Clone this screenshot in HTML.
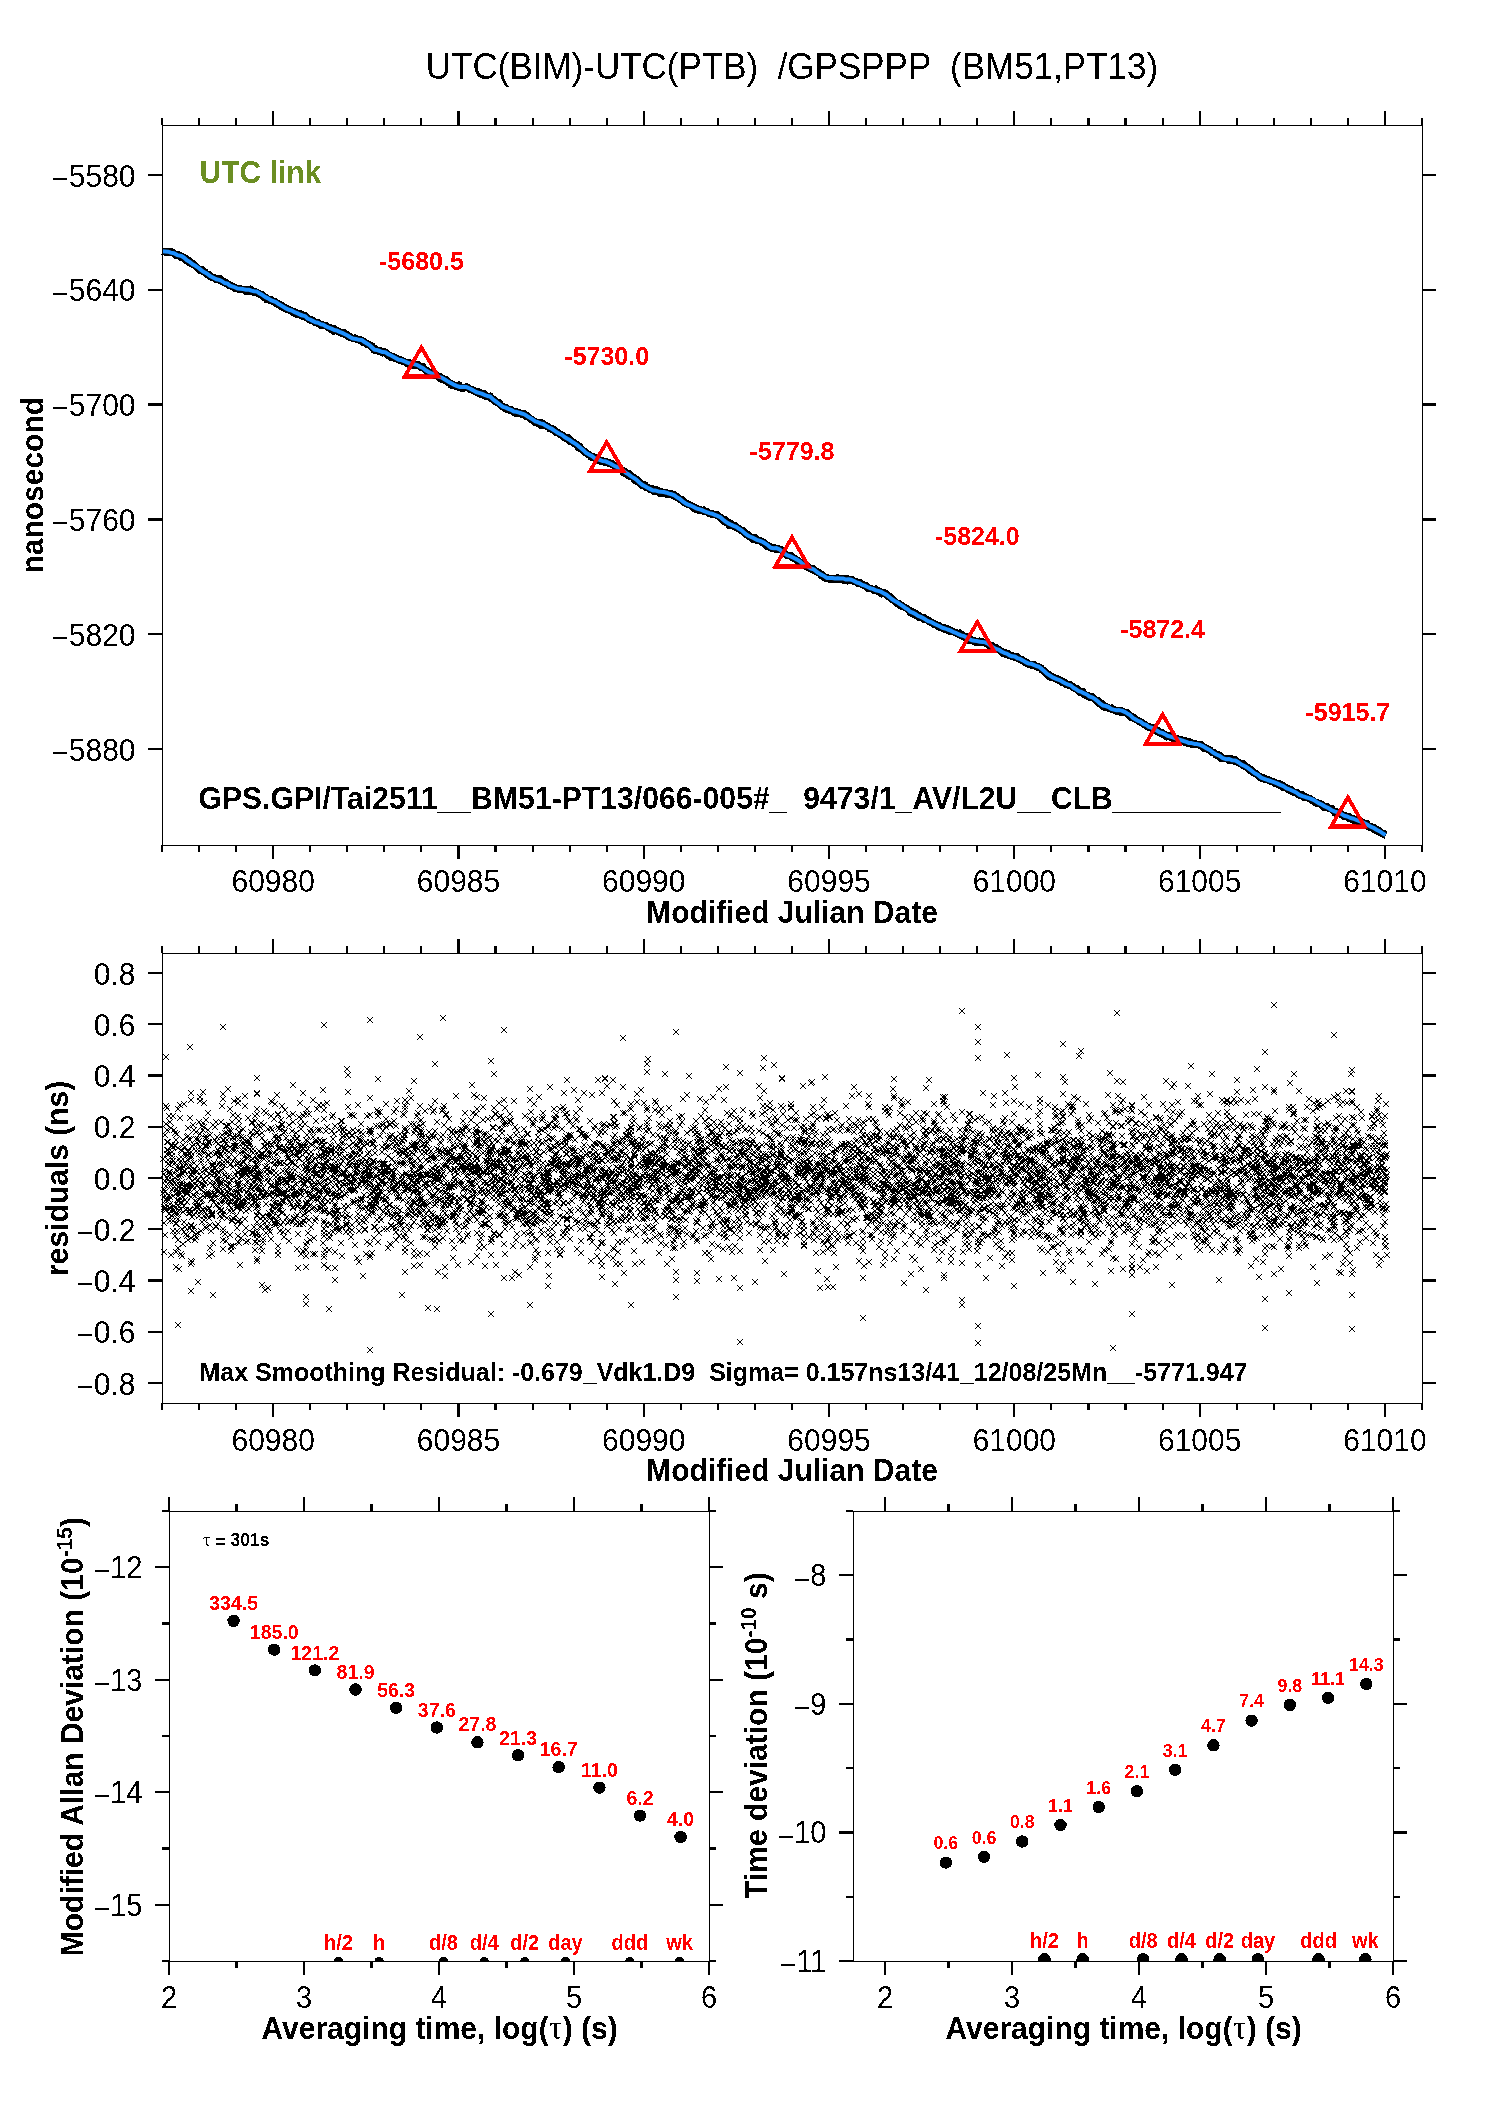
<!DOCTYPE html>
<html><head><meta charset="utf-8"><title>UTC(BIM)-UTC(PTB) GPSPPP</title>
<style>
html,body{margin:0;padding:0;background:#fff;overflow:hidden;}
svg{display:block;font-family:'Liberation Sans', Arial, Helvetica, sans-serif;}
</style></head><body>
<svg width="1488" height="2105" viewBox="0 0 1488 2105">
<defs><filter id="bin" x="0" y="0" width="1488" height="2105" filterUnits="userSpaceOnUse" color-interpolation-filters="sRGB"><feComponentTransfer><feFuncA type="discrete" tableValues="0 1"/></feComponentTransfer></filter></defs>
<rect width="1488" height="2105" fill="#fff"/>
<g filter="url(#bin)">
<text transform="translate(792.00,78.50) scale(1,1.075)" font-size="35" text-anchor="middle" style="white-space:pre">UTC(BIM)-UTC(PTB)  /GPSPPP  (BM51,PT13)</text>
<path d="M162.3 251.3 163.4 251.6 164.4 251.6 165.5 251.6 166.6 252.2 167.6 251.4 168.7 251.8 169.7 252.3 170.8 251.6 171.9 252.6 172.9 252.2 174.0 253.4 175.1 254.5 176.1 255.0 177.2 255.1 178.3 255.2 179.3 254.8 180.4 256.9 181.5 256.4 182.5 257.4 183.5 257.1 184.4 258.2 185.4 258.0 186.4 260.2 187.4 261.0 188.4 260.2 189.4 262.0 190.3 263.1 191.3 262.5 192.3 263.2 193.3 264.3 194.2 265.1 195.2 265.3 196.2 266.8 197.2 267.5 198.1 268.4 199.1 269.0 200.1 270.1 201.1 270.6 202.0 269.8 203.0 270.9 203.9 271.3 204.9 272.0 205.8 273.2 206.8 273.9 207.7 274.8 208.6 274.4 209.6 275.2 210.5 276.6 211.5 276.8 212.4 277.1 213.4 277.6 214.3 277.6 215.3 278.8 216.2 278.9 217.2 279.0 218.1 279.1 219.1 279.7 220.1 278.8 221.1 280.2 222.0 281.3 223.0 280.9 224.0 282.4 225.0 282.8 226.0 282.5 227.0 283.6 227.9 284.0 228.9 285.0 229.9 285.5 230.8 285.6 231.8 285.7 232.7 286.5 233.7 287.0 234.6 287.9 235.5 288.1 236.5 288.0 237.4 288.2 238.4 288.8 239.3 288.6 240.3 288.5 241.2 289.1 242.2 289.0 243.1 289.4 244.1 289.7 245.0 289.2 246.0 290.8 247.0 289.5 248.0 290.5 248.9 290.1 249.9 290.9 250.9 289.1 251.9 290.2 252.9 291.0 253.9 291.4 254.8 292.5 255.8 291.6 256.8 292.3 257.8 292.7 258.7 293.4 259.7 293.8 260.6 294.1 261.6 295.2 262.5 294.9 263.5 296.8 264.4 296.3 265.4 297.6 266.4 299.1 267.3 298.3 268.3 298.8 269.3 299.9 270.3 299.7 271.2 299.7 272.2 300.8 273.2 301.4 274.2 301.9 275.1 301.5 276.1 303.4 277.1 303.9 278.0 303.6 278.9 304.3 279.9 304.6 280.9 306.2 281.8 305.6 282.8 307.0 283.7 306.9 284.7 307.3 285.6 308.5 286.6 309.2 287.6 308.9 288.6 309.0 289.5 310.3 290.5 310.2 291.5 310.9 292.5 312.0 293.4 312.2 294.4 311.7 295.4 313.6 296.4 312.8 297.3 313.6 298.3 313.2 299.3 313.9 300.3 313.4 301.3 315.7 302.3 315.9 303.2 314.8 304.2 315.1 305.2 315.4 306.2 317.7 307.1 317.5 308.1 318.4 309.0 319.0 310.0 319.8 311.0 319.7 312.0 320.7 312.9 320.3 313.9 321.4 314.9 322.0 315.9 322.5 316.9 322.5 317.9 322.5 318.8 323.5 319.8 323.5 320.8 325.1 321.8 325.0 322.7 324.9 323.7 325.1 324.7 325.4 325.7 325.6 326.6 326.4 327.6 327.1 328.6 327.6 329.6 328.0 330.5 329.3 331.5 328.1 332.5 328.9 333.5 330.8 334.4 328.6 335.4 329.8 336.4 330.5 337.4 330.9 338.4 331.5 339.4 331.5 340.3 332.2 341.3 332.4 342.3 333.2 343.3 332.2 344.2 333.3 345.2 334.3 346.2 334.2 347.2 334.7 348.1 336.1 349.1 335.9 350.1 337.1 351.1 337.6 352.0 337.9 353.0 338.5 354.0 338.4 354.9 337.9 355.9 338.9 356.8 339.4 357.8 339.1 358.7 339.5 359.7 340.2 360.6 339.6 361.6 340.7 362.6 341.9 363.5 341.1 364.5 342.0 365.4 342.4 366.4 343.9 367.3 343.7 368.3 344.6 369.2 344.3 370.2 345.2 371.3 346.3 372.4 346.4 373.4 349.2 374.5 350.0 375.5 348.8 376.5 350.5 377.4 350.3 378.4 350.9 379.4 351.2 380.4 350.4 381.4 351.4 382.4 352.6 383.3 351.8 384.3 351.8 385.3 352.0 386.3 352.6 387.2 354.0 388.2 355.2 389.2 355.1 390.2 355.5 391.1 357.1 392.1 356.2 393.1 356.6 394.1 357.8 395.0 358.4 396.0 358.0 397.0 358.3 398.0 359.5 398.9 359.8 399.9 359.3 400.9 360.2 401.9 360.4 402.9 361.3 403.9 361.3 404.8 361.7 405.8 361.9 406.8 363.0 407.8 363.4 408.7 362.7 409.7 363.6 410.7 363.0 411.7 363.7 412.6 364.3 413.6 365.0 414.6 364.2 415.6 364.6 416.5 365.0 417.5 364.3 418.6 365.6 419.7 365.8 420.7 366.9 421.8 366.6 422.9 366.6 424.0 368.6 425.1 369.6 426.1 370.0 427.2 371.6 428.3 371.8 429.3 372.1 430.2 373.0 431.2 372.3 432.2 373.2 433.2 373.9 434.1 374.8 435.1 374.6 436.1 375.3 437.1 375.2 438.0 376.1 439.0 377.2 440.0 376.5 441.0 378.8 441.9 377.7 442.9 378.7 443.9 379.3 444.9 380.4 445.9 379.8 446.9 379.9 447.8 382.0 448.8 382.6 449.8 383.1 450.8 384.7 451.8 383.8 452.9 384.3 453.9 385.1 454.9 385.2 455.9 386.4 456.9 385.2 458.0 386.1 459.0 384.9 460.0 387.6 461.1 387.0 462.2 387.7 463.2 388.4 464.3 387.2 465.4 387.1 466.5 386.9 467.5 387.2 468.4 387.7 469.4 388.8 470.3 388.9 471.3 389.4 472.3 389.7 473.2 390.7 474.2 390.9 475.1 391.0 476.1 391.9 477.1 391.8 478.1 391.6 479.1 393.5 480.1 393.3 481.1 392.9 482.1 394.4 483.1 394.4 484.1 393.7 485.1 395.9 486.1 395.5 487.1 396.2 488.1 396.2 489.1 396.4 490.1 396.0 491.1 398.2 492.1 398.4 493.1 399.0 494.1 400.1 495.1 400.7 496.1 401.7 497.0 401.9 498.0 402.8 499.0 402.4 500.0 404.1 501.0 405.5 502.0 406.6 503.0 406.4 504.0 407.0 505.0 408.3 505.9 407.7 506.9 408.7 507.9 409.7 508.9 409.2 509.9 410.3 510.9 409.7 511.8 410.6 512.8 410.9 513.8 411.5 514.8 412.3 515.7 413.3 516.7 411.9 517.7 412.2 518.7 413.1 519.6 412.6 520.6 413.7 521.6 414.0 522.6 413.9 523.5 414.6 524.5 413.7 525.5 415.7 526.5 415.0 527.4 416.1 528.4 416.8 529.4 417.6 530.4 418.9 531.4 419.1 532.4 419.5 533.3 420.6 534.3 421.8 535.3 421.6 536.3 422.1 537.2 423.0 538.2 422.8 539.2 422.3 540.2 424.7 541.1 424.9 542.1 422.9 543.1 424.3 544.1 424.9 545.0 425.6 546.0 425.8 547.0 425.9 548.0 426.1 548.9 427.4 549.9 428.5 550.9 428.0 551.9 428.7 552.9 429.8 553.9 429.4 554.8 431.0 555.8 431.5 556.8 432.6 557.8 432.6 558.7 433.0 559.7 433.8 560.7 434.5 561.7 434.7 562.6 435.6 563.6 436.6 564.6 437.3 565.6 438.2 566.5 437.3 567.5 438.1 568.5 437.7 569.5 440.8 570.4 440.1 571.4 441.2 572.4 442.2 573.4 441.9 574.4 443.6 575.4 444.1 576.3 443.8 577.3 445.7 578.3 447.0 579.3 446.1 580.2 448.3 581.2 448.8 582.2 449.7 583.2 450.5 584.1 451.7 585.1 451.6 586.1 453.0 587.1 453.1 588.0 454.5 589.0 454.5 590.0 455.3 591.0 456.8 591.9 456.6 592.9 456.8 593.9 456.7 594.9 457.4 595.9 458.4 596.9 459.3 597.8 459.6 598.8 460.1 599.8 460.3 600.8 461.3 601.9 460.6 602.9 460.8 604.0 461.9 605.0 461.7 606.1 461.8 607.1 461.9 608.2 462.3 609.2 463.1 610.3 463.2 611.3 463.0 612.4 464.5 613.4 465.0 614.5 465.0 615.5 466.6 616.6 466.7 617.6 467.3 618.7 468.6 619.8 469.5 620.8 469.0 621.8 470.3 622.7 470.2 623.7 472.6 624.7 471.6 625.7 473.2 626.6 472.8 627.6 474.2 628.6 475.6 629.6 473.6 630.5 475.4 631.5 476.6 632.5 477.0 633.5 477.4 634.4 479.7 635.4 479.3 636.4 479.1 637.4 481.2 638.4 480.5 639.4 482.8 640.3 482.6 641.3 483.7 642.3 485.1 643.3 485.0 644.2 484.7 645.2 485.1 646.2 487.2 647.2 487.5 648.1 487.2 649.1 488.6 650.1 489.0 651.1 489.6 652.0 488.5 653.0 490.1 654.0 491.0 655.0 491.1 655.9 491.4 656.9 489.7 657.9 491.4 658.9 491.8 659.9 493.1 660.9 491.4 661.8 491.9 662.8 492.3 663.8 493.0 664.8 492.5 665.7 493.6 666.7 492.8 667.7 493.6 668.7 493.4 669.6 494.1 670.6 493.8 671.6 493.6 672.6 495.3 673.5 495.1 674.5 494.9 675.5 496.0 676.5 497.1 677.4 496.7 678.4 497.9 679.4 498.9 680.4 499.6 681.4 499.8 682.4 499.5 683.3 502.0 684.3 502.2 685.3 502.7 686.3 503.1 687.2 503.9 688.2 504.1 689.2 504.3 690.2 505.0 691.1 505.6 692.1 506.1 693.1 506.4 694.1 507.9 695.0 507.3 696.0 509.0 697.0 508.3 698.0 509.4 698.9 510.2 699.9 509.9 700.9 509.7 701.9 510.4 702.9 510.7 703.9 510.0 704.8 510.9 705.8 511.6 706.8 511.5 707.8 512.2 708.7 512.9 709.7 513.3 710.7 513.7 711.7 513.9 712.6 513.7 713.6 514.2 714.6 514.4 715.6 514.7 716.5 515.2 717.5 514.7 718.5 516.1 719.5 517.0 720.4 517.1 721.4 518.3 722.4 519.3 723.4 519.6 724.4 521.5 725.4 519.6 726.3 521.6 727.3 521.4 728.3 523.6 729.3 525.1 730.2 522.7 731.2 524.6 732.2 525.3 733.2 525.4 734.1 526.3 735.1 525.3 736.1 527.5 737.1 527.7 738.0 528.0 739.0 528.2 740.0 529.6 741.0 529.7 741.9 530.8 742.9 531.2 743.9 530.9 744.9 532.9 745.9 533.8 746.9 534.8 747.8 534.6 748.8 535.8 749.8 536.9 750.8 537.1 751.9 538.1 752.9 538.9 754.0 537.7 755.0 537.6 756.0 539.5 757.1 540.3 758.1 540.4 759.2 540.7 760.2 540.4 761.2 540.9 762.1 542.4 763.1 542.0 764.1 542.1 765.0 543.2 766.0 545.7 766.9 546.0 767.9 545.2 768.9 545.8 769.8 546.9 770.8 547.0 771.8 548.3 772.7 547.7 773.7 547.3 774.6 548.8 775.6 548.0 776.5 548.6 777.5 548.6 778.4 548.6 779.4 549.2 780.3 549.4 781.3 549.5 782.2 550.0 783.1 551.3 784.1 552.3 785.0 553.4 786.0 554.2 786.9 555.2 787.8 555.4 788.8 555.3 789.7 555.7 790.6 555.4 791.6 556.9 792.5 557.6 793.5 558.1 794.4 558.1 795.4 558.7 796.4 560.0 797.3 560.1 798.3 561.2 799.3 561.7 800.3 562.1 801.3 563.4 802.3 563.0 803.2 563.7 804.2 564.1 805.2 564.8 806.2 566.5 807.1 567.1 808.1 566.6 809.0 567.4 810.0 568.2 810.9 568.5 811.9 569.2 812.8 568.3 813.8 569.1 814.8 570.4 815.8 571.6 816.8 571.5 817.8 571.7 818.8 572.6 819.8 573.1 820.7 573.7 821.7 575.6 822.7 575.1 823.7 576.1 824.7 578.0 825.7 578.1 826.7 578.3 827.7 577.8 828.7 578.4 829.7 579.1 830.7 578.6 831.7 579.0 832.7 578.4 833.7 578.6 834.6 578.3 835.6 578.7 836.6 579.2 837.6 577.7 838.6 578.5 839.6 578.7 840.6 578.3 841.6 578.5 842.6 579.2 843.5 580.0 844.5 579.3 845.5 579.3 846.5 578.3 847.5 580.4 848.5 579.4 849.4 579.5 850.4 579.0 851.4 579.7 852.4 579.5 853.4 580.6 854.3 581.3 855.3 581.5 856.3 582.0 857.3 581.8 858.3 583.5 859.3 582.8 860.2 582.6 861.2 584.0 862.2 584.1 863.2 584.4 864.1 585.2 865.1 586.0 866.1 585.6 867.1 586.7 868.0 588.0 869.0 588.0 870.0 588.0 871.0 588.6 871.9 588.9 872.9 589.4 873.9 590.1 874.9 590.0 875.8 589.1 876.8 590.7 877.8 590.6 878.8 591.8 879.8 591.4 880.8 592.2 881.7 593.6 882.7 592.2 883.7 592.5 884.7 593.0 885.6 593.1 886.6 594.1 887.6 596.0 888.6 596.2 889.5 596.2 890.5 597.1 891.5 598.9 892.5 598.8 893.4 599.7 894.4 600.8 895.4 602.0 896.4 602.9 897.3 603.1 898.3 603.2 899.3 603.9 900.3 605.4 901.3 605.8 902.3 605.5 903.2 606.6 904.2 607.1 905.2 607.6 906.2 608.1 907.1 608.4 908.1 609.6 909.0 609.9 910.0 612.2 911.0 612.3 912.0 611.8 912.9 613.7 913.9 614.0 914.9 612.9 915.9 615.5 916.9 615.4 917.9 616.6 918.8 615.2 919.8 616.7 920.8 617.1 921.8 617.5 922.7 618.0 923.7 619.0 924.7 618.0 925.7 618.7 926.6 619.1 927.6 620.0 928.6 620.5 929.6 621.5 930.5 622.0 931.5 622.3 932.5 622.4 933.5 623.0 934.4 624.3 935.4 624.6 936.4 624.8 937.4 625.0 938.4 626.5 939.4 625.8 940.3 627.0 941.3 627.8 942.3 627.5 943.3 628.4 944.2 627.7 945.2 629.2 946.2 629.1 947.2 628.5 948.1 630.0 949.1 629.5 950.1 631.1 951.1 630.3 952.0 631.0 953.0 631.6 954.0 631.7 955.0 632.4 955.9 632.4 956.9 633.5 957.9 633.6 958.9 634.1 959.9 632.9 960.9 635.5 961.8 635.3 962.8 634.8 963.8 636.3 964.8 636.9 965.7 637.7 966.7 636.9 967.7 638.8 968.7 638.3 969.6 640.2 970.6 639.2 971.6 640.1 972.6 640.0 973.5 640.0 974.5 641.7 975.5 641.7 976.5 642.2 977.4 642.0 978.4 641.4 979.4 640.9 980.4 641.6 981.4 641.7 982.4 641.8 983.3 642.7 984.3 642.7 985.3 642.6 986.3 643.3 987.2 643.7 988.2 644.4 989.2 645.3 990.2 645.9 991.1 645.5 992.1 645.6 993.1 647.8 994.1 647.6 995.0 648.7 996.0 647.7 997.0 648.9 998.0 649.6 998.9 649.3 999.9 650.3 1000.9 651.5 1001.9 652.1 1002.9 652.9 1003.9 652.1 1004.8 652.2 1005.8 653.8 1006.8 654.5 1007.8 654.4 1008.7 654.0 1009.7 655.4 1010.7 655.8 1011.7 656.0 1012.6 655.8 1013.6 656.5 1014.6 657.1 1015.6 656.7 1016.5 656.3 1017.5 657.9 1018.5 658.5 1019.5 658.7 1020.4 659.7 1021.4 659.3 1022.4 660.1 1023.4 660.5 1024.4 661.5 1025.4 662.5 1026.3 662.0 1027.3 663.7 1028.3 663.9 1029.3 663.9 1030.2 664.1 1031.2 665.1 1032.2 664.4 1033.2 664.8 1034.1 664.6 1035.1 665.8 1036.1 666.6 1037.1 666.5 1038.0 666.8 1039.0 666.8 1040.0 667.8 1041.0 667.8 1041.9 670.0 1042.9 670.0 1043.9 670.4 1044.9 671.5 1045.9 672.2 1046.9 674.0 1047.8 674.9 1048.8 674.4 1049.8 676.5 1050.8 677.0 1051.9 676.7 1052.9 676.7 1054.0 677.6 1055.0 678.1 1056.0 679.1 1057.1 679.2 1058.1 678.8 1059.2 680.5 1060.2 680.1 1061.2 681.8 1062.1 681.1 1063.1 681.9 1064.1 682.2 1065.0 682.8 1066.0 684.3 1066.9 684.5 1067.9 684.8 1068.9 685.1 1069.8 684.5 1070.8 685.5 1071.8 686.1 1072.7 686.4 1073.7 687.9 1074.7 687.8 1075.7 688.4 1076.6 688.8 1077.6 688.8 1078.6 690.9 1079.6 691.9 1080.5 691.8 1081.5 691.8 1082.5 691.3 1083.5 693.4 1084.4 694.4 1085.4 694.4 1086.4 695.2 1087.4 696.0 1088.4 696.3 1089.4 695.9 1090.3 697.2 1091.3 697.5 1092.3 696.8 1093.3 698.1 1094.2 698.2 1095.2 699.6 1096.2 700.7 1097.2 700.5 1098.1 700.6 1099.1 703.2 1100.1 703.3 1101.1 704.6 1102.0 703.8 1103.0 705.8 1104.0 706.7 1105.0 707.1 1105.9 706.3 1106.9 706.9 1107.9 707.1 1108.9 708.1 1109.9 708.5 1110.9 708.4 1111.8 708.0 1112.8 709.5 1113.8 709.2 1114.8 710.0 1115.7 710.0 1116.7 711.0 1117.7 710.9 1118.7 710.2 1119.6 710.8 1120.6 711.8 1121.6 710.7 1122.6 711.5 1123.5 712.1 1124.5 712.3 1125.5 712.6 1126.5 712.2 1127.4 713.0 1128.4 714.5 1129.4 715.2 1130.4 717.1 1131.4 715.9 1132.4 717.7 1133.3 718.2 1134.3 717.5 1135.3 718.6 1136.3 719.7 1137.2 719.9 1138.2 720.7 1139.2 721.5 1140.2 721.4 1141.1 722.6 1142.1 722.6 1143.1 723.2 1144.1 724.3 1145.0 724.2 1146.0 725.3 1147.0 726.5 1148.0 726.1 1148.9 726.5 1149.9 727.4 1150.9 727.3 1151.9 728.6 1152.9 727.8 1153.9 729.3 1154.8 729.2 1155.8 729.5 1156.8 731.4 1157.8 730.4 1158.7 732.3 1159.7 732.2 1160.7 733.2 1161.7 732.3 1162.6 734.0 1163.6 734.6 1164.6 734.3 1165.6 734.7 1166.5 736.7 1167.5 735.9 1168.5 735.9 1169.5 736.1 1170.4 737.1 1171.4 737.4 1172.4 737.6 1173.4 738.8 1174.4 738.0 1175.4 738.8 1176.3 739.7 1177.3 738.7 1178.3 740.2 1179.3 740.9 1180.2 739.4 1181.2 739.9 1182.2 740.2 1183.2 740.0 1184.1 741.6 1185.1 740.6 1186.1 742.2 1187.1 743.0 1188.0 741.6 1189.0 742.6 1190.0 741.9 1191.0 743.6 1191.9 743.0 1192.9 743.4 1193.9 743.8 1194.9 744.2 1195.9 743.9 1196.9 744.3 1197.8 744.2 1198.8 744.8 1199.8 744.3 1200.8 745.5 1201.9 745.0 1202.9 746.4 1204.0 748.3 1205.0 747.8 1206.0 747.7 1207.1 749.1 1208.1 749.0 1209.2 749.2 1210.2 750.3 1211.2 751.7 1212.1 752.0 1213.1 752.4 1214.1 752.5 1215.0 753.0 1216.0 754.9 1217.0 754.8 1218.0 754.7 1218.9 754.7 1219.9 755.6 1220.9 758.3 1221.8 756.9 1222.8 758.1 1223.8 758.4 1224.8 758.4 1225.7 758.5 1226.7 758.1 1227.7 758.5 1228.7 760.2 1229.6 759.0 1230.6 760.1 1231.6 758.9 1232.6 759.9 1233.5 760.4 1234.5 761.0 1235.5 760.0 1236.5 761.5 1237.5 762.0 1238.5 762.0 1239.4 763.2 1240.4 763.1 1241.4 763.7 1242.4 764.7 1243.4 763.8 1244.4 765.9 1245.3 766.0 1246.3 766.3 1247.3 767.5 1248.3 768.7 1249.3 768.8 1250.3 770.4 1251.3 769.7 1252.2 770.3 1253.2 772.6 1254.2 772.7 1255.2 773.7 1256.2 773.4 1257.2 775.0 1258.1 775.4 1259.1 776.3 1260.1 776.6 1261.1 778.0 1262.1 777.3 1263.1 777.6 1264.1 777.7 1265.0 779.5 1266.0 778.9 1267.0 779.1 1268.0 779.5 1269.0 780.2 1270.0 780.1 1270.9 781.1 1271.9 781.3 1272.9 781.7 1273.9 781.9 1274.9 782.9 1275.9 783.0 1276.8 783.8 1277.8 784.3 1278.8 784.8 1279.8 783.8 1280.7 785.2 1281.7 785.5 1282.7 786.8 1283.7 785.9 1284.6 786.8 1285.6 787.5 1286.6 787.9 1287.6 789.1 1288.6 788.8 1289.6 790.1 1290.5 789.3 1291.5 789.6 1292.5 791.7 1293.5 791.8 1294.5 792.3 1295.5 792.6 1296.4 793.3 1297.4 792.8 1298.4 794.5 1299.4 794.2 1300.4 795.4 1301.4 795.3 1302.4 794.6 1303.3 795.4 1304.3 797.1 1305.3 796.8 1306.3 797.0 1307.3 797.8 1308.3 797.8 1309.2 798.1 1310.2 798.9 1311.2 799.3 1312.2 800.4 1313.2 800.2 1314.2 801.7 1315.1 802.2 1316.1 802.7 1317.1 802.9 1318.1 802.9 1319.0 803.4 1320.0 803.8 1321.0 804.0 1322.0 804.9 1322.9 805.2 1323.9 807.0 1324.9 806.9 1325.9 806.8 1326.9 806.4 1327.9 807.9 1328.8 808.2 1329.8 808.2 1330.8 808.7 1331.8 808.5 1332.8 810.5 1333.8 810.6 1334.7 812.5 1335.7 811.5 1336.7 811.9 1337.7 813.2 1338.7 812.9 1339.7 813.4 1340.7 813.5 1341.6 813.8 1342.6 815.4 1343.6 815.6 1344.6 816.4 1345.6 815.7 1346.6 816.4 1347.5 816.3 1348.5 817.8 1349.5 816.9 1350.5 818.4 1351.5 819.0 1352.5 819.6 1353.5 818.6 1354.4 820.1 1355.4 819.4 1356.4 819.8 1357.4 819.8 1358.4 821.5 1359.4 822.1 1360.3 821.2 1361.3 821.5 1362.3 822.1 1363.3 824.0 1364.3 823.7 1365.3 823.4 1366.4 823.3 1367.4 824.5 1368.4 826.1 1369.4 827.0 1370.4 826.4 1371.5 826.8 1372.5 827.4 1373.5 827.3 1374.5 829.4 1375.5 828.8 1376.5 830.6 1377.5 829.6 1378.5 830.4 1379.5 831.8 1380.5 831.8 1381.5 833.2 1382.5 833.3 1383.5 833.2 1384.5 834.8 1385.5 835.0" fill="none" stroke="#000" stroke-width="7.4" stroke-linejoin="round" transform="translate(0,0.15)"/>
<path d="M162.3 251.3 165.1 251.5 168.0 251.7 170.8 252.6 174.0 253.3 177.2 255.1 181.5 256.0 184.2 257.7 186.9 260.2 189.6 261.7 192.3 264.1 195.0 265.5 197.7 267.3 200.3 269.4 203.0 271.5 206.8 273.5 210.5 276.3 213.4 277.8 216.2 279.2 219.1 279.9 221.8 281.0 224.5 283.0 227.2 283.4 229.9 285.6 233.7 286.8 237.4 288.5 240.3 288.7 243.1 289.1 246.0 289.8 248.7 289.7 251.4 290.6 254.1 291.2 256.8 291.5 259.7 293.6 262.5 295.1 265.4 297.1 268.1 298.4 270.8 300.1 273.4 301.1 276.1 302.2 278.6 304.1 281.2 305.6 283.7 307.0 286.4 308.7 289.0 309.8 291.7 310.5 294.4 312.1 297.1 313.1 299.8 314.5 302.5 315.5 305.2 316.1 307.6 318.6 310.0 319.5 312.7 320.9 315.4 322.3 318.1 322.8 320.8 324.2 323.5 324.8 326.1 326.5 328.8 327.7 331.5 328.6 334.2 330.0 336.9 330.5 339.6 331.9 342.3 332.9 345.0 334.2 347.6 335.5 350.3 337.2 353.0 338.6 355.9 338.9 358.7 339.8 361.6 339.9 364.5 342.1 367.3 343.7 370.2 345.7 374.5 349.8 377.2 350.1 379.9 351.0 382.6 352.1 385.3 352.2 388.0 354.1 390.6 355.3 393.3 356.7 396.0 358.2 398.7 359.8 401.4 360.1 404.1 361.2 406.8 362.3 409.5 363.4 412.1 363.3 414.8 364.4 417.5 365.1 420.2 366.8 422.9 368.0 425.6 370.2 428.3 371.8 431.0 373.0 433.6 374.0 436.3 375.6 439.0 376.8 441.7 377.6 444.4 379.2 447.1 380.9 449.8 382.5 453.2 384.3 456.6 385.8 460.0 387.0 463.2 386.7 466.5 387.1 469.7 388.5 472.9 390.1 476.1 392.0 478.9 392.8 481.7 393.7 484.5 394.9 487.3 396.0 490.1 396.5 493.3 399.7 496.6 402.0 499.8 404.5 503.0 406.9 505.7 407.7 508.4 408.9 511.1 409.8 513.8 411.5 516.5 411.8 519.1 412.6 521.8 413.5 524.5 414.3 527.2 416.2 529.9 417.7 532.6 419.4 535.3 421.3 538.0 422.2 540.6 423.4 543.3 424.0 546.0 425.8 548.7 427.3 551.4 428.5 554.1 430.4 556.8 432.2 559.5 433.7 562.1 435.0 564.8 437.2 567.5 438.8 570.2 440.3 572.9 442.3 575.6 443.9 578.3 445.9 581.0 448.3 583.6 450.4 586.3 453.1 589.0 454.6 591.7 455.8 594.4 458.1 597.1 459.0 599.8 459.9 602.4 461.0 605.0 461.2 607.7 462.4 610.3 463.5 612.9 465.0 615.5 466.4 618.2 467.6 620.8 469.3 623.5 470.8 626.1 473.1 628.8 474.6 631.5 476.6 634.2 478.2 636.9 480.1 639.6 482.7 642.3 484.9 645.0 486.2 647.6 487.7 650.3 489.1 653.0 490.5 655.7 490.6 658.4 491.4 661.1 491.8 663.8 492.0 666.5 492.7 669.1 493.6 671.8 494.3 674.5 495.4 677.2 497.5 679.9 498.9 682.6 501.3 685.3 503.2 688.0 504.6 690.6 505.5 693.3 506.8 696.0 508.3 698.7 509.1 701.4 509.9 704.1 511.1 706.8 512.2 709.5 513.1 712.1 513.7 714.8 514.8 717.5 515.9 720.2 517.1 722.9 519.5 725.6 521.6 728.3 523.4 731.0 524.7 733.6 525.8 736.3 526.8 739.0 528.8 741.7 530.4 744.4 532.9 747.1 535.0 749.8 536.5 753.3 537.9 756.7 539.8 760.2 540.9 762.9 542.0 765.5 543.7 768.1 545.4 770.8 547.8 773.7 548.2 776.5 548.1 779.4 549.3 783.1 552.4 786.9 555.1 790.6 556.4 794.4 558.2 797.1 559.6 799.8 561.2 802.5 563.9 805.2 565.3 808.1 566.7 810.9 568.5 813.8 569.4 817.0 572.0 820.2 574.1 823.5 575.7 826.7 577.9 829.5 578.0 832.3 578.0 835.0 578.5 837.8 578.3 840.6 578.5 843.3 578.5 846.0 579.6 848.7 579.3 851.4 579.7 854.1 581.0 856.8 582.5 859.5 583.2 862.2 584.9 864.9 585.7 867.5 587.0 870.2 588.2 872.9 588.9 875.6 590.3 878.3 590.9 881.0 591.7 883.7 593.4 886.4 594.6 889.0 596.8 891.7 599.0 894.4 600.7 897.1 602.2 899.8 604.1 902.5 605.9 905.2 607.9 907.6 609.2 910.0 611.6 912.7 612.6 915.4 614.0 918.1 615.8 920.8 616.9 923.5 618.3 926.1 619.9 928.8 621.4 931.5 622.2 934.2 623.7 936.9 625.0 939.6 626.3 942.3 627.8 945.0 628.5 947.6 629.5 950.3 630.4 953.0 631.8 955.7 632.8 958.4 634.2 961.1 635.4 963.8 636.0 966.5 637.5 969.1 639.1 971.8 640.2 974.5 640.7 977.2 641.1 979.9 641.8 982.6 641.9 985.3 642.4 988.0 643.7 990.6 645.8 993.3 647.4 996.0 649.0 998.7 649.6 1001.4 651.5 1004.1 652.8 1006.8 653.6 1009.5 655.3 1012.1 656.3 1014.8 656.5 1017.5 658.2 1020.2 658.9 1022.9 660.4 1025.6 662.2 1028.3 663.4 1031.0 663.7 1033.7 664.9 1036.3 666.0 1039.0 666.7 1041.7 668.9 1044.4 671.3 1047.1 673.9 1049.8 675.5 1053.3 677.7 1056.7 679.2 1060.2 680.4 1062.8 682.0 1065.5 683.5 1068.2 684.6 1070.8 685.4 1073.5 687.9 1076.2 689.3 1078.8 691.1 1081.5 691.9 1084.2 693.4 1086.9 694.5 1089.6 696.6 1092.3 697.4 1095.0 699.1 1097.7 701.3 1100.3 703.7 1103.0 705.5 1105.7 706.0 1108.4 707.0 1111.1 708.8 1113.8 709.6 1116.5 710.2 1119.2 710.1 1121.8 710.6 1124.5 711.8 1127.2 713.4 1129.9 714.9 1132.6 717.7 1135.3 719.2 1138.0 720.9 1140.7 721.7 1143.3 724.0 1146.0 724.7 1148.7 726.8 1151.4 727.7 1154.1 728.9 1156.8 730.5 1159.5 732.2 1162.2 732.9 1164.8 734.1 1167.5 735.8 1170.2 736.5 1172.9 737.3 1175.6 738.3 1178.3 739.2 1181.0 740.1 1183.7 741.0 1186.3 741.8 1189.0 743.1 1191.7 743.1 1194.4 743.9 1197.1 744.1 1199.8 744.7 1203.3 746.4 1206.7 748.5 1210.2 750.2 1213.3 752.8 1216.5 754.5 1219.7 755.9 1222.8 758.1 1226.0 759.2 1229.2 759.0 1232.3 760.3 1235.5 760.5 1238.7 762.5 1241.9 764.8 1245.1 766.3 1248.3 768.3 1251.5 770.7 1254.7 773.3 1257.9 774.9 1261.1 777.6 1264.3 778.8 1267.5 780.0 1270.7 781.0 1273.9 782.2 1277.1 783.4 1280.2 784.9 1283.4 786.2 1286.6 788.3 1289.8 789.5 1293.0 791.0 1296.2 792.5 1299.4 794.8 1302.6 796.1 1305.8 797.2 1309.0 798.1 1312.2 799.3 1315.4 801.1 1318.6 803.1 1321.7 804.5 1324.9 806.5 1328.1 807.8 1331.3 810.0 1334.5 811.4 1337.7 812.4 1340.9 813.6 1344.1 815.7 1347.3 816.5 1350.5 818.0 1353.7 818.7 1356.9 820.2 1360.1 821.4 1363.3 822.6 1366.7 824.2 1370.1 826.4 1373.5 827.8 1376.5 829.7 1379.5 831.2 1382.5 833.2 1385.5 835.0" fill="none" stroke="#1E90FF" stroke-width="4.0" stroke-linejoin="round"/>
<path d="M421.41 347.39L438.21 376.49L404.61 376.49Z" fill="none" stroke="#FF0000" stroke-width="3.8"/>
<text transform="translate(421.41,270.49) scale(1,1.06)" font-size="25" font-weight="bold" text-anchor="middle" fill="#FF0000">-5680.5</text>
<path d="M606.71 442.10L623.51 471.20L589.91 471.20Z" fill="none" stroke="#FF0000" stroke-width="3.8"/>
<text transform="translate(606.71,365.20) scale(1,1.06)" font-size="25" font-weight="bold" text-anchor="middle" fill="#FF0000">-5730.0</text>
<path d="M792.00 537.39L808.80 566.48L775.20 566.48Z" fill="none" stroke="#FF0000" stroke-width="3.8"/>
<text transform="translate(792.00,460.48) scale(1,1.06)" font-size="25" font-weight="bold" text-anchor="middle" fill="#FF0000">-5779.8</text>
<path d="M977.29 621.95L994.09 651.05L960.49 651.05Z" fill="none" stroke="#FF0000" stroke-width="3.8"/>
<text transform="translate(977.29,545.05) scale(1,1.06)" font-size="25" font-weight="bold" text-anchor="middle" fill="#FF0000">-5824.0</text>
<path d="M1162.59 714.56L1179.39 743.66L1145.79 743.66Z" fill="none" stroke="#FF0000" stroke-width="3.8"/>
<text transform="translate(1162.59,637.66) scale(1,1.06)" font-size="25" font-weight="bold" text-anchor="middle" fill="#FF0000">-5872.4</text>
<path d="M1347.88 797.41L1364.68 826.51L1331.08 826.51Z" fill="none" stroke="#FF0000" stroke-width="3.8"/>
<text transform="translate(1347.88,720.51) scale(1,1.06)" font-size="25" font-weight="bold" text-anchor="middle" fill="#FF0000">-5915.7</text>
<text transform="translate(199.50,183.00) scale(1,1.06)" font-size="30" font-weight="bold" text-anchor="start" fill="#6B8E23">UTC link</text>
<text transform="translate(198.50,809.30) scale(1,1.06)" font-size="30" font-weight="bold" text-anchor="start" fill="#000" style="white-space:pre" textLength="1082" lengthAdjust="spacing">GPS.GPI/Tai2511__BM51-PT13/066-005#_  9473/1_AV/L2U__CLB__________</text>
<rect x="162.5" y="125.5" width="1260.0" height="720.0" fill="none" stroke="#000" stroke-width="1"/>
<path d="M162 125L162 118M162 845L162 852M199.1 125L199.1 118M199.1 845L199.1 852M236.1 125L236.1 118M236.1 845L236.1 852M273.2 125L273.2 111M273.2 845L273.2 859M310.2 125L310.2 118M310.2 845L310.2 852M347.3 125L347.3 118M347.3 845L347.3 852M384.4 125L384.4 118M384.4 845L384.4 852M421.4 125L421.4 118M421.4 845L421.4 852M458.5 125L458.5 111M458.5 845L458.5 859M495.5 125L495.5 118M495.5 845L495.5 852M532.6 125L532.6 118M532.6 845L532.6 852M569.6 125L569.6 118M569.6 845L569.6 852M606.7 125L606.7 118M606.7 845L606.7 852M643.8 125L643.8 111M643.8 845L643.8 859M680.8 125L680.8 118M680.8 845L680.8 852M717.9 125L717.9 118M717.9 845L717.9 852M754.9 125L754.9 118M754.9 845L754.9 852M792 125L792 118M792 845L792 852M829.1 125L829.1 111M829.1 845L829.1 859M866.1 125L866.1 118M866.1 845L866.1 852M903.2 125L903.2 118M903.2 845L903.2 852M940.2 125L940.2 118M940.2 845L940.2 852M977.3 125L977.3 118M977.3 845L977.3 852M1014.4 125L1014.4 111M1014.4 845L1014.4 859M1051.4 125L1051.4 118M1051.4 845L1051.4 852M1088.5 125L1088.5 118M1088.5 845L1088.5 852M1125.5 125L1125.5 118M1125.5 845L1125.5 852M1162.6 125L1162.6 118M1162.6 845L1162.6 852M1199.6 125L1199.6 111M1199.6 845L1199.6 859M1236.7 125L1236.7 118M1236.7 845L1236.7 852M1273.8 125L1273.8 118M1273.8 845L1273.8 852M1310.8 125L1310.8 118M1310.8 845L1310.8 852M1347.9 125L1347.9 118M1347.9 845L1347.9 852M1384.9 125L1384.9 111M1384.9 845L1384.9 859M1422 125L1422 118M1422 845L1422 852M148 175L162 175M1422 175L1436 175M148 289.8L162 289.8M1422 289.8L1436 289.8M148 404.6L162 404.6M1422 404.6L1436 404.6M148 519.4L162 519.4M1422 519.4L1436 519.4M148 634.2L162 634.2M1422 634.2L1436 634.2M148 749L162 749M1422 749L1436 749" stroke="#000" stroke-width="2" fill="none"/>
<text transform="translate(273.18,892.30) scale(1,1.075)" font-size="30" text-anchor="middle">60980</text>
<text transform="translate(458.47,892.30) scale(1,1.075)" font-size="30" text-anchor="middle">60985</text>
<text transform="translate(643.76,892.30) scale(1,1.075)" font-size="30" text-anchor="middle">60990</text>
<text transform="translate(829.06,892.30) scale(1,1.075)" font-size="30" text-anchor="middle">60995</text>
<text transform="translate(1014.35,892.30) scale(1,1.075)" font-size="30" text-anchor="middle">61000</text>
<text transform="translate(1199.65,892.30) scale(1,1.075)" font-size="30" text-anchor="middle">61005</text>
<text transform="translate(1384.94,892.30) scale(1,1.075)" font-size="30" text-anchor="middle">61010</text>
<text transform="translate(135.50,186.50) scale(1,1.075)" font-size="30" text-anchor="end"><tspan dy="3">−</tspan><tspan dy="-3">5580</tspan></text>
<text transform="translate(135.50,301.30) scale(1,1.075)" font-size="30" text-anchor="end"><tspan dy="3">−</tspan><tspan dy="-3">5640</tspan></text>
<text transform="translate(135.50,416.10) scale(1,1.075)" font-size="30" text-anchor="end"><tspan dy="3">−</tspan><tspan dy="-3">5700</tspan></text>
<text transform="translate(135.50,530.90) scale(1,1.075)" font-size="30" text-anchor="end"><tspan dy="3">−</tspan><tspan dy="-3">5760</tspan></text>
<text transform="translate(135.50,645.70) scale(1,1.075)" font-size="30" text-anchor="end"><tspan dy="3">−</tspan><tspan dy="-3">5820</tspan></text>
<text transform="translate(135.50,760.50) scale(1,1.075)" font-size="30" text-anchor="end"><tspan dy="3">−</tspan><tspan dy="-3">5880</tspan></text>
<text transform="translate(792.00,923.20) scale(1,1.06)" font-size="30" font-weight="bold" text-anchor="middle" fill="#000">Modified Julian Date</text>
<text transform="translate(43,485.3) rotate(-90) scale(1,1.06)" font-size="30" font-weight="bold" text-anchor="middle">nanosecond</text>
<path d="M161 1249l6 6m0 -6l-6 6M161 1204l6 6m0 -6l-6 6M161 1194l6 6m0 -6l-6 6M161 1187l6 6m0 -6l-6 6M161 1171l6 6m0 -6l-6 6M160 1190l6 6m0 -6l-6 6M160 1156l6 6m0 -6l-6 6M162 1232l6 6m0 -6l-6 6M161 1206l6 6m0 -6l-6 6M161 1220l6 6m0 -6l-6 6M162 1189l6 6m0 -6l-6 6M162 1178l6 6m0 -6l-6 6M162 1132l6 6m0 -6l-6 6M162 1167l6 6m0 -6l-6 6M163 1202l6 6m0 -6l-6 6M163 1207l6 6m0 -6l-6 6M163 1197l6 6m0 -6l-6 6M163 1054l6 6m0 -6l-6 6M163 1183l6 6m0 -6l-6 6M163 1205l6 6m0 -6l-6 6M163 1121l6 6m0 -6l-6 6M164 1147l6 6m0 -6l-6 6M163 1103l6 6m0 -6l-6 6M164 1195l6 6m0 -6l-6 6M164 1139l6 6m0 -6l-6 6M164 1198l6 6m0 -6l-6 6M164 1127l6 6m0 -6l-6 6M164 1151l6 6m0 -6l-6 6M165 1216l6 6m0 -6l-6 6M164 1105l6 6m0 -6l-6 6M164 1175l6 6m0 -6l-6 6M165 1161l6 6m0 -6l-6 6M165 1157l6 6m0 -6l-6 6M165 1139l6 6m0 -6l-6 6M165 1177l6 6m0 -6l-6 6M166 1192l6 6m0 -6l-6 6M166 1169l6 6m0 -6l-6 6M166 1151l6 6m0 -6l-6 6M166 1197l6 6m0 -6l-6 6M166 1113l6 6m0 -6l-6 6M165 1147l6 6m0 -6l-6 6M166 1211l6 6m0 -6l-6 6M167 1178l6 6m0 -6l-6 6M167 1119l6 6m0 -6l-6 6M167 1162l6 6m0 -6l-6 6M167 1169l6 6m0 -6l-6 6M167 1201l6 6m0 -6l-6 6M167 1194l6 6m0 -6l-6 6M167 1218l6 6m0 -6l-6 6M167 1171l6 6m0 -6l-6 6M168 1125l6 6m0 -6l-6 6M168 1208l6 6m0 -6l-6 6M168 1180l6 6m0 -6l-6 6M168 1252l6 6m0 -6l-6 6M168 1143l6 6m0 -6l-6 6M167 1205l6 6m0 -6l-6 6M169 1153l6 6m0 -6l-6 6M169 1181l6 6m0 -6l-6 6M169 1156l6 6m0 -6l-6 6M169 1213l6 6m0 -6l-6 6M169 1177l6 6m0 -6l-6 6M169 1187l6 6m0 -6l-6 6M169 1149l6 6m0 -6l-6 6M170 1218l6 6m0 -6l-6 6M170 1144l6 6m0 -6l-6 6M169 1172l6 6m0 -6l-6 6M170 1158l6 6m0 -6l-6 6M169 1142l6 6m0 -6l-6 6M170 1228l6 6m0 -6l-6 6M170 1113l6 6m0 -6l-6 6M170 1193l6 6m0 -6l-6 6M170 1185l6 6m0 -6l-6 6M171 1127l6 6m0 -6l-6 6M170 1206l6 6m0 -6l-6 6M171 1203l6 6m0 -6l-6 6M171 1207l6 6m0 -6l-6 6M171 1161l6 6m0 -6l-6 6M172 1175l6 6m0 -6l-6 6M172 1180l6 6m0 -6l-6 6M172 1233l6 6m0 -6l-6 6M172 1209l6 6m0 -6l-6 6M172 1130l6 6m0 -6l-6 6M172 1233l6 6m0 -6l-6 6M172 1142l6 6m0 -6l-6 6M173 1211l6 6m0 -6l-6 6M172 1143l6 6m0 -6l-6 6M173 1249l6 6m0 -6l-6 6M173 1264l6 6m0 -6l-6 6M173 1220l6 6m0 -6l-6 6M173 1137l6 6m0 -6l-6 6M173 1167l6 6m0 -6l-6 6M174 1186l6 6m0 -6l-6 6M174 1197l6 6m0 -6l-6 6M174 1173l6 6m0 -6l-6 6M174 1228l6 6m0 -6l-6 6M173 1221l6 6m0 -6l-6 6M174 1190l6 6m0 -6l-6 6M174 1131l6 6m0 -6l-6 6M175 1198l6 6m0 -6l-6 6M175 1211l6 6m0 -6l-6 6M175 1188l6 6m0 -6l-6 6M175 1198l6 6m0 -6l-6 6M175 1106l6 6m0 -6l-6 6M175 1216l6 6m0 -6l-6 6M175 1184l6 6m0 -6l-6 6M176 1156l6 6m0 -6l-6 6M176 1198l6 6m0 -6l-6 6M176 1266l6 6m0 -6l-6 6M176 1204l6 6m0 -6l-6 6M176 1166l6 6m0 -6l-6 6M176 1207l6 6m0 -6l-6 6M176 1207l6 6m0 -6l-6 6M176 1190l6 6m0 -6l-6 6M177 1171l6 6m0 -6l-6 6M177 1115l6 6m0 -6l-6 6M177 1159l6 6m0 -6l-6 6M176 1173l6 6m0 -6l-6 6M177 1183l6 6m0 -6l-6 6M177 1102l6 6m0 -6l-6 6M177 1166l6 6m0 -6l-6 6M178 1199l6 6m0 -6l-6 6M178 1200l6 6m0 -6l-6 6M178 1147l6 6m0 -6l-6 6M178 1251l6 6m0 -6l-6 6M177 1195l6 6m0 -6l-6 6M178 1172l6 6m0 -6l-6 6M179 1162l6 6m0 -6l-6 6M179 1148l6 6m0 -6l-6 6M179 1226l6 6m0 -6l-6 6M179 1182l6 6m0 -6l-6 6M178 1154l6 6m0 -6l-6 6M179 1253l6 6m0 -6l-6 6M179 1179l6 6m0 -6l-6 6M180 1194l6 6m0 -6l-6 6M180 1209l6 6m0 -6l-6 6M180 1142l6 6m0 -6l-6 6M180 1137l6 6m0 -6l-6 6M180 1189l6 6m0 -6l-6 6M180 1187l6 6m0 -6l-6 6M180 1241l6 6m0 -6l-6 6M181 1101l6 6m0 -6l-6 6M181 1229l6 6m0 -6l-6 6M181 1168l6 6m0 -6l-6 6M181 1203l6 6m0 -6l-6 6M181 1183l6 6m0 -6l-6 6M181 1164l6 6m0 -6l-6 6M180 1171l6 6m0 -6l-6 6M181 1219l6 6m0 -6l-6 6M182 1168l6 6m0 -6l-6 6M182 1197l6 6m0 -6l-6 6M182 1162l6 6m0 -6l-6 6M182 1159l6 6m0 -6l-6 6M182 1144l6 6m0 -6l-6 6M182 1224l6 6m0 -6l-6 6M183 1151l6 6m0 -6l-6 6M183 1161l6 6m0 -6l-6 6M183 1183l6 6m0 -6l-6 6M183 1231l6 6m0 -6l-6 6M183 1207l6 6m0 -6l-6 6M183 1188l6 6m0 -6l-6 6M183 1153l6 6m0 -6l-6 6M184 1191l6 6m0 -6l-6 6M184 1199l6 6m0 -6l-6 6M184 1187l6 6m0 -6l-6 6M184 1183l6 6m0 -6l-6 6M184 1181l6 6m0 -6l-6 6M184 1233l6 6m0 -6l-6 6M184 1134l6 6m0 -6l-6 6M185 1133l6 6m0 -6l-6 6M185 1157l6 6m0 -6l-6 6M185 1149l6 6m0 -6l-6 6M184 1189l6 6m0 -6l-6 6M185 1237l6 6m0 -6l-6 6M185 1148l6 6m0 -6l-6 6M185 1185l6 6m0 -6l-6 6M185 1152l6 6m0 -6l-6 6M186 1174l6 6m0 -6l-6 6M186 1183l6 6m0 -6l-6 6M186 1188l6 6m0 -6l-6 6M186 1207l6 6m0 -6l-6 6M185 1125l6 6m0 -6l-6 6M186 1136l6 6m0 -6l-6 6M187 1162l6 6m0 -6l-6 6M187 1137l6 6m0 -6l-6 6M186 1210l6 6m0 -6l-6 6M187 1154l6 6m0 -6l-6 6M187 1207l6 6m0 -6l-6 6M187 1210l6 6m0 -6l-6 6M187 1225l6 6m0 -6l-6 6M188 1223l6 6m0 -6l-6 6M188 1149l6 6m0 -6l-6 6M188 1194l6 6m0 -6l-6 6M188 1149l6 6m0 -6l-6 6M187 1044l6 6m0 -6l-6 6M188 1171l6 6m0 -6l-6 6M187 1115l6 6m0 -6l-6 6M188 1235l6 6m0 -6l-6 6M189 1143l6 6m0 -6l-6 6M189 1178l6 6m0 -6l-6 6M189 1182l6 6m0 -6l-6 6M188 1090l6 6m0 -6l-6 6M189 1228l6 6m0 -6l-6 6M189 1173l6 6m0 -6l-6 6M189 1214l6 6m0 -6l-6 6M190 1168l6 6m0 -6l-6 6M190 1170l6 6m0 -6l-6 6M190 1192l6 6m0 -6l-6 6M190 1183l6 6m0 -6l-6 6M190 1122l6 6m0 -6l-6 6M189 1259l6 6m0 -6l-6 6M191 1142l6 6m0 -6l-6 6M191 1186l6 6m0 -6l-6 6M191 1212l6 6m0 -6l-6 6M191 1167l6 6m0 -6l-6 6M191 1127l6 6m0 -6l-6 6M191 1171l6 6m0 -6l-6 6M191 1224l6 6m0 -6l-6 6M191 1160l6 6m0 -6l-6 6M192 1181l6 6m0 -6l-6 6M192 1176l6 6m0 -6l-6 6M192 1193l6 6m0 -6l-6 6M192 1237l6 6m0 -6l-6 6M192 1206l6 6m0 -6l-6 6M192 1198l6 6m0 -6l-6 6M193 1129l6 6m0 -6l-6 6M193 1204l6 6m0 -6l-6 6M193 1234l6 6m0 -6l-6 6M193 1136l6 6m0 -6l-6 6M193 1169l6 6m0 -6l-6 6M193 1231l6 6m0 -6l-6 6M193 1148l6 6m0 -6l-6 6M194 1163l6 6m0 -6l-6 6M194 1203l6 6m0 -6l-6 6M194 1208l6 6m0 -6l-6 6M194 1189l6 6m0 -6l-6 6M194 1199l6 6m0 -6l-6 6M194 1205l6 6m0 -6l-6 6M194 1182l6 6m0 -6l-6 6M194 1168l6 6m0 -6l-6 6M195 1279l6 6m0 -6l-6 6M195 1177l6 6m0 -6l-6 6M194 1204l6 6m0 -6l-6 6M194 1163l6 6m0 -6l-6 6M195 1141l6 6m0 -6l-6 6M195 1136l6 6m0 -6l-6 6M196 1203l6 6m0 -6l-6 6M196 1119l6 6m0 -6l-6 6M195 1177l6 6m0 -6l-6 6M195 1230l6 6m0 -6l-6 6M196 1213l6 6m0 -6l-6 6M196 1151l6 6m0 -6l-6 6M196 1138l6 6m0 -6l-6 6M197 1094l6 6m0 -6l-6 6M197 1144l6 6m0 -6l-6 6M197 1203l6 6m0 -6l-6 6M197 1195l6 6m0 -6l-6 6M197 1203l6 6m0 -6l-6 6M197 1186l6 6m0 -6l-6 6M196 1148l6 6m0 -6l-6 6M198 1173l6 6m0 -6l-6 6M198 1228l6 6m0 -6l-6 6M197 1131l6 6m0 -6l-6 6M197 1098l6 6m0 -6l-6 6M198 1181l6 6m0 -6l-6 6M198 1208l6 6m0 -6l-6 6M198 1159l6 6m0 -6l-6 6M199 1123l6 6m0 -6l-6 6M199 1197l6 6m0 -6l-6 6M198 1156l6 6m0 -6l-6 6M199 1219l6 6m0 -6l-6 6M198 1198l6 6m0 -6l-6 6M199 1169l6 6m0 -6l-6 6M199 1148l6 6m0 -6l-6 6M200 1149l6 6m0 -6l-6 6M200 1207l6 6m0 -6l-6 6M200 1193l6 6m0 -6l-6 6M200 1089l6 6m0 -6l-6 6M200 1176l6 6m0 -6l-6 6M200 1120l6 6m0 -6l-6 6M200 1127l6 6m0 -6l-6 6M201 1182l6 6m0 -6l-6 6M201 1124l6 6m0 -6l-6 6M201 1213l6 6m0 -6l-6 6M201 1217l6 6m0 -6l-6 6M201 1100l6 6m0 -6l-6 6M200 1185l6 6m0 -6l-6 6M201 1150l6 6m0 -6l-6 6M201 1164l6 6m0 -6l-6 6M201 1189l6 6m0 -6l-6 6M202 1179l6 6m0 -6l-6 6M202 1224l6 6m0 -6l-6 6M202 1191l6 6m0 -6l-6 6M202 1167l6 6m0 -6l-6 6M202 1143l6 6m0 -6l-6 6M203 1133l6 6m0 -6l-6 6M203 1136l6 6m0 -6l-6 6M203 1168l6 6m0 -6l-6 6M203 1143l6 6m0 -6l-6 6M203 1206l6 6m0 -6l-6 6M203 1142l6 6m0 -6l-6 6M203 1225l6 6m0 -6l-6 6M204 1192l6 6m0 -6l-6 6M203 1117l6 6m0 -6l-6 6M203 1135l6 6m0 -6l-6 6M204 1212l6 6m0 -6l-6 6M204 1191l6 6m0 -6l-6 6M204 1173l6 6m0 -6l-6 6M204 1189l6 6m0 -6l-6 6M205 1192l6 6m0 -6l-6 6M205 1127l6 6m0 -6l-6 6M205 1157l6 6m0 -6l-6 6M205 1152l6 6m0 -6l-6 6M205 1139l6 6m0 -6l-6 6M205 1142l6 6m0 -6l-6 6M205 1110l6 6m0 -6l-6 6M206 1206l6 6m0 -6l-6 6M206 1191l6 6m0 -6l-6 6M206 1140l6 6m0 -6l-6 6M206 1175l6 6m0 -6l-6 6M206 1139l6 6m0 -6l-6 6M206 1205l6 6m0 -6l-6 6M206 1152l6 6m0 -6l-6 6M207 1245l6 6m0 -6l-6 6M207 1193l6 6m0 -6l-6 6M207 1171l6 6m0 -6l-6 6M206 1253l6 6m0 -6l-6 6M207 1222l6 6m0 -6l-6 6M207 1180l6 6m0 -6l-6 6M206 1215l6 6m0 -6l-6 6M208 1228l6 6m0 -6l-6 6M208 1162l6 6m0 -6l-6 6M208 1168l6 6m0 -6l-6 6M207 1132l6 6m0 -6l-6 6M208 1150l6 6m0 -6l-6 6M208 1191l6 6m0 -6l-6 6M208 1197l6 6m0 -6l-6 6M209 1172l6 6m0 -6l-6 6M209 1211l6 6m0 -6l-6 6M209 1195l6 6m0 -6l-6 6M209 1212l6 6m0 -6l-6 6M209 1196l6 6m0 -6l-6 6M209 1251l6 6m0 -6l-6 6M209 1210l6 6m0 -6l-6 6M210 1240l6 6m0 -6l-6 6M210 1122l6 6m0 -6l-6 6M210 1190l6 6m0 -6l-6 6M210 1162l6 6m0 -6l-6 6M209 1213l6 6m0 -6l-6 6M210 1182l6 6m0 -6l-6 6M210 1292l6 6m0 -6l-6 6M211 1199l6 6m0 -6l-6 6M210 1163l6 6m0 -6l-6 6M211 1181l6 6m0 -6l-6 6M211 1160l6 6m0 -6l-6 6M211 1170l6 6m0 -6l-6 6M211 1165l6 6m0 -6l-6 6M210 1168l6 6m0 -6l-6 6M212 1180l6 6m0 -6l-6 6M212 1170l6 6m0 -6l-6 6M212 1124l6 6m0 -6l-6 6M212 1165l6 6m0 -6l-6 6M212 1151l6 6m0 -6l-6 6M212 1191l6 6m0 -6l-6 6M212 1137l6 6m0 -6l-6 6M213 1119l6 6m0 -6l-6 6M213 1223l6 6m0 -6l-6 6M213 1139l6 6m0 -6l-6 6M212 1185l6 6m0 -6l-6 6M213 1119l6 6m0 -6l-6 6M213 1194l6 6m0 -6l-6 6M213 1202l6 6m0 -6l-6 6M214 1178l6 6m0 -6l-6 6M214 1134l6 6m0 -6l-6 6M214 1172l6 6m0 -6l-6 6M213 1187l6 6m0 -6l-6 6M213 1224l6 6m0 -6l-6 6M214 1188l6 6m0 -6l-6 6M214 1150l6 6m0 -6l-6 6M215 1147l6 6m0 -6l-6 6M214 1176l6 6m0 -6l-6 6M215 1175l6 6m0 -6l-6 6M215 1177l6 6m0 -6l-6 6M215 1169l6 6m0 -6l-6 6M215 1189l6 6m0 -6l-6 6M215 1141l6 6m0 -6l-6 6M216 1149l6 6m0 -6l-6 6M216 1154l6 6m0 -6l-6 6M216 1201l6 6m0 -6l-6 6M216 1160l6 6m0 -6l-6 6M216 1184l6 6m0 -6l-6 6M215 1221l6 6m0 -6l-6 6M216 1188l6 6m0 -6l-6 6M217 1180l6 6m0 -6l-6 6M217 1163l6 6m0 -6l-6 6M217 1182l6 6m0 -6l-6 6M216 1206l6 6m0 -6l-6 6M217 1205l6 6m0 -6l-6 6M217 1152l6 6m0 -6l-6 6M217 1178l6 6m0 -6l-6 6M218 1180l6 6m0 -6l-6 6M217 1213l6 6m0 -6l-6 6M218 1191l6 6m0 -6l-6 6M218 1167l6 6m0 -6l-6 6M218 1199l6 6m0 -6l-6 6M218 1208l6 6m0 -6l-6 6M218 1143l6 6m0 -6l-6 6M219 1188l6 6m0 -6l-6 6M219 1198l6 6m0 -6l-6 6M219 1215l6 6m0 -6l-6 6M219 1103l6 6m0 -6l-6 6M218 1207l6 6m0 -6l-6 6M218 1119l6 6m0 -6l-6 6M219 1132l6 6m0 -6l-6 6M220 1148l6 6m0 -6l-6 6M219 1153l6 6m0 -6l-6 6M220 1212l6 6m0 -6l-6 6M220 1166l6 6m0 -6l-6 6M219 1161l6 6m0 -6l-6 6M220 1145l6 6m0 -6l-6 6M220 1192l6 6m0 -6l-6 6M221 1159l6 6m0 -6l-6 6M221 1209l6 6m0 -6l-6 6M221 1137l6 6m0 -6l-6 6M221 1172l6 6m0 -6l-6 6M221 1162l6 6m0 -6l-6 6M220 1229l6 6m0 -6l-6 6M221 1192l6 6m0 -6l-6 6M222 1150l6 6m0 -6l-6 6M222 1231l6 6m0 -6l-6 6M222 1178l6 6m0 -6l-6 6M222 1146l6 6m0 -6l-6 6M222 1130l6 6m0 -6l-6 6M221 1198l6 6m0 -6l-6 6M222 1145l6 6m0 -6l-6 6M223 1238l6 6m0 -6l-6 6M223 1182l6 6m0 -6l-6 6M223 1123l6 6m0 -6l-6 6M222 1194l6 6m0 -6l-6 6M223 1173l6 6m0 -6l-6 6M223 1123l6 6m0 -6l-6 6M223 1141l6 6m0 -6l-6 6M224 1188l6 6m0 -6l-6 6M224 1130l6 6m0 -6l-6 6M224 1123l6 6m0 -6l-6 6M224 1198l6 6m0 -6l-6 6M224 1184l6 6m0 -6l-6 6M223 1157l6 6m0 -6l-6 6M224 1215l6 6m0 -6l-6 6M225 1155l6 6m0 -6l-6 6M225 1190l6 6m0 -6l-6 6M224 1159l6 6m0 -6l-6 6M224 1137l6 6m0 -6l-6 6M225 1133l6 6m0 -6l-6 6M225 1086l6 6m0 -6l-6 6M225 1193l6 6m0 -6l-6 6M226 1128l6 6m0 -6l-6 6M226 1173l6 6m0 -6l-6 6M226 1181l6 6m0 -6l-6 6M226 1154l6 6m0 -6l-6 6M226 1149l6 6m0 -6l-6 6M226 1202l6 6m0 -6l-6 6M226 1179l6 6m0 -6l-6 6M226 1122l6 6m0 -6l-6 6M227 1162l6 6m0 -6l-6 6M227 1208l6 6m0 -6l-6 6M227 1199l6 6m0 -6l-6 6M227 1198l6 6m0 -6l-6 6M227 1232l6 6m0 -6l-6 6M227 1106l6 6m0 -6l-6 6M228 1177l6 6m0 -6l-6 6M228 1244l6 6m0 -6l-6 6M228 1205l6 6m0 -6l-6 6M228 1243l6 6m0 -6l-6 6M227 1144l6 6m0 -6l-6 6M228 1186l6 6m0 -6l-6 6M228 1248l6 6m0 -6l-6 6M228 1192l6 6m0 -6l-6 6M228 1128l6 6m0 -6l-6 6M229 1217l6 6m0 -6l-6 6M228 1161l6 6m0 -6l-6 6M229 1191l6 6m0 -6l-6 6M229 1218l6 6m0 -6l-6 6M228 1197l6 6m0 -6l-6 6M230 1158l6 6m0 -6l-6 6M230 1215l6 6m0 -6l-6 6M230 1243l6 6m0 -6l-6 6M230 1164l6 6m0 -6l-6 6M230 1112l6 6m0 -6l-6 6M229 1119l6 6m0 -6l-6 6M230 1135l6 6m0 -6l-6 6M231 1146l6 6m0 -6l-6 6M231 1175l6 6m0 -6l-6 6M231 1098l6 6m0 -6l-6 6M231 1143l6 6m0 -6l-6 6M230 1208l6 6m0 -6l-6 6M230 1134l6 6m0 -6l-6 6M231 1148l6 6m0 -6l-6 6M232 1195l6 6m0 -6l-6 6M232 1201l6 6m0 -6l-6 6M232 1171l6 6m0 -6l-6 6M232 1155l6 6m0 -6l-6 6M232 1191l6 6m0 -6l-6 6M232 1199l6 6m0 -6l-6 6M232 1171l6 6m0 -6l-6 6M233 1189l6 6m0 -6l-6 6M232 1191l6 6m0 -6l-6 6M233 1134l6 6m0 -6l-6 6M233 1143l6 6m0 -6l-6 6M232 1140l6 6m0 -6l-6 6M233 1213l6 6m0 -6l-6 6M232 1143l6 6m0 -6l-6 6M234 1189l6 6m0 -6l-6 6M234 1181l6 6m0 -6l-6 6M234 1196l6 6m0 -6l-6 6M234 1205l6 6m0 -6l-6 6M234 1225l6 6m0 -6l-6 6M234 1142l6 6m0 -6l-6 6M234 1204l6 6m0 -6l-6 6M235 1191l6 6m0 -6l-6 6M234 1202l6 6m0 -6l-6 6M235 1133l6 6m0 -6l-6 6M235 1180l6 6m0 -6l-6 6M235 1124l6 6m0 -6l-6 6M235 1160l6 6m0 -6l-6 6M235 1170l6 6m0 -6l-6 6M236 1190l6 6m0 -6l-6 6M236 1184l6 6m0 -6l-6 6M236 1129l6 6m0 -6l-6 6M236 1165l6 6m0 -6l-6 6M236 1176l6 6m0 -6l-6 6M236 1240l6 6m0 -6l-6 6M236 1118l6 6m0 -6l-6 6M237 1196l6 6m0 -6l-6 6M237 1202l6 6m0 -6l-6 6M237 1217l6 6m0 -6l-6 6M237 1180l6 6m0 -6l-6 6M237 1262l6 6m0 -6l-6 6M237 1187l6 6m0 -6l-6 6M237 1150l6 6m0 -6l-6 6M238 1134l6 6m0 -6l-6 6M238 1161l6 6m0 -6l-6 6M238 1235l6 6m0 -6l-6 6M238 1167l6 6m0 -6l-6 6M237 1130l6 6m0 -6l-6 6M238 1220l6 6m0 -6l-6 6M238 1207l6 6m0 -6l-6 6M239 1172l6 6m0 -6l-6 6M239 1170l6 6m0 -6l-6 6M239 1199l6 6m0 -6l-6 6M238 1166l6 6m0 -6l-6 6M239 1140l6 6m0 -6l-6 6M239 1198l6 6m0 -6l-6 6M239 1174l6 6m0 -6l-6 6M240 1158l6 6m0 -6l-6 6M240 1203l6 6m0 -6l-6 6M240 1201l6 6m0 -6l-6 6M240 1126l6 6m0 -6l-6 6M240 1145l6 6m0 -6l-6 6M240 1150l6 6m0 -6l-6 6M240 1135l6 6m0 -6l-6 6M241 1200l6 6m0 -6l-6 6M241 1159l6 6m0 -6l-6 6M241 1140l6 6m0 -6l-6 6M241 1166l6 6m0 -6l-6 6M241 1154l6 6m0 -6l-6 6M240 1148l6 6m0 -6l-6 6M240 1171l6 6m0 -6l-6 6M242 1103l6 6m0 -6l-6 6M241 1187l6 6m0 -6l-6 6M242 1169l6 6m0 -6l-6 6M242 1171l6 6m0 -6l-6 6M242 1231l6 6m0 -6l-6 6M242 1199l6 6m0 -6l-6 6M242 1183l6 6m0 -6l-6 6M243 1225l6 6m0 -6l-6 6M242 1093l6 6m0 -6l-6 6M242 1216l6 6m0 -6l-6 6M243 1147l6 6m0 -6l-6 6M243 1198l6 6m0 -6l-6 6M243 1239l6 6m0 -6l-6 6M243 1208l6 6m0 -6l-6 6M244 1167l6 6m0 -6l-6 6M244 1168l6 6m0 -6l-6 6M244 1144l6 6m0 -6l-6 6M244 1163l6 6m0 -6l-6 6M244 1155l6 6m0 -6l-6 6M244 1189l6 6m0 -6l-6 6M244 1140l6 6m0 -6l-6 6M244 1165l6 6m0 -6l-6 6M245 1139l6 6m0 -6l-6 6M244 1195l6 6m0 -6l-6 6M245 1152l6 6m0 -6l-6 6M245 1178l6 6m0 -6l-6 6M245 1137l6 6m0 -6l-6 6M244 1179l6 6m0 -6l-6 6M246 1138l6 6m0 -6l-6 6M246 1169l6 6m0 -6l-6 6M245 1238l6 6m0 -6l-6 6M245 1192l6 6m0 -6l-6 6M246 1141l6 6m0 -6l-6 6M246 1206l6 6m0 -6l-6 6M245 1115l6 6m0 -6l-6 6M246 1174l6 6m0 -6l-6 6M247 1165l6 6m0 -6l-6 6M247 1146l6 6m0 -6l-6 6M247 1169l6 6m0 -6l-6 6M247 1140l6 6m0 -6l-6 6M247 1135l6 6m0 -6l-6 6M247 1185l6 6m0 -6l-6 6M248 1191l6 6m0 -6l-6 6M248 1202l6 6m0 -6l-6 6M248 1157l6 6m0 -6l-6 6M248 1183l6 6m0 -6l-6 6M247 1146l6 6m0 -6l-6 6M248 1129l6 6m0 -6l-6 6M248 1168l6 6m0 -6l-6 6M249 1193l6 6m0 -6l-6 6M249 1119l6 6m0 -6l-6 6M249 1197l6 6m0 -6l-6 6M249 1230l6 6m0 -6l-6 6M248 1170l6 6m0 -6l-6 6M249 1120l6 6m0 -6l-6 6M249 1186l6 6m0 -6l-6 6M250 1168l6 6m0 -6l-6 6M250 1179l6 6m0 -6l-6 6M250 1156l6 6m0 -6l-6 6M250 1150l6 6m0 -6l-6 6M249 1132l6 6m0 -6l-6 6M249 1194l6 6m0 -6l-6 6M250 1146l6 6m0 -6l-6 6M250 1230l6 6m0 -6l-6 6M251 1194l6 6m0 -6l-6 6M251 1184l6 6m0 -6l-6 6M250 1165l6 6m0 -6l-6 6M251 1224l6 6m0 -6l-6 6M251 1174l6 6m0 -6l-6 6M251 1175l6 6m0 -6l-6 6M252 1167l6 6m0 -6l-6 6M252 1179l6 6m0 -6l-6 6M252 1118l6 6m0 -6l-6 6M252 1247l6 6m0 -6l-6 6M252 1239l6 6m0 -6l-6 6M252 1113l6 6m0 -6l-6 6M252 1199l6 6m0 -6l-6 6M253 1199l6 6m0 -6l-6 6M253 1161l6 6m0 -6l-6 6M252 1231l6 6m0 -6l-6 6M252 1124l6 6m0 -6l-6 6M253 1205l6 6m0 -6l-6 6M253 1177l6 6m0 -6l-6 6M253 1162l6 6m0 -6l-6 6M254 1156l6 6m0 -6l-6 6M254 1129l6 6m0 -6l-6 6M254 1175l6 6m0 -6l-6 6M254 1229l6 6m0 -6l-6 6M254 1173l6 6m0 -6l-6 6M254 1240l6 6m0 -6l-6 6M254 1201l6 6m0 -6l-6 6M255 1153l6 6m0 -6l-6 6M255 1194l6 6m0 -6l-6 6M255 1209l6 6m0 -6l-6 6M254 1256l6 6m0 -6l-6 6M255 1204l6 6m0 -6l-6 6M255 1202l6 6m0 -6l-6 6M255 1188l6 6m0 -6l-6 6M256 1122l6 6m0 -6l-6 6M256 1185l6 6m0 -6l-6 6M255 1157l6 6m0 -6l-6 6M255 1164l6 6m0 -6l-6 6M256 1170l6 6m0 -6l-6 6M256 1148l6 6m0 -6l-6 6M256 1152l6 6m0 -6l-6 6M256 1132l6 6m0 -6l-6 6M257 1224l6 6m0 -6l-6 6M257 1233l6 6m0 -6l-6 6M257 1178l6 6m0 -6l-6 6M257 1176l6 6m0 -6l-6 6M257 1124l6 6m0 -6l-6 6M257 1172l6 6m0 -6l-6 6M258 1244l6 6m0 -6l-6 6M258 1189l6 6m0 -6l-6 6M258 1223l6 6m0 -6l-6 6M258 1151l6 6m0 -6l-6 6M258 1151l6 6m0 -6l-6 6M258 1173l6 6m0 -6l-6 6M258 1170l6 6m0 -6l-6 6M259 1135l6 6m0 -6l-6 6M259 1130l6 6m0 -6l-6 6M259 1248l6 6m0 -6l-6 6M258 1120l6 6m0 -6l-6 6M258 1180l6 6m0 -6l-6 6M259 1194l6 6m0 -6l-6 6M258 1190l6 6m0 -6l-6 6M259 1282l6 6m0 -6l-6 6M260 1213l6 6m0 -6l-6 6M260 1185l6 6m0 -6l-6 6M260 1155l6 6m0 -6l-6 6M260 1236l6 6m0 -6l-6 6M260 1218l6 6m0 -6l-6 6M260 1214l6 6m0 -6l-6 6M260 1239l6 6m0 -6l-6 6M261 1194l6 6m0 -6l-6 6M261 1108l6 6m0 -6l-6 6M261 1122l6 6m0 -6l-6 6M260 1151l6 6m0 -6l-6 6M261 1153l6 6m0 -6l-6 6M261 1143l6 6m0 -6l-6 6M262 1139l6 6m0 -6l-6 6M261 1192l6 6m0 -6l-6 6M261 1156l6 6m0 -6l-6 6M261 1153l6 6m0 -6l-6 6M262 1193l6 6m0 -6l-6 6M262 1287l6 6m0 -6l-6 6M262 1164l6 6m0 -6l-6 6M263 1230l6 6m0 -6l-6 6M262 1143l6 6m0 -6l-6 6M263 1224l6 6m0 -6l-6 6M263 1191l6 6m0 -6l-6 6M263 1110l6 6m0 -6l-6 6M263 1201l6 6m0 -6l-6 6M263 1147l6 6m0 -6l-6 6M264 1218l6 6m0 -6l-6 6M264 1166l6 6m0 -6l-6 6M264 1167l6 6m0 -6l-6 6M263 1189l6 6m0 -6l-6 6M264 1141l6 6m0 -6l-6 6M264 1171l6 6m0 -6l-6 6M264 1176l6 6m0 -6l-6 6M265 1179l6 6m0 -6l-6 6M265 1213l6 6m0 -6l-6 6M264 1163l6 6m0 -6l-6 6M265 1285l6 6m0 -6l-6 6M265 1224l6 6m0 -6l-6 6M265 1141l6 6m0 -6l-6 6M265 1126l6 6m0 -6l-6 6M266 1169l6 6m0 -6l-6 6M266 1210l6 6m0 -6l-6 6M266 1227l6 6m0 -6l-6 6M266 1192l6 6m0 -6l-6 6M266 1153l6 6m0 -6l-6 6M266 1150l6 6m0 -6l-6 6M266 1158l6 6m0 -6l-6 6M267 1229l6 6m0 -6l-6 6M266 1191l6 6m0 -6l-6 6M267 1154l6 6m0 -6l-6 6M266 1148l6 6m0 -6l-6 6M267 1213l6 6m0 -6l-6 6M267 1176l6 6m0 -6l-6 6M267 1151l6 6m0 -6l-6 6M268 1182l6 6m0 -6l-6 6M268 1098l6 6m0 -6l-6 6M268 1113l6 6m0 -6l-6 6M268 1169l6 6m0 -6l-6 6M268 1141l6 6m0 -6l-6 6M268 1183l6 6m0 -6l-6 6M268 1125l6 6m0 -6l-6 6M268 1236l6 6m0 -6l-6 6M269 1099l6 6m0 -6l-6 6M269 1209l6 6m0 -6l-6 6M269 1143l6 6m0 -6l-6 6M269 1127l6 6m0 -6l-6 6M269 1217l6 6m0 -6l-6 6M269 1190l6 6m0 -6l-6 6M270 1183l6 6m0 -6l-6 6M270 1195l6 6m0 -6l-6 6M270 1208l6 6m0 -6l-6 6M270 1214l6 6m0 -6l-6 6M269 1204l6 6m0 -6l-6 6M270 1203l6 6m0 -6l-6 6M270 1204l6 6m0 -6l-6 6M271 1150l6 6m0 -6l-6 6M271 1139l6 6m0 -6l-6 6M271 1200l6 6m0 -6l-6 6M271 1116l6 6m0 -6l-6 6M271 1162l6 6m0 -6l-6 6M271 1190l6 6m0 -6l-6 6M271 1168l6 6m0 -6l-6 6M272 1101l6 6m0 -6l-6 6M272 1161l6 6m0 -6l-6 6M271 1220l6 6m0 -6l-6 6M272 1133l6 6m0 -6l-6 6M272 1220l6 6m0 -6l-6 6M272 1222l6 6m0 -6l-6 6M272 1161l6 6m0 -6l-6 6M273 1183l6 6m0 -6l-6 6M273 1185l6 6m0 -6l-6 6M273 1200l6 6m0 -6l-6 6M273 1174l6 6m0 -6l-6 6M273 1170l6 6m0 -6l-6 6M273 1217l6 6m0 -6l-6 6M272 1157l6 6m0 -6l-6 6M274 1151l6 6m0 -6l-6 6M273 1136l6 6m0 -6l-6 6M274 1219l6 6m0 -6l-6 6M274 1221l6 6m0 -6l-6 6M274 1136l6 6m0 -6l-6 6M274 1092l6 6m0 -6l-6 6M274 1135l6 6m0 -6l-6 6M275 1179l6 6m0 -6l-6 6M275 1201l6 6m0 -6l-6 6M275 1140l6 6m0 -6l-6 6M275 1172l6 6m0 -6l-6 6M275 1185l6 6m0 -6l-6 6M275 1124l6 6m0 -6l-6 6M275 1134l6 6m0 -6l-6 6M275 1140l6 6m0 -6l-6 6M276 1134l6 6m0 -6l-6 6M276 1191l6 6m0 -6l-6 6M276 1126l6 6m0 -6l-6 6M276 1177l6 6m0 -6l-6 6M275 1187l6 6m0 -6l-6 6M276 1145l6 6m0 -6l-6 6M277 1160l6 6m0 -6l-6 6M277 1207l6 6m0 -6l-6 6M277 1145l6 6m0 -6l-6 6M277 1187l6 6m0 -6l-6 6M277 1200l6 6m0 -6l-6 6M277 1189l6 6m0 -6l-6 6M277 1144l6 6m0 -6l-6 6M278 1222l6 6m0 -6l-6 6M278 1177l6 6m0 -6l-6 6M277 1228l6 6m0 -6l-6 6M278 1203l6 6m0 -6l-6 6M278 1160l6 6m0 -6l-6 6M278 1191l6 6m0 -6l-6 6M278 1117l6 6m0 -6l-6 6M279 1126l6 6m0 -6l-6 6M279 1121l6 6m0 -6l-6 6M279 1210l6 6m0 -6l-6 6M279 1122l6 6m0 -6l-6 6M279 1190l6 6m0 -6l-6 6M278 1180l6 6m0 -6l-6 6M279 1197l6 6m0 -6l-6 6M280 1148l6 6m0 -6l-6 6M279 1103l6 6m0 -6l-6 6M280 1229l6 6m0 -6l-6 6M280 1209l6 6m0 -6l-6 6M280 1168l6 6m0 -6l-6 6M280 1199l6 6m0 -6l-6 6M280 1219l6 6m0 -6l-6 6M281 1234l6 6m0 -6l-6 6M281 1130l6 6m0 -6l-6 6M281 1160l6 6m0 -6l-6 6M281 1175l6 6m0 -6l-6 6M281 1191l6 6m0 -6l-6 6M281 1198l6 6m0 -6l-6 6M281 1190l6 6m0 -6l-6 6M281 1160l6 6m0 -6l-6 6M282 1148l6 6m0 -6l-6 6M282 1128l6 6m0 -6l-6 6M282 1177l6 6m0 -6l-6 6M282 1107l6 6m0 -6l-6 6M281 1144l6 6m0 -6l-6 6M282 1146l6 6m0 -6l-6 6M283 1168l6 6m0 -6l-6 6M283 1180l6 6m0 -6l-6 6M283 1194l6 6m0 -6l-6 6M283 1179l6 6m0 -6l-6 6M283 1195l6 6m0 -6l-6 6M282 1176l6 6m0 -6l-6 6M283 1135l6 6m0 -6l-6 6M284 1151l6 6m0 -6l-6 6M284 1186l6 6m0 -6l-6 6M284 1169l6 6m0 -6l-6 6M284 1214l6 6m0 -6l-6 6M283 1190l6 6m0 -6l-6 6M284 1162l6 6m0 -6l-6 6M284 1193l6 6m0 -6l-6 6M285 1228l6 6m0 -6l-6 6M285 1220l6 6m0 -6l-6 6M285 1155l6 6m0 -6l-6 6M285 1174l6 6m0 -6l-6 6M285 1180l6 6m0 -6l-6 6M284 1195l6 6m0 -6l-6 6M285 1153l6 6m0 -6l-6 6M286 1155l6 6m0 -6l-6 6M285 1139l6 6m0 -6l-6 6M286 1164l6 6m0 -6l-6 6M286 1113l6 6m0 -6l-6 6M286 1122l6 6m0 -6l-6 6M286 1218l6 6m0 -6l-6 6M286 1238l6 6m0 -6l-6 6M287 1146l6 6m0 -6l-6 6M287 1195l6 6m0 -6l-6 6M287 1177l6 6m0 -6l-6 6M287 1141l6 6m0 -6l-6 6M287 1199l6 6m0 -6l-6 6M286 1146l6 6m0 -6l-6 6M287 1169l6 6m0 -6l-6 6M288 1186l6 6m0 -6l-6 6M288 1172l6 6m0 -6l-6 6M288 1159l6 6m0 -6l-6 6M288 1201l6 6m0 -6l-6 6M288 1173l6 6m0 -6l-6 6M288 1139l6 6m0 -6l-6 6M287 1173l6 6m0 -6l-6 6M289 1142l6 6m0 -6l-6 6M289 1184l6 6m0 -6l-6 6M289 1191l6 6m0 -6l-6 6M289 1128l6 6m0 -6l-6 6M289 1219l6 6m0 -6l-6 6M288 1175l6 6m0 -6l-6 6M289 1152l6 6m0 -6l-6 6M290 1159l6 6m0 -6l-6 6M290 1151l6 6m0 -6l-6 6M290 1205l6 6m0 -6l-6 6M290 1082l6 6m0 -6l-6 6M290 1119l6 6m0 -6l-6 6M290 1204l6 6m0 -6l-6 6M290 1111l6 6m0 -6l-6 6M291 1174l6 6m0 -6l-6 6M291 1185l6 6m0 -6l-6 6M290 1135l6 6m0 -6l-6 6M291 1195l6 6m0 -6l-6 6M290 1174l6 6m0 -6l-6 6M291 1216l6 6m0 -6l-6 6M291 1216l6 6m0 -6l-6 6M291 1146l6 6m0 -6l-6 6M292 1167l6 6m0 -6l-6 6M292 1216l6 6m0 -6l-6 6M291 1215l6 6m0 -6l-6 6M292 1162l6 6m0 -6l-6 6M291 1177l6 6m0 -6l-6 6M292 1190l6 6m0 -6l-6 6M292 1192l6 6m0 -6l-6 6M293 1181l6 6m0 -6l-6 6M293 1130l6 6m0 -6l-6 6M293 1189l6 6m0 -6l-6 6M293 1214l6 6m0 -6l-6 6M292 1152l6 6m0 -6l-6 6M292 1146l6 6m0 -6l-6 6M294 1203l6 6m0 -6l-6 6M294 1212l6 6m0 -6l-6 6M294 1246l6 6m0 -6l-6 6M293 1221l6 6m0 -6l-6 6M294 1136l6 6m0 -6l-6 6M294 1152l6 6m0 -6l-6 6M294 1135l6 6m0 -6l-6 6M295 1200l6 6m0 -6l-6 6M295 1140l6 6m0 -6l-6 6M295 1231l6 6m0 -6l-6 6M295 1203l6 6m0 -6l-6 6M295 1265l6 6m0 -6l-6 6M295 1164l6 6m0 -6l-6 6M295 1173l6 6m0 -6l-6 6M296 1147l6 6m0 -6l-6 6M296 1114l6 6m0 -6l-6 6M296 1149l6 6m0 -6l-6 6M296 1221l6 6m0 -6l-6 6M296 1155l6 6m0 -6l-6 6M296 1142l6 6m0 -6l-6 6M296 1197l6 6m0 -6l-6 6M297 1150l6 6m0 -6l-6 6M296 1156l6 6m0 -6l-6 6M297 1191l6 6m0 -6l-6 6M297 1221l6 6m0 -6l-6 6M297 1122l6 6m0 -6l-6 6M297 1100l6 6m0 -6l-6 6M297 1122l6 6m0 -6l-6 6M298 1142l6 6m0 -6l-6 6M298 1188l6 6m0 -6l-6 6M298 1186l6 6m0 -6l-6 6M298 1116l6 6m0 -6l-6 6M298 1219l6 6m0 -6l-6 6M298 1126l6 6m0 -6l-6 6M298 1191l6 6m0 -6l-6 6M298 1178l6 6m0 -6l-6 6M299 1147l6 6m0 -6l-6 6M299 1176l6 6m0 -6l-6 6M298 1144l6 6m0 -6l-6 6M299 1205l6 6m0 -6l-6 6M299 1172l6 6m0 -6l-6 6M298 1251l6 6m0 -6l-6 6M300 1180l6 6m0 -6l-6 6M300 1212l6 6m0 -6l-6 6M300 1206l6 6m0 -6l-6 6M300 1221l6 6m0 -6l-6 6M300 1248l6 6m0 -6l-6 6M300 1090l6 6m0 -6l-6 6M300 1145l6 6m0 -6l-6 6M301 1205l6 6m0 -6l-6 6M301 1166l6 6m0 -6l-6 6M301 1218l6 6m0 -6l-6 6M301 1177l6 6m0 -6l-6 6M301 1160l6 6m0 -6l-6 6M301 1180l6 6m0 -6l-6 6M300 1112l6 6m0 -6l-6 6M301 1142l6 6m0 -6l-6 6M302 1144l6 6m0 -6l-6 6M301 1177l6 6m0 -6l-6 6M301 1182l6 6m0 -6l-6 6M302 1187l6 6m0 -6l-6 6M302 1121l6 6m0 -6l-6 6M302 1181l6 6m0 -6l-6 6M303 1137l6 6m0 -6l-6 6M303 1155l6 6m0 -6l-6 6M303 1201l6 6m0 -6l-6 6M303 1142l6 6m0 -6l-6 6M302 1211l6 6m0 -6l-6 6M303 1155l6 6m0 -6l-6 6M303 1264l6 6m0 -6l-6 6M304 1206l6 6m0 -6l-6 6M304 1201l6 6m0 -6l-6 6M304 1132l6 6m0 -6l-6 6M304 1106l6 6m0 -6l-6 6M304 1198l6 6m0 -6l-6 6M304 1138l6 6m0 -6l-6 6M304 1171l6 6m0 -6l-6 6M304 1239l6 6m0 -6l-6 6M305 1230l6 6m0 -6l-6 6M304 1166l6 6m0 -6l-6 6M305 1178l6 6m0 -6l-6 6M304 1167l6 6m0 -6l-6 6M305 1177l6 6m0 -6l-6 6M305 1192l6 6m0 -6l-6 6M306 1217l6 6m0 -6l-6 6M306 1161l6 6m0 -6l-6 6M306 1175l6 6m0 -6l-6 6M306 1156l6 6m0 -6l-6 6M306 1208l6 6m0 -6l-6 6M306 1111l6 6m0 -6l-6 6M306 1169l6 6m0 -6l-6 6M307 1202l6 6m0 -6l-6 6M307 1129l6 6m0 -6l-6 6M306 1159l6 6m0 -6l-6 6M307 1190l6 6m0 -6l-6 6M307 1237l6 6m0 -6l-6 6M307 1167l6 6m0 -6l-6 6M307 1191l6 6m0 -6l-6 6M308 1196l6 6m0 -6l-6 6M308 1166l6 6m0 -6l-6 6M308 1153l6 6m0 -6l-6 6M308 1182l6 6m0 -6l-6 6M308 1224l6 6m0 -6l-6 6M308 1126l6 6m0 -6l-6 6M308 1149l6 6m0 -6l-6 6M309 1142l6 6m0 -6l-6 6M309 1177l6 6m0 -6l-6 6M308 1141l6 6m0 -6l-6 6M309 1177l6 6m0 -6l-6 6M309 1169l6 6m0 -6l-6 6M309 1206l6 6m0 -6l-6 6M309 1186l6 6m0 -6l-6 6M310 1129l6 6m0 -6l-6 6M310 1134l6 6m0 -6l-6 6M309 1172l6 6m0 -6l-6 6M310 1158l6 6m0 -6l-6 6M310 1185l6 6m0 -6l-6 6M310 1097l6 6m0 -6l-6 6M310 1195l6 6m0 -6l-6 6M311 1192l6 6m0 -6l-6 6M310 1251l6 6m0 -6l-6 6M311 1204l6 6m0 -6l-6 6M311 1235l6 6m0 -6l-6 6M310 1205l6 6m0 -6l-6 6M311 1166l6 6m0 -6l-6 6M311 1164l6 6m0 -6l-6 6M311 1180l6 6m0 -6l-6 6M311 1183l6 6m0 -6l-6 6M312 1155l6 6m0 -6l-6 6M312 1218l6 6m0 -6l-6 6M312 1186l6 6m0 -6l-6 6M312 1162l6 6m0 -6l-6 6M311 1180l6 6m0 -6l-6 6M313 1170l6 6m0 -6l-6 6M312 1251l6 6m0 -6l-6 6M313 1196l6 6m0 -6l-6 6M313 1137l6 6m0 -6l-6 6M313 1139l6 6m0 -6l-6 6M313 1182l6 6m0 -6l-6 6M313 1196l6 6m0 -6l-6 6M313 1170l6 6m0 -6l-6 6M313 1172l6 6m0 -6l-6 6M313 1215l6 6m0 -6l-6 6M314 1145l6 6m0 -6l-6 6M313 1118l6 6m0 -6l-6 6M314 1162l6 6m0 -6l-6 6M314 1106l6 6m0 -6l-6 6M315 1173l6 6m0 -6l-6 6M314 1170l6 6m0 -6l-6 6M315 1178l6 6m0 -6l-6 6M315 1127l6 6m0 -6l-6 6M315 1197l6 6m0 -6l-6 6M315 1197l6 6m0 -6l-6 6M315 1207l6 6m0 -6l-6 6M316 1193l6 6m0 -6l-6 6M316 1153l6 6m0 -6l-6 6M316 1188l6 6m0 -6l-6 6M316 1160l6 6m0 -6l-6 6M316 1189l6 6m0 -6l-6 6M316 1180l6 6m0 -6l-6 6M316 1154l6 6m0 -6l-6 6M317 1127l6 6m0 -6l-6 6M316 1102l6 6m0 -6l-6 6M317 1188l6 6m0 -6l-6 6M317 1206l6 6m0 -6l-6 6M317 1137l6 6m0 -6l-6 6M316 1195l6 6m0 -6l-6 6M317 1204l6 6m0 -6l-6 6M318 1175l6 6m0 -6l-6 6M318 1139l6 6m0 -6l-6 6M318 1152l6 6m0 -6l-6 6M318 1146l6 6m0 -6l-6 6M317 1181l6 6m0 -6l-6 6M318 1167l6 6m0 -6l-6 6M318 1201l6 6m0 -6l-6 6M319 1143l6 6m0 -6l-6 6M319 1198l6 6m0 -6l-6 6M319 1139l6 6m0 -6l-6 6M319 1188l6 6m0 -6l-6 6M319 1154l6 6m0 -6l-6 6M319 1208l6 6m0 -6l-6 6M319 1162l6 6m0 -6l-6 6M320 1102l6 6m0 -6l-6 6M320 1203l6 6m0 -6l-6 6M320 1240l6 6m0 -6l-6 6M320 1167l6 6m0 -6l-6 6M320 1199l6 6m0 -6l-6 6M319 1172l6 6m0 -6l-6 6M320 1087l6 6m0 -6l-6 6M321 1163l6 6m0 -6l-6 6M321 1220l6 6m0 -6l-6 6M321 1183l6 6m0 -6l-6 6M320 1185l6 6m0 -6l-6 6M321 1107l6 6m0 -6l-6 6M321 1183l6 6m0 -6l-6 6M321 1195l6 6m0 -6l-6 6M321 1233l6 6m0 -6l-6 6M322 1177l6 6m0 -6l-6 6M322 1188l6 6m0 -6l-6 6M322 1159l6 6m0 -6l-6 6M322 1247l6 6m0 -6l-6 6M322 1202l6 6m0 -6l-6 6M322 1208l6 6m0 -6l-6 6M323 1146l6 6m0 -6l-6 6M323 1128l6 6m0 -6l-6 6M323 1168l6 6m0 -6l-6 6M323 1222l6 6m0 -6l-6 6M323 1178l6 6m0 -6l-6 6M323 1155l6 6m0 -6l-6 6M323 1149l6 6m0 -6l-6 6M324 1188l6 6m0 -6l-6 6M324 1124l6 6m0 -6l-6 6M324 1191l6 6m0 -6l-6 6M324 1191l6 6m0 -6l-6 6M324 1148l6 6m0 -6l-6 6M324 1100l6 6m0 -6l-6 6M324 1158l6 6m0 -6l-6 6M325 1175l6 6m0 -6l-6 6M325 1150l6 6m0 -6l-6 6M324 1182l6 6m0 -6l-6 6M325 1163l6 6m0 -6l-6 6M325 1265l6 6m0 -6l-6 6M325 1191l6 6m0 -6l-6 6M325 1198l6 6m0 -6l-6 6M325 1159l6 6m0 -6l-6 6M326 1230l6 6m0 -6l-6 6M326 1151l6 6m0 -6l-6 6M326 1234l6 6m0 -6l-6 6M326 1247l6 6m0 -6l-6 6M326 1306l6 6m0 -6l-6 6M326 1210l6 6m0 -6l-6 6M327 1155l6 6m0 -6l-6 6M327 1168l6 6m0 -6l-6 6M327 1187l6 6m0 -6l-6 6M327 1235l6 6m0 -6l-6 6M327 1210l6 6m0 -6l-6 6M327 1222l6 6m0 -6l-6 6M327 1142l6 6m0 -6l-6 6M327 1148l6 6m0 -6l-6 6M328 1148l6 6m0 -6l-6 6M328 1162l6 6m0 -6l-6 6M328 1147l6 6m0 -6l-6 6M328 1146l6 6m0 -6l-6 6M328 1221l6 6m0 -6l-6 6M328 1143l6 6m0 -6l-6 6M328 1179l6 6m0 -6l-6 6M329 1191l6 6m0 -6l-6 6M329 1163l6 6m0 -6l-6 6M329 1174l6 6m0 -6l-6 6M329 1114l6 6m0 -6l-6 6M329 1128l6 6m0 -6l-6 6M329 1198l6 6m0 -6l-6 6M330 1190l6 6m0 -6l-6 6M330 1164l6 6m0 -6l-6 6M330 1112l6 6m0 -6l-6 6M330 1229l6 6m0 -6l-6 6M330 1136l6 6m0 -6l-6 6M330 1184l6 6m0 -6l-6 6M330 1209l6 6m0 -6l-6 6M331 1195l6 6m0 -6l-6 6M331 1131l6 6m0 -6l-6 6M331 1170l6 6m0 -6l-6 6M331 1213l6 6m0 -6l-6 6M331 1208l6 6m0 -6l-6 6M331 1166l6 6m0 -6l-6 6M331 1167l6 6m0 -6l-6 6M332 1212l6 6m0 -6l-6 6M332 1190l6 6m0 -6l-6 6M332 1265l6 6m0 -6l-6 6M332 1225l6 6m0 -6l-6 6M332 1154l6 6m0 -6l-6 6M332 1277l6 6m0 -6l-6 6M332 1201l6 6m0 -6l-6 6M333 1221l6 6m0 -6l-6 6M333 1149l6 6m0 -6l-6 6M333 1170l6 6m0 -6l-6 6M333 1145l6 6m0 -6l-6 6M333 1166l6 6m0 -6l-6 6M333 1181l6 6m0 -6l-6 6M333 1159l6 6m0 -6l-6 6M334 1207l6 6m0 -6l-6 6M334 1176l6 6m0 -6l-6 6M334 1224l6 6m0 -6l-6 6M334 1218l6 6m0 -6l-6 6M333 1193l6 6m0 -6l-6 6M334 1169l6 6m0 -6l-6 6M334 1208l6 6m0 -6l-6 6M335 1212l6 6m0 -6l-6 6M335 1192l6 6m0 -6l-6 6M335 1225l6 6m0 -6l-6 6M335 1225l6 6m0 -6l-6 6M334 1163l6 6m0 -6l-6 6M335 1208l6 6m0 -6l-6 6M335 1215l6 6m0 -6l-6 6M336 1164l6 6m0 -6l-6 6M335 1212l6 6m0 -6l-6 6M336 1127l6 6m0 -6l-6 6M336 1195l6 6m0 -6l-6 6M336 1226l6 6m0 -6l-6 6M336 1180l6 6m0 -6l-6 6M335 1142l6 6m0 -6l-6 6M337 1186l6 6m0 -6l-6 6M337 1191l6 6m0 -6l-6 6M337 1152l6 6m0 -6l-6 6M336 1186l6 6m0 -6l-6 6M337 1123l6 6m0 -6l-6 6M337 1144l6 6m0 -6l-6 6M336 1228l6 6m0 -6l-6 6M338 1171l6 6m0 -6l-6 6M338 1161l6 6m0 -6l-6 6M338 1118l6 6m0 -6l-6 6M338 1156l6 6m0 -6l-6 6M338 1194l6 6m0 -6l-6 6M338 1240l6 6m0 -6l-6 6M338 1150l6 6m0 -6l-6 6M339 1171l6 6m0 -6l-6 6M338 1147l6 6m0 -6l-6 6M339 1140l6 6m0 -6l-6 6M339 1183l6 6m0 -6l-6 6M339 1134l6 6m0 -6l-6 6M339 1253l6 6m0 -6l-6 6M339 1213l6 6m0 -6l-6 6M340 1127l6 6m0 -6l-6 6M340 1170l6 6m0 -6l-6 6M340 1139l6 6m0 -6l-6 6M339 1118l6 6m0 -6l-6 6M340 1158l6 6m0 -6l-6 6M339 1224l6 6m0 -6l-6 6M339 1189l6 6m0 -6l-6 6M341 1129l6 6m0 -6l-6 6M340 1180l6 6m0 -6l-6 6M341 1170l6 6m0 -6l-6 6M341 1171l6 6m0 -6l-6 6M341 1182l6 6m0 -6l-6 6M341 1125l6 6m0 -6l-6 6M341 1203l6 6m0 -6l-6 6M342 1170l6 6m0 -6l-6 6M342 1175l6 6m0 -6l-6 6M341 1147l6 6m0 -6l-6 6M342 1192l6 6m0 -6l-6 6M341 1133l6 6m0 -6l-6 6M342 1154l6 6m0 -6l-6 6M342 1207l6 6m0 -6l-6 6M343 1174l6 6m0 -6l-6 6M343 1229l6 6m0 -6l-6 6M343 1215l6 6m0 -6l-6 6M343 1175l6 6m0 -6l-6 6M343 1222l6 6m0 -6l-6 6M343 1166l6 6m0 -6l-6 6M342 1154l6 6m0 -6l-6 6M343 1190l6 6m0 -6l-6 6M344 1162l6 6m0 -6l-6 6M344 1220l6 6m0 -6l-6 6M344 1132l6 6m0 -6l-6 6M344 1222l6 6m0 -6l-6 6M344 1176l6 6m0 -6l-6 6M344 1212l6 6m0 -6l-6 6M345 1089l6 6m0 -6l-6 6M344 1180l6 6m0 -6l-6 6M345 1173l6 6m0 -6l-6 6M345 1072l6 6m0 -6l-6 6M345 1203l6 6m0 -6l-6 6M345 1104l6 6m0 -6l-6 6M344 1066l6 6m0 -6l-6 6M346 1129l6 6m0 -6l-6 6M346 1185l6 6m0 -6l-6 6M346 1187l6 6m0 -6l-6 6M346 1225l6 6m0 -6l-6 6M346 1154l6 6m0 -6l-6 6M346 1159l6 6m0 -6l-6 6M346 1143l6 6m0 -6l-6 6M347 1214l6 6m0 -6l-6 6M347 1162l6 6m0 -6l-6 6M347 1179l6 6m0 -6l-6 6M347 1180l6 6m0 -6l-6 6M347 1172l6 6m0 -6l-6 6M347 1163l6 6m0 -6l-6 6M346 1135l6 6m0 -6l-6 6M348 1187l6 6m0 -6l-6 6M348 1152l6 6m0 -6l-6 6M347 1229l6 6m0 -6l-6 6M347 1112l6 6m0 -6l-6 6M348 1161l6 6m0 -6l-6 6M348 1154l6 6m0 -6l-6 6M348 1171l6 6m0 -6l-6 6M349 1179l6 6m0 -6l-6 6M349 1112l6 6m0 -6l-6 6M348 1234l6 6m0 -6l-6 6M349 1227l6 6m0 -6l-6 6M349 1222l6 6m0 -6l-6 6M349 1133l6 6m0 -6l-6 6M349 1160l6 6m0 -6l-6 6M350 1140l6 6m0 -6l-6 6M349 1132l6 6m0 -6l-6 6M350 1200l6 6m0 -6l-6 6M350 1173l6 6m0 -6l-6 6M350 1148l6 6m0 -6l-6 6M350 1127l6 6m0 -6l-6 6M350 1181l6 6m0 -6l-6 6M351 1188l6 6m0 -6l-6 6M351 1175l6 6m0 -6l-6 6M350 1187l6 6m0 -6l-6 6M351 1177l6 6m0 -6l-6 6M350 1198l6 6m0 -6l-6 6M351 1151l6 6m0 -6l-6 6M351 1155l6 6m0 -6l-6 6M352 1187l6 6m0 -6l-6 6M352 1199l6 6m0 -6l-6 6M352 1186l6 6m0 -6l-6 6M351 1113l6 6m0 -6l-6 6M352 1142l6 6m0 -6l-6 6M352 1242l6 6m0 -6l-6 6M352 1162l6 6m0 -6l-6 6M353 1177l6 6m0 -6l-6 6M352 1187l6 6m0 -6l-6 6M352 1170l6 6m0 -6l-6 6M353 1166l6 6m0 -6l-6 6M352 1187l6 6m0 -6l-6 6M353 1164l6 6m0 -6l-6 6M352 1242l6 6m0 -6l-6 6M354 1217l6 6m0 -6l-6 6M354 1170l6 6m0 -6l-6 6M354 1161l6 6m0 -6l-6 6M354 1166l6 6m0 -6l-6 6M354 1158l6 6m0 -6l-6 6M354 1151l6 6m0 -6l-6 6M354 1142l6 6m0 -6l-6 6M355 1128l6 6m0 -6l-6 6M355 1163l6 6m0 -6l-6 6M355 1102l6 6m0 -6l-6 6M355 1171l6 6m0 -6l-6 6M354 1255l6 6m0 -6l-6 6M355 1197l6 6m0 -6l-6 6M355 1184l6 6m0 -6l-6 6M355 1211l6 6m0 -6l-6 6M356 1182l6 6m0 -6l-6 6M356 1144l6 6m0 -6l-6 6M356 1203l6 6m0 -6l-6 6M356 1259l6 6m0 -6l-6 6M355 1135l6 6m0 -6l-6 6M356 1228l6 6m0 -6l-6 6M357 1152l6 6m0 -6l-6 6M357 1202l6 6m0 -6l-6 6M357 1136l6 6m0 -6l-6 6M357 1205l6 6m0 -6l-6 6M357 1146l6 6m0 -6l-6 6M356 1221l6 6m0 -6l-6 6M356 1215l6 6m0 -6l-6 6M357 1148l6 6m0 -6l-6 6M358 1196l6 6m0 -6l-6 6M358 1197l6 6m0 -6l-6 6M358 1160l6 6m0 -6l-6 6M358 1137l6 6m0 -6l-6 6M358 1178l6 6m0 -6l-6 6M358 1139l6 6m0 -6l-6 6M359 1160l6 6m0 -6l-6 6M358 1129l6 6m0 -6l-6 6M359 1173l6 6m0 -6l-6 6M359 1175l6 6m0 -6l-6 6M358 1121l6 6m0 -6l-6 6M359 1178l6 6m0 -6l-6 6M359 1170l6 6m0 -6l-6 6M360 1131l6 6m0 -6l-6 6M360 1205l6 6m0 -6l-6 6M360 1159l6 6m0 -6l-6 6M360 1177l6 6m0 -6l-6 6M359 1218l6 6m0 -6l-6 6M360 1155l6 6m0 -6l-6 6M360 1273l6 6m0 -6l-6 6M361 1143l6 6m0 -6l-6 6M361 1168l6 6m0 -6l-6 6M361 1219l6 6m0 -6l-6 6M360 1196l6 6m0 -6l-6 6M361 1168l6 6m0 -6l-6 6M361 1170l6 6m0 -6l-6 6M361 1192l6 6m0 -6l-6 6M361 1214l6 6m0 -6l-6 6M362 1180l6 6m0 -6l-6 6M361 1181l6 6m0 -6l-6 6M362 1169l6 6m0 -6l-6 6M361 1165l6 6m0 -6l-6 6M362 1226l6 6m0 -6l-6 6M361 1214l6 6m0 -6l-6 6M363 1185l6 6m0 -6l-6 6M363 1251l6 6m0 -6l-6 6M363 1139l6 6m0 -6l-6 6M363 1217l6 6m0 -6l-6 6M363 1167l6 6m0 -6l-6 6M362 1227l6 6m0 -6l-6 6M363 1204l6 6m0 -6l-6 6M364 1171l6 6m0 -6l-6 6M364 1158l6 6m0 -6l-6 6M364 1168l6 6m0 -6l-6 6M364 1113l6 6m0 -6l-6 6M364 1179l6 6m0 -6l-6 6M364 1239l6 6m0 -6l-6 6M364 1177l6 6m0 -6l-6 6M365 1207l6 6m0 -6l-6 6M365 1151l6 6m0 -6l-6 6M364 1141l6 6m0 -6l-6 6M365 1165l6 6m0 -6l-6 6M365 1164l6 6m0 -6l-6 6M365 1159l6 6m0 -6l-6 6M365 1172l6 6m0 -6l-6 6M366 1212l6 6m0 -6l-6 6M366 1174l6 6m0 -6l-6 6M366 1170l6 6m0 -6l-6 6M366 1163l6 6m0 -6l-6 6M366 1162l6 6m0 -6l-6 6M366 1128l6 6m0 -6l-6 6M366 1155l6 6m0 -6l-6 6M367 1095l6 6m0 -6l-6 6M366 1149l6 6m0 -6l-6 6M366 1172l6 6m0 -6l-6 6M367 1192l6 6m0 -6l-6 6M367 1252l6 6m0 -6l-6 6M367 1161l6 6m0 -6l-6 6M367 1128l6 6m0 -6l-6 6M368 1162l6 6m0 -6l-6 6M367 1163l6 6m0 -6l-6 6M368 1129l6 6m0 -6l-6 6M368 1131l6 6m0 -6l-6 6M368 1190l6 6m0 -6l-6 6M367 1126l6 6m0 -6l-6 6M368 1209l6 6m0 -6l-6 6M369 1250l6 6m0 -6l-6 6M369 1198l6 6m0 -6l-6 6M369 1202l6 6m0 -6l-6 6M369 1184l6 6m0 -6l-6 6M369 1173l6 6m0 -6l-6 6M369 1204l6 6m0 -6l-6 6M368 1180l6 6m0 -6l-6 6M370 1210l6 6m0 -6l-6 6M370 1158l6 6m0 -6l-6 6M370 1208l6 6m0 -6l-6 6M370 1189l6 6m0 -6l-6 6M370 1161l6 6m0 -6l-6 6M370 1141l6 6m0 -6l-6 6M370 1140l6 6m0 -6l-6 6M371 1235l6 6m0 -6l-6 6M371 1224l6 6m0 -6l-6 6M371 1197l6 6m0 -6l-6 6M371 1204l6 6m0 -6l-6 6M371 1196l6 6m0 -6l-6 6M371 1203l6 6m0 -6l-6 6M371 1158l6 6m0 -6l-6 6M372 1224l6 6m0 -6l-6 6M371 1175l6 6m0 -6l-6 6M372 1145l6 6m0 -6l-6 6M372 1150l6 6m0 -6l-6 6M371 1189l6 6m0 -6l-6 6M372 1145l6 6m0 -6l-6 6M371 1137l6 6m0 -6l-6 6M373 1174l6 6m0 -6l-6 6M373 1199l6 6m0 -6l-6 6M373 1197l6 6m0 -6l-6 6M373 1172l6 6m0 -6l-6 6M372 1185l6 6m0 -6l-6 6M373 1123l6 6m0 -6l-6 6M373 1166l6 6m0 -6l-6 6M373 1202l6 6m0 -6l-6 6M373 1164l6 6m0 -6l-6 6M374 1217l6 6m0 -6l-6 6M373 1198l6 6m0 -6l-6 6M374 1191l6 6m0 -6l-6 6M374 1227l6 6m0 -6l-6 6M374 1107l6 6m0 -6l-6 6M375 1193l6 6m0 -6l-6 6M374 1184l6 6m0 -6l-6 6M374 1192l6 6m0 -6l-6 6M375 1181l6 6m0 -6l-6 6M375 1109l6 6m0 -6l-6 6M375 1076l6 6m0 -6l-6 6M375 1113l6 6m0 -6l-6 6M376 1191l6 6m0 -6l-6 6M376 1185l6 6m0 -6l-6 6M376 1193l6 6m0 -6l-6 6M376 1230l6 6m0 -6l-6 6M376 1181l6 6m0 -6l-6 6M375 1159l6 6m0 -6l-6 6M375 1239l6 6m0 -6l-6 6M377 1133l6 6m0 -6l-6 6M377 1109l6 6m0 -6l-6 6M377 1214l6 6m0 -6l-6 6M377 1167l6 6m0 -6l-6 6M377 1205l6 6m0 -6l-6 6M376 1123l6 6m0 -6l-6 6M377 1188l6 6m0 -6l-6 6M378 1179l6 6m0 -6l-6 6M378 1170l6 6m0 -6l-6 6M378 1217l6 6m0 -6l-6 6M378 1196l6 6m0 -6l-6 6M378 1178l6 6m0 -6l-6 6M377 1182l6 6m0 -6l-6 6M378 1189l6 6m0 -6l-6 6M379 1178l6 6m0 -6l-6 6M379 1177l6 6m0 -6l-6 6M379 1190l6 6m0 -6l-6 6M379 1161l6 6m0 -6l-6 6M379 1149l6 6m0 -6l-6 6M379 1122l6 6m0 -6l-6 6M378 1171l6 6m0 -6l-6 6M380 1159l6 6m0 -6l-6 6M379 1144l6 6m0 -6l-6 6M380 1195l6 6m0 -6l-6 6M380 1173l6 6m0 -6l-6 6M380 1128l6 6m0 -6l-6 6M380 1209l6 6m0 -6l-6 6M380 1161l6 6m0 -6l-6 6M381 1197l6 6m0 -6l-6 6M381 1226l6 6m0 -6l-6 6M381 1169l6 6m0 -6l-6 6M381 1167l6 6m0 -6l-6 6M381 1161l6 6m0 -6l-6 6M381 1172l6 6m0 -6l-6 6M381 1171l6 6m0 -6l-6 6M382 1182l6 6m0 -6l-6 6M382 1146l6 6m0 -6l-6 6M382 1141l6 6m0 -6l-6 6M381 1168l6 6m0 -6l-6 6M382 1161l6 6m0 -6l-6 6M382 1169l6 6m0 -6l-6 6M381 1121l6 6m0 -6l-6 6M383 1197l6 6m0 -6l-6 6M383 1124l6 6m0 -6l-6 6M383 1204l6 6m0 -6l-6 6M383 1166l6 6m0 -6l-6 6M383 1180l6 6m0 -6l-6 6M383 1116l6 6m0 -6l-6 6M383 1101l6 6m0 -6l-6 6M384 1199l6 6m0 -6l-6 6M384 1168l6 6m0 -6l-6 6M384 1194l6 6m0 -6l-6 6M384 1143l6 6m0 -6l-6 6M384 1226l6 6m0 -6l-6 6M383 1144l6 6m0 -6l-6 6M384 1211l6 6m0 -6l-6 6M385 1245l6 6m0 -6l-6 6M385 1136l6 6m0 -6l-6 6M385 1153l6 6m0 -6l-6 6M385 1164l6 6m0 -6l-6 6M384 1174l6 6m0 -6l-6 6M385 1163l6 6m0 -6l-6 6M385 1208l6 6m0 -6l-6 6M385 1185l6 6m0 -6l-6 6M386 1189l6 6m0 -6l-6 6M386 1202l6 6m0 -6l-6 6M386 1177l6 6m0 -6l-6 6M386 1164l6 6m0 -6l-6 6M386 1169l6 6m0 -6l-6 6M385 1170l6 6m0 -6l-6 6M387 1202l6 6m0 -6l-6 6M386 1143l6 6m0 -6l-6 6M387 1121l6 6m0 -6l-6 6M387 1135l6 6m0 -6l-6 6M387 1211l6 6m0 -6l-6 6M387 1122l6 6m0 -6l-6 6M387 1133l6 6m0 -6l-6 6M388 1242l6 6m0 -6l-6 6M388 1223l6 6m0 -6l-6 6M388 1185l6 6m0 -6l-6 6M388 1168l6 6m0 -6l-6 6M388 1185l6 6m0 -6l-6 6M387 1241l6 6m0 -6l-6 6M388 1222l6 6m0 -6l-6 6M389 1156l6 6m0 -6l-6 6M388 1182l6 6m0 -6l-6 6M389 1174l6 6m0 -6l-6 6M389 1215l6 6m0 -6l-6 6M389 1172l6 6m0 -6l-6 6M389 1178l6 6m0 -6l-6 6M389 1132l6 6m0 -6l-6 6M390 1213l6 6m0 -6l-6 6M390 1176l6 6m0 -6l-6 6M390 1186l6 6m0 -6l-6 6M390 1140l6 6m0 -6l-6 6M389 1168l6 6m0 -6l-6 6M389 1120l6 6m0 -6l-6 6M390 1224l6 6m0 -6l-6 6M391 1183l6 6m0 -6l-6 6M391 1189l6 6m0 -6l-6 6M391 1210l6 6m0 -6l-6 6M391 1169l6 6m0 -6l-6 6M391 1109l6 6m0 -6l-6 6M391 1205l6 6m0 -6l-6 6M391 1174l6 6m0 -6l-6 6M392 1135l6 6m0 -6l-6 6M391 1144l6 6m0 -6l-6 6M391 1177l6 6m0 -6l-6 6M392 1160l6 6m0 -6l-6 6M391 1118l6 6m0 -6l-6 6M392 1173l6 6m0 -6l-6 6M392 1148l6 6m0 -6l-6 6M393 1106l6 6m0 -6l-6 6M393 1123l6 6m0 -6l-6 6M393 1229l6 6m0 -6l-6 6M393 1166l6 6m0 -6l-6 6M393 1181l6 6m0 -6l-6 6M393 1135l6 6m0 -6l-6 6M393 1187l6 6m0 -6l-6 6M394 1189l6 6m0 -6l-6 6M394 1098l6 6m0 -6l-6 6M394 1195l6 6m0 -6l-6 6M394 1140l6 6m0 -6l-6 6M393 1225l6 6m0 -6l-6 6M394 1182l6 6m0 -6l-6 6M393 1237l6 6m0 -6l-6 6M395 1180l6 6m0 -6l-6 6M395 1211l6 6m0 -6l-6 6M395 1220l6 6m0 -6l-6 6M395 1160l6 6m0 -6l-6 6M394 1205l6 6m0 -6l-6 6M395 1142l6 6m0 -6l-6 6M395 1185l6 6m0 -6l-6 6M396 1233l6 6m0 -6l-6 6M395 1193l6 6m0 -6l-6 6M395 1212l6 6m0 -6l-6 6M396 1195l6 6m0 -6l-6 6M396 1161l6 6m0 -6l-6 6M396 1219l6 6m0 -6l-6 6M396 1150l6 6m0 -6l-6 6M397 1147l6 6m0 -6l-6 6M397 1207l6 6m0 -6l-6 6M396 1192l6 6m0 -6l-6 6M397 1153l6 6m0 -6l-6 6M397 1131l6 6m0 -6l-6 6M397 1160l6 6m0 -6l-6 6M397 1219l6 6m0 -6l-6 6M398 1218l6 6m0 -6l-6 6M398 1182l6 6m0 -6l-6 6M398 1174l6 6m0 -6l-6 6M398 1141l6 6m0 -6l-6 6M397 1215l6 6m0 -6l-6 6M398 1149l6 6m0 -6l-6 6M398 1222l6 6m0 -6l-6 6M399 1159l6 6m0 -6l-6 6M399 1292l6 6m0 -6l-6 6M399 1180l6 6m0 -6l-6 6M399 1172l6 6m0 -6l-6 6M399 1137l6 6m0 -6l-6 6M399 1177l6 6m0 -6l-6 6M399 1148l6 6m0 -6l-6 6M400 1160l6 6m0 -6l-6 6M400 1226l6 6m0 -6l-6 6M400 1149l6 6m0 -6l-6 6M400 1162l6 6m0 -6l-6 6M399 1138l6 6m0 -6l-6 6M400 1197l6 6m0 -6l-6 6M400 1111l6 6m0 -6l-6 6M400 1180l6 6m0 -6l-6 6M401 1132l6 6m0 -6l-6 6M401 1189l6 6m0 -6l-6 6M401 1112l6 6m0 -6l-6 6M401 1234l6 6m0 -6l-6 6M400 1215l6 6m0 -6l-6 6M401 1135l6 6m0 -6l-6 6M402 1127l6 6m0 -6l-6 6M402 1147l6 6m0 -6l-6 6M402 1132l6 6m0 -6l-6 6M402 1106l6 6m0 -6l-6 6M402 1097l6 6m0 -6l-6 6M401 1136l6 6m0 -6l-6 6M402 1180l6 6m0 -6l-6 6M403 1170l6 6m0 -6l-6 6M403 1148l6 6m0 -6l-6 6M403 1212l6 6m0 -6l-6 6M403 1237l6 6m0 -6l-6 6M403 1153l6 6m0 -6l-6 6M402 1187l6 6m0 -6l-6 6M402 1187l6 6m0 -6l-6 6M403 1183l6 6m0 -6l-6 6M403 1185l6 6m0 -6l-6 6M404 1222l6 6m0 -6l-6 6M404 1099l6 6m0 -6l-6 6M404 1145l6 6m0 -6l-6 6M404 1184l6 6m0 -6l-6 6M403 1172l6 6m0 -6l-6 6M404 1128l6 6m0 -6l-6 6M405 1199l6 6m0 -6l-6 6M405 1185l6 6m0 -6l-6 6M405 1205l6 6m0 -6l-6 6M405 1212l6 6m0 -6l-6 6M405 1153l6 6m0 -6l-6 6M405 1150l6 6m0 -6l-6 6M406 1195l6 6m0 -6l-6 6M406 1088l6 6m0 -6l-6 6M406 1174l6 6m0 -6l-6 6M405 1186l6 6m0 -6l-6 6M405 1182l6 6m0 -6l-6 6M406 1211l6 6m0 -6l-6 6M406 1206l6 6m0 -6l-6 6M406 1172l6 6m0 -6l-6 6M407 1157l6 6m0 -6l-6 6M407 1203l6 6m0 -6l-6 6M407 1160l6 6m0 -6l-6 6M406 1156l6 6m0 -6l-6 6M406 1211l6 6m0 -6l-6 6M406 1227l6 6m0 -6l-6 6M408 1223l6 6m0 -6l-6 6M408 1202l6 6m0 -6l-6 6M408 1240l6 6m0 -6l-6 6M408 1121l6 6m0 -6l-6 6M408 1095l6 6m0 -6l-6 6M408 1187l6 6m0 -6l-6 6M408 1178l6 6m0 -6l-6 6M409 1178l6 6m0 -6l-6 6M409 1166l6 6m0 -6l-6 6M409 1150l6 6m0 -6l-6 6M409 1161l6 6m0 -6l-6 6M408 1209l6 6m0 -6l-6 6M409 1206l6 6m0 -6l-6 6M409 1143l6 6m0 -6l-6 6M410 1163l6 6m0 -6l-6 6M410 1174l6 6m0 -6l-6 6M409 1142l6 6m0 -6l-6 6M410 1214l6 6m0 -6l-6 6M410 1189l6 6m0 -6l-6 6M410 1183l6 6m0 -6l-6 6M410 1197l6 6m0 -6l-6 6M411 1189l6 6m0 -6l-6 6M411 1180l6 6m0 -6l-6 6M411 1159l6 6m0 -6l-6 6M411 1170l6 6m0 -6l-6 6M411 1151l6 6m0 -6l-6 6M411 1198l6 6m0 -6l-6 6M411 1187l6 6m0 -6l-6 6M411 1248l6 6m0 -6l-6 6M412 1127l6 6m0 -6l-6 6M412 1147l6 6m0 -6l-6 6M411 1142l6 6m0 -6l-6 6M411 1146l6 6m0 -6l-6 6M412 1212l6 6m0 -6l-6 6M412 1200l6 6m0 -6l-6 6M413 1181l6 6m0 -6l-6 6M412 1158l6 6m0 -6l-6 6M413 1143l6 6m0 -6l-6 6M413 1211l6 6m0 -6l-6 6M413 1124l6 6m0 -6l-6 6M413 1207l6 6m0 -6l-6 6M412 1169l6 6m0 -6l-6 6M414 1141l6 6m0 -6l-6 6M414 1144l6 6m0 -6l-6 6M414 1178l6 6m0 -6l-6 6M414 1113l6 6m0 -6l-6 6M414 1187l6 6m0 -6l-6 6M413 1182l6 6m0 -6l-6 6M414 1124l6 6m0 -6l-6 6M415 1197l6 6m0 -6l-6 6M414 1176l6 6m0 -6l-6 6M415 1191l6 6m0 -6l-6 6M415 1171l6 6m0 -6l-6 6M415 1180l6 6m0 -6l-6 6M415 1252l6 6m0 -6l-6 6M415 1110l6 6m0 -6l-6 6M415 1155l6 6m0 -6l-6 6M415 1187l6 6m0 -6l-6 6M415 1172l6 6m0 -6l-6 6M416 1192l6 6m0 -6l-6 6M416 1167l6 6m0 -6l-6 6M415 1146l6 6m0 -6l-6 6M416 1208l6 6m0 -6l-6 6M417 1223l6 6m0 -6l-6 6M416 1203l6 6m0 -6l-6 6M417 1163l6 6m0 -6l-6 6M417 1137l6 6m0 -6l-6 6M416 1200l6 6m0 -6l-6 6M417 1191l6 6m0 -6l-6 6M417 1250l6 6m0 -6l-6 6M417 1134l6 6m0 -6l-6 6M418 1117l6 6m0 -6l-6 6M417 1165l6 6m0 -6l-6 6M418 1133l6 6m0 -6l-6 6M418 1171l6 6m0 -6l-6 6M418 1129l6 6m0 -6l-6 6M418 1204l6 6m0 -6l-6 6M419 1174l6 6m0 -6l-6 6M419 1201l6 6m0 -6l-6 6M419 1151l6 6m0 -6l-6 6M419 1195l6 6m0 -6l-6 6M419 1177l6 6m0 -6l-6 6M418 1127l6 6m0 -6l-6 6M419 1131l6 6m0 -6l-6 6M420 1164l6 6m0 -6l-6 6M420 1142l6 6m0 -6l-6 6M420 1134l6 6m0 -6l-6 6M420 1121l6 6m0 -6l-6 6M420 1200l6 6m0 -6l-6 6M420 1234l6 6m0 -6l-6 6M420 1220l6 6m0 -6l-6 6M421 1207l6 6m0 -6l-6 6M421 1145l6 6m0 -6l-6 6M421 1140l6 6m0 -6l-6 6M420 1216l6 6m0 -6l-6 6M421 1199l6 6m0 -6l-6 6M421 1149l6 6m0 -6l-6 6M421 1221l6 6m0 -6l-6 6M422 1181l6 6m0 -6l-6 6M421 1201l6 6m0 -6l-6 6M422 1184l6 6m0 -6l-6 6M422 1108l6 6m0 -6l-6 6M422 1234l6 6m0 -6l-6 6M422 1215l6 6m0 -6l-6 6M422 1180l6 6m0 -6l-6 6M423 1172l6 6m0 -6l-6 6M423 1150l6 6m0 -6l-6 6M423 1142l6 6m0 -6l-6 6M423 1157l6 6m0 -6l-6 6M423 1211l6 6m0 -6l-6 6M423 1201l6 6m0 -6l-6 6M423 1185l6 6m0 -6l-6 6M424 1140l6 6m0 -6l-6 6M424 1251l6 6m0 -6l-6 6M424 1221l6 6m0 -6l-6 6M424 1172l6 6m0 -6l-6 6M424 1202l6 6m0 -6l-6 6M424 1180l6 6m0 -6l-6 6M424 1227l6 6m0 -6l-6 6M425 1305l6 6m0 -6l-6 6M425 1172l6 6m0 -6l-6 6M425 1169l6 6m0 -6l-6 6M425 1171l6 6m0 -6l-6 6M425 1227l6 6m0 -6l-6 6M425 1221l6 6m0 -6l-6 6M425 1220l6 6m0 -6l-6 6M426 1207l6 6m0 -6l-6 6M426 1129l6 6m0 -6l-6 6M426 1146l6 6m0 -6l-6 6M425 1134l6 6m0 -6l-6 6M426 1183l6 6m0 -6l-6 6M426 1189l6 6m0 -6l-6 6M426 1158l6 6m0 -6l-6 6M427 1154l6 6m0 -6l-6 6M426 1136l6 6m0 -6l-6 6M427 1173l6 6m0 -6l-6 6M427 1178l6 6m0 -6l-6 6M427 1225l6 6m0 -6l-6 6M426 1158l6 6m0 -6l-6 6M427 1200l6 6m0 -6l-6 6M428 1148l6 6m0 -6l-6 6M428 1215l6 6m0 -6l-6 6M428 1168l6 6m0 -6l-6 6M428 1210l6 6m0 -6l-6 6M428 1104l6 6m0 -6l-6 6M427 1236l6 6m0 -6l-6 6M428 1194l6 6m0 -6l-6 6M429 1180l6 6m0 -6l-6 6M429 1155l6 6m0 -6l-6 6M429 1217l6 6m0 -6l-6 6M429 1153l6 6m0 -6l-6 6M429 1237l6 6m0 -6l-6 6M429 1165l6 6m0 -6l-6 6M429 1132l6 6m0 -6l-6 6M430 1181l6 6m0 -6l-6 6M430 1221l6 6m0 -6l-6 6M430 1156l6 6m0 -6l-6 6M430 1181l6 6m0 -6l-6 6M430 1109l6 6m0 -6l-6 6M430 1211l6 6m0 -6l-6 6M430 1194l6 6m0 -6l-6 6M431 1176l6 6m0 -6l-6 6M430 1192l6 6m0 -6l-6 6M431 1107l6 6m0 -6l-6 6M430 1152l6 6m0 -6l-6 6M431 1155l6 6m0 -6l-6 6M430 1134l6 6m0 -6l-6 6M430 1172l6 6m0 -6l-6 6M432 1171l6 6m0 -6l-6 6M432 1128l6 6m0 -6l-6 6M432 1185l6 6m0 -6l-6 6M432 1133l6 6m0 -6l-6 6M432 1202l6 6m0 -6l-6 6M432 1191l6 6m0 -6l-6 6M432 1173l6 6m0 -6l-6 6M433 1234l6 6m0 -6l-6 6M433 1172l6 6m0 -6l-6 6M433 1155l6 6m0 -6l-6 6M433 1162l6 6m0 -6l-6 6M433 1184l6 6m0 -6l-6 6M433 1197l6 6m0 -6l-6 6M433 1175l6 6m0 -6l-6 6M434 1306l6 6m0 -6l-6 6M433 1200l6 6m0 -6l-6 6M434 1177l6 6m0 -6l-6 6M433 1167l6 6m0 -6l-6 6M434 1169l6 6m0 -6l-6 6M434 1165l6 6m0 -6l-6 6M434 1146l6 6m0 -6l-6 6M435 1220l6 6m0 -6l-6 6M435 1269l6 6m0 -6l-6 6M435 1224l6 6m0 -6l-6 6M435 1187l6 6m0 -6l-6 6M434 1175l6 6m0 -6l-6 6M434 1119l6 6m0 -6l-6 6M435 1196l6 6m0 -6l-6 6M436 1176l6 6m0 -6l-6 6M436 1231l6 6m0 -6l-6 6M436 1150l6 6m0 -6l-6 6M436 1171l6 6m0 -6l-6 6M435 1214l6 6m0 -6l-6 6M436 1216l6 6m0 -6l-6 6M436 1238l6 6m0 -6l-6 6M437 1197l6 6m0 -6l-6 6M436 1147l6 6m0 -6l-6 6M436 1217l6 6m0 -6l-6 6M437 1170l6 6m0 -6l-6 6M437 1176l6 6m0 -6l-6 6M437 1139l6 6m0 -6l-6 6M437 1224l6 6m0 -6l-6 6M438 1151l6 6m0 -6l-6 6M438 1140l6 6m0 -6l-6 6M438 1148l6 6m0 -6l-6 6M438 1134l6 6m0 -6l-6 6M437 1189l6 6m0 -6l-6 6M438 1188l6 6m0 -6l-6 6M437 1189l6 6m0 -6l-6 6M439 1108l6 6m0 -6l-6 6M438 1219l6 6m0 -6l-6 6M438 1180l6 6m0 -6l-6 6M439 1221l6 6m0 -6l-6 6M439 1155l6 6m0 -6l-6 6M439 1166l6 6m0 -6l-6 6M439 1172l6 6m0 -6l-6 6M440 1132l6 6m0 -6l-6 6M440 1170l6 6m0 -6l-6 6M440 1163l6 6m0 -6l-6 6M440 1208l6 6m0 -6l-6 6M440 1198l6 6m0 -6l-6 6M440 1198l6 6m0 -6l-6 6M440 1205l6 6m0 -6l-6 6M441 1103l6 6m0 -6l-6 6M441 1182l6 6m0 -6l-6 6M440 1203l6 6m0 -6l-6 6M441 1185l6 6m0 -6l-6 6M441 1175l6 6m0 -6l-6 6M441 1122l6 6m0 -6l-6 6M441 1201l6 6m0 -6l-6 6M442 1163l6 6m0 -6l-6 6M442 1189l6 6m0 -6l-6 6M442 1146l6 6m0 -6l-6 6M442 1217l6 6m0 -6l-6 6M442 1221l6 6m0 -6l-6 6M442 1190l6 6m0 -6l-6 6M442 1273l6 6m0 -6l-6 6M443 1202l6 6m0 -6l-6 6M443 1112l6 6m0 -6l-6 6M442 1210l6 6m0 -6l-6 6M443 1180l6 6m0 -6l-6 6M442 1264l6 6m0 -6l-6 6M443 1162l6 6m0 -6l-6 6M443 1111l6 6m0 -6l-6 6M444 1185l6 6m0 -6l-6 6M444 1152l6 6m0 -6l-6 6M444 1164l6 6m0 -6l-6 6M444 1149l6 6m0 -6l-6 6M444 1228l6 6m0 -6l-6 6M444 1150l6 6m0 -6l-6 6M444 1158l6 6m0 -6l-6 6M445 1184l6 6m0 -6l-6 6M444 1191l6 6m0 -6l-6 6M445 1214l6 6m0 -6l-6 6M445 1197l6 6m0 -6l-6 6M445 1126l6 6m0 -6l-6 6M445 1196l6 6m0 -6l-6 6M445 1163l6 6m0 -6l-6 6M446 1148l6 6m0 -6l-6 6M446 1180l6 6m0 -6l-6 6M446 1185l6 6m0 -6l-6 6M446 1158l6 6m0 -6l-6 6M446 1116l6 6m0 -6l-6 6M446 1202l6 6m0 -6l-6 6M446 1184l6 6m0 -6l-6 6M447 1192l6 6m0 -6l-6 6M446 1185l6 6m0 -6l-6 6M447 1134l6 6m0 -6l-6 6M447 1168l6 6m0 -6l-6 6M447 1137l6 6m0 -6l-6 6M447 1202l6 6m0 -6l-6 6M447 1150l6 6m0 -6l-6 6M448 1193l6 6m0 -6l-6 6M448 1184l6 6m0 -6l-6 6M447 1194l6 6m0 -6l-6 6M448 1199l6 6m0 -6l-6 6M448 1154l6 6m0 -6l-6 6M447 1157l6 6m0 -6l-6 6M448 1147l6 6m0 -6l-6 6M449 1184l6 6m0 -6l-6 6M449 1210l6 6m0 -6l-6 6M449 1193l6 6m0 -6l-6 6M449 1238l6 6m0 -6l-6 6M448 1214l6 6m0 -6l-6 6M449 1152l6 6m0 -6l-6 6M448 1197l6 6m0 -6l-6 6M449 1129l6 6m0 -6l-6 6M450 1213l6 6m0 -6l-6 6M450 1155l6 6m0 -6l-6 6M450 1142l6 6m0 -6l-6 6M450 1131l6 6m0 -6l-6 6M450 1255l6 6m0 -6l-6 6M450 1127l6 6m0 -6l-6 6M451 1145l6 6m0 -6l-6 6M451 1183l6 6m0 -6l-6 6M450 1214l6 6m0 -6l-6 6M451 1245l6 6m0 -6l-6 6M451 1182l6 6m0 -6l-6 6M451 1214l6 6m0 -6l-6 6M451 1166l6 6m0 -6l-6 6M452 1169l6 6m0 -6l-6 6M451 1179l6 6m0 -6l-6 6M452 1159l6 6m0 -6l-6 6M451 1174l6 6m0 -6l-6 6M452 1195l6 6m0 -6l-6 6M452 1159l6 6m0 -6l-6 6M452 1166l6 6m0 -6l-6 6M453 1221l6 6m0 -6l-6 6M452 1177l6 6m0 -6l-6 6M453 1159l6 6m0 -6l-6 6M452 1209l6 6m0 -6l-6 6M452 1218l6 6m0 -6l-6 6M452 1156l6 6m0 -6l-6 6M453 1093l6 6m0 -6l-6 6M454 1208l6 6m0 -6l-6 6M454 1208l6 6m0 -6l-6 6M454 1199l6 6m0 -6l-6 6M453 1226l6 6m0 -6l-6 6M454 1156l6 6m0 -6l-6 6M454 1129l6 6m0 -6l-6 6M454 1136l6 6m0 -6l-6 6M455 1206l6 6m0 -6l-6 6M454 1179l6 6m0 -6l-6 6M455 1166l6 6m0 -6l-6 6M455 1171l6 6m0 -6l-6 6M455 1262l6 6m0 -6l-6 6M455 1200l6 6m0 -6l-6 6M455 1143l6 6m0 -6l-6 6M456 1153l6 6m0 -6l-6 6M456 1203l6 6m0 -6l-6 6M456 1133l6 6m0 -6l-6 6M455 1213l6 6m0 -6l-6 6M456 1157l6 6m0 -6l-6 6M456 1180l6 6m0 -6l-6 6M456 1195l6 6m0 -6l-6 6M457 1181l6 6m0 -6l-6 6M457 1237l6 6m0 -6l-6 6M456 1223l6 6m0 -6l-6 6M457 1138l6 6m0 -6l-6 6M457 1181l6 6m0 -6l-6 6M457 1129l6 6m0 -6l-6 6M456 1231l6 6m0 -6l-6 6M458 1178l6 6m0 -6l-6 6M458 1207l6 6m0 -6l-6 6M458 1203l6 6m0 -6l-6 6M458 1165l6 6m0 -6l-6 6M458 1153l6 6m0 -6l-6 6M458 1126l6 6m0 -6l-6 6M458 1163l6 6m0 -6l-6 6M459 1156l6 6m0 -6l-6 6M459 1181l6 6m0 -6l-6 6M459 1162l6 6m0 -6l-6 6M459 1153l6 6m0 -6l-6 6M459 1130l6 6m0 -6l-6 6M459 1163l6 6m0 -6l-6 6M459 1143l6 6m0 -6l-6 6M460 1187l6 6m0 -6l-6 6M460 1238l6 6m0 -6l-6 6M460 1161l6 6m0 -6l-6 6M460 1118l6 6m0 -6l-6 6M460 1148l6 6m0 -6l-6 6M460 1127l6 6m0 -6l-6 6M460 1132l6 6m0 -6l-6 6M461 1185l6 6m0 -6l-6 6M461 1186l6 6m0 -6l-6 6M461 1167l6 6m0 -6l-6 6M461 1169l6 6m0 -6l-6 6M460 1193l6 6m0 -6l-6 6M461 1194l6 6m0 -6l-6 6M461 1144l6 6m0 -6l-6 6M461 1224l6 6m0 -6l-6 6M462 1160l6 6m0 -6l-6 6M461 1146l6 6m0 -6l-6 6M462 1143l6 6m0 -6l-6 6M462 1124l6 6m0 -6l-6 6M462 1110l6 6m0 -6l-6 6M462 1141l6 6m0 -6l-6 6M463 1125l6 6m0 -6l-6 6M463 1145l6 6m0 -6l-6 6M463 1173l6 6m0 -6l-6 6M463 1217l6 6m0 -6l-6 6M463 1223l6 6m0 -6l-6 6M463 1158l6 6m0 -6l-6 6M463 1149l6 6m0 -6l-6 6M464 1186l6 6m0 -6l-6 6M464 1124l6 6m0 -6l-6 6M464 1166l6 6m0 -6l-6 6M464 1233l6 6m0 -6l-6 6M464 1197l6 6m0 -6l-6 6M464 1196l6 6m0 -6l-6 6M464 1211l6 6m0 -6l-6 6M465 1179l6 6m0 -6l-6 6M464 1218l6 6m0 -6l-6 6M465 1162l6 6m0 -6l-6 6M465 1231l6 6m0 -6l-6 6M465 1150l6 6m0 -6l-6 6M465 1165l6 6m0 -6l-6 6M464 1165l6 6m0 -6l-6 6M465 1196l6 6m0 -6l-6 6M466 1128l6 6m0 -6l-6 6M466 1167l6 6m0 -6l-6 6M466 1135l6 6m0 -6l-6 6M466 1156l6 6m0 -6l-6 6M466 1172l6 6m0 -6l-6 6M466 1155l6 6m0 -6l-6 6M467 1188l6 6m0 -6l-6 6M467 1201l6 6m0 -6l-6 6M467 1176l6 6m0 -6l-6 6M467 1200l6 6m0 -6l-6 6M467 1162l6 6m0 -6l-6 6M467 1217l6 6m0 -6l-6 6M467 1166l6 6m0 -6l-6 6M467 1208l6 6m0 -6l-6 6M468 1168l6 6m0 -6l-6 6M468 1161l6 6m0 -6l-6 6M468 1117l6 6m0 -6l-6 6M468 1206l6 6m0 -6l-6 6M467 1180l6 6m0 -6l-6 6M468 1164l6 6m0 -6l-6 6M469 1082l6 6m0 -6l-6 6M469 1170l6 6m0 -6l-6 6M468 1259l6 6m0 -6l-6 6M469 1150l6 6m0 -6l-6 6M469 1180l6 6m0 -6l-6 6M469 1181l6 6m0 -6l-6 6M468 1181l6 6m0 -6l-6 6M470 1187l6 6m0 -6l-6 6M470 1110l6 6m0 -6l-6 6M469 1200l6 6m0 -6l-6 6M470 1169l6 6m0 -6l-6 6M470 1212l6 6m0 -6l-6 6M469 1193l6 6m0 -6l-6 6M469 1183l6 6m0 -6l-6 6M470 1196l6 6m0 -6l-6 6M471 1092l6 6m0 -6l-6 6M471 1163l6 6m0 -6l-6 6M471 1164l6 6m0 -6l-6 6M471 1213l6 6m0 -6l-6 6M471 1201l6 6m0 -6l-6 6M471 1141l6 6m0 -6l-6 6M472 1132l6 6m0 -6l-6 6M472 1142l6 6m0 -6l-6 6M472 1158l6 6m0 -6l-6 6M472 1193l6 6m0 -6l-6 6M471 1192l6 6m0 -6l-6 6M471 1189l6 6m0 -6l-6 6M472 1176l6 6m0 -6l-6 6M473 1164l6 6m0 -6l-6 6M473 1129l6 6m0 -6l-6 6M473 1111l6 6m0 -6l-6 6M473 1153l6 6m0 -6l-6 6M472 1188l6 6m0 -6l-6 6M473 1127l6 6m0 -6l-6 6M472 1169l6 6m0 -6l-6 6M474 1140l6 6m0 -6l-6 6M474 1167l6 6m0 -6l-6 6M474 1155l6 6m0 -6l-6 6M474 1160l6 6m0 -6l-6 6M474 1156l6 6m0 -6l-6 6M474 1122l6 6m0 -6l-6 6M474 1166l6 6m0 -6l-6 6M475 1168l6 6m0 -6l-6 6M475 1143l6 6m0 -6l-6 6M475 1209l6 6m0 -6l-6 6M475 1210l6 6m0 -6l-6 6M475 1164l6 6m0 -6l-6 6M474 1168l6 6m0 -6l-6 6M474 1106l6 6m0 -6l-6 6M476 1245l6 6m0 -6l-6 6M476 1136l6 6m0 -6l-6 6M476 1174l6 6m0 -6l-6 6M475 1148l6 6m0 -6l-6 6M476 1163l6 6m0 -6l-6 6M476 1204l6 6m0 -6l-6 6M476 1172l6 6m0 -6l-6 6M477 1165l6 6m0 -6l-6 6M477 1206l6 6m0 -6l-6 6M477 1210l6 6m0 -6l-6 6M477 1129l6 6m0 -6l-6 6M477 1190l6 6m0 -6l-6 6M477 1167l6 6m0 -6l-6 6M477 1239l6 6m0 -6l-6 6M478 1174l6 6m0 -6l-6 6M478 1198l6 6m0 -6l-6 6M478 1235l6 6m0 -6l-6 6M478 1223l6 6m0 -6l-6 6M478 1207l6 6m0 -6l-6 6M478 1145l6 6m0 -6l-6 6M478 1187l6 6m0 -6l-6 6M478 1186l6 6m0 -6l-6 6M479 1222l6 6m0 -6l-6 6M479 1200l6 6m0 -6l-6 6M479 1198l6 6m0 -6l-6 6M479 1136l6 6m0 -6l-6 6M478 1142l6 6m0 -6l-6 6M479 1210l6 6m0 -6l-6 6M480 1208l6 6m0 -6l-6 6M480 1104l6 6m0 -6l-6 6M480 1180l6 6m0 -6l-6 6M480 1207l6 6m0 -6l-6 6M479 1231l6 6m0 -6l-6 6M480 1169l6 6m0 -6l-6 6M480 1150l6 6m0 -6l-6 6M481 1244l6 6m0 -6l-6 6M481 1169l6 6m0 -6l-6 6M480 1117l6 6m0 -6l-6 6M481 1221l6 6m0 -6l-6 6M481 1187l6 6m0 -6l-6 6M481 1131l6 6m0 -6l-6 6M481 1200l6 6m0 -6l-6 6M481 1095l6 6m0 -6l-6 6M482 1221l6 6m0 -6l-6 6M482 1221l6 6m0 -6l-6 6M482 1179l6 6m0 -6l-6 6M482 1157l6 6m0 -6l-6 6M481 1207l6 6m0 -6l-6 6M481 1190l6 6m0 -6l-6 6M483 1168l6 6m0 -6l-6 6M483 1193l6 6m0 -6l-6 6M483 1204l6 6m0 -6l-6 6M482 1140l6 6m0 -6l-6 6M483 1131l6 6m0 -6l-6 6M483 1221l6 6m0 -6l-6 6M482 1263l6 6m0 -6l-6 6M484 1171l6 6m0 -6l-6 6M484 1158l6 6m0 -6l-6 6M484 1180l6 6m0 -6l-6 6M484 1165l6 6m0 -6l-6 6M483 1215l6 6m0 -6l-6 6M484 1162l6 6m0 -6l-6 6M483 1136l6 6m0 -6l-6 6M485 1188l6 6m0 -6l-6 6M485 1145l6 6m0 -6l-6 6M485 1135l6 6m0 -6l-6 6M485 1155l6 6m0 -6l-6 6M485 1161l6 6m0 -6l-6 6M485 1183l6 6m0 -6l-6 6M485 1151l6 6m0 -6l-6 6M486 1218l6 6m0 -6l-6 6M485 1148l6 6m0 -6l-6 6M486 1143l6 6m0 -6l-6 6M486 1165l6 6m0 -6l-6 6M485 1116l6 6m0 -6l-6 6M486 1160l6 6m0 -6l-6 6M486 1188l6 6m0 -6l-6 6M486 1168l6 6m0 -6l-6 6M487 1224l6 6m0 -6l-6 6M486 1149l6 6m0 -6l-6 6M487 1147l6 6m0 -6l-6 6M487 1213l6 6m0 -6l-6 6M487 1163l6 6m0 -6l-6 6M487 1190l6 6m0 -6l-6 6M488 1145l6 6m0 -6l-6 6M488 1169l6 6m0 -6l-6 6M488 1151l6 6m0 -6l-6 6M488 1239l6 6m0 -6l-6 6M488 1149l6 6m0 -6l-6 6M488 1177l6 6m0 -6l-6 6M487 1137l6 6m0 -6l-6 6M489 1176l6 6m0 -6l-6 6M489 1146l6 6m0 -6l-6 6M489 1184l6 6m0 -6l-6 6M489 1180l6 6m0 -6l-6 6M489 1147l6 6m0 -6l-6 6M489 1115l6 6m0 -6l-6 6M489 1160l6 6m0 -6l-6 6M490 1158l6 6m0 -6l-6 6M489 1140l6 6m0 -6l-6 6M489 1236l6 6m0 -6l-6 6M489 1195l6 6m0 -6l-6 6M490 1143l6 6m0 -6l-6 6M490 1125l6 6m0 -6l-6 6M490 1124l6 6m0 -6l-6 6M491 1166l6 6m0 -6l-6 6M491 1188l6 6m0 -6l-6 6M491 1173l6 6m0 -6l-6 6M491 1071l6 6m0 -6l-6 6M491 1230l6 6m0 -6l-6 6M491 1105l6 6m0 -6l-6 6M491 1174l6 6m0 -6l-6 6M492 1164l6 6m0 -6l-6 6M492 1111l6 6m0 -6l-6 6M492 1176l6 6m0 -6l-6 6M492 1183l6 6m0 -6l-6 6M492 1182l6 6m0 -6l-6 6M492 1159l6 6m0 -6l-6 6M491 1231l6 6m0 -6l-6 6M493 1195l6 6m0 -6l-6 6M493 1111l6 6m0 -6l-6 6M493 1262l6 6m0 -6l-6 6M493 1190l6 6m0 -6l-6 6M493 1161l6 6m0 -6l-6 6M493 1195l6 6m0 -6l-6 6M492 1137l6 6m0 -6l-6 6M494 1164l6 6m0 -6l-6 6M494 1189l6 6m0 -6l-6 6M494 1173l6 6m0 -6l-6 6M494 1180l6 6m0 -6l-6 6M494 1158l6 6m0 -6l-6 6M494 1148l6 6m0 -6l-6 6M494 1148l6 6m0 -6l-6 6M495 1149l6 6m0 -6l-6 6M494 1177l6 6m0 -6l-6 6M495 1138l6 6m0 -6l-6 6M495 1197l6 6m0 -6l-6 6M495 1162l6 6m0 -6l-6 6M495 1187l6 6m0 -6l-6 6M495 1213l6 6m0 -6l-6 6M496 1125l6 6m0 -6l-6 6M496 1201l6 6m0 -6l-6 6M496 1114l6 6m0 -6l-6 6M496 1133l6 6m0 -6l-6 6M496 1156l6 6m0 -6l-6 6M496 1100l6 6m0 -6l-6 6M496 1165l6 6m0 -6l-6 6M496 1232l6 6m0 -6l-6 6M497 1152l6 6m0 -6l-6 6M497 1185l6 6m0 -6l-6 6M497 1211l6 6m0 -6l-6 6M497 1159l6 6m0 -6l-6 6M497 1190l6 6m0 -6l-6 6M497 1232l6 6m0 -6l-6 6M498 1175l6 6m0 -6l-6 6M498 1113l6 6m0 -6l-6 6M497 1185l6 6m0 -6l-6 6M497 1213l6 6m0 -6l-6 6M498 1150l6 6m0 -6l-6 6M497 1195l6 6m0 -6l-6 6M498 1154l6 6m0 -6l-6 6M499 1130l6 6m0 -6l-6 6M498 1191l6 6m0 -6l-6 6M499 1126l6 6m0 -6l-6 6M499 1160l6 6m0 -6l-6 6M499 1210l6 6m0 -6l-6 6M498 1177l6 6m0 -6l-6 6M499 1168l6 6m0 -6l-6 6M500 1116l6 6m0 -6l-6 6M499 1191l6 6m0 -6l-6 6M500 1121l6 6m0 -6l-6 6M500 1182l6 6m0 -6l-6 6M500 1205l6 6m0 -6l-6 6M500 1186l6 6m0 -6l-6 6M500 1186l6 6m0 -6l-6 6M501 1185l6 6m0 -6l-6 6M501 1173l6 6m0 -6l-6 6M501 1179l6 6m0 -6l-6 6M501 1151l6 6m0 -6l-6 6M501 1164l6 6m0 -6l-6 6M501 1167l6 6m0 -6l-6 6M501 1169l6 6m0 -6l-6 6M502 1226l6 6m0 -6l-6 6M502 1251l6 6m0 -6l-6 6M502 1105l6 6m0 -6l-6 6M501 1199l6 6m0 -6l-6 6M502 1201l6 6m0 -6l-6 6M502 1169l6 6m0 -6l-6 6M502 1121l6 6m0 -6l-6 6M502 1149l6 6m0 -6l-6 6M503 1175l6 6m0 -6l-6 6M503 1138l6 6m0 -6l-6 6M503 1198l6 6m0 -6l-6 6M503 1218l6 6m0 -6l-6 6M503 1120l6 6m0 -6l-6 6M502 1221l6 6m0 -6l-6 6M504 1204l6 6m0 -6l-6 6M504 1195l6 6m0 -6l-6 6M504 1156l6 6m0 -6l-6 6M504 1188l6 6m0 -6l-6 6M504 1212l6 6m0 -6l-6 6M504 1180l6 6m0 -6l-6 6M504 1147l6 6m0 -6l-6 6M505 1147l6 6m0 -6l-6 6M505 1150l6 6m0 -6l-6 6M505 1201l6 6m0 -6l-6 6M505 1220l6 6m0 -6l-6 6M504 1137l6 6m0 -6l-6 6M504 1171l6 6m0 -6l-6 6M505 1154l6 6m0 -6l-6 6M505 1154l6 6m0 -6l-6 6M506 1117l6 6m0 -6l-6 6M506 1120l6 6m0 -6l-6 6M506 1161l6 6m0 -6l-6 6M505 1159l6 6m0 -6l-6 6M506 1147l6 6m0 -6l-6 6M506 1137l6 6m0 -6l-6 6M507 1201l6 6m0 -6l-6 6M507 1118l6 6m0 -6l-6 6M507 1111l6 6m0 -6l-6 6M507 1187l6 6m0 -6l-6 6M507 1219l6 6m0 -6l-6 6M507 1152l6 6m0 -6l-6 6M507 1134l6 6m0 -6l-6 6M508 1169l6 6m0 -6l-6 6M508 1118l6 6m0 -6l-6 6M508 1200l6 6m0 -6l-6 6M508 1172l6 6m0 -6l-6 6M508 1178l6 6m0 -6l-6 6M508 1172l6 6m0 -6l-6 6M508 1180l6 6m0 -6l-6 6M509 1207l6 6m0 -6l-6 6M509 1224l6 6m0 -6l-6 6M509 1155l6 6m0 -6l-6 6M509 1158l6 6m0 -6l-6 6M509 1183l6 6m0 -6l-6 6M509 1275l6 6m0 -6l-6 6M509 1179l6 6m0 -6l-6 6M510 1243l6 6m0 -6l-6 6M509 1165l6 6m0 -6l-6 6M510 1194l6 6m0 -6l-6 6M510 1166l6 6m0 -6l-6 6M510 1197l6 6m0 -6l-6 6M510 1164l6 6m0 -6l-6 6M510 1157l6 6m0 -6l-6 6M511 1156l6 6m0 -6l-6 6M511 1187l6 6m0 -6l-6 6M511 1139l6 6m0 -6l-6 6M511 1141l6 6m0 -6l-6 6M511 1206l6 6m0 -6l-6 6M511 1164l6 6m0 -6l-6 6M510 1205l6 6m0 -6l-6 6M511 1098l6 6m0 -6l-6 6M512 1191l6 6m0 -6l-6 6M512 1269l6 6m0 -6l-6 6M512 1187l6 6m0 -6l-6 6M512 1168l6 6m0 -6l-6 6M511 1172l6 6m0 -6l-6 6M512 1185l6 6m0 -6l-6 6M513 1167l6 6m0 -6l-6 6M513 1174l6 6m0 -6l-6 6M513 1132l6 6m0 -6l-6 6M513 1237l6 6m0 -6l-6 6M513 1216l6 6m0 -6l-6 6M512 1124l6 6m0 -6l-6 6M513 1214l6 6m0 -6l-6 6M514 1168l6 6m0 -6l-6 6M514 1211l6 6m0 -6l-6 6M514 1150l6 6m0 -6l-6 6M514 1168l6 6m0 -6l-6 6M514 1157l6 6m0 -6l-6 6M514 1231l6 6m0 -6l-6 6M514 1127l6 6m0 -6l-6 6M515 1176l6 6m0 -6l-6 6M515 1215l6 6m0 -6l-6 6M515 1209l6 6m0 -6l-6 6M515 1214l6 6m0 -6l-6 6M515 1208l6 6m0 -6l-6 6M515 1190l6 6m0 -6l-6 6M515 1166l6 6m0 -6l-6 6M516 1139l6 6m0 -6l-6 6M516 1272l6 6m0 -6l-6 6M516 1144l6 6m0 -6l-6 6M516 1196l6 6m0 -6l-6 6M515 1176l6 6m0 -6l-6 6M516 1210l6 6m0 -6l-6 6M516 1150l6 6m0 -6l-6 6M517 1164l6 6m0 -6l-6 6M517 1156l6 6m0 -6l-6 6M517 1210l6 6m0 -6l-6 6M517 1153l6 6m0 -6l-6 6M517 1185l6 6m0 -6l-6 6M517 1181l6 6m0 -6l-6 6M517 1210l6 6m0 -6l-6 6M518 1197l6 6m0 -6l-6 6M517 1210l6 6m0 -6l-6 6M518 1207l6 6m0 -6l-6 6M518 1163l6 6m0 -6l-6 6M518 1139l6 6m0 -6l-6 6M518 1143l6 6m0 -6l-6 6M517 1213l6 6m0 -6l-6 6M519 1195l6 6m0 -6l-6 6M519 1134l6 6m0 -6l-6 6M519 1140l6 6m0 -6l-6 6M519 1189l6 6m0 -6l-6 6M519 1201l6 6m0 -6l-6 6M519 1184l6 6m0 -6l-6 6M519 1137l6 6m0 -6l-6 6M520 1154l6 6m0 -6l-6 6M520 1210l6 6m0 -6l-6 6M519 1205l6 6m0 -6l-6 6M520 1243l6 6m0 -6l-6 6M520 1150l6 6m0 -6l-6 6M520 1160l6 6m0 -6l-6 6M520 1221l6 6m0 -6l-6 6M521 1163l6 6m0 -6l-6 6M521 1196l6 6m0 -6l-6 6M521 1216l6 6m0 -6l-6 6M521 1126l6 6m0 -6l-6 6M521 1230l6 6m0 -6l-6 6M521 1177l6 6m0 -6l-6 6M521 1213l6 6m0 -6l-6 6M521 1171l6 6m0 -6l-6 6M522 1205l6 6m0 -6l-6 6M522 1177l6 6m0 -6l-6 6M522 1184l6 6m0 -6l-6 6M522 1148l6 6m0 -6l-6 6M522 1141l6 6m0 -6l-6 6M522 1215l6 6m0 -6l-6 6M523 1220l6 6m0 -6l-6 6M523 1153l6 6m0 -6l-6 6M522 1113l6 6m0 -6l-6 6M523 1209l6 6m0 -6l-6 6M523 1172l6 6m0 -6l-6 6M523 1157l6 6m0 -6l-6 6M523 1155l6 6m0 -6l-6 6M524 1131l6 6m0 -6l-6 6M524 1221l6 6m0 -6l-6 6M524 1216l6 6m0 -6l-6 6M524 1156l6 6m0 -6l-6 6M523 1211l6 6m0 -6l-6 6M524 1141l6 6m0 -6l-6 6M524 1156l6 6m0 -6l-6 6M525 1186l6 6m0 -6l-6 6M525 1131l6 6m0 -6l-6 6M525 1158l6 6m0 -6l-6 6M525 1151l6 6m0 -6l-6 6M525 1187l6 6m0 -6l-6 6M525 1158l6 6m0 -6l-6 6M525 1201l6 6m0 -6l-6 6M526 1186l6 6m0 -6l-6 6M526 1139l6 6m0 -6l-6 6M526 1160l6 6m0 -6l-6 6M525 1231l6 6m0 -6l-6 6M526 1153l6 6m0 -6l-6 6M525 1145l6 6m0 -6l-6 6M526 1178l6 6m0 -6l-6 6M527 1208l6 6m0 -6l-6 6M527 1181l6 6m0 -6l-6 6M527 1196l6 6m0 -6l-6 6M527 1171l6 6m0 -6l-6 6M527 1225l6 6m0 -6l-6 6M527 1200l6 6m0 -6l-6 6M527 1159l6 6m0 -6l-6 6M528 1181l6 6m0 -6l-6 6M528 1159l6 6m0 -6l-6 6M528 1109l6 6m0 -6l-6 6M528 1189l6 6m0 -6l-6 6M527 1187l6 6m0 -6l-6 6M528 1229l6 6m0 -6l-6 6M528 1190l6 6m0 -6l-6 6M529 1221l6 6m0 -6l-6 6M529 1163l6 6m0 -6l-6 6M528 1239l6 6m0 -6l-6 6M529 1173l6 6m0 -6l-6 6M529 1195l6 6m0 -6l-6 6M529 1232l6 6m0 -6l-6 6M529 1173l6 6m0 -6l-6 6M529 1212l6 6m0 -6l-6 6M530 1120l6 6m0 -6l-6 6M530 1215l6 6m0 -6l-6 6M530 1174l6 6m0 -6l-6 6M530 1185l6 6m0 -6l-6 6M530 1210l6 6m0 -6l-6 6M530 1176l6 6m0 -6l-6 6M531 1192l6 6m0 -6l-6 6M531 1201l6 6m0 -6l-6 6M531 1193l6 6m0 -6l-6 6M531 1140l6 6m0 -6l-6 6M531 1146l6 6m0 -6l-6 6M531 1178l6 6m0 -6l-6 6M530 1122l6 6m0 -6l-6 6M532 1173l6 6m0 -6l-6 6M532 1257l6 6m0 -6l-6 6M531 1101l6 6m0 -6l-6 6M532 1154l6 6m0 -6l-6 6M532 1159l6 6m0 -6l-6 6M531 1221l6 6m0 -6l-6 6M532 1116l6 6m0 -6l-6 6M533 1237l6 6m0 -6l-6 6M533 1188l6 6m0 -6l-6 6M533 1212l6 6m0 -6l-6 6M533 1216l6 6m0 -6l-6 6M532 1254l6 6m0 -6l-6 6M533 1209l6 6m0 -6l-6 6M533 1185l6 6m0 -6l-6 6M533 1149l6 6m0 -6l-6 6M533 1196l6 6m0 -6l-6 6M533 1247l6 6m0 -6l-6 6M534 1236l6 6m0 -6l-6 6M534 1220l6 6m0 -6l-6 6M534 1215l6 6m0 -6l-6 6M534 1149l6 6m0 -6l-6 6M535 1251l6 6m0 -6l-6 6M535 1159l6 6m0 -6l-6 6M535 1185l6 6m0 -6l-6 6M535 1145l6 6m0 -6l-6 6M535 1134l6 6m0 -6l-6 6M535 1156l6 6m0 -6l-6 6M535 1192l6 6m0 -6l-6 6M536 1094l6 6m0 -6l-6 6M536 1139l6 6m0 -6l-6 6M536 1206l6 6m0 -6l-6 6M536 1129l6 6m0 -6l-6 6M536 1193l6 6m0 -6l-6 6M536 1204l6 6m0 -6l-6 6M536 1167l6 6m0 -6l-6 6M537 1180l6 6m0 -6l-6 6M536 1170l6 6m0 -6l-6 6M537 1152l6 6m0 -6l-6 6M537 1191l6 6m0 -6l-6 6M537 1188l6 6m0 -6l-6 6M537 1126l6 6m0 -6l-6 6M537 1165l6 6m0 -6l-6 6M538 1172l6 6m0 -6l-6 6M538 1197l6 6m0 -6l-6 6M538 1202l6 6m0 -6l-6 6M538 1227l6 6m0 -6l-6 6M538 1188l6 6m0 -6l-6 6M538 1218l6 6m0 -6l-6 6M538 1196l6 6m0 -6l-6 6M539 1140l6 6m0 -6l-6 6M539 1193l6 6m0 -6l-6 6M539 1217l6 6m0 -6l-6 6M539 1198l6 6m0 -6l-6 6M539 1231l6 6m0 -6l-6 6M539 1182l6 6m0 -6l-6 6M539 1114l6 6m0 -6l-6 6M540 1172l6 6m0 -6l-6 6M540 1175l6 6m0 -6l-6 6M540 1193l6 6m0 -6l-6 6M540 1115l6 6m0 -6l-6 6M539 1127l6 6m0 -6l-6 6M540 1160l6 6m0 -6l-6 6M539 1117l6 6m0 -6l-6 6M541 1149l6 6m0 -6l-6 6M540 1110l6 6m0 -6l-6 6M541 1179l6 6m0 -6l-6 6M541 1172l6 6m0 -6l-6 6M541 1176l6 6m0 -6l-6 6M541 1178l6 6m0 -6l-6 6M541 1210l6 6m0 -6l-6 6M542 1219l6 6m0 -6l-6 6M542 1177l6 6m0 -6l-6 6M542 1191l6 6m0 -6l-6 6M542 1191l6 6m0 -6l-6 6M542 1165l6 6m0 -6l-6 6M542 1168l6 6m0 -6l-6 6M542 1205l6 6m0 -6l-6 6M542 1209l6 6m0 -6l-6 6M543 1185l6 6m0 -6l-6 6M542 1199l6 6m0 -6l-6 6M543 1138l6 6m0 -6l-6 6M542 1126l6 6m0 -6l-6 6M543 1181l6 6m0 -6l-6 6M543 1211l6 6m0 -6l-6 6M544 1168l6 6m0 -6l-6 6M544 1217l6 6m0 -6l-6 6M544 1208l6 6m0 -6l-6 6M544 1201l6 6m0 -6l-6 6M544 1184l6 6m0 -6l-6 6M544 1170l6 6m0 -6l-6 6M543 1201l6 6m0 -6l-6 6M545 1174l6 6m0 -6l-6 6M545 1170l6 6m0 -6l-6 6M545 1168l6 6m0 -6l-6 6M544 1181l6 6m0 -6l-6 6M545 1161l6 6m0 -6l-6 6M545 1201l6 6m0 -6l-6 6M544 1179l6 6m0 -6l-6 6M546 1170l6 6m0 -6l-6 6M546 1147l6 6m0 -6l-6 6M546 1176l6 6m0 -6l-6 6M546 1205l6 6m0 -6l-6 6M546 1178l6 6m0 -6l-6 6M546 1176l6 6m0 -6l-6 6M546 1136l6 6m0 -6l-6 6M547 1210l6 6m0 -6l-6 6M547 1183l6 6m0 -6l-6 6M546 1273l6 6m0 -6l-6 6M547 1084l6 6m0 -6l-6 6M547 1186l6 6m0 -6l-6 6M547 1234l6 6m0 -6l-6 6M547 1121l6 6m0 -6l-6 6M548 1161l6 6m0 -6l-6 6M548 1189l6 6m0 -6l-6 6M548 1213l6 6m0 -6l-6 6M548 1145l6 6m0 -6l-6 6M547 1146l6 6m0 -6l-6 6M547 1239l6 6m0 -6l-6 6M548 1160l6 6m0 -6l-6 6M549 1209l6 6m0 -6l-6 6M549 1135l6 6m0 -6l-6 6M549 1155l6 6m0 -6l-6 6M549 1146l6 6m0 -6l-6 6M549 1186l6 6m0 -6l-6 6M549 1226l6 6m0 -6l-6 6M549 1165l6 6m0 -6l-6 6M550 1161l6 6m0 -6l-6 6M550 1232l6 6m0 -6l-6 6M550 1136l6 6m0 -6l-6 6M550 1143l6 6m0 -6l-6 6M550 1161l6 6m0 -6l-6 6M550 1185l6 6m0 -6l-6 6M550 1181l6 6m0 -6l-6 6M551 1167l6 6m0 -6l-6 6M551 1156l6 6m0 -6l-6 6M551 1200l6 6m0 -6l-6 6M551 1158l6 6m0 -6l-6 6M551 1106l6 6m0 -6l-6 6M551 1220l6 6m0 -6l-6 6M551 1116l6 6m0 -6l-6 6M552 1115l6 6m0 -6l-6 6M552 1122l6 6m0 -6l-6 6M552 1163l6 6m0 -6l-6 6M552 1152l6 6m0 -6l-6 6M551 1125l6 6m0 -6l-6 6M552 1182l6 6m0 -6l-6 6M552 1144l6 6m0 -6l-6 6M553 1162l6 6m0 -6l-6 6M553 1152l6 6m0 -6l-6 6M552 1157l6 6m0 -6l-6 6M553 1112l6 6m0 -6l-6 6M553 1152l6 6m0 -6l-6 6M553 1150l6 6m0 -6l-6 6M553 1116l6 6m0 -6l-6 6M554 1199l6 6m0 -6l-6 6M554 1154l6 6m0 -6l-6 6M554 1123l6 6m0 -6l-6 6M554 1239l6 6m0 -6l-6 6M554 1178l6 6m0 -6l-6 6M554 1179l6 6m0 -6l-6 6M554 1246l6 6m0 -6l-6 6M555 1139l6 6m0 -6l-6 6M555 1187l6 6m0 -6l-6 6M555 1220l6 6m0 -6l-6 6M555 1180l6 6m0 -6l-6 6M555 1162l6 6m0 -6l-6 6M555 1193l6 6m0 -6l-6 6M555 1190l6 6m0 -6l-6 6M556 1164l6 6m0 -6l-6 6M556 1190l6 6m0 -6l-6 6M556 1182l6 6m0 -6l-6 6M556 1142l6 6m0 -6l-6 6M556 1155l6 6m0 -6l-6 6M556 1156l6 6m0 -6l-6 6M556 1166l6 6m0 -6l-6 6M557 1205l6 6m0 -6l-6 6M557 1165l6 6m0 -6l-6 6M557 1178l6 6m0 -6l-6 6M557 1251l6 6m0 -6l-6 6M557 1159l6 6m0 -6l-6 6M557 1213l6 6m0 -6l-6 6M557 1184l6 6m0 -6l-6 6M558 1164l6 6m0 -6l-6 6M557 1106l6 6m0 -6l-6 6M558 1158l6 6m0 -6l-6 6M558 1161l6 6m0 -6l-6 6M558 1146l6 6m0 -6l-6 6M558 1194l6 6m0 -6l-6 6M557 1252l6 6m0 -6l-6 6M559 1161l6 6m0 -6l-6 6M559 1167l6 6m0 -6l-6 6M559 1140l6 6m0 -6l-6 6M559 1126l6 6m0 -6l-6 6M559 1171l6 6m0 -6l-6 6M558 1194l6 6m0 -6l-6 6M559 1246l6 6m0 -6l-6 6M560 1168l6 6m0 -6l-6 6M560 1214l6 6m0 -6l-6 6M560 1176l6 6m0 -6l-6 6M560 1104l6 6m0 -6l-6 6M560 1234l6 6m0 -6l-6 6M560 1200l6 6m0 -6l-6 6M560 1230l6 6m0 -6l-6 6M561 1182l6 6m0 -6l-6 6M560 1172l6 6m0 -6l-6 6M561 1187l6 6m0 -6l-6 6M561 1090l6 6m0 -6l-6 6M561 1182l6 6m0 -6l-6 6M561 1107l6 6m0 -6l-6 6M561 1200l6 6m0 -6l-6 6M561 1229l6 6m0 -6l-6 6M561 1173l6 6m0 -6l-6 6M562 1111l6 6m0 -6l-6 6M562 1139l6 6m0 -6l-6 6M562 1143l6 6m0 -6l-6 6M562 1136l6 6m0 -6l-6 6M561 1181l6 6m0 -6l-6 6M562 1139l6 6m0 -6l-6 6M563 1147l6 6m0 -6l-6 6M563 1141l6 6m0 -6l-6 6M563 1133l6 6m0 -6l-6 6M563 1186l6 6m0 -6l-6 6M563 1151l6 6m0 -6l-6 6M563 1162l6 6m0 -6l-6 6M564 1161l6 6m0 -6l-6 6M563 1168l6 6m0 -6l-6 6M564 1162l6 6m0 -6l-6 6M564 1182l6 6m0 -6l-6 6M564 1177l6 6m0 -6l-6 6M563 1163l6 6m0 -6l-6 6M564 1114l6 6m0 -6l-6 6M565 1135l6 6m0 -6l-6 6M564 1077l6 6m0 -6l-6 6M565 1175l6 6m0 -6l-6 6M565 1184l6 6m0 -6l-6 6M564 1180l6 6m0 -6l-6 6M565 1181l6 6m0 -6l-6 6M565 1159l6 6m0 -6l-6 6M565 1200l6 6m0 -6l-6 6M566 1170l6 6m0 -6l-6 6M566 1179l6 6m0 -6l-6 6M565 1164l6 6m0 -6l-6 6M566 1132l6 6m0 -6l-6 6M566 1161l6 6m0 -6l-6 6M566 1119l6 6m0 -6l-6 6M567 1236l6 6m0 -6l-6 6M567 1174l6 6m0 -6l-6 6M567 1145l6 6m0 -6l-6 6M567 1118l6 6m0 -6l-6 6M567 1135l6 6m0 -6l-6 6M566 1178l6 6m0 -6l-6 6M567 1207l6 6m0 -6l-6 6M568 1132l6 6m0 -6l-6 6M568 1214l6 6m0 -6l-6 6M568 1225l6 6m0 -6l-6 6M568 1147l6 6m0 -6l-6 6M568 1209l6 6m0 -6l-6 6M568 1175l6 6m0 -6l-6 6M568 1163l6 6m0 -6l-6 6M569 1157l6 6m0 -6l-6 6M569 1198l6 6m0 -6l-6 6M569 1161l6 6m0 -6l-6 6M569 1151l6 6m0 -6l-6 6M569 1157l6 6m0 -6l-6 6M569 1161l6 6m0 -6l-6 6M569 1151l6 6m0 -6l-6 6M570 1123l6 6m0 -6l-6 6M570 1187l6 6m0 -6l-6 6M570 1187l6 6m0 -6l-6 6M570 1178l6 6m0 -6l-6 6M570 1160l6 6m0 -6l-6 6M570 1180l6 6m0 -6l-6 6M570 1147l6 6m0 -6l-6 6M571 1173l6 6m0 -6l-6 6M571 1087l6 6m0 -6l-6 6M570 1145l6 6m0 -6l-6 6M571 1150l6 6m0 -6l-6 6M571 1172l6 6m0 -6l-6 6M571 1193l6 6m0 -6l-6 6M571 1153l6 6m0 -6l-6 6M571 1179l6 6m0 -6l-6 6M572 1188l6 6m0 -6l-6 6M572 1180l6 6m0 -6l-6 6M572 1137l6 6m0 -6l-6 6M572 1176l6 6m0 -6l-6 6M572 1182l6 6m0 -6l-6 6M572 1155l6 6m0 -6l-6 6M573 1174l6 6m0 -6l-6 6M573 1166l6 6m0 -6l-6 6M573 1184l6 6m0 -6l-6 6M573 1110l6 6m0 -6l-6 6M573 1117l6 6m0 -6l-6 6M572 1148l6 6m0 -6l-6 6M573 1190l6 6m0 -6l-6 6M574 1116l6 6m0 -6l-6 6M574 1170l6 6m0 -6l-6 6M574 1155l6 6m0 -6l-6 6M573 1177l6 6m0 -6l-6 6M574 1181l6 6m0 -6l-6 6M573 1217l6 6m0 -6l-6 6M574 1246l6 6m0 -6l-6 6M575 1097l6 6m0 -6l-6 6M575 1161l6 6m0 -6l-6 6M575 1163l6 6m0 -6l-6 6M574 1220l6 6m0 -6l-6 6M575 1190l6 6m0 -6l-6 6M575 1190l6 6m0 -6l-6 6M575 1207l6 6m0 -6l-6 6M576 1219l6 6m0 -6l-6 6M576 1179l6 6m0 -6l-6 6M575 1171l6 6m0 -6l-6 6M576 1126l6 6m0 -6l-6 6M576 1161l6 6m0 -6l-6 6M575 1173l6 6m0 -6l-6 6M576 1168l6 6m0 -6l-6 6M577 1183l6 6m0 -6l-6 6M577 1106l6 6m0 -6l-6 6M576 1158l6 6m0 -6l-6 6M577 1126l6 6m0 -6l-6 6M577 1205l6 6m0 -6l-6 6M577 1175l6 6m0 -6l-6 6M577 1156l6 6m0 -6l-6 6M577 1226l6 6m0 -6l-6 6M578 1148l6 6m0 -6l-6 6M578 1250l6 6m0 -6l-6 6M577 1172l6 6m0 -6l-6 6M578 1238l6 6m0 -6l-6 6M578 1131l6 6m0 -6l-6 6M578 1157l6 6m0 -6l-6 6M579 1192l6 6m0 -6l-6 6M579 1195l6 6m0 -6l-6 6M579 1155l6 6m0 -6l-6 6M578 1182l6 6m0 -6l-6 6M578 1153l6 6m0 -6l-6 6M579 1131l6 6m0 -6l-6 6M579 1158l6 6m0 -6l-6 6M580 1192l6 6m0 -6l-6 6M580 1210l6 6m0 -6l-6 6M580 1174l6 6m0 -6l-6 6M580 1146l6 6m0 -6l-6 6M580 1193l6 6m0 -6l-6 6M580 1174l6 6m0 -6l-6 6M580 1199l6 6m0 -6l-6 6M581 1222l6 6m0 -6l-6 6M581 1193l6 6m0 -6l-6 6M581 1191l6 6m0 -6l-6 6M581 1161l6 6m0 -6l-6 6M581 1173l6 6m0 -6l-6 6M580 1185l6 6m0 -6l-6 6M581 1132l6 6m0 -6l-6 6M582 1218l6 6m0 -6l-6 6M582 1152l6 6m0 -6l-6 6M581 1090l6 6m0 -6l-6 6M582 1135l6 6m0 -6l-6 6M582 1173l6 6m0 -6l-6 6M581 1142l6 6m0 -6l-6 6M582 1226l6 6m0 -6l-6 6M583 1195l6 6m0 -6l-6 6M583 1171l6 6m0 -6l-6 6M583 1184l6 6m0 -6l-6 6M583 1132l6 6m0 -6l-6 6M583 1165l6 6m0 -6l-6 6M583 1167l6 6m0 -6l-6 6M583 1193l6 6m0 -6l-6 6M584 1170l6 6m0 -6l-6 6M584 1151l6 6m0 -6l-6 6M584 1168l6 6m0 -6l-6 6M584 1187l6 6m0 -6l-6 6M583 1214l6 6m0 -6l-6 6M584 1182l6 6m0 -6l-6 6M584 1151l6 6m0 -6l-6 6M584 1167l6 6m0 -6l-6 6M585 1167l6 6m0 -6l-6 6M585 1134l6 6m0 -6l-6 6M585 1185l6 6m0 -6l-6 6M585 1201l6 6m0 -6l-6 6M585 1174l6 6m0 -6l-6 6M585 1179l6 6m0 -6l-6 6M586 1164l6 6m0 -6l-6 6M586 1181l6 6m0 -6l-6 6M586 1220l6 6m0 -6l-6 6M586 1209l6 6m0 -6l-6 6M585 1177l6 6m0 -6l-6 6M586 1190l6 6m0 -6l-6 6M586 1163l6 6m0 -6l-6 6M587 1118l6 6m0 -6l-6 6M587 1234l6 6m0 -6l-6 6M587 1164l6 6m0 -6l-6 6M586 1191l6 6m0 -6l-6 6M587 1150l6 6m0 -6l-6 6M587 1235l6 6m0 -6l-6 6M587 1144l6 6m0 -6l-6 6M588 1221l6 6m0 -6l-6 6M588 1258l6 6m0 -6l-6 6M588 1161l6 6m0 -6l-6 6M588 1211l6 6m0 -6l-6 6M588 1184l6 6m0 -6l-6 6M588 1202l6 6m0 -6l-6 6M588 1156l6 6m0 -6l-6 6M589 1208l6 6m0 -6l-6 6M588 1206l6 6m0 -6l-6 6M589 1231l6 6m0 -6l-6 6M589 1168l6 6m0 -6l-6 6M589 1162l6 6m0 -6l-6 6M589 1092l6 6m0 -6l-6 6M589 1165l6 6m0 -6l-6 6M590 1195l6 6m0 -6l-6 6M590 1151l6 6m0 -6l-6 6M590 1194l6 6m0 -6l-6 6M590 1168l6 6m0 -6l-6 6M590 1173l6 6m0 -6l-6 6M590 1163l6 6m0 -6l-6 6M589 1239l6 6m0 -6l-6 6M591 1140l6 6m0 -6l-6 6M590 1191l6 6m0 -6l-6 6M591 1126l6 6m0 -6l-6 6M591 1195l6 6m0 -6l-6 6M591 1191l6 6m0 -6l-6 6M591 1156l6 6m0 -6l-6 6M591 1222l6 6m0 -6l-6 6M592 1184l6 6m0 -6l-6 6M592 1187l6 6m0 -6l-6 6M592 1141l6 6m0 -6l-6 6M592 1168l6 6m0 -6l-6 6M592 1123l6 6m0 -6l-6 6M591 1185l6 6m0 -6l-6 6M591 1144l6 6m0 -6l-6 6M593 1175l6 6m0 -6l-6 6M593 1149l6 6m0 -6l-6 6M593 1223l6 6m0 -6l-6 6M593 1196l6 6m0 -6l-6 6M593 1158l6 6m0 -6l-6 6M592 1178l6 6m0 -6l-6 6M592 1155l6 6m0 -6l-6 6M594 1158l6 6m0 -6l-6 6M594 1154l6 6m0 -6l-6 6M594 1227l6 6m0 -6l-6 6M593 1176l6 6m0 -6l-6 6M594 1218l6 6m0 -6l-6 6M594 1165l6 6m0 -6l-6 6M594 1141l6 6m0 -6l-6 6M595 1218l6 6m0 -6l-6 6M595 1199l6 6m0 -6l-6 6M594 1253l6 6m0 -6l-6 6M595 1175l6 6m0 -6l-6 6M595 1245l6 6m0 -6l-6 6M595 1201l6 6m0 -6l-6 6M595 1152l6 6m0 -6l-6 6M596 1172l6 6m0 -6l-6 6M596 1132l6 6m0 -6l-6 6M596 1180l6 6m0 -6l-6 6M596 1177l6 6m0 -6l-6 6M595 1077l6 6m0 -6l-6 6M596 1206l6 6m0 -6l-6 6M596 1159l6 6m0 -6l-6 6M597 1140l6 6m0 -6l-6 6M597 1189l6 6m0 -6l-6 6M597 1201l6 6m0 -6l-6 6M597 1192l6 6m0 -6l-6 6M597 1128l6 6m0 -6l-6 6M596 1200l6 6m0 -6l-6 6M597 1200l6 6m0 -6l-6 6M598 1258l6 6m0 -6l-6 6M598 1129l6 6m0 -6l-6 6M598 1175l6 6m0 -6l-6 6M598 1195l6 6m0 -6l-6 6M598 1209l6 6m0 -6l-6 6M598 1170l6 6m0 -6l-6 6M598 1192l6 6m0 -6l-6 6M598 1240l6 6m0 -6l-6 6M599 1202l6 6m0 -6l-6 6M599 1188l6 6m0 -6l-6 6M599 1240l6 6m0 -6l-6 6M599 1204l6 6m0 -6l-6 6M599 1196l6 6m0 -6l-6 6M599 1205l6 6m0 -6l-6 6M600 1122l6 6m0 -6l-6 6M600 1192l6 6m0 -6l-6 6M600 1239l6 6m0 -6l-6 6M599 1175l6 6m0 -6l-6 6M599 1174l6 6m0 -6l-6 6M600 1189l6 6m0 -6l-6 6M600 1176l6 6m0 -6l-6 6M601 1152l6 6m0 -6l-6 6M601 1199l6 6m0 -6l-6 6M600 1144l6 6m0 -6l-6 6M600 1142l6 6m0 -6l-6 6M601 1189l6 6m0 -6l-6 6M601 1121l6 6m0 -6l-6 6M601 1170l6 6m0 -6l-6 6M602 1075l6 6m0 -6l-6 6M602 1191l6 6m0 -6l-6 6M602 1199l6 6m0 -6l-6 6M602 1076l6 6m0 -6l-6 6M602 1173l6 6m0 -6l-6 6M602 1207l6 6m0 -6l-6 6M602 1170l6 6m0 -6l-6 6M603 1153l6 6m0 -6l-6 6M603 1193l6 6m0 -6l-6 6M603 1146l6 6m0 -6l-6 6M602 1144l6 6m0 -6l-6 6M602 1129l6 6m0 -6l-6 6M603 1189l6 6m0 -6l-6 6M603 1211l6 6m0 -6l-6 6M604 1223l6 6m0 -6l-6 6M604 1148l6 6m0 -6l-6 6M604 1123l6 6m0 -6l-6 6M604 1220l6 6m0 -6l-6 6M604 1252l6 6m0 -6l-6 6M603 1193l6 6m0 -6l-6 6M604 1083l6 6m0 -6l-6 6M605 1150l6 6m0 -6l-6 6M605 1171l6 6m0 -6l-6 6M605 1182l6 6m0 -6l-6 6M604 1169l6 6m0 -6l-6 6M605 1180l6 6m0 -6l-6 6M605 1158l6 6m0 -6l-6 6M605 1185l6 6m0 -6l-6 6M606 1178l6 6m0 -6l-6 6M606 1165l6 6m0 -6l-6 6M605 1149l6 6m0 -6l-6 6M606 1214l6 6m0 -6l-6 6M606 1173l6 6m0 -6l-6 6M605 1183l6 6m0 -6l-6 6M606 1175l6 6m0 -6l-6 6M607 1178l6 6m0 -6l-6 6M607 1122l6 6m0 -6l-6 6M607 1221l6 6m0 -6l-6 6M607 1204l6 6m0 -6l-6 6M606 1190l6 6m0 -6l-6 6M607 1216l6 6m0 -6l-6 6M607 1185l6 6m0 -6l-6 6M608 1177l6 6m0 -6l-6 6M608 1210l6 6m0 -6l-6 6M608 1155l6 6m0 -6l-6 6M608 1170l6 6m0 -6l-6 6M608 1213l6 6m0 -6l-6 6M608 1144l6 6m0 -6l-6 6M608 1199l6 6m0 -6l-6 6M609 1169l6 6m0 -6l-6 6M609 1147l6 6m0 -6l-6 6M609 1150l6 6m0 -6l-6 6M609 1171l6 6m0 -6l-6 6M608 1190l6 6m0 -6l-6 6M609 1202l6 6m0 -6l-6 6M609 1176l6 6m0 -6l-6 6M609 1227l6 6m0 -6l-6 6M610 1155l6 6m0 -6l-6 6M610 1245l6 6m0 -6l-6 6M610 1077l6 6m0 -6l-6 6M610 1185l6 6m0 -6l-6 6M610 1135l6 6m0 -6l-6 6M610 1114l6 6m0 -6l-6 6M611 1142l6 6m0 -6l-6 6M610 1255l6 6m0 -6l-6 6M611 1141l6 6m0 -6l-6 6M611 1114l6 6m0 -6l-6 6M611 1157l6 6m0 -6l-6 6M611 1246l6 6m0 -6l-6 6M611 1218l6 6m0 -6l-6 6M612 1281l6 6m0 -6l-6 6M612 1157l6 6m0 -6l-6 6M612 1132l6 6m0 -6l-6 6M612 1177l6 6m0 -6l-6 6M612 1221l6 6m0 -6l-6 6M612 1180l6 6m0 -6l-6 6M612 1172l6 6m0 -6l-6 6M612 1120l6 6m0 -6l-6 6M613 1185l6 6m0 -6l-6 6M613 1261l6 6m0 -6l-6 6M612 1124l6 6m0 -6l-6 6M613 1164l6 6m0 -6l-6 6M613 1171l6 6m0 -6l-6 6M613 1200l6 6m0 -6l-6 6M614 1195l6 6m0 -6l-6 6M613 1178l6 6m0 -6l-6 6M614 1198l6 6m0 -6l-6 6M614 1102l6 6m0 -6l-6 6M614 1183l6 6m0 -6l-6 6M614 1157l6 6m0 -6l-6 6M614 1174l6 6m0 -6l-6 6M614 1123l6 6m0 -6l-6 6M615 1165l6 6m0 -6l-6 6M615 1138l6 6m0 -6l-6 6M615 1152l6 6m0 -6l-6 6M615 1156l6 6m0 -6l-6 6M615 1239l6 6m0 -6l-6 6M615 1218l6 6m0 -6l-6 6M616 1186l6 6m0 -6l-6 6M616 1171l6 6m0 -6l-6 6M616 1225l6 6m0 -6l-6 6M616 1170l6 6m0 -6l-6 6M616 1191l6 6m0 -6l-6 6M616 1156l6 6m0 -6l-6 6M615 1249l6 6m0 -6l-6 6M617 1141l6 6m0 -6l-6 6M617 1180l6 6m0 -6l-6 6M617 1216l6 6m0 -6l-6 6M617 1139l6 6m0 -6l-6 6M617 1205l6 6m0 -6l-6 6M617 1141l6 6m0 -6l-6 6M617 1261l6 6m0 -6l-6 6M618 1183l6 6m0 -6l-6 6M618 1147l6 6m0 -6l-6 6M617 1152l6 6m0 -6l-6 6M618 1217l6 6m0 -6l-6 6M618 1198l6 6m0 -6l-6 6M618 1189l6 6m0 -6l-6 6M618 1164l6 6m0 -6l-6 6M619 1239l6 6m0 -6l-6 6M619 1192l6 6m0 -6l-6 6M619 1212l6 6m0 -6l-6 6M618 1149l6 6m0 -6l-6 6M619 1162l6 6m0 -6l-6 6M619 1182l6 6m0 -6l-6 6M618 1205l6 6m0 -6l-6 6M620 1110l6 6m0 -6l-6 6M620 1213l6 6m0 -6l-6 6M620 1218l6 6m0 -6l-6 6M619 1136l6 6m0 -6l-6 6M620 1084l6 6m0 -6l-6 6M620 1179l6 6m0 -6l-6 6M620 1169l6 6m0 -6l-6 6M621 1270l6 6m0 -6l-6 6M620 1035l6 6m0 -6l-6 6M621 1197l6 6m0 -6l-6 6M621 1191l6 6m0 -6l-6 6M620 1165l6 6m0 -6l-6 6M621 1140l6 6m0 -6l-6 6M620 1182l6 6m0 -6l-6 6M621 1159l6 6m0 -6l-6 6M622 1151l6 6m0 -6l-6 6M621 1186l6 6m0 -6l-6 6M621 1167l6 6m0 -6l-6 6M622 1196l6 6m0 -6l-6 6M622 1110l6 6m0 -6l-6 6M622 1215l6 6m0 -6l-6 6M623 1132l6 6m0 -6l-6 6M623 1205l6 6m0 -6l-6 6M623 1156l6 6m0 -6l-6 6M623 1145l6 6m0 -6l-6 6M623 1175l6 6m0 -6l-6 6M622 1136l6 6m0 -6l-6 6M623 1133l6 6m0 -6l-6 6M624 1134l6 6m0 -6l-6 6M624 1176l6 6m0 -6l-6 6M624 1152l6 6m0 -6l-6 6M624 1180l6 6m0 -6l-6 6M624 1214l6 6m0 -6l-6 6M624 1127l6 6m0 -6l-6 6M624 1191l6 6m0 -6l-6 6M625 1186l6 6m0 -6l-6 6M625 1218l6 6m0 -6l-6 6M625 1168l6 6m0 -6l-6 6M624 1206l6 6m0 -6l-6 6M624 1237l6 6m0 -6l-6 6M625 1133l6 6m0 -6l-6 6M625 1226l6 6m0 -6l-6 6M626 1189l6 6m0 -6l-6 6M626 1192l6 6m0 -6l-6 6M626 1188l6 6m0 -6l-6 6M626 1131l6 6m0 -6l-6 6M626 1174l6 6m0 -6l-6 6M625 1172l6 6m0 -6l-6 6M626 1227l6 6m0 -6l-6 6M627 1194l6 6m0 -6l-6 6M627 1203l6 6m0 -6l-6 6M627 1105l6 6m0 -6l-6 6M627 1207l6 6m0 -6l-6 6M627 1209l6 6m0 -6l-6 6M626 1182l6 6m0 -6l-6 6M627 1139l6 6m0 -6l-6 6M628 1177l6 6m0 -6l-6 6M628 1185l6 6m0 -6l-6 6M627 1183l6 6m0 -6l-6 6M628 1125l6 6m0 -6l-6 6M628 1226l6 6m0 -6l-6 6M627 1157l6 6m0 -6l-6 6M628 1132l6 6m0 -6l-6 6M628 1165l6 6m0 -6l-6 6M629 1136l6 6m0 -6l-6 6M629 1179l6 6m0 -6l-6 6M629 1188l6 6m0 -6l-6 6M629 1139l6 6m0 -6l-6 6M628 1101l6 6m0 -6l-6 6M629 1120l6 6m0 -6l-6 6M630 1143l6 6m0 -6l-6 6M630 1114l6 6m0 -6l-6 6M629 1140l6 6m0 -6l-6 6M630 1143l6 6m0 -6l-6 6M630 1174l6 6m0 -6l-6 6M629 1189l6 6m0 -6l-6 6M630 1183l6 6m0 -6l-6 6M631 1187l6 6m0 -6l-6 6M631 1248l6 6m0 -6l-6 6M631 1171l6 6m0 -6l-6 6M631 1152l6 6m0 -6l-6 6M631 1151l6 6m0 -6l-6 6M631 1180l6 6m0 -6l-6 6M631 1193l6 6m0 -6l-6 6M632 1154l6 6m0 -6l-6 6M631 1118l6 6m0 -6l-6 6M632 1141l6 6m0 -6l-6 6M631 1174l6 6m0 -6l-6 6M632 1150l6 6m0 -6l-6 6M632 1144l6 6m0 -6l-6 6M632 1184l6 6m0 -6l-6 6M633 1171l6 6m0 -6l-6 6M632 1261l6 6m0 -6l-6 6M633 1164l6 6m0 -6l-6 6M633 1232l6 6m0 -6l-6 6M633 1137l6 6m0 -6l-6 6M633 1145l6 6m0 -6l-6 6M633 1173l6 6m0 -6l-6 6M634 1198l6 6m0 -6l-6 6M634 1099l6 6m0 -6l-6 6M634 1180l6 6m0 -6l-6 6M633 1215l6 6m0 -6l-6 6M634 1181l6 6m0 -6l-6 6M634 1143l6 6m0 -6l-6 6M634 1190l6 6m0 -6l-6 6M634 1091l6 6m0 -6l-6 6M635 1224l6 6m0 -6l-6 6M635 1146l6 6m0 -6l-6 6M634 1184l6 6m0 -6l-6 6M635 1142l6 6m0 -6l-6 6M635 1206l6 6m0 -6l-6 6M635 1141l6 6m0 -6l-6 6M636 1200l6 6m0 -6l-6 6M636 1126l6 6m0 -6l-6 6M635 1185l6 6m0 -6l-6 6M636 1182l6 6m0 -6l-6 6M636 1183l6 6m0 -6l-6 6M636 1194l6 6m0 -6l-6 6M636 1160l6 6m0 -6l-6 6M636 1176l6 6m0 -6l-6 6M637 1124l6 6m0 -6l-6 6M637 1194l6 6m0 -6l-6 6M637 1164l6 6m0 -6l-6 6M637 1176l6 6m0 -6l-6 6M637 1174l6 6m0 -6l-6 6M637 1209l6 6m0 -6l-6 6M637 1174l6 6m0 -6l-6 6M638 1146l6 6m0 -6l-6 6M638 1209l6 6m0 -6l-6 6M638 1184l6 6m0 -6l-6 6M638 1142l6 6m0 -6l-6 6M638 1192l6 6m0 -6l-6 6M638 1087l6 6m0 -6l-6 6M639 1216l6 6m0 -6l-6 6M639 1192l6 6m0 -6l-6 6M639 1176l6 6m0 -6l-6 6M639 1137l6 6m0 -6l-6 6M639 1176l6 6m0 -6l-6 6M639 1142l6 6m0 -6l-6 6M639 1259l6 6m0 -6l-6 6M640 1182l6 6m0 -6l-6 6M639 1211l6 6m0 -6l-6 6M640 1173l6 6m0 -6l-6 6M640 1154l6 6m0 -6l-6 6M640 1206l6 6m0 -6l-6 6M640 1148l6 6m0 -6l-6 6M640 1134l6 6m0 -6l-6 6M641 1200l6 6m0 -6l-6 6M641 1193l6 6m0 -6l-6 6M640 1157l6 6m0 -6l-6 6M641 1230l6 6m0 -6l-6 6M641 1199l6 6m0 -6l-6 6M641 1216l6 6m0 -6l-6 6M640 1163l6 6m0 -6l-6 6M642 1170l6 6m0 -6l-6 6M641 1100l6 6m0 -6l-6 6M642 1157l6 6m0 -6l-6 6M642 1167l6 6m0 -6l-6 6M642 1229l6 6m0 -6l-6 6M642 1238l6 6m0 -6l-6 6M642 1154l6 6m0 -6l-6 6M643 1128l6 6m0 -6l-6 6M643 1157l6 6m0 -6l-6 6M642 1200l6 6m0 -6l-6 6M643 1193l6 6m0 -6l-6 6M643 1157l6 6m0 -6l-6 6M643 1144l6 6m0 -6l-6 6M643 1159l6 6m0 -6l-6 6M644 1120l6 6m0 -6l-6 6M644 1173l6 6m0 -6l-6 6M644 1215l6 6m0 -6l-6 6M644 1162l6 6m0 -6l-6 6M644 1140l6 6m0 -6l-6 6M643 1225l6 6m0 -6l-6 6M644 1208l6 6m0 -6l-6 6M645 1201l6 6m0 -6l-6 6M645 1159l6 6m0 -6l-6 6M645 1156l6 6m0 -6l-6 6M645 1157l6 6m0 -6l-6 6M644 1177l6 6m0 -6l-6 6M645 1223l6 6m0 -6l-6 6M645 1056l6 6m0 -6l-6 6M646 1127l6 6m0 -6l-6 6M646 1179l6 6m0 -6l-6 6M646 1154l6 6m0 -6l-6 6M645 1207l6 6m0 -6l-6 6M646 1186l6 6m0 -6l-6 6M646 1172l6 6m0 -6l-6 6M646 1199l6 6m0 -6l-6 6M646 1115l6 6m0 -6l-6 6M647 1174l6 6m0 -6l-6 6M647 1208l6 6m0 -6l-6 6M646 1176l6 6m0 -6l-6 6M646 1175l6 6m0 -6l-6 6M647 1237l6 6m0 -6l-6 6M646 1164l6 6m0 -6l-6 6M648 1196l6 6m0 -6l-6 6M647 1150l6 6m0 -6l-6 6M647 1177l6 6m0 -6l-6 6M648 1150l6 6m0 -6l-6 6M648 1152l6 6m0 -6l-6 6M648 1159l6 6m0 -6l-6 6M647 1141l6 6m0 -6l-6 6M648 1166l6 6m0 -6l-6 6M649 1151l6 6m0 -6l-6 6M649 1140l6 6m0 -6l-6 6M649 1181l6 6m0 -6l-6 6M649 1159l6 6m0 -6l-6 6M649 1203l6 6m0 -6l-6 6M649 1182l6 6m0 -6l-6 6M650 1132l6 6m0 -6l-6 6M649 1225l6 6m0 -6l-6 6M650 1175l6 6m0 -6l-6 6M650 1188l6 6m0 -6l-6 6M650 1194l6 6m0 -6l-6 6M650 1228l6 6m0 -6l-6 6M650 1199l6 6m0 -6l-6 6M651 1170l6 6m0 -6l-6 6M651 1207l6 6m0 -6l-6 6M651 1215l6 6m0 -6l-6 6M651 1161l6 6m0 -6l-6 6M650 1159l6 6m0 -6l-6 6M651 1155l6 6m0 -6l-6 6M651 1152l6 6m0 -6l-6 6M652 1098l6 6m0 -6l-6 6M652 1178l6 6m0 -6l-6 6M652 1161l6 6m0 -6l-6 6M651 1224l6 6m0 -6l-6 6M652 1107l6 6m0 -6l-6 6M652 1207l6 6m0 -6l-6 6M651 1174l6 6m0 -6l-6 6M653 1175l6 6m0 -6l-6 6M653 1209l6 6m0 -6l-6 6M653 1197l6 6m0 -6l-6 6M652 1150l6 6m0 -6l-6 6M653 1218l6 6m0 -6l-6 6M652 1168l6 6m0 -6l-6 6M653 1100l6 6m0 -6l-6 6M654 1160l6 6m0 -6l-6 6M654 1180l6 6m0 -6l-6 6M654 1152l6 6m0 -6l-6 6M654 1177l6 6m0 -6l-6 6M654 1175l6 6m0 -6l-6 6M654 1169l6 6m0 -6l-6 6M654 1152l6 6m0 -6l-6 6M655 1188l6 6m0 -6l-6 6M655 1147l6 6m0 -6l-6 6M655 1169l6 6m0 -6l-6 6M655 1177l6 6m0 -6l-6 6M655 1198l6 6m0 -6l-6 6M655 1195l6 6m0 -6l-6 6M655 1132l6 6m0 -6l-6 6M656 1109l6 6m0 -6l-6 6M656 1145l6 6m0 -6l-6 6M656 1121l6 6m0 -6l-6 6M656 1158l6 6m0 -6l-6 6M656 1185l6 6m0 -6l-6 6M656 1250l6 6m0 -6l-6 6M656 1187l6 6m0 -6l-6 6M657 1189l6 6m0 -6l-6 6M657 1231l6 6m0 -6l-6 6M657 1164l6 6m0 -6l-6 6M657 1125l6 6m0 -6l-6 6M656 1156l6 6m0 -6l-6 6M657 1135l6 6m0 -6l-6 6M657 1191l6 6m0 -6l-6 6M658 1195l6 6m0 -6l-6 6M658 1160l6 6m0 -6l-6 6M658 1240l6 6m0 -6l-6 6M657 1214l6 6m0 -6l-6 6M657 1185l6 6m0 -6l-6 6M658 1106l6 6m0 -6l-6 6M658 1233l6 6m0 -6l-6 6M659 1164l6 6m0 -6l-6 6M659 1145l6 6m0 -6l-6 6M659 1112l6 6m0 -6l-6 6M659 1170l6 6m0 -6l-6 6M659 1155l6 6m0 -6l-6 6M659 1148l6 6m0 -6l-6 6M659 1155l6 6m0 -6l-6 6M659 1142l6 6m0 -6l-6 6M660 1172l6 6m0 -6l-6 6M660 1160l6 6m0 -6l-6 6M660 1162l6 6m0 -6l-6 6M659 1159l6 6m0 -6l-6 6M660 1178l6 6m0 -6l-6 6M659 1166l6 6m0 -6l-6 6M661 1141l6 6m0 -6l-6 6M661 1135l6 6m0 -6l-6 6M660 1155l6 6m0 -6l-6 6M661 1163l6 6m0 -6l-6 6M661 1124l6 6m0 -6l-6 6M661 1146l6 6m0 -6l-6 6M661 1208l6 6m0 -6l-6 6M662 1158l6 6m0 -6l-6 6M662 1186l6 6m0 -6l-6 6M662 1213l6 6m0 -6l-6 6M662 1180l6 6m0 -6l-6 6M662 1137l6 6m0 -6l-6 6M662 1140l6 6m0 -6l-6 6M662 1164l6 6m0 -6l-6 6M663 1183l6 6m0 -6l-6 6M663 1190l6 6m0 -6l-6 6M662 1071l6 6m0 -6l-6 6M663 1123l6 6m0 -6l-6 6M663 1204l6 6m0 -6l-6 6M663 1242l6 6m0 -6l-6 6M663 1213l6 6m0 -6l-6 6M664 1162l6 6m0 -6l-6 6M664 1151l6 6m0 -6l-6 6M664 1261l6 6m0 -6l-6 6M663 1164l6 6m0 -6l-6 6M664 1136l6 6m0 -6l-6 6M664 1174l6 6m0 -6l-6 6M664 1207l6 6m0 -6l-6 6M665 1130l6 6m0 -6l-6 6M664 1151l6 6m0 -6l-6 6M665 1161l6 6m0 -6l-6 6M665 1194l6 6m0 -6l-6 6M665 1175l6 6m0 -6l-6 6M665 1144l6 6m0 -6l-6 6M665 1206l6 6m0 -6l-6 6M666 1198l6 6m0 -6l-6 6M666 1105l6 6m0 -6l-6 6M666 1164l6 6m0 -6l-6 6M666 1183l6 6m0 -6l-6 6M666 1232l6 6m0 -6l-6 6M666 1167l6 6m0 -6l-6 6M666 1203l6 6m0 -6l-6 6M666 1188l6 6m0 -6l-6 6M667 1188l6 6m0 -6l-6 6M666 1229l6 6m0 -6l-6 6M667 1223l6 6m0 -6l-6 6M667 1122l6 6m0 -6l-6 6M666 1125l6 6m0 -6l-6 6M667 1225l6 6m0 -6l-6 6M668 1166l6 6m0 -6l-6 6M667 1172l6 6m0 -6l-6 6M668 1163l6 6m0 -6l-6 6M668 1130l6 6m0 -6l-6 6M667 1118l6 6m0 -6l-6 6M668 1207l6 6m0 -6l-6 6M668 1216l6 6m0 -6l-6 6M669 1216l6 6m0 -6l-6 6M669 1256l6 6m0 -6l-6 6M669 1199l6 6m0 -6l-6 6M669 1164l6 6m0 -6l-6 6M669 1211l6 6m0 -6l-6 6M669 1166l6 6m0 -6l-6 6M668 1181l6 6m0 -6l-6 6M670 1208l6 6m0 -6l-6 6M670 1240l6 6m0 -6l-6 6M670 1196l6 6m0 -6l-6 6M670 1245l6 6m0 -6l-6 6M670 1225l6 6m0 -6l-6 6M670 1167l6 6m0 -6l-6 6M670 1144l6 6m0 -6l-6 6M671 1169l6 6m0 -6l-6 6M671 1161l6 6m0 -6l-6 6M671 1158l6 6m0 -6l-6 6M671 1226l6 6m0 -6l-6 6M671 1138l6 6m0 -6l-6 6M670 1144l6 6m0 -6l-6 6M671 1171l6 6m0 -6l-6 6M672 1169l6 6m0 -6l-6 6M671 1173l6 6m0 -6l-6 6M672 1172l6 6m0 -6l-6 6M672 1198l6 6m0 -6l-6 6M672 1129l6 6m0 -6l-6 6M671 1237l6 6m0 -6l-6 6M672 1245l6 6m0 -6l-6 6M673 1163l6 6m0 -6l-6 6M672 1226l6 6m0 -6l-6 6M673 1169l6 6m0 -6l-6 6M673 1128l6 6m0 -6l-6 6M673 1205l6 6m0 -6l-6 6M673 1196l6 6m0 -6l-6 6M673 1228l6 6m0 -6l-6 6M674 1168l6 6m0 -6l-6 6M674 1144l6 6m0 -6l-6 6M674 1160l6 6m0 -6l-6 6M674 1193l6 6m0 -6l-6 6M674 1161l6 6m0 -6l-6 6M674 1194l6 6m0 -6l-6 6M674 1217l6 6m0 -6l-6 6M675 1231l6 6m0 -6l-6 6M675 1228l6 6m0 -6l-6 6M675 1172l6 6m0 -6l-6 6M675 1181l6 6m0 -6l-6 6M675 1200l6 6m0 -6l-6 6M675 1228l6 6m0 -6l-6 6M675 1189l6 6m0 -6l-6 6M676 1160l6 6m0 -6l-6 6M676 1233l6 6m0 -6l-6 6M676 1193l6 6m0 -6l-6 6M676 1114l6 6m0 -6l-6 6M676 1193l6 6m0 -6l-6 6M675 1168l6 6m0 -6l-6 6M676 1149l6 6m0 -6l-6 6M677 1177l6 6m0 -6l-6 6M677 1150l6 6m0 -6l-6 6M677 1174l6 6m0 -6l-6 6M677 1204l6 6m0 -6l-6 6M676 1137l6 6m0 -6l-6 6M676 1222l6 6m0 -6l-6 6M677 1122l6 6m0 -6l-6 6M678 1160l6 6m0 -6l-6 6M678 1169l6 6m0 -6l-6 6M678 1183l6 6m0 -6l-6 6M678 1191l6 6m0 -6l-6 6M678 1198l6 6m0 -6l-6 6M678 1217l6 6m0 -6l-6 6M678 1191l6 6m0 -6l-6 6M678 1199l6 6m0 -6l-6 6M679 1214l6 6m0 -6l-6 6M679 1228l6 6m0 -6l-6 6M679 1148l6 6m0 -6l-6 6M679 1155l6 6m0 -6l-6 6M679 1113l6 6m0 -6l-6 6M678 1160l6 6m0 -6l-6 6M680 1142l6 6m0 -6l-6 6M679 1188l6 6m0 -6l-6 6M680 1096l6 6m0 -6l-6 6M679 1119l6 6m0 -6l-6 6M680 1138l6 6m0 -6l-6 6M679 1187l6 6m0 -6l-6 6M680 1147l6 6m0 -6l-6 6M681 1194l6 6m0 -6l-6 6M681 1209l6 6m0 -6l-6 6M681 1178l6 6m0 -6l-6 6M681 1186l6 6m0 -6l-6 6M681 1154l6 6m0 -6l-6 6M680 1243l6 6m0 -6l-6 6M681 1239l6 6m0 -6l-6 6M682 1146l6 6m0 -6l-6 6M682 1163l6 6m0 -6l-6 6M682 1208l6 6m0 -6l-6 6M682 1225l6 6m0 -6l-6 6M682 1149l6 6m0 -6l-6 6M682 1165l6 6m0 -6l-6 6M682 1190l6 6m0 -6l-6 6M683 1175l6 6m0 -6l-6 6M683 1174l6 6m0 -6l-6 6M683 1195l6 6m0 -6l-6 6M683 1162l6 6m0 -6l-6 6M683 1155l6 6m0 -6l-6 6M683 1172l6 6m0 -6l-6 6M682 1181l6 6m0 -6l-6 6M684 1194l6 6m0 -6l-6 6M684 1208l6 6m0 -6l-6 6M683 1217l6 6m0 -6l-6 6M684 1231l6 6m0 -6l-6 6M684 1155l6 6m0 -6l-6 6M684 1092l6 6m0 -6l-6 6M684 1130l6 6m0 -6l-6 6M685 1141l6 6m0 -6l-6 6M685 1187l6 6m0 -6l-6 6M685 1194l6 6m0 -6l-6 6M685 1174l6 6m0 -6l-6 6M685 1161l6 6m0 -6l-6 6M685 1175l6 6m0 -6l-6 6M685 1160l6 6m0 -6l-6 6M685 1205l6 6m0 -6l-6 6M686 1209l6 6m0 -6l-6 6M686 1160l6 6m0 -6l-6 6M686 1073l6 6m0 -6l-6 6M686 1179l6 6m0 -6l-6 6M686 1197l6 6m0 -6l-6 6M686 1191l6 6m0 -6l-6 6M687 1169l6 6m0 -6l-6 6M687 1192l6 6m0 -6l-6 6M687 1172l6 6m0 -6l-6 6M686 1197l6 6m0 -6l-6 6M687 1208l6 6m0 -6l-6 6M687 1159l6 6m0 -6l-6 6M687 1194l6 6m0 -6l-6 6M688 1177l6 6m0 -6l-6 6M687 1140l6 6m0 -6l-6 6M688 1167l6 6m0 -6l-6 6M688 1127l6 6m0 -6l-6 6M688 1194l6 6m0 -6l-6 6M688 1175l6 6m0 -6l-6 6M688 1188l6 6m0 -6l-6 6M688 1204l6 6m0 -6l-6 6M689 1167l6 6m0 -6l-6 6M689 1191l6 6m0 -6l-6 6M689 1169l6 6m0 -6l-6 6M689 1201l6 6m0 -6l-6 6M689 1187l6 6m0 -6l-6 6M689 1146l6 6m0 -6l-6 6M690 1175l6 6m0 -6l-6 6M690 1125l6 6m0 -6l-6 6M690 1234l6 6m0 -6l-6 6M690 1189l6 6m0 -6l-6 6M690 1173l6 6m0 -6l-6 6M690 1158l6 6m0 -6l-6 6M690 1232l6 6m0 -6l-6 6M690 1196l6 6m0 -6l-6 6M691 1200l6 6m0 -6l-6 6M691 1146l6 6m0 -6l-6 6M691 1203l6 6m0 -6l-6 6M691 1176l6 6m0 -6l-6 6M691 1155l6 6m0 -6l-6 6M691 1152l6 6m0 -6l-6 6M692 1154l6 6m0 -6l-6 6M692 1171l6 6m0 -6l-6 6M692 1131l6 6m0 -6l-6 6M692 1185l6 6m0 -6l-6 6M692 1124l6 6m0 -6l-6 6M692 1166l6 6m0 -6l-6 6M692 1127l6 6m0 -6l-6 6M693 1218l6 6m0 -6l-6 6M693 1165l6 6m0 -6l-6 6M692 1148l6 6m0 -6l-6 6M693 1150l6 6m0 -6l-6 6M692 1165l6 6m0 -6l-6 6M693 1228l6 6m0 -6l-6 6M693 1118l6 6m0 -6l-6 6M694 1170l6 6m0 -6l-6 6M694 1158l6 6m0 -6l-6 6M694 1170l6 6m0 -6l-6 6M694 1220l6 6m0 -6l-6 6M694 1236l6 6m0 -6l-6 6M693 1205l6 6m0 -6l-6 6M694 1161l6 6m0 -6l-6 6M695 1172l6 6m0 -6l-6 6M695 1216l6 6m0 -6l-6 6M695 1134l6 6m0 -6l-6 6M695 1137l6 6m0 -6l-6 6M695 1142l6 6m0 -6l-6 6M695 1180l6 6m0 -6l-6 6M695 1180l6 6m0 -6l-6 6M696 1150l6 6m0 -6l-6 6M696 1159l6 6m0 -6l-6 6M696 1203l6 6m0 -6l-6 6M696 1131l6 6m0 -6l-6 6M696 1190l6 6m0 -6l-6 6M696 1167l6 6m0 -6l-6 6M695 1153l6 6m0 -6l-6 6M697 1168l6 6m0 -6l-6 6M697 1185l6 6m0 -6l-6 6M697 1162l6 6m0 -6l-6 6M697 1096l6 6m0 -6l-6 6M696 1147l6 6m0 -6l-6 6M697 1144l6 6m0 -6l-6 6M696 1189l6 6m0 -6l-6 6M698 1148l6 6m0 -6l-6 6M698 1137l6 6m0 -6l-6 6M698 1136l6 6m0 -6l-6 6M698 1113l6 6m0 -6l-6 6M698 1210l6 6m0 -6l-6 6M698 1199l6 6m0 -6l-6 6M698 1202l6 6m0 -6l-6 6M699 1139l6 6m0 -6l-6 6M699 1148l6 6m0 -6l-6 6M698 1177l6 6m0 -6l-6 6M698 1154l6 6m0 -6l-6 6M699 1162l6 6m0 -6l-6 6M699 1202l6 6m0 -6l-6 6M699 1182l6 6m0 -6l-6 6M700 1194l6 6m0 -6l-6 6M700 1203l6 6m0 -6l-6 6M700 1157l6 6m0 -6l-6 6M700 1143l6 6m0 -6l-6 6M700 1194l6 6m0 -6l-6 6M699 1207l6 6m0 -6l-6 6M700 1225l6 6m0 -6l-6 6M701 1201l6 6m0 -6l-6 6M701 1177l6 6m0 -6l-6 6M701 1201l6 6m0 -6l-6 6M701 1154l6 6m0 -6l-6 6M701 1233l6 6m0 -6l-6 6M701 1173l6 6m0 -6l-6 6M701 1158l6 6m0 -6l-6 6M702 1209l6 6m0 -6l-6 6M702 1250l6 6m0 -6l-6 6M702 1200l6 6m0 -6l-6 6M702 1199l6 6m0 -6l-6 6M702 1107l6 6m0 -6l-6 6M701 1148l6 6m0 -6l-6 6M702 1202l6 6m0 -6l-6 6M703 1198l6 6m0 -6l-6 6M703 1099l6 6m0 -6l-6 6M703 1166l6 6m0 -6l-6 6M702 1118l6 6m0 -6l-6 6M702 1148l6 6m0 -6l-6 6M703 1186l6 6m0 -6l-6 6M703 1232l6 6m0 -6l-6 6M704 1144l6 6m0 -6l-6 6M703 1160l6 6m0 -6l-6 6M704 1190l6 6m0 -6l-6 6M704 1139l6 6m0 -6l-6 6M704 1123l6 6m0 -6l-6 6M704 1151l6 6m0 -6l-6 6M704 1161l6 6m0 -6l-6 6M704 1186l6 6m0 -6l-6 6M705 1124l6 6m0 -6l-6 6M705 1179l6 6m0 -6l-6 6M705 1181l6 6m0 -6l-6 6M704 1175l6 6m0 -6l-6 6M705 1164l6 6m0 -6l-6 6M705 1132l6 6m0 -6l-6 6M706 1162l6 6m0 -6l-6 6M706 1214l6 6m0 -6l-6 6M705 1163l6 6m0 -6l-6 6M706 1180l6 6m0 -6l-6 6M706 1133l6 6m0 -6l-6 6M706 1250l6 6m0 -6l-6 6M706 1115l6 6m0 -6l-6 6M707 1170l6 6m0 -6l-6 6M707 1188l6 6m0 -6l-6 6M707 1161l6 6m0 -6l-6 6M707 1184l6 6m0 -6l-6 6M707 1225l6 6m0 -6l-6 6M707 1171l6 6m0 -6l-6 6M707 1175l6 6m0 -6l-6 6M708 1142l6 6m0 -6l-6 6M708 1138l6 6m0 -6l-6 6M708 1229l6 6m0 -6l-6 6M708 1129l6 6m0 -6l-6 6M708 1224l6 6m0 -6l-6 6M708 1256l6 6m0 -6l-6 6M708 1122l6 6m0 -6l-6 6M709 1193l6 6m0 -6l-6 6M709 1241l6 6m0 -6l-6 6M709 1192l6 6m0 -6l-6 6M709 1187l6 6m0 -6l-6 6M709 1129l6 6m0 -6l-6 6M709 1128l6 6m0 -6l-6 6M709 1148l6 6m0 -6l-6 6M710 1094l6 6m0 -6l-6 6M709 1221l6 6m0 -6l-6 6M709 1170l6 6m0 -6l-6 6M710 1205l6 6m0 -6l-6 6M710 1195l6 6m0 -6l-6 6M710 1200l6 6m0 -6l-6 6M710 1219l6 6m0 -6l-6 6M710 1177l6 6m0 -6l-6 6M711 1134l6 6m0 -6l-6 6M711 1199l6 6m0 -6l-6 6M711 1165l6 6m0 -6l-6 6M711 1174l6 6m0 -6l-6 6M711 1171l6 6m0 -6l-6 6M711 1119l6 6m0 -6l-6 6M711 1140l6 6m0 -6l-6 6M712 1184l6 6m0 -6l-6 6M712 1169l6 6m0 -6l-6 6M712 1187l6 6m0 -6l-6 6M711 1224l6 6m0 -6l-6 6M712 1139l6 6m0 -6l-6 6M711 1179l6 6m0 -6l-6 6M713 1157l6 6m0 -6l-6 6M713 1184l6 6m0 -6l-6 6M713 1179l6 6m0 -6l-6 6M713 1209l6 6m0 -6l-6 6M713 1166l6 6m0 -6l-6 6M713 1145l6 6m0 -6l-6 6M713 1182l6 6m0 -6l-6 6M714 1179l6 6m0 -6l-6 6M714 1195l6 6m0 -6l-6 6M714 1193l6 6m0 -6l-6 6M714 1124l6 6m0 -6l-6 6M714 1186l6 6m0 -6l-6 6M714 1134l6 6m0 -6l-6 6M714 1131l6 6m0 -6l-6 6M715 1143l6 6m0 -6l-6 6M714 1212l6 6m0 -6l-6 6M714 1179l6 6m0 -6l-6 6M715 1156l6 6m0 -6l-6 6M714 1135l6 6m0 -6l-6 6M715 1158l6 6m0 -6l-6 6M715 1140l6 6m0 -6l-6 6M716 1276l6 6m0 -6l-6 6M715 1243l6 6m0 -6l-6 6M716 1140l6 6m0 -6l-6 6M715 1174l6 6m0 -6l-6 6M716 1149l6 6m0 -6l-6 6M716 1231l6 6m0 -6l-6 6M716 1086l6 6m0 -6l-6 6M717 1174l6 6m0 -6l-6 6M717 1187l6 6m0 -6l-6 6M716 1177l6 6m0 -6l-6 6M717 1205l6 6m0 -6l-6 6M717 1133l6 6m0 -6l-6 6M716 1133l6 6m0 -6l-6 6M717 1219l6 6m0 -6l-6 6M717 1187l6 6m0 -6l-6 6M718 1119l6 6m0 -6l-6 6M717 1213l6 6m0 -6l-6 6M718 1182l6 6m0 -6l-6 6M718 1151l6 6m0 -6l-6 6M718 1195l6 6m0 -6l-6 6M717 1160l6 6m0 -6l-6 6M719 1174l6 6m0 -6l-6 6M719 1208l6 6m0 -6l-6 6M719 1154l6 6m0 -6l-6 6M719 1123l6 6m0 -6l-6 6M718 1143l6 6m0 -6l-6 6M719 1165l6 6m0 -6l-6 6M719 1130l6 6m0 -6l-6 6M720 1189l6 6m0 -6l-6 6M720 1223l6 6m0 -6l-6 6M720 1188l6 6m0 -6l-6 6M719 1152l6 6m0 -6l-6 6M720 1144l6 6m0 -6l-6 6M720 1246l6 6m0 -6l-6 6M720 1180l6 6m0 -6l-6 6M721 1097l6 6m0 -6l-6 6M721 1183l6 6m0 -6l-6 6M721 1195l6 6m0 -6l-6 6M721 1234l6 6m0 -6l-6 6M720 1218l6 6m0 -6l-6 6M721 1230l6 6m0 -6l-6 6M721 1155l6 6m0 -6l-6 6M722 1192l6 6m0 -6l-6 6M721 1144l6 6m0 -6l-6 6M722 1229l6 6m0 -6l-6 6M722 1199l6 6m0 -6l-6 6M722 1182l6 6m0 -6l-6 6M722 1158l6 6m0 -6l-6 6M722 1186l6 6m0 -6l-6 6M723 1084l6 6m0 -6l-6 6M722 1170l6 6m0 -6l-6 6M722 1125l6 6m0 -6l-6 6M723 1220l6 6m0 -6l-6 6M723 1064l6 6m0 -6l-6 6M723 1217l6 6m0 -6l-6 6M723 1142l6 6m0 -6l-6 6M724 1190l6 6m0 -6l-6 6M724 1235l6 6m0 -6l-6 6M724 1217l6 6m0 -6l-6 6M724 1110l6 6m0 -6l-6 6M724 1218l6 6m0 -6l-6 6M724 1179l6 6m0 -6l-6 6M724 1175l6 6m0 -6l-6 6M724 1223l6 6m0 -6l-6 6M725 1172l6 6m0 -6l-6 6M725 1144l6 6m0 -6l-6 6M725 1189l6 6m0 -6l-6 6M725 1216l6 6m0 -6l-6 6M725 1164l6 6m0 -6l-6 6M724 1190l6 6m0 -6l-6 6M726 1155l6 6m0 -6l-6 6M725 1175l6 6m0 -6l-6 6M726 1209l6 6m0 -6l-6 6M726 1186l6 6m0 -6l-6 6M726 1130l6 6m0 -6l-6 6M726 1204l6 6m0 -6l-6 6M726 1121l6 6m0 -6l-6 6M727 1164l6 6m0 -6l-6 6M727 1181l6 6m0 -6l-6 6M727 1156l6 6m0 -6l-6 6M727 1167l6 6m0 -6l-6 6M727 1137l6 6m0 -6l-6 6M727 1148l6 6m0 -6l-6 6M727 1113l6 6m0 -6l-6 6M728 1203l6 6m0 -6l-6 6M728 1174l6 6m0 -6l-6 6M728 1111l6 6m0 -6l-6 6M728 1173l6 6m0 -6l-6 6M727 1197l6 6m0 -6l-6 6M728 1187l6 6m0 -6l-6 6M727 1188l6 6m0 -6l-6 6M729 1202l6 6m0 -6l-6 6M729 1199l6 6m0 -6l-6 6M728 1226l6 6m0 -6l-6 6M729 1172l6 6m0 -6l-6 6M729 1249l6 6m0 -6l-6 6M728 1159l6 6m0 -6l-6 6M728 1202l6 6m0 -6l-6 6M730 1180l6 6m0 -6l-6 6M730 1198l6 6m0 -6l-6 6M729 1164l6 6m0 -6l-6 6M730 1185l6 6m0 -6l-6 6M730 1139l6 6m0 -6l-6 6M730 1194l6 6m0 -6l-6 6M730 1145l6 6m0 -6l-6 6M731 1275l6 6m0 -6l-6 6M731 1160l6 6m0 -6l-6 6M731 1108l6 6m0 -6l-6 6M730 1142l6 6m0 -6l-6 6M731 1224l6 6m0 -6l-6 6M731 1148l6 6m0 -6l-6 6M731 1130l6 6m0 -6l-6 6M731 1196l6 6m0 -6l-6 6M732 1187l6 6m0 -6l-6 6M732 1200l6 6m0 -6l-6 6M731 1230l6 6m0 -6l-6 6M732 1163l6 6m0 -6l-6 6M731 1219l6 6m0 -6l-6 6M732 1243l6 6m0 -6l-6 6M733 1206l6 6m0 -6l-6 6M732 1202l6 6m0 -6l-6 6M733 1163l6 6m0 -6l-6 6M733 1189l6 6m0 -6l-6 6M733 1115l6 6m0 -6l-6 6M733 1155l6 6m0 -6l-6 6M733 1199l6 6m0 -6l-6 6M734 1193l6 6m0 -6l-6 6M733 1140l6 6m0 -6l-6 6M734 1152l6 6m0 -6l-6 6M734 1185l6 6m0 -6l-6 6M734 1128l6 6m0 -6l-6 6M734 1172l6 6m0 -6l-6 6M734 1188l6 6m0 -6l-6 6M735 1172l6 6m0 -6l-6 6M735 1178l6 6m0 -6l-6 6M735 1125l6 6m0 -6l-6 6M735 1165l6 6m0 -6l-6 6M735 1161l6 6m0 -6l-6 6M735 1215l6 6m0 -6l-6 6M735 1208l6 6m0 -6l-6 6M736 1179l6 6m0 -6l-6 6M736 1192l6 6m0 -6l-6 6M736 1191l6 6m0 -6l-6 6M735 1182l6 6m0 -6l-6 6M736 1217l6 6m0 -6l-6 6M736 1194l6 6m0 -6l-6 6M736 1187l6 6m0 -6l-6 6M737 1182l6 6m0 -6l-6 6M737 1141l6 6m0 -6l-6 6M737 1150l6 6m0 -6l-6 6M736 1156l6 6m0 -6l-6 6M737 1188l6 6m0 -6l-6 6M736 1224l6 6m0 -6l-6 6M737 1186l6 6m0 -6l-6 6M737 1149l6 6m0 -6l-6 6M738 1177l6 6m0 -6l-6 6M738 1184l6 6m0 -6l-6 6M738 1192l6 6m0 -6l-6 6M738 1148l6 6m0 -6l-6 6M738 1140l6 6m0 -6l-6 6M738 1196l6 6m0 -6l-6 6M739 1182l6 6m0 -6l-6 6M739 1174l6 6m0 -6l-6 6M739 1153l6 6m0 -6l-6 6M739 1150l6 6m0 -6l-6 6M739 1145l6 6m0 -6l-6 6M739 1164l6 6m0 -6l-6 6M739 1165l6 6m0 -6l-6 6M740 1184l6 6m0 -6l-6 6M739 1162l6 6m0 -6l-6 6M740 1139l6 6m0 -6l-6 6M740 1195l6 6m0 -6l-6 6M740 1107l6 6m0 -6l-6 6M740 1154l6 6m0 -6l-6 6M740 1123l6 6m0 -6l-6 6M741 1197l6 6m0 -6l-6 6M740 1201l6 6m0 -6l-6 6M741 1149l6 6m0 -6l-6 6M740 1202l6 6m0 -6l-6 6M741 1198l6 6m0 -6l-6 6M740 1177l6 6m0 -6l-6 6M741 1184l6 6m0 -6l-6 6M741 1164l6 6m0 -6l-6 6M742 1207l6 6m0 -6l-6 6M742 1211l6 6m0 -6l-6 6M742 1196l6 6m0 -6l-6 6M742 1199l6 6m0 -6l-6 6M742 1152l6 6m0 -6l-6 6M742 1127l6 6m0 -6l-6 6M743 1212l6 6m0 -6l-6 6M743 1178l6 6m0 -6l-6 6M743 1204l6 6m0 -6l-6 6M743 1126l6 6m0 -6l-6 6M743 1171l6 6m0 -6l-6 6M743 1141l6 6m0 -6l-6 6M743 1213l6 6m0 -6l-6 6M743 1184l6 6m0 -6l-6 6M744 1187l6 6m0 -6l-6 6M744 1219l6 6m0 -6l-6 6M744 1140l6 6m0 -6l-6 6M744 1147l6 6m0 -6l-6 6M744 1198l6 6m0 -6l-6 6M744 1195l6 6m0 -6l-6 6M745 1156l6 6m0 -6l-6 6M745 1153l6 6m0 -6l-6 6M744 1137l6 6m0 -6l-6 6M745 1189l6 6m0 -6l-6 6M745 1163l6 6m0 -6l-6 6M745 1180l6 6m0 -6l-6 6M744 1189l6 6m0 -6l-6 6M746 1193l6 6m0 -6l-6 6M746 1230l6 6m0 -6l-6 6M746 1146l6 6m0 -6l-6 6M746 1169l6 6m0 -6l-6 6M746 1178l6 6m0 -6l-6 6M746 1194l6 6m0 -6l-6 6M746 1159l6 6m0 -6l-6 6M747 1166l6 6m0 -6l-6 6M746 1143l6 6m0 -6l-6 6M747 1159l6 6m0 -6l-6 6M747 1144l6 6m0 -6l-6 6M747 1203l6 6m0 -6l-6 6M747 1193l6 6m0 -6l-6 6M746 1188l6 6m0 -6l-6 6M748 1163l6 6m0 -6l-6 6M748 1125l6 6m0 -6l-6 6M748 1195l6 6m0 -6l-6 6M748 1167l6 6m0 -6l-6 6M747 1139l6 6m0 -6l-6 6M748 1199l6 6m0 -6l-6 6M748 1178l6 6m0 -6l-6 6M748 1221l6 6m0 -6l-6 6M749 1110l6 6m0 -6l-6 6M749 1141l6 6m0 -6l-6 6M749 1130l6 6m0 -6l-6 6M749 1159l6 6m0 -6l-6 6M749 1169l6 6m0 -6l-6 6M749 1140l6 6m0 -6l-6 6M750 1193l6 6m0 -6l-6 6M750 1187l6 6m0 -6l-6 6M750 1137l6 6m0 -6l-6 6M750 1190l6 6m0 -6l-6 6M750 1169l6 6m0 -6l-6 6M750 1196l6 6m0 -6l-6 6M750 1171l6 6m0 -6l-6 6M751 1195l6 6m0 -6l-6 6M750 1152l6 6m0 -6l-6 6M750 1113l6 6m0 -6l-6 6M751 1178l6 6m0 -6l-6 6M751 1176l6 6m0 -6l-6 6M751 1185l6 6m0 -6l-6 6M751 1149l6 6m0 -6l-6 6M752 1163l6 6m0 -6l-6 6M752 1174l6 6m0 -6l-6 6M752 1178l6 6m0 -6l-6 6M752 1169l6 6m0 -6l-6 6M751 1187l6 6m0 -6l-6 6M752 1205l6 6m0 -6l-6 6M752 1199l6 6m0 -6l-6 6M753 1187l6 6m0 -6l-6 6M753 1210l6 6m0 -6l-6 6M753 1180l6 6m0 -6l-6 6M752 1279l6 6m0 -6l-6 6M753 1220l6 6m0 -6l-6 6M753 1190l6 6m0 -6l-6 6M753 1222l6 6m0 -6l-6 6M754 1142l6 6m0 -6l-6 6M754 1173l6 6m0 -6l-6 6M754 1160l6 6m0 -6l-6 6M754 1180l6 6m0 -6l-6 6M754 1210l6 6m0 -6l-6 6M754 1155l6 6m0 -6l-6 6M754 1188l6 6m0 -6l-6 6M755 1164l6 6m0 -6l-6 6M755 1212l6 6m0 -6l-6 6M755 1145l6 6m0 -6l-6 6M755 1167l6 6m0 -6l-6 6M755 1187l6 6m0 -6l-6 6M754 1194l6 6m0 -6l-6 6M755 1181l6 6m0 -6l-6 6M755 1201l6 6m0 -6l-6 6M756 1083l6 6m0 -6l-6 6M756 1128l6 6m0 -6l-6 6M756 1218l6 6m0 -6l-6 6M756 1182l6 6m0 -6l-6 6M756 1151l6 6m0 -6l-6 6M755 1147l6 6m0 -6l-6 6M757 1232l6 6m0 -6l-6 6M757 1247l6 6m0 -6l-6 6M757 1224l6 6m0 -6l-6 6M757 1095l6 6m0 -6l-6 6M757 1160l6 6m0 -6l-6 6M757 1167l6 6m0 -6l-6 6M757 1185l6 6m0 -6l-6 6M757 1193l6 6m0 -6l-6 6M758 1157l6 6m0 -6l-6 6M758 1156l6 6m0 -6l-6 6M758 1154l6 6m0 -6l-6 6M758 1183l6 6m0 -6l-6 6M758 1175l6 6m0 -6l-6 6M758 1172l6 6m0 -6l-6 6M759 1189l6 6m0 -6l-6 6M758 1176l6 6m0 -6l-6 6M759 1111l6 6m0 -6l-6 6M759 1142l6 6m0 -6l-6 6M759 1181l6 6m0 -6l-6 6M759 1225l6 6m0 -6l-6 6M759 1206l6 6m0 -6l-6 6M760 1103l6 6m0 -6l-6 6M760 1175l6 6m0 -6l-6 6M760 1120l6 6m0 -6l-6 6M760 1172l6 6m0 -6l-6 6M759 1159l6 6m0 -6l-6 6M760 1151l6 6m0 -6l-6 6M760 1211l6 6m0 -6l-6 6M760 1168l6 6m0 -6l-6 6M761 1055l6 6m0 -6l-6 6M761 1203l6 6m0 -6l-6 6M761 1088l6 6m0 -6l-6 6M761 1239l6 6m0 -6l-6 6M761 1194l6 6m0 -6l-6 6M761 1182l6 6m0 -6l-6 6M762 1185l6 6m0 -6l-6 6M762 1175l6 6m0 -6l-6 6M762 1168l6 6m0 -6l-6 6M762 1180l6 6m0 -6l-6 6M762 1258l6 6m0 -6l-6 6M762 1109l6 6m0 -6l-6 6M762 1226l6 6m0 -6l-6 6M763 1201l6 6m0 -6l-6 6M763 1169l6 6m0 -6l-6 6M762 1190l6 6m0 -6l-6 6M763 1141l6 6m0 -6l-6 6M763 1157l6 6m0 -6l-6 6M763 1175l6 6m0 -6l-6 6M763 1151l6 6m0 -6l-6 6M764 1172l6 6m0 -6l-6 6M763 1224l6 6m0 -6l-6 6M764 1103l6 6m0 -6l-6 6M763 1165l6 6m0 -6l-6 6M764 1133l6 6m0 -6l-6 6M764 1165l6 6m0 -6l-6 6M764 1180l6 6m0 -6l-6 6M765 1179l6 6m0 -6l-6 6M764 1175l6 6m0 -6l-6 6M764 1189l6 6m0 -6l-6 6M764 1154l6 6m0 -6l-6 6M764 1171l6 6m0 -6l-6 6M765 1165l6 6m0 -6l-6 6M765 1188l6 6m0 -6l-6 6M766 1169l6 6m0 -6l-6 6M766 1116l6 6m0 -6l-6 6M766 1159l6 6m0 -6l-6 6M766 1238l6 6m0 -6l-6 6M766 1180l6 6m0 -6l-6 6M766 1224l6 6m0 -6l-6 6M766 1185l6 6m0 -6l-6 6M767 1144l6 6m0 -6l-6 6M767 1170l6 6m0 -6l-6 6M767 1100l6 6m0 -6l-6 6M767 1105l6 6m0 -6l-6 6M767 1193l6 6m0 -6l-6 6M767 1154l6 6m0 -6l-6 6M767 1231l6 6m0 -6l-6 6M768 1172l6 6m0 -6l-6 6M767 1160l6 6m0 -6l-6 6M768 1184l6 6m0 -6l-6 6M768 1136l6 6m0 -6l-6 6M768 1122l6 6m0 -6l-6 6M768 1182l6 6m0 -6l-6 6M767 1134l6 6m0 -6l-6 6M769 1138l6 6m0 -6l-6 6M769 1213l6 6m0 -6l-6 6M769 1152l6 6m0 -6l-6 6M768 1168l6 6m0 -6l-6 6M769 1121l6 6m0 -6l-6 6M769 1141l6 6m0 -6l-6 6M769 1144l6 6m0 -6l-6 6M770 1107l6 6m0 -6l-6 6M770 1191l6 6m0 -6l-6 6M770 1152l6 6m0 -6l-6 6M770 1168l6 6m0 -6l-6 6M770 1247l6 6m0 -6l-6 6M770 1183l6 6m0 -6l-6 6M770 1186l6 6m0 -6l-6 6M771 1178l6 6m0 -6l-6 6M771 1128l6 6m0 -6l-6 6M771 1219l6 6m0 -6l-6 6M771 1188l6 6m0 -6l-6 6M771 1200l6 6m0 -6l-6 6M770 1146l6 6m0 -6l-6 6M771 1211l6 6m0 -6l-6 6M772 1165l6 6m0 -6l-6 6M772 1183l6 6m0 -6l-6 6M772 1221l6 6m0 -6l-6 6M772 1191l6 6m0 -6l-6 6M771 1151l6 6m0 -6l-6 6M771 1062l6 6m0 -6l-6 6M772 1160l6 6m0 -6l-6 6M773 1144l6 6m0 -6l-6 6M773 1178l6 6m0 -6l-6 6M773 1224l6 6m0 -6l-6 6M772 1226l6 6m0 -6l-6 6M772 1114l6 6m0 -6l-6 6M773 1218l6 6m0 -6l-6 6M773 1119l6 6m0 -6l-6 6M774 1208l6 6m0 -6l-6 6M774 1164l6 6m0 -6l-6 6M774 1238l6 6m0 -6l-6 6M774 1193l6 6m0 -6l-6 6M774 1203l6 6m0 -6l-6 6M774 1117l6 6m0 -6l-6 6M774 1130l6 6m0 -6l-6 6M775 1164l6 6m0 -6l-6 6M775 1233l6 6m0 -6l-6 6M775 1231l6 6m0 -6l-6 6M775 1132l6 6m0 -6l-6 6M775 1172l6 6m0 -6l-6 6M775 1194l6 6m0 -6l-6 6M775 1201l6 6m0 -6l-6 6M776 1228l6 6m0 -6l-6 6M776 1187l6 6m0 -6l-6 6M775 1161l6 6m0 -6l-6 6M775 1181l6 6m0 -6l-6 6M775 1155l6 6m0 -6l-6 6M775 1154l6 6m0 -6l-6 6M776 1159l6 6m0 -6l-6 6M777 1152l6 6m0 -6l-6 6M777 1140l6 6m0 -6l-6 6M777 1170l6 6m0 -6l-6 6M777 1130l6 6m0 -6l-6 6M777 1175l6 6m0 -6l-6 6M777 1161l6 6m0 -6l-6 6M776 1131l6 6m0 -6l-6 6M778 1174l6 6m0 -6l-6 6M778 1166l6 6m0 -6l-6 6M778 1146l6 6m0 -6l-6 6M778 1170l6 6m0 -6l-6 6M778 1206l6 6m0 -6l-6 6M778 1150l6 6m0 -6l-6 6M778 1198l6 6m0 -6l-6 6M779 1122l6 6m0 -6l-6 6M779 1147l6 6m0 -6l-6 6M779 1075l6 6m0 -6l-6 6M779 1076l6 6m0 -6l-6 6M779 1195l6 6m0 -6l-6 6M779 1172l6 6m0 -6l-6 6M779 1205l6 6m0 -6l-6 6M780 1105l6 6m0 -6l-6 6M780 1195l6 6m0 -6l-6 6M780 1209l6 6m0 -6l-6 6M780 1111l6 6m0 -6l-6 6M779 1178l6 6m0 -6l-6 6M780 1195l6 6m0 -6l-6 6M779 1171l6 6m0 -6l-6 6M781 1222l6 6m0 -6l-6 6M781 1162l6 6m0 -6l-6 6M780 1168l6 6m0 -6l-6 6M781 1183l6 6m0 -6l-6 6M781 1271l6 6m0 -6l-6 6M780 1232l6 6m0 -6l-6 6M781 1175l6 6m0 -6l-6 6M782 1157l6 6m0 -6l-6 6M782 1174l6 6m0 -6l-6 6M781 1210l6 6m0 -6l-6 6M782 1164l6 6m0 -6l-6 6M782 1241l6 6m0 -6l-6 6M781 1172l6 6m0 -6l-6 6M782 1176l6 6m0 -6l-6 6M783 1190l6 6m0 -6l-6 6M783 1156l6 6m0 -6l-6 6M783 1212l6 6m0 -6l-6 6M783 1174l6 6m0 -6l-6 6M783 1156l6 6m0 -6l-6 6M783 1234l6 6m0 -6l-6 6M783 1233l6 6m0 -6l-6 6M783 1176l6 6m0 -6l-6 6M784 1171l6 6m0 -6l-6 6M783 1137l6 6m0 -6l-6 6M784 1177l6 6m0 -6l-6 6M784 1171l6 6m0 -6l-6 6M784 1135l6 6m0 -6l-6 6M784 1125l6 6m0 -6l-6 6M785 1194l6 6m0 -6l-6 6M784 1175l6 6m0 -6l-6 6M784 1153l6 6m0 -6l-6 6M785 1194l6 6m0 -6l-6 6M784 1210l6 6m0 -6l-6 6M785 1117l6 6m0 -6l-6 6M785 1183l6 6m0 -6l-6 6M786 1158l6 6m0 -6l-6 6M786 1180l6 6m0 -6l-6 6M785 1178l6 6m0 -6l-6 6M786 1228l6 6m0 -6l-6 6M786 1187l6 6m0 -6l-6 6M786 1176l6 6m0 -6l-6 6M786 1159l6 6m0 -6l-6 6M787 1223l6 6m0 -6l-6 6M786 1188l6 6m0 -6l-6 6M787 1150l6 6m0 -6l-6 6M787 1217l6 6m0 -6l-6 6M787 1190l6 6m0 -6l-6 6M787 1197l6 6m0 -6l-6 6M787 1204l6 6m0 -6l-6 6M788 1105l6 6m0 -6l-6 6M787 1202l6 6m0 -6l-6 6M788 1208l6 6m0 -6l-6 6M788 1145l6 6m0 -6l-6 6M788 1142l6 6m0 -6l-6 6M788 1104l6 6m0 -6l-6 6M788 1209l6 6m0 -6l-6 6M789 1165l6 6m0 -6l-6 6M789 1157l6 6m0 -6l-6 6M789 1196l6 6m0 -6l-6 6M788 1115l6 6m0 -6l-6 6M789 1184l6 6m0 -6l-6 6M789 1205l6 6m0 -6l-6 6M788 1101l6 6m0 -6l-6 6M790 1158l6 6m0 -6l-6 6M790 1134l6 6m0 -6l-6 6M789 1209l6 6m0 -6l-6 6M789 1206l6 6m0 -6l-6 6M790 1143l6 6m0 -6l-6 6M789 1157l6 6m0 -6l-6 6M790 1214l6 6m0 -6l-6 6M790 1137l6 6m0 -6l-6 6M791 1178l6 6m0 -6l-6 6M791 1178l6 6m0 -6l-6 6M791 1186l6 6m0 -6l-6 6M791 1125l6 6m0 -6l-6 6M791 1178l6 6m0 -6l-6 6M790 1202l6 6m0 -6l-6 6M792 1141l6 6m0 -6l-6 6M792 1146l6 6m0 -6l-6 6M792 1117l6 6m0 -6l-6 6M792 1195l6 6m0 -6l-6 6M792 1190l6 6m0 -6l-6 6M791 1195l6 6m0 -6l-6 6M792 1196l6 6m0 -6l-6 6M793 1147l6 6m0 -6l-6 6M793 1179l6 6m0 -6l-6 6M793 1173l6 6m0 -6l-6 6M793 1110l6 6m0 -6l-6 6M793 1213l6 6m0 -6l-6 6M793 1164l6 6m0 -6l-6 6M793 1211l6 6m0 -6l-6 6M794 1138l6 6m0 -6l-6 6M794 1197l6 6m0 -6l-6 6M794 1170l6 6m0 -6l-6 6M794 1232l6 6m0 -6l-6 6M794 1117l6 6m0 -6l-6 6M794 1201l6 6m0 -6l-6 6M793 1215l6 6m0 -6l-6 6M795 1167l6 6m0 -6l-6 6M795 1159l6 6m0 -6l-6 6M795 1164l6 6m0 -6l-6 6M795 1194l6 6m0 -6l-6 6M795 1192l6 6m0 -6l-6 6M795 1170l6 6m0 -6l-6 6M795 1183l6 6m0 -6l-6 6M796 1212l6 6m0 -6l-6 6M796 1183l6 6m0 -6l-6 6M796 1190l6 6m0 -6l-6 6M796 1164l6 6m0 -6l-6 6M796 1152l6 6m0 -6l-6 6M796 1197l6 6m0 -6l-6 6M796 1140l6 6m0 -6l-6 6M797 1230l6 6m0 -6l-6 6M796 1224l6 6m0 -6l-6 6M796 1155l6 6m0 -6l-6 6M797 1191l6 6m0 -6l-6 6M797 1137l6 6m0 -6l-6 6M796 1149l6 6m0 -6l-6 6M797 1193l6 6m0 -6l-6 6M798 1170l6 6m0 -6l-6 6M798 1211l6 6m0 -6l-6 6M798 1189l6 6m0 -6l-6 6M797 1171l6 6m0 -6l-6 6M798 1124l6 6m0 -6l-6 6M798 1137l6 6m0 -6l-6 6M798 1161l6 6m0 -6l-6 6M799 1158l6 6m0 -6l-6 6M799 1139l6 6m0 -6l-6 6M799 1196l6 6m0 -6l-6 6M798 1162l6 6m0 -6l-6 6M798 1134l6 6m0 -6l-6 6M799 1218l6 6m0 -6l-6 6M799 1219l6 6m0 -6l-6 6M800 1174l6 6m0 -6l-6 6M800 1204l6 6m0 -6l-6 6M800 1138l6 6m0 -6l-6 6M800 1171l6 6m0 -6l-6 6M800 1151l6 6m0 -6l-6 6M800 1083l6 6m0 -6l-6 6M800 1190l6 6m0 -6l-6 6M801 1172l6 6m0 -6l-6 6M801 1187l6 6m0 -6l-6 6M801 1166l6 6m0 -6l-6 6M801 1159l6 6m0 -6l-6 6M801 1141l6 6m0 -6l-6 6M801 1164l6 6m0 -6l-6 6M801 1159l6 6m0 -6l-6 6M802 1144l6 6m0 -6l-6 6M801 1123l6 6m0 -6l-6 6M802 1196l6 6m0 -6l-6 6M802 1169l6 6m0 -6l-6 6M802 1158l6 6m0 -6l-6 6M801 1170l6 6m0 -6l-6 6M802 1175l6 6m0 -6l-6 6M803 1116l6 6m0 -6l-6 6M803 1128l6 6m0 -6l-6 6M802 1138l6 6m0 -6l-6 6M803 1164l6 6m0 -6l-6 6M803 1162l6 6m0 -6l-6 6M803 1185l6 6m0 -6l-6 6M803 1204l6 6m0 -6l-6 6M804 1195l6 6m0 -6l-6 6M804 1137l6 6m0 -6l-6 6M803 1151l6 6m0 -6l-6 6M804 1189l6 6m0 -6l-6 6M804 1141l6 6m0 -6l-6 6M804 1189l6 6m0 -6l-6 6M804 1179l6 6m0 -6l-6 6M805 1162l6 6m0 -6l-6 6M805 1164l6 6m0 -6l-6 6M804 1168l6 6m0 -6l-6 6M804 1186l6 6m0 -6l-6 6M804 1197l6 6m0 -6l-6 6M805 1168l6 6m0 -6l-6 6M805 1164l6 6m0 -6l-6 6M806 1234l6 6m0 -6l-6 6M806 1187l6 6m0 -6l-6 6M805 1206l6 6m0 -6l-6 6M805 1168l6 6m0 -6l-6 6M806 1133l6 6m0 -6l-6 6M805 1156l6 6m0 -6l-6 6M806 1206l6 6m0 -6l-6 6M806 1197l6 6m0 -6l-6 6M806 1146l6 6m0 -6l-6 6M807 1159l6 6m0 -6l-6 6M807 1167l6 6m0 -6l-6 6M807 1164l6 6m0 -6l-6 6M807 1160l6 6m0 -6l-6 6M807 1185l6 6m0 -6l-6 6M808 1125l6 6m0 -6l-6 6M808 1191l6 6m0 -6l-6 6M807 1183l6 6m0 -6l-6 6M808 1199l6 6m0 -6l-6 6M808 1112l6 6m0 -6l-6 6M808 1141l6 6m0 -6l-6 6M808 1168l6 6m0 -6l-6 6M808 1080l6 6m0 -6l-6 6M809 1184l6 6m0 -6l-6 6M809 1174l6 6m0 -6l-6 6M809 1128l6 6m0 -6l-6 6M809 1141l6 6m0 -6l-6 6M809 1079l6 6m0 -6l-6 6M809 1153l6 6m0 -6l-6 6M810 1229l6 6m0 -6l-6 6M810 1221l6 6m0 -6l-6 6M810 1104l6 6m0 -6l-6 6M810 1123l6 6m0 -6l-6 6M810 1219l6 6m0 -6l-6 6M809 1139l6 6m0 -6l-6 6M810 1121l6 6m0 -6l-6 6M811 1231l6 6m0 -6l-6 6M811 1110l6 6m0 -6l-6 6M810 1168l6 6m0 -6l-6 6M811 1180l6 6m0 -6l-6 6M811 1237l6 6m0 -6l-6 6M810 1191l6 6m0 -6l-6 6M811 1172l6 6m0 -6l-6 6M812 1175l6 6m0 -6l-6 6M812 1178l6 6m0 -6l-6 6M812 1150l6 6m0 -6l-6 6M812 1165l6 6m0 -6l-6 6M812 1133l6 6m0 -6l-6 6M811 1185l6 6m0 -6l-6 6M812 1170l6 6m0 -6l-6 6M813 1250l6 6m0 -6l-6 6M813 1224l6 6m0 -6l-6 6M813 1250l6 6m0 -6l-6 6M813 1129l6 6m0 -6l-6 6M813 1176l6 6m0 -6l-6 6M813 1206l6 6m0 -6l-6 6M813 1226l6 6m0 -6l-6 6M814 1215l6 6m0 -6l-6 6M814 1160l6 6m0 -6l-6 6M814 1234l6 6m0 -6l-6 6M814 1188l6 6m0 -6l-6 6M814 1140l6 6m0 -6l-6 6M814 1116l6 6m0 -6l-6 6M814 1185l6 6m0 -6l-6 6M814 1162l6 6m0 -6l-6 6M815 1268l6 6m0 -6l-6 6M815 1144l6 6m0 -6l-6 6M814 1189l6 6m0 -6l-6 6M815 1192l6 6m0 -6l-6 6M815 1209l6 6m0 -6l-6 6M815 1170l6 6m0 -6l-6 6M816 1183l6 6m0 -6l-6 6M815 1176l6 6m0 -6l-6 6M815 1164l6 6m0 -6l-6 6M816 1151l6 6m0 -6l-6 6M816 1172l6 6m0 -6l-6 6M816 1143l6 6m0 -6l-6 6M816 1196l6 6m0 -6l-6 6M817 1172l6 6m0 -6l-6 6M817 1138l6 6m0 -6l-6 6M817 1285l6 6m0 -6l-6 6M817 1169l6 6m0 -6l-6 6M817 1188l6 6m0 -6l-6 6M817 1114l6 6m0 -6l-6 6M817 1162l6 6m0 -6l-6 6M818 1181l6 6m0 -6l-6 6M818 1183l6 6m0 -6l-6 6M818 1153l6 6m0 -6l-6 6M818 1200l6 6m0 -6l-6 6M818 1172l6 6m0 -6l-6 6M817 1161l6 6m0 -6l-6 6M818 1170l6 6m0 -6l-6 6M819 1157l6 6m0 -6l-6 6M818 1216l6 6m0 -6l-6 6M819 1151l6 6m0 -6l-6 6M819 1169l6 6m0 -6l-6 6M819 1220l6 6m0 -6l-6 6M819 1104l6 6m0 -6l-6 6M819 1164l6 6m0 -6l-6 6M819 1231l6 6m0 -6l-6 6M820 1249l6 6m0 -6l-6 6M820 1132l6 6m0 -6l-6 6M820 1176l6 6m0 -6l-6 6M820 1181l6 6m0 -6l-6 6M820 1224l6 6m0 -6l-6 6M820 1178l6 6m0 -6l-6 6M821 1213l6 6m0 -6l-6 6M821 1174l6 6m0 -6l-6 6M821 1241l6 6m0 -6l-6 6M820 1238l6 6m0 -6l-6 6M821 1158l6 6m0 -6l-6 6M821 1174l6 6m0 -6l-6 6M821 1097l6 6m0 -6l-6 6M822 1163l6 6m0 -6l-6 6M822 1186l6 6m0 -6l-6 6M822 1139l6 6m0 -6l-6 6M822 1167l6 6m0 -6l-6 6M821 1204l6 6m0 -6l-6 6M821 1141l6 6m0 -6l-6 6M821 1145l6 6m0 -6l-6 6M823 1188l6 6m0 -6l-6 6M823 1158l6 6m0 -6l-6 6M823 1153l6 6m0 -6l-6 6M823 1207l6 6m0 -6l-6 6M822 1164l6 6m0 -6l-6 6M822 1074l6 6m0 -6l-6 6M823 1115l6 6m0 -6l-6 6M824 1112l6 6m0 -6l-6 6M824 1131l6 6m0 -6l-6 6M824 1168l6 6m0 -6l-6 6M824 1153l6 6m0 -6l-6 6M824 1208l6 6m0 -6l-6 6M824 1225l6 6m0 -6l-6 6M823 1116l6 6m0 -6l-6 6M824 1167l6 6m0 -6l-6 6M824 1276l6 6m0 -6l-6 6M824 1165l6 6m0 -6l-6 6M825 1236l6 6m0 -6l-6 6M825 1210l6 6m0 -6l-6 6M825 1199l6 6m0 -6l-6 6M825 1111l6 6m0 -6l-6 6M826 1206l6 6m0 -6l-6 6M826 1194l6 6m0 -6l-6 6M825 1137l6 6m0 -6l-6 6M826 1114l6 6m0 -6l-6 6M826 1211l6 6m0 -6l-6 6M826 1174l6 6m0 -6l-6 6M825 1246l6 6m0 -6l-6 6M827 1189l6 6m0 -6l-6 6M827 1139l6 6m0 -6l-6 6M827 1142l6 6m0 -6l-6 6M827 1185l6 6m0 -6l-6 6M827 1168l6 6m0 -6l-6 6M827 1233l6 6m0 -6l-6 6M826 1234l6 6m0 -6l-6 6M827 1114l6 6m0 -6l-6 6M828 1160l6 6m0 -6l-6 6M828 1172l6 6m0 -6l-6 6M827 1186l6 6m0 -6l-6 6M827 1172l6 6m0 -6l-6 6M828 1195l6 6m0 -6l-6 6M828 1192l6 6m0 -6l-6 6M829 1202l6 6m0 -6l-6 6M829 1169l6 6m0 -6l-6 6M828 1242l6 6m0 -6l-6 6M829 1231l6 6m0 -6l-6 6M828 1194l6 6m0 -6l-6 6M829 1149l6 6m0 -6l-6 6M829 1179l6 6m0 -6l-6 6M830 1284l6 6m0 -6l-6 6M830 1127l6 6m0 -6l-6 6M829 1157l6 6m0 -6l-6 6M830 1211l6 6m0 -6l-6 6M830 1165l6 6m0 -6l-6 6M829 1170l6 6m0 -6l-6 6M830 1243l6 6m0 -6l-6 6M831 1179l6 6m0 -6l-6 6M831 1166l6 6m0 -6l-6 6M831 1126l6 6m0 -6l-6 6M831 1170l6 6m0 -6l-6 6M831 1250l6 6m0 -6l-6 6M831 1170l6 6m0 -6l-6 6M830 1193l6 6m0 -6l-6 6M832 1188l6 6m0 -6l-6 6M832 1110l6 6m0 -6l-6 6M832 1226l6 6m0 -6l-6 6M831 1154l6 6m0 -6l-6 6M832 1150l6 6m0 -6l-6 6M832 1172l6 6m0 -6l-6 6M831 1185l6 6m0 -6l-6 6M833 1187l6 6m0 -6l-6 6M833 1147l6 6m0 -6l-6 6M833 1264l6 6m0 -6l-6 6M832 1158l6 6m0 -6l-6 6M833 1184l6 6m0 -6l-6 6M833 1190l6 6m0 -6l-6 6M833 1170l6 6m0 -6l-6 6M834 1236l6 6m0 -6l-6 6M834 1180l6 6m0 -6l-6 6M834 1162l6 6m0 -6l-6 6M834 1145l6 6m0 -6l-6 6M834 1169l6 6m0 -6l-6 6M834 1117l6 6m0 -6l-6 6M834 1190l6 6m0 -6l-6 6M835 1185l6 6m0 -6l-6 6M835 1205l6 6m0 -6l-6 6M835 1211l6 6m0 -6l-6 6M835 1237l6 6m0 -6l-6 6M835 1209l6 6m0 -6l-6 6M835 1212l6 6m0 -6l-6 6M834 1187l6 6m0 -6l-6 6M836 1177l6 6m0 -6l-6 6M835 1193l6 6m0 -6l-6 6M836 1160l6 6m0 -6l-6 6M835 1231l6 6m0 -6l-6 6M836 1167l6 6m0 -6l-6 6M836 1186l6 6m0 -6l-6 6M836 1165l6 6m0 -6l-6 6M837 1194l6 6m0 -6l-6 6M837 1195l6 6m0 -6l-6 6M836 1165l6 6m0 -6l-6 6M836 1197l6 6m0 -6l-6 6M837 1128l6 6m0 -6l-6 6M837 1167l6 6m0 -6l-6 6M836 1205l6 6m0 -6l-6 6M838 1210l6 6m0 -6l-6 6M838 1124l6 6m0 -6l-6 6M837 1163l6 6m0 -6l-6 6M837 1199l6 6m0 -6l-6 6M838 1220l6 6m0 -6l-6 6M838 1143l6 6m0 -6l-6 6M838 1146l6 6m0 -6l-6 6M839 1171l6 6m0 -6l-6 6M839 1181l6 6m0 -6l-6 6M839 1210l6 6m0 -6l-6 6M839 1180l6 6m0 -6l-6 6M839 1141l6 6m0 -6l-6 6M839 1122l6 6m0 -6l-6 6M838 1168l6 6m0 -6l-6 6M839 1208l6 6m0 -6l-6 6M840 1181l6 6m0 -6l-6 6M840 1177l6 6m0 -6l-6 6M840 1208l6 6m0 -6l-6 6M839 1194l6 6m0 -6l-6 6M840 1177l6 6m0 -6l-6 6M840 1148l6 6m0 -6l-6 6M840 1180l6 6m0 -6l-6 6M841 1166l6 6m0 -6l-6 6M841 1152l6 6m0 -6l-6 6M841 1191l6 6m0 -6l-6 6M841 1234l6 6m0 -6l-6 6M840 1175l6 6m0 -6l-6 6M841 1171l6 6m0 -6l-6 6M842 1145l6 6m0 -6l-6 6M842 1200l6 6m0 -6l-6 6M842 1194l6 6m0 -6l-6 6M842 1187l6 6m0 -6l-6 6M842 1157l6 6m0 -6l-6 6M842 1181l6 6m0 -6l-6 6M842 1159l6 6m0 -6l-6 6M843 1214l6 6m0 -6l-6 6M843 1144l6 6m0 -6l-6 6M843 1174l6 6m0 -6l-6 6M843 1103l6 6m0 -6l-6 6M843 1178l6 6m0 -6l-6 6M843 1182l6 6m0 -6l-6 6M842 1141l6 6m0 -6l-6 6M844 1127l6 6m0 -6l-6 6M844 1189l6 6m0 -6l-6 6M844 1227l6 6m0 -6l-6 6M844 1234l6 6m0 -6l-6 6M844 1221l6 6m0 -6l-6 6M844 1184l6 6m0 -6l-6 6M843 1141l6 6m0 -6l-6 6M844 1184l6 6m0 -6l-6 6M845 1221l6 6m0 -6l-6 6M845 1158l6 6m0 -6l-6 6M845 1208l6 6m0 -6l-6 6M845 1175l6 6m0 -6l-6 6M845 1186l6 6m0 -6l-6 6M845 1240l6 6m0 -6l-6 6M846 1167l6 6m0 -6l-6 6M846 1127l6 6m0 -6l-6 6M846 1116l6 6m0 -6l-6 6M846 1206l6 6m0 -6l-6 6M846 1154l6 6m0 -6l-6 6M846 1233l6 6m0 -6l-6 6M846 1151l6 6m0 -6l-6 6M847 1186l6 6m0 -6l-6 6M847 1176l6 6m0 -6l-6 6M847 1233l6 6m0 -6l-6 6M846 1140l6 6m0 -6l-6 6M847 1172l6 6m0 -6l-6 6M847 1179l6 6m0 -6l-6 6M847 1122l6 6m0 -6l-6 6M848 1156l6 6m0 -6l-6 6M848 1149l6 6m0 -6l-6 6M848 1159l6 6m0 -6l-6 6M848 1184l6 6m0 -6l-6 6M848 1180l6 6m0 -6l-6 6M847 1164l6 6m0 -6l-6 6M848 1188l6 6m0 -6l-6 6M849 1093l6 6m0 -6l-6 6M849 1145l6 6m0 -6l-6 6M849 1216l6 6m0 -6l-6 6M849 1142l6 6m0 -6l-6 6M849 1192l6 6m0 -6l-6 6M849 1167l6 6m0 -6l-6 6M849 1146l6 6m0 -6l-6 6M850 1207l6 6m0 -6l-6 6M850 1193l6 6m0 -6l-6 6M849 1167l6 6m0 -6l-6 6M850 1184l6 6m0 -6l-6 6M850 1151l6 6m0 -6l-6 6M850 1175l6 6m0 -6l-6 6M850 1182l6 6m0 -6l-6 6M851 1140l6 6m0 -6l-6 6M850 1184l6 6m0 -6l-6 6M851 1217l6 6m0 -6l-6 6M851 1187l6 6m0 -6l-6 6M851 1129l6 6m0 -6l-6 6M851 1192l6 6m0 -6l-6 6M851 1230l6 6m0 -6l-6 6M851 1084l6 6m0 -6l-6 6M852 1190l6 6m0 -6l-6 6M851 1121l6 6m0 -6l-6 6M852 1173l6 6m0 -6l-6 6M852 1167l6 6m0 -6l-6 6M852 1173l6 6m0 -6l-6 6M851 1156l6 6m0 -6l-6 6M853 1122l6 6m0 -6l-6 6M853 1240l6 6m0 -6l-6 6M852 1153l6 6m0 -6l-6 6M852 1197l6 6m0 -6l-6 6M853 1138l6 6m0 -6l-6 6M853 1174l6 6m0 -6l-6 6M853 1189l6 6m0 -6l-6 6M854 1166l6 6m0 -6l-6 6M854 1137l6 6m0 -6l-6 6M854 1169l6 6m0 -6l-6 6M854 1215l6 6m0 -6l-6 6M854 1124l6 6m0 -6l-6 6M854 1151l6 6m0 -6l-6 6M854 1163l6 6m0 -6l-6 6M855 1192l6 6m0 -6l-6 6M855 1146l6 6m0 -6l-6 6M855 1145l6 6m0 -6l-6 6M855 1167l6 6m0 -6l-6 6M855 1117l6 6m0 -6l-6 6M855 1174l6 6m0 -6l-6 6M855 1174l6 6m0 -6l-6 6M856 1179l6 6m0 -6l-6 6M856 1175l6 6m0 -6l-6 6M855 1184l6 6m0 -6l-6 6M855 1151l6 6m0 -6l-6 6M855 1171l6 6m0 -6l-6 6M856 1258l6 6m0 -6l-6 6M856 1091l6 6m0 -6l-6 6M857 1192l6 6m0 -6l-6 6M857 1162l6 6m0 -6l-6 6M857 1201l6 6m0 -6l-6 6M856 1199l6 6m0 -6l-6 6M857 1158l6 6m0 -6l-6 6M856 1148l6 6m0 -6l-6 6M857 1196l6 6m0 -6l-6 6M858 1162l6 6m0 -6l-6 6M858 1128l6 6m0 -6l-6 6M858 1155l6 6m0 -6l-6 6M858 1244l6 6m0 -6l-6 6M858 1204l6 6m0 -6l-6 6M858 1176l6 6m0 -6l-6 6M858 1190l6 6m0 -6l-6 6M859 1155l6 6m0 -6l-6 6M859 1229l6 6m0 -6l-6 6M859 1155l6 6m0 -6l-6 6M859 1135l6 6m0 -6l-6 6M859 1149l6 6m0 -6l-6 6M859 1206l6 6m0 -6l-6 6M859 1160l6 6m0 -6l-6 6M859 1180l6 6m0 -6l-6 6M860 1125l6 6m0 -6l-6 6M860 1197l6 6m0 -6l-6 6M860 1178l6 6m0 -6l-6 6M860 1179l6 6m0 -6l-6 6M860 1228l6 6m0 -6l-6 6M860 1173l6 6m0 -6l-6 6M861 1168l6 6m0 -6l-6 6M861 1263l6 6m0 -6l-6 6M861 1184l6 6m0 -6l-6 6M861 1192l6 6m0 -6l-6 6M860 1141l6 6m0 -6l-6 6M861 1168l6 6m0 -6l-6 6M860 1166l6 6m0 -6l-6 6M862 1151l6 6m0 -6l-6 6M862 1168l6 6m0 -6l-6 6M861 1120l6 6m0 -6l-6 6M862 1177l6 6m0 -6l-6 6M862 1152l6 6m0 -6l-6 6M862 1202l6 6m0 -6l-6 6M862 1139l6 6m0 -6l-6 6M863 1215l6 6m0 -6l-6 6M863 1175l6 6m0 -6l-6 6M863 1196l6 6m0 -6l-6 6M863 1156l6 6m0 -6l-6 6M862 1203l6 6m0 -6l-6 6M862 1165l6 6m0 -6l-6 6M863 1174l6 6m0 -6l-6 6M864 1132l6 6m0 -6l-6 6M864 1143l6 6m0 -6l-6 6M864 1178l6 6m0 -6l-6 6M864 1173l6 6m0 -6l-6 6M864 1157l6 6m0 -6l-6 6M864 1212l6 6m0 -6l-6 6M863 1141l6 6m0 -6l-6 6M864 1215l6 6m0 -6l-6 6M865 1222l6 6m0 -6l-6 6M865 1214l6 6m0 -6l-6 6M865 1101l6 6m0 -6l-6 6M865 1163l6 6m0 -6l-6 6M865 1215l6 6m0 -6l-6 6M865 1177l6 6m0 -6l-6 6M866 1157l6 6m0 -6l-6 6M866 1116l6 6m0 -6l-6 6M866 1104l6 6m0 -6l-6 6M865 1158l6 6m0 -6l-6 6M866 1093l6 6m0 -6l-6 6M866 1259l6 6m0 -6l-6 6M866 1135l6 6m0 -6l-6 6M867 1179l6 6m0 -6l-6 6M867 1182l6 6m0 -6l-6 6M867 1212l6 6m0 -6l-6 6M867 1167l6 6m0 -6l-6 6M867 1156l6 6m0 -6l-6 6M867 1232l6 6m0 -6l-6 6M867 1156l6 6m0 -6l-6 6M868 1184l6 6m0 -6l-6 6M868 1175l6 6m0 -6l-6 6M868 1156l6 6m0 -6l-6 6M867 1138l6 6m0 -6l-6 6M868 1151l6 6m0 -6l-6 6M868 1159l6 6m0 -6l-6 6M868 1196l6 6m0 -6l-6 6M869 1232l6 6m0 -6l-6 6M869 1232l6 6m0 -6l-6 6M868 1218l6 6m0 -6l-6 6M868 1211l6 6m0 -6l-6 6M869 1141l6 6m0 -6l-6 6M869 1134l6 6m0 -6l-6 6M869 1236l6 6m0 -6l-6 6M870 1154l6 6m0 -6l-6 6M870 1173l6 6m0 -6l-6 6M870 1186l6 6m0 -6l-6 6M870 1212l6 6m0 -6l-6 6M870 1199l6 6m0 -6l-6 6M870 1116l6 6m0 -6l-6 6M870 1131l6 6m0 -6l-6 6M871 1199l6 6m0 -6l-6 6M871 1149l6 6m0 -6l-6 6M871 1181l6 6m0 -6l-6 6M871 1203l6 6m0 -6l-6 6M871 1159l6 6m0 -6l-6 6M871 1218l6 6m0 -6l-6 6M871 1145l6 6m0 -6l-6 6M872 1171l6 6m0 -6l-6 6M871 1214l6 6m0 -6l-6 6M872 1119l6 6m0 -6l-6 6M872 1202l6 6m0 -6l-6 6M872 1186l6 6m0 -6l-6 6M872 1208l6 6m0 -6l-6 6M872 1134l6 6m0 -6l-6 6M873 1138l6 6m0 -6l-6 6M873 1146l6 6m0 -6l-6 6M873 1167l6 6m0 -6l-6 6M873 1120l6 6m0 -6l-6 6M873 1125l6 6m0 -6l-6 6M873 1224l6 6m0 -6l-6 6M873 1158l6 6m0 -6l-6 6M874 1206l6 6m0 -6l-6 6M874 1132l6 6m0 -6l-6 6M874 1124l6 6m0 -6l-6 6M873 1217l6 6m0 -6l-6 6M874 1225l6 6m0 -6l-6 6M874 1182l6 6m0 -6l-6 6M873 1202l6 6m0 -6l-6 6M875 1149l6 6m0 -6l-6 6M874 1133l6 6m0 -6l-6 6M875 1147l6 6m0 -6l-6 6M875 1201l6 6m0 -6l-6 6M875 1177l6 6m0 -6l-6 6M875 1205l6 6m0 -6l-6 6M875 1152l6 6m0 -6l-6 6M876 1188l6 6m0 -6l-6 6M875 1147l6 6m0 -6l-6 6M876 1214l6 6m0 -6l-6 6M876 1137l6 6m0 -6l-6 6M875 1214l6 6m0 -6l-6 6M876 1244l6 6m0 -6l-6 6M875 1226l6 6m0 -6l-6 6M877 1128l6 6m0 -6l-6 6M877 1220l6 6m0 -6l-6 6M877 1212l6 6m0 -6l-6 6M877 1197l6 6m0 -6l-6 6M877 1163l6 6m0 -6l-6 6M877 1188l6 6m0 -6l-6 6M877 1161l6 6m0 -6l-6 6M878 1238l6 6m0 -6l-6 6M877 1134l6 6m0 -6l-6 6M878 1171l6 6m0 -6l-6 6M878 1207l6 6m0 -6l-6 6M878 1229l6 6m0 -6l-6 6M878 1146l6 6m0 -6l-6 6M878 1209l6 6m0 -6l-6 6M879 1151l6 6m0 -6l-6 6M879 1202l6 6m0 -6l-6 6M879 1143l6 6m0 -6l-6 6M879 1185l6 6m0 -6l-6 6M879 1186l6 6m0 -6l-6 6M879 1164l6 6m0 -6l-6 6M879 1168l6 6m0 -6l-6 6M880 1169l6 6m0 -6l-6 6M880 1220l6 6m0 -6l-6 6M879 1203l6 6m0 -6l-6 6M880 1180l6 6m0 -6l-6 6M879 1148l6 6m0 -6l-6 6M880 1150l6 6m0 -6l-6 6M879 1193l6 6m0 -6l-6 6M880 1181l6 6m0 -6l-6 6M881 1183l6 6m0 -6l-6 6M881 1175l6 6m0 -6l-6 6M880 1195l6 6m0 -6l-6 6M880 1262l6 6m0 -6l-6 6M881 1193l6 6m0 -6l-6 6M880 1189l6 6m0 -6l-6 6M882 1169l6 6m0 -6l-6 6M882 1199l6 6m0 -6l-6 6M882 1190l6 6m0 -6l-6 6M882 1181l6 6m0 -6l-6 6M882 1255l6 6m0 -6l-6 6M882 1104l6 6m0 -6l-6 6M882 1108l6 6m0 -6l-6 6M883 1230l6 6m0 -6l-6 6M882 1249l6 6m0 -6l-6 6M883 1181l6 6m0 -6l-6 6M883 1172l6 6m0 -6l-6 6M883 1144l6 6m0 -6l-6 6M883 1148l6 6m0 -6l-6 6M883 1185l6 6m0 -6l-6 6M884 1177l6 6m0 -6l-6 6M884 1150l6 6m0 -6l-6 6M884 1198l6 6m0 -6l-6 6M884 1130l6 6m0 -6l-6 6M884 1177l6 6m0 -6l-6 6M884 1140l6 6m0 -6l-6 6M883 1212l6 6m0 -6l-6 6M885 1226l6 6m0 -6l-6 6M885 1184l6 6m0 -6l-6 6M885 1179l6 6m0 -6l-6 6M885 1109l6 6m0 -6l-6 6M885 1223l6 6m0 -6l-6 6M884 1148l6 6m0 -6l-6 6M885 1182l6 6m0 -6l-6 6M886 1140l6 6m0 -6l-6 6M886 1169l6 6m0 -6l-6 6M886 1173l6 6m0 -6l-6 6M886 1156l6 6m0 -6l-6 6M886 1162l6 6m0 -6l-6 6M886 1112l6 6m0 -6l-6 6M886 1133l6 6m0 -6l-6 6M887 1150l6 6m0 -6l-6 6M887 1219l6 6m0 -6l-6 6M886 1148l6 6m0 -6l-6 6M887 1105l6 6m0 -6l-6 6M887 1240l6 6m0 -6l-6 6M887 1153l6 6m0 -6l-6 6M887 1185l6 6m0 -6l-6 6M888 1203l6 6m0 -6l-6 6M888 1188l6 6m0 -6l-6 6M888 1199l6 6m0 -6l-6 6M888 1159l6 6m0 -6l-6 6M888 1197l6 6m0 -6l-6 6M888 1210l6 6m0 -6l-6 6M888 1199l6 6m0 -6l-6 6M889 1145l6 6m0 -6l-6 6M889 1182l6 6m0 -6l-6 6M889 1196l6 6m0 -6l-6 6M889 1227l6 6m0 -6l-6 6M888 1134l6 6m0 -6l-6 6M888 1232l6 6m0 -6l-6 6M889 1145l6 6m0 -6l-6 6M890 1086l6 6m0 -6l-6 6M889 1169l6 6m0 -6l-6 6M890 1143l6 6m0 -6l-6 6M890 1194l6 6m0 -6l-6 6M890 1196l6 6m0 -6l-6 6M890 1128l6 6m0 -6l-6 6M889 1204l6 6m0 -6l-6 6M891 1135l6 6m0 -6l-6 6M890 1234l6 6m0 -6l-6 6M891 1152l6 6m0 -6l-6 6M891 1095l6 6m0 -6l-6 6M891 1189l6 6m0 -6l-6 6M891 1199l6 6m0 -6l-6 6M891 1256l6 6m0 -6l-6 6M892 1194l6 6m0 -6l-6 6M892 1199l6 6m0 -6l-6 6M892 1148l6 6m0 -6l-6 6M892 1172l6 6m0 -6l-6 6M892 1222l6 6m0 -6l-6 6M892 1174l6 6m0 -6l-6 6M891 1093l6 6m0 -6l-6 6M892 1163l6 6m0 -6l-6 6M893 1187l6 6m0 -6l-6 6M892 1196l6 6m0 -6l-6 6M893 1223l6 6m0 -6l-6 6M893 1148l6 6m0 -6l-6 6M893 1188l6 6m0 -6l-6 6M893 1192l6 6m0 -6l-6 6M894 1145l6 6m0 -6l-6 6M894 1170l6 6m0 -6l-6 6M894 1180l6 6m0 -6l-6 6M894 1172l6 6m0 -6l-6 6M894 1218l6 6m0 -6l-6 6M894 1126l6 6m0 -6l-6 6M893 1131l6 6m0 -6l-6 6M895 1163l6 6m0 -6l-6 6M894 1164l6 6m0 -6l-6 6M895 1183l6 6m0 -6l-6 6M895 1142l6 6m0 -6l-6 6M894 1248l6 6m0 -6l-6 6M895 1186l6 6m0 -6l-6 6M894 1150l6 6m0 -6l-6 6M896 1179l6 6m0 -6l-6 6M896 1198l6 6m0 -6l-6 6M896 1178l6 6m0 -6l-6 6M896 1190l6 6m0 -6l-6 6M896 1189l6 6m0 -6l-6 6M895 1153l6 6m0 -6l-6 6M896 1197l6 6m0 -6l-6 6M897 1167l6 6m0 -6l-6 6M897 1122l6 6m0 -6l-6 6M897 1136l6 6m0 -6l-6 6M897 1204l6 6m0 -6l-6 6M897 1110l6 6m0 -6l-6 6M897 1163l6 6m0 -6l-6 6M897 1205l6 6m0 -6l-6 6M898 1097l6 6m0 -6l-6 6M898 1183l6 6m0 -6l-6 6M898 1195l6 6m0 -6l-6 6M898 1134l6 6m0 -6l-6 6M898 1134l6 6m0 -6l-6 6M898 1171l6 6m0 -6l-6 6M898 1168l6 6m0 -6l-6 6M899 1217l6 6m0 -6l-6 6M899 1133l6 6m0 -6l-6 6M899 1181l6 6m0 -6l-6 6M899 1154l6 6m0 -6l-6 6M899 1168l6 6m0 -6l-6 6M899 1103l6 6m0 -6l-6 6M899 1182l6 6m0 -6l-6 6M899 1185l6 6m0 -6l-6 6M900 1228l6 6m0 -6l-6 6M899 1138l6 6m0 -6l-6 6M900 1223l6 6m0 -6l-6 6M900 1173l6 6m0 -6l-6 6M899 1101l6 6m0 -6l-6 6M900 1183l6 6m0 -6l-6 6M901 1171l6 6m0 -6l-6 6M901 1177l6 6m0 -6l-6 6M901 1159l6 6m0 -6l-6 6M901 1186l6 6m0 -6l-6 6M901 1280l6 6m0 -6l-6 6M901 1157l6 6m0 -6l-6 6M900 1138l6 6m0 -6l-6 6M902 1223l6 6m0 -6l-6 6M902 1124l6 6m0 -6l-6 6M902 1241l6 6m0 -6l-6 6M902 1138l6 6m0 -6l-6 6M902 1114l6 6m0 -6l-6 6M901 1141l6 6m0 -6l-6 6M902 1189l6 6m0 -6l-6 6M903 1211l6 6m0 -6l-6 6M903 1126l6 6m0 -6l-6 6M903 1180l6 6m0 -6l-6 6M902 1197l6 6m0 -6l-6 6M903 1153l6 6m0 -6l-6 6M903 1155l6 6m0 -6l-6 6M903 1185l6 6m0 -6l-6 6M904 1193l6 6m0 -6l-6 6M904 1189l6 6m0 -6l-6 6M903 1146l6 6m0 -6l-6 6M904 1142l6 6m0 -6l-6 6M904 1176l6 6m0 -6l-6 6M904 1189l6 6m0 -6l-6 6M904 1164l6 6m0 -6l-6 6M904 1201l6 6m0 -6l-6 6M904 1143l6 6m0 -6l-6 6M905 1099l6 6m0 -6l-6 6M905 1203l6 6m0 -6l-6 6M905 1180l6 6m0 -6l-6 6M905 1163l6 6m0 -6l-6 6M905 1151l6 6m0 -6l-6 6M906 1183l6 6m0 -6l-6 6M906 1206l6 6m0 -6l-6 6M906 1158l6 6m0 -6l-6 6M906 1119l6 6m0 -6l-6 6M906 1152l6 6m0 -6l-6 6M906 1178l6 6m0 -6l-6 6M906 1197l6 6m0 -6l-6 6M907 1165l6 6m0 -6l-6 6M907 1124l6 6m0 -6l-6 6M907 1133l6 6m0 -6l-6 6M907 1207l6 6m0 -6l-6 6M907 1188l6 6m0 -6l-6 6M907 1194l6 6m0 -6l-6 6M907 1161l6 6m0 -6l-6 6M908 1203l6 6m0 -6l-6 6M908 1152l6 6m0 -6l-6 6M908 1189l6 6m0 -6l-6 6M908 1139l6 6m0 -6l-6 6M908 1233l6 6m0 -6l-6 6M908 1271l6 6m0 -6l-6 6M908 1158l6 6m0 -6l-6 6M909 1166l6 6m0 -6l-6 6M909 1154l6 6m0 -6l-6 6M909 1190l6 6m0 -6l-6 6M909 1114l6 6m0 -6l-6 6M909 1254l6 6m0 -6l-6 6M908 1156l6 6m0 -6l-6 6M908 1167l6 6m0 -6l-6 6M910 1217l6 6m0 -6l-6 6M910 1194l6 6m0 -6l-6 6M909 1168l6 6m0 -6l-6 6M909 1155l6 6m0 -6l-6 6M910 1159l6 6m0 -6l-6 6M910 1156l6 6m0 -6l-6 6M910 1229l6 6m0 -6l-6 6M911 1200l6 6m0 -6l-6 6M911 1130l6 6m0 -6l-6 6M911 1194l6 6m0 -6l-6 6M911 1211l6 6m0 -6l-6 6M911 1135l6 6m0 -6l-6 6M911 1182l6 6m0 -6l-6 6M911 1180l6 6m0 -6l-6 6M912 1157l6 6m0 -6l-6 6M912 1144l6 6m0 -6l-6 6M912 1194l6 6m0 -6l-6 6M912 1189l6 6m0 -6l-6 6M912 1185l6 6m0 -6l-6 6M911 1192l6 6m0 -6l-6 6M912 1257l6 6m0 -6l-6 6M913 1146l6 6m0 -6l-6 6M913 1143l6 6m0 -6l-6 6M913 1155l6 6m0 -6l-6 6M913 1119l6 6m0 -6l-6 6M913 1145l6 6m0 -6l-6 6M913 1183l6 6m0 -6l-6 6M913 1166l6 6m0 -6l-6 6M913 1110l6 6m0 -6l-6 6M914 1174l6 6m0 -6l-6 6M914 1217l6 6m0 -6l-6 6M914 1185l6 6m0 -6l-6 6M914 1240l6 6m0 -6l-6 6M914 1184l6 6m0 -6l-6 6M914 1204l6 6m0 -6l-6 6M914 1167l6 6m0 -6l-6 6M915 1198l6 6m0 -6l-6 6M915 1177l6 6m0 -6l-6 6M915 1160l6 6m0 -6l-6 6M915 1209l6 6m0 -6l-6 6M915 1151l6 6m0 -6l-6 6M915 1191l6 6m0 -6l-6 6M915 1146l6 6m0 -6l-6 6M916 1178l6 6m0 -6l-6 6M916 1192l6 6m0 -6l-6 6M916 1201l6 6m0 -6l-6 6M916 1148l6 6m0 -6l-6 6M916 1205l6 6m0 -6l-6 6M916 1180l6 6m0 -6l-6 6M917 1168l6 6m0 -6l-6 6M917 1235l6 6m0 -6l-6 6M917 1172l6 6m0 -6l-6 6M917 1207l6 6m0 -6l-6 6M917 1186l6 6m0 -6l-6 6M917 1169l6 6m0 -6l-6 6M917 1137l6 6m0 -6l-6 6M918 1211l6 6m0 -6l-6 6M918 1165l6 6m0 -6l-6 6M918 1242l6 6m0 -6l-6 6M918 1213l6 6m0 -6l-6 6M918 1206l6 6m0 -6l-6 6M918 1209l6 6m0 -6l-6 6M918 1266l6 6m0 -6l-6 6M919 1190l6 6m0 -6l-6 6M919 1176l6 6m0 -6l-6 6M918 1213l6 6m0 -6l-6 6M919 1219l6 6m0 -6l-6 6M919 1116l6 6m0 -6l-6 6M919 1223l6 6m0 -6l-6 6M918 1176l6 6m0 -6l-6 6M920 1190l6 6m0 -6l-6 6M920 1125l6 6m0 -6l-6 6M920 1196l6 6m0 -6l-6 6M919 1142l6 6m0 -6l-6 6M920 1187l6 6m0 -6l-6 6M920 1115l6 6m0 -6l-6 6M920 1167l6 6m0 -6l-6 6M921 1146l6 6m0 -6l-6 6M920 1146l6 6m0 -6l-6 6M921 1153l6 6m0 -6l-6 6M921 1212l6 6m0 -6l-6 6M921 1131l6 6m0 -6l-6 6M921 1110l6 6m0 -6l-6 6M920 1118l6 6m0 -6l-6 6M922 1133l6 6m0 -6l-6 6M921 1186l6 6m0 -6l-6 6M922 1190l6 6m0 -6l-6 6M922 1141l6 6m0 -6l-6 6M922 1200l6 6m0 -6l-6 6M922 1198l6 6m0 -6l-6 6M922 1212l6 6m0 -6l-6 6M923 1179l6 6m0 -6l-6 6M923 1208l6 6m0 -6l-6 6M923 1227l6 6m0 -6l-6 6M923 1162l6 6m0 -6l-6 6M923 1287l6 6m0 -6l-6 6M923 1171l6 6m0 -6l-6 6M922 1159l6 6m0 -6l-6 6M924 1236l6 6m0 -6l-6 6M924 1111l6 6m0 -6l-6 6M924 1166l6 6m0 -6l-6 6M924 1133l6 6m0 -6l-6 6M924 1187l6 6m0 -6l-6 6M924 1182l6 6m0 -6l-6 6M924 1200l6 6m0 -6l-6 6M925 1182l6 6m0 -6l-6 6M925 1214l6 6m0 -6l-6 6M924 1184l6 6m0 -6l-6 6M924 1170l6 6m0 -6l-6 6M924 1228l6 6m0 -6l-6 6M925 1212l6 6m0 -6l-6 6M925 1191l6 6m0 -6l-6 6M926 1184l6 6m0 -6l-6 6M926 1077l6 6m0 -6l-6 6M926 1209l6 6m0 -6l-6 6M925 1185l6 6m0 -6l-6 6M925 1191l6 6m0 -6l-6 6M926 1221l6 6m0 -6l-6 6M926 1218l6 6m0 -6l-6 6M927 1149l6 6m0 -6l-6 6M926 1169l6 6m0 -6l-6 6M927 1150l6 6m0 -6l-6 6M926 1157l6 6m0 -6l-6 6M926 1205l6 6m0 -6l-6 6M926 1170l6 6m0 -6l-6 6M927 1191l6 6m0 -6l-6 6M928 1206l6 6m0 -6l-6 6M928 1187l6 6m0 -6l-6 6M928 1147l6 6m0 -6l-6 6M928 1195l6 6m0 -6l-6 6M928 1172l6 6m0 -6l-6 6M928 1129l6 6m0 -6l-6 6M927 1213l6 6m0 -6l-6 6M929 1176l6 6m0 -6l-6 6M929 1127l6 6m0 -6l-6 6M929 1142l6 6m0 -6l-6 6M929 1167l6 6m0 -6l-6 6M928 1176l6 6m0 -6l-6 6M929 1197l6 6m0 -6l-6 6M928 1213l6 6m0 -6l-6 6M930 1147l6 6m0 -6l-6 6M930 1180l6 6m0 -6l-6 6M930 1190l6 6m0 -6l-6 6M930 1162l6 6m0 -6l-6 6M930 1140l6 6m0 -6l-6 6M930 1162l6 6m0 -6l-6 6M930 1175l6 6m0 -6l-6 6M931 1101l6 6m0 -6l-6 6M930 1218l6 6m0 -6l-6 6M931 1219l6 6m0 -6l-6 6M931 1118l6 6m0 -6l-6 6M931 1120l6 6m0 -6l-6 6M931 1231l6 6m0 -6l-6 6M931 1163l6 6m0 -6l-6 6M932 1171l6 6m0 -6l-6 6M932 1179l6 6m0 -6l-6 6M932 1221l6 6m0 -6l-6 6M931 1247l6 6m0 -6l-6 6M932 1123l6 6m0 -6l-6 6M932 1242l6 6m0 -6l-6 6M932 1156l6 6m0 -6l-6 6M933 1183l6 6m0 -6l-6 6M932 1150l6 6m0 -6l-6 6M933 1171l6 6m0 -6l-6 6M933 1185l6 6m0 -6l-6 6M933 1122l6 6m0 -6l-6 6M933 1188l6 6m0 -6l-6 6M933 1130l6 6m0 -6l-6 6M934 1138l6 6m0 -6l-6 6M933 1189l6 6m0 -6l-6 6M934 1164l6 6m0 -6l-6 6M934 1160l6 6m0 -6l-6 6M934 1188l6 6m0 -6l-6 6M934 1175l6 6m0 -6l-6 6M934 1200l6 6m0 -6l-6 6M935 1137l6 6m0 -6l-6 6M935 1112l6 6m0 -6l-6 6M934 1207l6 6m0 -6l-6 6M935 1200l6 6m0 -6l-6 6M935 1126l6 6m0 -6l-6 6M934 1146l6 6m0 -6l-6 6M935 1240l6 6m0 -6l-6 6M935 1128l6 6m0 -6l-6 6M936 1257l6 6m0 -6l-6 6M936 1229l6 6m0 -6l-6 6M936 1195l6 6m0 -6l-6 6M936 1111l6 6m0 -6l-6 6M936 1188l6 6m0 -6l-6 6M936 1220l6 6m0 -6l-6 6M937 1210l6 6m0 -6l-6 6M937 1146l6 6m0 -6l-6 6M937 1165l6 6m0 -6l-6 6M937 1174l6 6m0 -6l-6 6M936 1160l6 6m0 -6l-6 6M936 1135l6 6m0 -6l-6 6M937 1201l6 6m0 -6l-6 6M938 1166l6 6m0 -6l-6 6M938 1193l6 6m0 -6l-6 6M938 1128l6 6m0 -6l-6 6M937 1148l6 6m0 -6l-6 6M938 1152l6 6m0 -6l-6 6M937 1182l6 6m0 -6l-6 6M938 1183l6 6m0 -6l-6 6M939 1169l6 6m0 -6l-6 6M938 1176l6 6m0 -6l-6 6M938 1176l6 6m0 -6l-6 6M939 1198l6 6m0 -6l-6 6M939 1174l6 6m0 -6l-6 6M939 1212l6 6m0 -6l-6 6M939 1189l6 6m0 -6l-6 6M939 1249l6 6m0 -6l-6 6M940 1094l6 6m0 -6l-6 6M940 1236l6 6m0 -6l-6 6M940 1163l6 6m0 -6l-6 6M940 1098l6 6m0 -6l-6 6M940 1152l6 6m0 -6l-6 6M939 1180l6 6m0 -6l-6 6M940 1136l6 6m0 -6l-6 6M941 1161l6 6m0 -6l-6 6M941 1171l6 6m0 -6l-6 6M940 1156l6 6m0 -6l-6 6M941 1187l6 6m0 -6l-6 6M940 1199l6 6m0 -6l-6 6M941 1152l6 6m0 -6l-6 6M941 1142l6 6m0 -6l-6 6M942 1237l6 6m0 -6l-6 6M942 1187l6 6m0 -6l-6 6M942 1164l6 6m0 -6l-6 6M941 1179l6 6m0 -6l-6 6M942 1094l6 6m0 -6l-6 6M942 1213l6 6m0 -6l-6 6M943 1215l6 6m0 -6l-6 6M943 1176l6 6m0 -6l-6 6M943 1167l6 6m0 -6l-6 6M943 1195l6 6m0 -6l-6 6M943 1207l6 6m0 -6l-6 6M943 1160l6 6m0 -6l-6 6M943 1131l6 6m0 -6l-6 6M944 1190l6 6m0 -6l-6 6M944 1153l6 6m0 -6l-6 6M944 1195l6 6m0 -6l-6 6M944 1201l6 6m0 -6l-6 6M944 1197l6 6m0 -6l-6 6M944 1235l6 6m0 -6l-6 6M944 1183l6 6m0 -6l-6 6M945 1165l6 6m0 -6l-6 6M944 1223l6 6m0 -6l-6 6M945 1147l6 6m0 -6l-6 6M945 1197l6 6m0 -6l-6 6M944 1104l6 6m0 -6l-6 6M945 1185l6 6m0 -6l-6 6M945 1150l6 6m0 -6l-6 6M946 1151l6 6m0 -6l-6 6M946 1176l6 6m0 -6l-6 6M946 1154l6 6m0 -6l-6 6M946 1137l6 6m0 -6l-6 6M946 1171l6 6m0 -6l-6 6M946 1201l6 6m0 -6l-6 6M945 1200l6 6m0 -6l-6 6M947 1163l6 6m0 -6l-6 6M947 1153l6 6m0 -6l-6 6M947 1219l6 6m0 -6l-6 6M947 1169l6 6m0 -6l-6 6M947 1148l6 6m0 -6l-6 6M947 1127l6 6m0 -6l-6 6M947 1179l6 6m0 -6l-6 6M948 1192l6 6m0 -6l-6 6M948 1190l6 6m0 -6l-6 6M947 1208l6 6m0 -6l-6 6M948 1210l6 6m0 -6l-6 6M948 1195l6 6m0 -6l-6 6M948 1171l6 6m0 -6l-6 6M947 1134l6 6m0 -6l-6 6M949 1181l6 6m0 -6l-6 6M949 1139l6 6m0 -6l-6 6M949 1158l6 6m0 -6l-6 6M949 1200l6 6m0 -6l-6 6M949 1170l6 6m0 -6l-6 6M949 1193l6 6m0 -6l-6 6M948 1147l6 6m0 -6l-6 6M950 1221l6 6m0 -6l-6 6M950 1178l6 6m0 -6l-6 6M950 1246l6 6m0 -6l-6 6M950 1225l6 6m0 -6l-6 6M950 1197l6 6m0 -6l-6 6M950 1187l6 6m0 -6l-6 6M950 1112l6 6m0 -6l-6 6M950 1161l6 6m0 -6l-6 6M951 1204l6 6m0 -6l-6 6M951 1200l6 6m0 -6l-6 6M950 1225l6 6m0 -6l-6 6M951 1145l6 6m0 -6l-6 6M951 1150l6 6m0 -6l-6 6M951 1196l6 6m0 -6l-6 6M951 1186l6 6m0 -6l-6 6M952 1117l6 6m0 -6l-6 6M952 1162l6 6m0 -6l-6 6M951 1181l6 6m0 -6l-6 6M952 1156l6 6m0 -6l-6 6M952 1142l6 6m0 -6l-6 6M951 1186l6 6m0 -6l-6 6M953 1207l6 6m0 -6l-6 6M953 1167l6 6m0 -6l-6 6M953 1169l6 6m0 -6l-6 6M953 1153l6 6m0 -6l-6 6M953 1188l6 6m0 -6l-6 6M953 1162l6 6m0 -6l-6 6M952 1193l6 6m0 -6l-6 6M953 1148l6 6m0 -6l-6 6M954 1163l6 6m0 -6l-6 6M954 1227l6 6m0 -6l-6 6M954 1187l6 6m0 -6l-6 6M954 1136l6 6m0 -6l-6 6M954 1220l6 6m0 -6l-6 6M954 1161l6 6m0 -6l-6 6M955 1179l6 6m0 -6l-6 6M955 1190l6 6m0 -6l-6 6M955 1200l6 6m0 -6l-6 6M954 1143l6 6m0 -6l-6 6M955 1201l6 6m0 -6l-6 6M955 1198l6 6m0 -6l-6 6M955 1158l6 6m0 -6l-6 6M956 1193l6 6m0 -6l-6 6M955 1172l6 6m0 -6l-6 6M956 1151l6 6m0 -6l-6 6M956 1181l6 6m0 -6l-6 6M956 1200l6 6m0 -6l-6 6M956 1220l6 6m0 -6l-6 6M955 1195l6 6m0 -6l-6 6M957 1183l6 6m0 -6l-6 6M957 1169l6 6m0 -6l-6 6M956 1208l6 6m0 -6l-6 6M957 1127l6 6m0 -6l-6 6M957 1180l6 6m0 -6l-6 6M956 1181l6 6m0 -6l-6 6M957 1145l6 6m0 -6l-6 6M957 1208l6 6m0 -6l-6 6M958 1170l6 6m0 -6l-6 6M958 1179l6 6m0 -6l-6 6M958 1215l6 6m0 -6l-6 6M958 1176l6 6m0 -6l-6 6M957 1204l6 6m0 -6l-6 6M958 1146l6 6m0 -6l-6 6M958 1147l6 6m0 -6l-6 6M959 1163l6 6m0 -6l-6 6M959 1137l6 6m0 -6l-6 6M958 1142l6 6m0 -6l-6 6M959 1150l6 6m0 -6l-6 6M958 1174l6 6m0 -6l-6 6M959 1199l6 6m0 -6l-6 6M960 1147l6 6m0 -6l-6 6M959 1260l6 6m0 -6l-6 6M960 1249l6 6m0 -6l-6 6M960 1173l6 6m0 -6l-6 6M960 1182l6 6m0 -6l-6 6M959 1148l6 6m0 -6l-6 6M960 1185l6 6m0 -6l-6 6M960 1200l6 6m0 -6l-6 6M961 1189l6 6m0 -6l-6 6M960 1161l6 6m0 -6l-6 6M961 1188l6 6m0 -6l-6 6M961 1168l6 6m0 -6l-6 6M961 1137l6 6m0 -6l-6 6M961 1188l6 6m0 -6l-6 6M962 1202l6 6m0 -6l-6 6M962 1210l6 6m0 -6l-6 6M962 1188l6 6m0 -6l-6 6M962 1241l6 6m0 -6l-6 6M962 1231l6 6m0 -6l-6 6M962 1127l6 6m0 -6l-6 6M962 1233l6 6m0 -6l-6 6M963 1133l6 6m0 -6l-6 6M963 1193l6 6m0 -6l-6 6M963 1143l6 6m0 -6l-6 6M963 1202l6 6m0 -6l-6 6M963 1226l6 6m0 -6l-6 6M963 1206l6 6m0 -6l-6 6M963 1221l6 6m0 -6l-6 6M963 1190l6 6m0 -6l-6 6M964 1215l6 6m0 -6l-6 6M964 1135l6 6m0 -6l-6 6M964 1181l6 6m0 -6l-6 6M963 1148l6 6m0 -6l-6 6M964 1127l6 6m0 -6l-6 6M964 1212l6 6m0 -6l-6 6M964 1235l6 6m0 -6l-6 6M965 1207l6 6m0 -6l-6 6M965 1121l6 6m0 -6l-6 6M965 1161l6 6m0 -6l-6 6M965 1173l6 6m0 -6l-6 6M965 1122l6 6m0 -6l-6 6M965 1174l6 6m0 -6l-6 6M966 1246l6 6m0 -6l-6 6M966 1211l6 6m0 -6l-6 6M966 1168l6 6m0 -6l-6 6M966 1117l6 6m0 -6l-6 6M966 1111l6 6m0 -6l-6 6M966 1241l6 6m0 -6l-6 6M966 1208l6 6m0 -6l-6 6M967 1127l6 6m0 -6l-6 6M967 1111l6 6m0 -6l-6 6M967 1177l6 6m0 -6l-6 6M967 1190l6 6m0 -6l-6 6M966 1189l6 6m0 -6l-6 6M967 1147l6 6m0 -6l-6 6M967 1118l6 6m0 -6l-6 6M968 1208l6 6m0 -6l-6 6M968 1155l6 6m0 -6l-6 6M968 1142l6 6m0 -6l-6 6M968 1163l6 6m0 -6l-6 6M968 1151l6 6m0 -6l-6 6M967 1172l6 6m0 -6l-6 6M968 1148l6 6m0 -6l-6 6M968 1153l6 6m0 -6l-6 6M968 1232l6 6m0 -6l-6 6M969 1188l6 6m0 -6l-6 6M969 1227l6 6m0 -6l-6 6M969 1222l6 6m0 -6l-6 6M968 1152l6 6m0 -6l-6 6M969 1209l6 6m0 -6l-6 6M970 1206l6 6m0 -6l-6 6M970 1137l6 6m0 -6l-6 6M970 1129l6 6m0 -6l-6 6M970 1129l6 6m0 -6l-6 6M970 1228l6 6m0 -6l-6 6M970 1195l6 6m0 -6l-6 6M970 1146l6 6m0 -6l-6 6M971 1140l6 6m0 -6l-6 6M971 1150l6 6m0 -6l-6 6M971 1193l6 6m0 -6l-6 6M971 1148l6 6m0 -6l-6 6M970 1159l6 6m0 -6l-6 6M970 1171l6 6m0 -6l-6 6M971 1200l6 6m0 -6l-6 6M972 1197l6 6m0 -6l-6 6M972 1140l6 6m0 -6l-6 6M972 1189l6 6m0 -6l-6 6M972 1117l6 6m0 -6l-6 6M972 1192l6 6m0 -6l-6 6M972 1146l6 6m0 -6l-6 6M972 1180l6 6m0 -6l-6 6M973 1149l6 6m0 -6l-6 6M973 1162l6 6m0 -6l-6 6M973 1190l6 6m0 -6l-6 6M973 1181l6 6m0 -6l-6 6M973 1135l6 6m0 -6l-6 6M973 1155l6 6m0 -6l-6 6M973 1178l6 6m0 -6l-6 6M974 1180l6 6m0 -6l-6 6M974 1248l6 6m0 -6l-6 6M974 1188l6 6m0 -6l-6 6M974 1195l6 6m0 -6l-6 6M973 1177l6 6m0 -6l-6 6M974 1140l6 6m0 -6l-6 6M974 1159l6 6m0 -6l-6 6M974 1169l6 6m0 -6l-6 6M975 1156l6 6m0 -6l-6 6M975 1192l6 6m0 -6l-6 6M975 1115l6 6m0 -6l-6 6M975 1178l6 6m0 -6l-6 6M975 1131l6 6m0 -6l-6 6M975 1181l6 6m0 -6l-6 6M976 1224l6 6m0 -6l-6 6M976 1169l6 6m0 -6l-6 6M976 1175l6 6m0 -6l-6 6M976 1170l6 6m0 -6l-6 6M976 1223l6 6m0 -6l-6 6M976 1138l6 6m0 -6l-6 6M975 1170l6 6m0 -6l-6 6M976 1183l6 6m0 -6l-6 6M977 1130l6 6m0 -6l-6 6M976 1209l6 6m0 -6l-6 6M976 1195l6 6m0 -6l-6 6M977 1201l6 6m0 -6l-6 6M977 1151l6 6m0 -6l-6 6M977 1206l6 6m0 -6l-6 6M977 1168l6 6m0 -6l-6 6M978 1173l6 6m0 -6l-6 6M978 1172l6 6m0 -6l-6 6M978 1190l6 6m0 -6l-6 6M978 1134l6 6m0 -6l-6 6M977 1240l6 6m0 -6l-6 6M978 1214l6 6m0 -6l-6 6M979 1231l6 6m0 -6l-6 6M979 1195l6 6m0 -6l-6 6M979 1237l6 6m0 -6l-6 6M979 1132l6 6m0 -6l-6 6M979 1162l6 6m0 -6l-6 6M979 1158l6 6m0 -6l-6 6M979 1183l6 6m0 -6l-6 6M980 1219l6 6m0 -6l-6 6M980 1215l6 6m0 -6l-6 6M979 1114l6 6m0 -6l-6 6M980 1090l6 6m0 -6l-6 6M979 1203l6 6m0 -6l-6 6M980 1195l6 6m0 -6l-6 6M980 1160l6 6m0 -6l-6 6M981 1206l6 6m0 -6l-6 6M981 1188l6 6m0 -6l-6 6M981 1182l6 6m0 -6l-6 6M981 1139l6 6m0 -6l-6 6M981 1142l6 6m0 -6l-6 6M981 1175l6 6m0 -6l-6 6M981 1166l6 6m0 -6l-6 6M981 1231l6 6m0 -6l-6 6M982 1195l6 6m0 -6l-6 6M982 1162l6 6m0 -6l-6 6M982 1120l6 6m0 -6l-6 6M981 1205l6 6m0 -6l-6 6M982 1180l6 6m0 -6l-6 6M982 1206l6 6m0 -6l-6 6M982 1188l6 6m0 -6l-6 6M983 1171l6 6m0 -6l-6 6M983 1175l6 6m0 -6l-6 6M983 1174l6 6m0 -6l-6 6M983 1216l6 6m0 -6l-6 6M983 1275l6 6m0 -6l-6 6M983 1191l6 6m0 -6l-6 6M983 1152l6 6m0 -6l-6 6M984 1188l6 6m0 -6l-6 6M983 1149l6 6m0 -6l-6 6M983 1162l6 6m0 -6l-6 6M984 1193l6 6m0 -6l-6 6M984 1178l6 6m0 -6l-6 6M984 1153l6 6m0 -6l-6 6M985 1166l6 6m0 -6l-6 6M985 1233l6 6m0 -6l-6 6M985 1203l6 6m0 -6l-6 6M985 1152l6 6m0 -6l-6 6M985 1191l6 6m0 -6l-6 6M985 1175l6 6m0 -6l-6 6M984 1144l6 6m0 -6l-6 6M986 1178l6 6m0 -6l-6 6M986 1136l6 6m0 -6l-6 6M986 1208l6 6m0 -6l-6 6M986 1185l6 6m0 -6l-6 6M986 1119l6 6m0 -6l-6 6M986 1157l6 6m0 -6l-6 6M985 1232l6 6m0 -6l-6 6M987 1195l6 6m0 -6l-6 6M986 1154l6 6m0 -6l-6 6M987 1208l6 6m0 -6l-6 6M987 1190l6 6m0 -6l-6 6M987 1145l6 6m0 -6l-6 6M987 1187l6 6m0 -6l-6 6M987 1183l6 6m0 -6l-6 6M988 1153l6 6m0 -6l-6 6M987 1176l6 6m0 -6l-6 6M988 1201l6 6m0 -6l-6 6M987 1136l6 6m0 -6l-6 6M987 1145l6 6m0 -6l-6 6M988 1185l6 6m0 -6l-6 6M987 1255l6 6m0 -6l-6 6M989 1193l6 6m0 -6l-6 6M989 1127l6 6m0 -6l-6 6M989 1186l6 6m0 -6l-6 6M989 1180l6 6m0 -6l-6 6M989 1172l6 6m0 -6l-6 6M989 1187l6 6m0 -6l-6 6M988 1162l6 6m0 -6l-6 6M989 1187l6 6m0 -6l-6 6M990 1129l6 6m0 -6l-6 6M990 1125l6 6m0 -6l-6 6M990 1148l6 6m0 -6l-6 6M990 1229l6 6m0 -6l-6 6M990 1166l6 6m0 -6l-6 6M990 1102l6 6m0 -6l-6 6M991 1135l6 6m0 -6l-6 6M991 1190l6 6m0 -6l-6 6M991 1230l6 6m0 -6l-6 6M990 1210l6 6m0 -6l-6 6M991 1093l6 6m0 -6l-6 6M990 1172l6 6m0 -6l-6 6M990 1162l6 6m0 -6l-6 6M992 1227l6 6m0 -6l-6 6M992 1212l6 6m0 -6l-6 6M992 1234l6 6m0 -6l-6 6M992 1186l6 6m0 -6l-6 6M992 1225l6 6m0 -6l-6 6M992 1208l6 6m0 -6l-6 6M991 1141l6 6m0 -6l-6 6M992 1148l6 6m0 -6l-6 6M993 1178l6 6m0 -6l-6 6M992 1166l6 6m0 -6l-6 6M993 1241l6 6m0 -6l-6 6M993 1188l6 6m0 -6l-6 6M993 1202l6 6m0 -6l-6 6M993 1151l6 6m0 -6l-6 6M994 1176l6 6m0 -6l-6 6M994 1173l6 6m0 -6l-6 6M993 1159l6 6m0 -6l-6 6M994 1221l6 6m0 -6l-6 6M994 1213l6 6m0 -6l-6 6M994 1140l6 6m0 -6l-6 6M994 1163l6 6m0 -6l-6 6M995 1183l6 6m0 -6l-6 6M995 1126l6 6m0 -6l-6 6M994 1144l6 6m0 -6l-6 6M995 1183l6 6m0 -6l-6 6M995 1192l6 6m0 -6l-6 6M995 1218l6 6m0 -6l-6 6M995 1135l6 6m0 -6l-6 6M995 1203l6 6m0 -6l-6 6M996 1131l6 6m0 -6l-6 6M996 1167l6 6m0 -6l-6 6M996 1244l6 6m0 -6l-6 6M996 1229l6 6m0 -6l-6 6M995 1194l6 6m0 -6l-6 6M996 1191l6 6m0 -6l-6 6M997 1205l6 6m0 -6l-6 6M997 1166l6 6m0 -6l-6 6M997 1132l6 6m0 -6l-6 6M996 1191l6 6m0 -6l-6 6M997 1178l6 6m0 -6l-6 6M997 1162l6 6m0 -6l-6 6M997 1139l6 6m0 -6l-6 6M998 1188l6 6m0 -6l-6 6M998 1170l6 6m0 -6l-6 6M997 1219l6 6m0 -6l-6 6M998 1238l6 6m0 -6l-6 6M998 1151l6 6m0 -6l-6 6M998 1167l6 6m0 -6l-6 6M998 1169l6 6m0 -6l-6 6M999 1206l6 6m0 -6l-6 6M999 1127l6 6m0 -6l-6 6M999 1246l6 6m0 -6l-6 6M999 1223l6 6m0 -6l-6 6M999 1263l6 6m0 -6l-6 6M999 1203l6 6m0 -6l-6 6M998 1144l6 6m0 -6l-6 6M1000 1156l6 6m0 -6l-6 6M999 1175l6 6m0 -6l-6 6M1000 1189l6 6m0 -6l-6 6M1000 1204l6 6m0 -6l-6 6M1000 1170l6 6m0 -6l-6 6M1000 1174l6 6m0 -6l-6 6M1000 1118l6 6m0 -6l-6 6M1000 1201l6 6m0 -6l-6 6M1001 1149l6 6m0 -6l-6 6M1001 1132l6 6m0 -6l-6 6M1001 1152l6 6m0 -6l-6 6M1000 1161l6 6m0 -6l-6 6M1001 1121l6 6m0 -6l-6 6M1001 1172l6 6m0 -6l-6 6M1002 1254l6 6m0 -6l-6 6M1002 1158l6 6m0 -6l-6 6M1001 1152l6 6m0 -6l-6 6M1002 1153l6 6m0 -6l-6 6M1002 1090l6 6m0 -6l-6 6M1002 1115l6 6m0 -6l-6 6M1002 1219l6 6m0 -6l-6 6M1003 1137l6 6m0 -6l-6 6M1003 1100l6 6m0 -6l-6 6M1002 1148l6 6m0 -6l-6 6M1003 1182l6 6m0 -6l-6 6M1002 1210l6 6m0 -6l-6 6M1003 1180l6 6m0 -6l-6 6M1003 1134l6 6m0 -6l-6 6M1004 1175l6 6m0 -6l-6 6M1004 1148l6 6m0 -6l-6 6M1004 1143l6 6m0 -6l-6 6M1004 1052l6 6m0 -6l-6 6M1004 1154l6 6m0 -6l-6 6M1003 1176l6 6m0 -6l-6 6M1004 1136l6 6m0 -6l-6 6M1005 1221l6 6m0 -6l-6 6M1005 1158l6 6m0 -6l-6 6M1005 1154l6 6m0 -6l-6 6M1005 1250l6 6m0 -6l-6 6M1005 1195l6 6m0 -6l-6 6M1005 1174l6 6m0 -6l-6 6M1005 1129l6 6m0 -6l-6 6M1006 1154l6 6m0 -6l-6 6M1006 1215l6 6m0 -6l-6 6M1005 1143l6 6m0 -6l-6 6M1006 1219l6 6m0 -6l-6 6M1006 1159l6 6m0 -6l-6 6M1006 1178l6 6m0 -6l-6 6M1006 1150l6 6m0 -6l-6 6M1007 1133l6 6m0 -6l-6 6M1007 1175l6 6m0 -6l-6 6M1006 1201l6 6m0 -6l-6 6M1007 1180l6 6m0 -6l-6 6M1007 1173l6 6m0 -6l-6 6M1007 1143l6 6m0 -6l-6 6M1007 1159l6 6m0 -6l-6 6M1008 1224l6 6m0 -6l-6 6M1008 1189l6 6m0 -6l-6 6M1008 1227l6 6m0 -6l-6 6M1008 1130l6 6m0 -6l-6 6M1008 1213l6 6m0 -6l-6 6M1008 1167l6 6m0 -6l-6 6M1008 1166l6 6m0 -6l-6 6M1009 1154l6 6m0 -6l-6 6M1009 1178l6 6m0 -6l-6 6M1009 1257l6 6m0 -6l-6 6M1009 1119l6 6m0 -6l-6 6M1009 1166l6 6m0 -6l-6 6M1009 1250l6 6m0 -6l-6 6M1009 1181l6 6m0 -6l-6 6M1009 1237l6 6m0 -6l-6 6M1010 1170l6 6m0 -6l-6 6M1010 1176l6 6m0 -6l-6 6M1009 1166l6 6m0 -6l-6 6M1010 1150l6 6m0 -6l-6 6M1010 1164l6 6m0 -6l-6 6M1009 1195l6 6m0 -6l-6 6M1011 1172l6 6m0 -6l-6 6M1010 1205l6 6m0 -6l-6 6M1010 1180l6 6m0 -6l-6 6M1011 1183l6 6m0 -6l-6 6M1011 1139l6 6m0 -6l-6 6M1011 1217l6 6m0 -6l-6 6M1011 1163l6 6m0 -6l-6 6M1012 1136l6 6m0 -6l-6 6M1011 1235l6 6m0 -6l-6 6M1012 1148l6 6m0 -6l-6 6M1012 1084l6 6m0 -6l-6 6M1012 1205l6 6m0 -6l-6 6M1012 1217l6 6m0 -6l-6 6M1012 1163l6 6m0 -6l-6 6M1013 1153l6 6m0 -6l-6 6M1012 1138l6 6m0 -6l-6 6M1012 1171l6 6m0 -6l-6 6M1013 1130l6 6m0 -6l-6 6M1013 1203l6 6m0 -6l-6 6M1012 1171l6 6m0 -6l-6 6M1012 1178l6 6m0 -6l-6 6M1014 1207l6 6m0 -6l-6 6M1014 1124l6 6m0 -6l-6 6M1014 1164l6 6m0 -6l-6 6M1014 1159l6 6m0 -6l-6 6M1013 1225l6 6m0 -6l-6 6M1014 1138l6 6m0 -6l-6 6M1014 1200l6 6m0 -6l-6 6M1015 1172l6 6m0 -6l-6 6M1015 1163l6 6m0 -6l-6 6M1015 1152l6 6m0 -6l-6 6M1015 1141l6 6m0 -6l-6 6M1014 1164l6 6m0 -6l-6 6M1014 1201l6 6m0 -6l-6 6M1015 1153l6 6m0 -6l-6 6M1016 1169l6 6m0 -6l-6 6M1016 1142l6 6m0 -6l-6 6M1016 1206l6 6m0 -6l-6 6M1016 1132l6 6m0 -6l-6 6M1016 1217l6 6m0 -6l-6 6M1016 1127l6 6m0 -6l-6 6M1016 1144l6 6m0 -6l-6 6M1017 1200l6 6m0 -6l-6 6M1017 1156l6 6m0 -6l-6 6M1017 1201l6 6m0 -6l-6 6M1016 1155l6 6m0 -6l-6 6M1017 1189l6 6m0 -6l-6 6M1017 1129l6 6m0 -6l-6 6M1017 1194l6 6m0 -6l-6 6M1018 1232l6 6m0 -6l-6 6M1018 1165l6 6m0 -6l-6 6M1018 1124l6 6m0 -6l-6 6M1018 1166l6 6m0 -6l-6 6M1018 1101l6 6m0 -6l-6 6M1018 1127l6 6m0 -6l-6 6M1018 1176l6 6m0 -6l-6 6M1019 1166l6 6m0 -6l-6 6M1019 1209l6 6m0 -6l-6 6M1019 1195l6 6m0 -6l-6 6M1019 1198l6 6m0 -6l-6 6M1018 1159l6 6m0 -6l-6 6M1019 1192l6 6m0 -6l-6 6M1019 1160l6 6m0 -6l-6 6M1020 1139l6 6m0 -6l-6 6M1020 1194l6 6m0 -6l-6 6M1020 1211l6 6m0 -6l-6 6M1020 1187l6 6m0 -6l-6 6M1020 1198l6 6m0 -6l-6 6M1020 1179l6 6m0 -6l-6 6M1020 1228l6 6m0 -6l-6 6M1021 1204l6 6m0 -6l-6 6M1021 1156l6 6m0 -6l-6 6M1021 1158l6 6m0 -6l-6 6M1021 1182l6 6m0 -6l-6 6M1021 1166l6 6m0 -6l-6 6M1021 1150l6 6m0 -6l-6 6M1020 1159l6 6m0 -6l-6 6M1022 1176l6 6m0 -6l-6 6M1022 1152l6 6m0 -6l-6 6M1022 1167l6 6m0 -6l-6 6M1021 1190l6 6m0 -6l-6 6M1022 1152l6 6m0 -6l-6 6M1022 1202l6 6m0 -6l-6 6M1022 1181l6 6m0 -6l-6 6M1023 1229l6 6m0 -6l-6 6M1022 1127l6 6m0 -6l-6 6M1023 1130l6 6m0 -6l-6 6M1023 1192l6 6m0 -6l-6 6M1023 1211l6 6m0 -6l-6 6M1022 1181l6 6m0 -6l-6 6M1023 1211l6 6m0 -6l-6 6M1024 1135l6 6m0 -6l-6 6M1024 1219l6 6m0 -6l-6 6M1023 1169l6 6m0 -6l-6 6M1023 1157l6 6m0 -6l-6 6M1024 1147l6 6m0 -6l-6 6M1024 1201l6 6m0 -6l-6 6M1024 1207l6 6m0 -6l-6 6M1025 1178l6 6m0 -6l-6 6M1025 1171l6 6m0 -6l-6 6M1025 1185l6 6m0 -6l-6 6M1025 1177l6 6m0 -6l-6 6M1024 1163l6 6m0 -6l-6 6M1025 1171l6 6m0 -6l-6 6M1025 1146l6 6m0 -6l-6 6M1026 1135l6 6m0 -6l-6 6M1026 1147l6 6m0 -6l-6 6M1026 1189l6 6m0 -6l-6 6M1025 1209l6 6m0 -6l-6 6M1026 1104l6 6m0 -6l-6 6M1025 1118l6 6m0 -6l-6 6M1025 1154l6 6m0 -6l-6 6M1027 1158l6 6m0 -6l-6 6M1027 1207l6 6m0 -6l-6 6M1027 1171l6 6m0 -6l-6 6M1027 1201l6 6m0 -6l-6 6M1027 1190l6 6m0 -6l-6 6M1027 1157l6 6m0 -6l-6 6M1027 1159l6 6m0 -6l-6 6M1027 1156l6 6m0 -6l-6 6M1028 1175l6 6m0 -6l-6 6M1028 1159l6 6m0 -6l-6 6M1028 1129l6 6m0 -6l-6 6M1028 1165l6 6m0 -6l-6 6M1028 1168l6 6m0 -6l-6 6M1028 1173l6 6m0 -6l-6 6M1029 1149l6 6m0 -6l-6 6M1028 1177l6 6m0 -6l-6 6M1029 1180l6 6m0 -6l-6 6M1028 1234l6 6m0 -6l-6 6M1029 1157l6 6m0 -6l-6 6M1029 1229l6 6m0 -6l-6 6M1029 1174l6 6m0 -6l-6 6M1030 1162l6 6m0 -6l-6 6M1030 1162l6 6m0 -6l-6 6M1030 1205l6 6m0 -6l-6 6M1030 1192l6 6m0 -6l-6 6M1029 1188l6 6m0 -6l-6 6M1029 1133l6 6m0 -6l-6 6M1030 1147l6 6m0 -6l-6 6M1031 1187l6 6m0 -6l-6 6M1031 1187l6 6m0 -6l-6 6M1031 1183l6 6m0 -6l-6 6M1031 1215l6 6m0 -6l-6 6M1030 1224l6 6m0 -6l-6 6M1031 1162l6 6m0 -6l-6 6M1031 1159l6 6m0 -6l-6 6M1032 1148l6 6m0 -6l-6 6M1032 1171l6 6m0 -6l-6 6M1032 1186l6 6m0 -6l-6 6M1032 1179l6 6m0 -6l-6 6M1032 1200l6 6m0 -6l-6 6M1031 1144l6 6m0 -6l-6 6M1032 1217l6 6m0 -6l-6 6M1033 1160l6 6m0 -6l-6 6M1033 1228l6 6m0 -6l-6 6M1033 1153l6 6m0 -6l-6 6M1033 1194l6 6m0 -6l-6 6M1033 1165l6 6m0 -6l-6 6M1033 1173l6 6m0 -6l-6 6M1033 1218l6 6m0 -6l-6 6M1034 1186l6 6m0 -6l-6 6M1034 1167l6 6m0 -6l-6 6M1033 1197l6 6m0 -6l-6 6M1034 1197l6 6m0 -6l-6 6M1034 1179l6 6m0 -6l-6 6M1034 1159l6 6m0 -6l-6 6M1034 1198l6 6m0 -6l-6 6M1035 1170l6 6m0 -6l-6 6M1034 1145l6 6m0 -6l-6 6M1035 1113l6 6m0 -6l-6 6M1035 1148l6 6m0 -6l-6 6M1035 1072l6 6m0 -6l-6 6M1035 1192l6 6m0 -6l-6 6M1035 1180l6 6m0 -6l-6 6M1036 1147l6 6m0 -6l-6 6M1036 1233l6 6m0 -6l-6 6M1036 1202l6 6m0 -6l-6 6M1036 1205l6 6m0 -6l-6 6M1036 1197l6 6m0 -6l-6 6M1035 1230l6 6m0 -6l-6 6M1036 1213l6 6m0 -6l-6 6M1037 1167l6 6m0 -6l-6 6M1037 1183l6 6m0 -6l-6 6M1037 1192l6 6m0 -6l-6 6M1037 1170l6 6m0 -6l-6 6M1036 1192l6 6m0 -6l-6 6M1037 1189l6 6m0 -6l-6 6M1037 1141l6 6m0 -6l-6 6M1038 1199l6 6m0 -6l-6 6M1037 1126l6 6m0 -6l-6 6M1038 1222l6 6m0 -6l-6 6M1038 1197l6 6m0 -6l-6 6M1038 1192l6 6m0 -6l-6 6M1038 1223l6 6m0 -6l-6 6M1038 1175l6 6m0 -6l-6 6M1038 1201l6 6m0 -6l-6 6M1038 1173l6 6m0 -6l-6 6M1039 1131l6 6m0 -6l-6 6M1039 1190l6 6m0 -6l-6 6M1039 1247l6 6m0 -6l-6 6M1039 1204l6 6m0 -6l-6 6M1039 1174l6 6m0 -6l-6 6M1040 1151l6 6m0 -6l-6 6M1040 1147l6 6m0 -6l-6 6M1039 1165l6 6m0 -6l-6 6M1040 1270l6 6m0 -6l-6 6M1039 1219l6 6m0 -6l-6 6M1040 1204l6 6m0 -6l-6 6M1040 1185l6 6m0 -6l-6 6M1040 1149l6 6m0 -6l-6 6M1041 1175l6 6m0 -6l-6 6M1041 1148l6 6m0 -6l-6 6M1041 1194l6 6m0 -6l-6 6M1040 1170l6 6m0 -6l-6 6M1041 1143l6 6m0 -6l-6 6M1041 1167l6 6m0 -6l-6 6M1042 1171l6 6m0 -6l-6 6M1042 1183l6 6m0 -6l-6 6M1042 1211l6 6m0 -6l-6 6M1042 1174l6 6m0 -6l-6 6M1042 1152l6 6m0 -6l-6 6M1042 1181l6 6m0 -6l-6 6M1042 1155l6 6m0 -6l-6 6M1043 1193l6 6m0 -6l-6 6M1042 1164l6 6m0 -6l-6 6M1043 1147l6 6m0 -6l-6 6M1043 1146l6 6m0 -6l-6 6M1042 1196l6 6m0 -6l-6 6M1043 1233l6 6m0 -6l-6 6M1043 1206l6 6m0 -6l-6 6M1044 1138l6 6m0 -6l-6 6M1044 1141l6 6m0 -6l-6 6M1044 1140l6 6m0 -6l-6 6M1044 1236l6 6m0 -6l-6 6M1044 1182l6 6m0 -6l-6 6M1044 1232l6 6m0 -6l-6 6M1044 1191l6 6m0 -6l-6 6M1044 1142l6 6m0 -6l-6 6M1045 1102l6 6m0 -6l-6 6M1044 1167l6 6m0 -6l-6 6M1045 1139l6 6m0 -6l-6 6M1045 1249l6 6m0 -6l-6 6M1045 1158l6 6m0 -6l-6 6M1044 1194l6 6m0 -6l-6 6M1045 1155l6 6m0 -6l-6 6M1046 1233l6 6m0 -6l-6 6M1046 1175l6 6m0 -6l-6 6M1046 1193l6 6m0 -6l-6 6M1046 1192l6 6m0 -6l-6 6M1046 1185l6 6m0 -6l-6 6M1046 1187l6 6m0 -6l-6 6M1046 1219l6 6m0 -6l-6 6M1047 1191l6 6m0 -6l-6 6M1047 1177l6 6m0 -6l-6 6M1047 1199l6 6m0 -6l-6 6M1047 1153l6 6m0 -6l-6 6M1046 1179l6 6m0 -6l-6 6M1047 1192l6 6m0 -6l-6 6M1048 1202l6 6m0 -6l-6 6M1048 1215l6 6m0 -6l-6 6M1048 1127l6 6m0 -6l-6 6M1048 1215l6 6m0 -6l-6 6M1048 1157l6 6m0 -6l-6 6M1048 1236l6 6m0 -6l-6 6M1048 1137l6 6m0 -6l-6 6M1048 1155l6 6m0 -6l-6 6M1049 1208l6 6m0 -6l-6 6M1048 1193l6 6m0 -6l-6 6M1049 1127l6 6m0 -6l-6 6M1049 1162l6 6m0 -6l-6 6M1048 1169l6 6m0 -6l-6 6M1049 1142l6 6m0 -6l-6 6M1050 1171l6 6m0 -6l-6 6M1050 1128l6 6m0 -6l-6 6M1049 1244l6 6m0 -6l-6 6M1050 1162l6 6m0 -6l-6 6M1050 1141l6 6m0 -6l-6 6M1050 1201l6 6m0 -6l-6 6M1050 1199l6 6m0 -6l-6 6M1051 1193l6 6m0 -6l-6 6M1051 1193l6 6m0 -6l-6 6M1051 1183l6 6m0 -6l-6 6M1050 1210l6 6m0 -6l-6 6M1051 1207l6 6m0 -6l-6 6M1051 1176l6 6m0 -6l-6 6M1051 1124l6 6m0 -6l-6 6M1052 1104l6 6m0 -6l-6 6M1052 1201l6 6m0 -6l-6 6M1052 1159l6 6m0 -6l-6 6M1051 1244l6 6m0 -6l-6 6M1052 1108l6 6m0 -6l-6 6M1052 1113l6 6m0 -6l-6 6M1052 1163l6 6m0 -6l-6 6M1053 1139l6 6m0 -6l-6 6M1052 1127l6 6m0 -6l-6 6M1053 1136l6 6m0 -6l-6 6M1053 1114l6 6m0 -6l-6 6M1053 1164l6 6m0 -6l-6 6M1053 1259l6 6m0 -6l-6 6M1053 1211l6 6m0 -6l-6 6M1054 1185l6 6m0 -6l-6 6M1054 1135l6 6m0 -6l-6 6M1053 1234l6 6m0 -6l-6 6M1054 1188l6 6m0 -6l-6 6M1053 1146l6 6m0 -6l-6 6M1054 1183l6 6m0 -6l-6 6M1054 1113l6 6m0 -6l-6 6M1054 1196l6 6m0 -6l-6 6M1055 1148l6 6m0 -6l-6 6M1054 1178l6 6m0 -6l-6 6M1055 1241l6 6m0 -6l-6 6M1055 1121l6 6m0 -6l-6 6M1055 1130l6 6m0 -6l-6 6M1055 1251l6 6m0 -6l-6 6M1056 1159l6 6m0 -6l-6 6M1056 1267l6 6m0 -6l-6 6M1056 1150l6 6m0 -6l-6 6M1055 1161l6 6m0 -6l-6 6M1056 1169l6 6m0 -6l-6 6M1055 1139l6 6m0 -6l-6 6M1056 1160l6 6m0 -6l-6 6M1057 1182l6 6m0 -6l-6 6M1056 1128l6 6m0 -6l-6 6M1057 1227l6 6m0 -6l-6 6M1057 1225l6 6m0 -6l-6 6M1057 1138l6 6m0 -6l-6 6M1057 1182l6 6m0 -6l-6 6M1057 1209l6 6m0 -6l-6 6M1058 1200l6 6m0 -6l-6 6M1058 1204l6 6m0 -6l-6 6M1058 1169l6 6m0 -6l-6 6M1058 1120l6 6m0 -6l-6 6M1058 1161l6 6m0 -6l-6 6M1058 1212l6 6m0 -6l-6 6M1058 1174l6 6m0 -6l-6 6M1059 1171l6 6m0 -6l-6 6M1059 1147l6 6m0 -6l-6 6M1058 1144l6 6m0 -6l-6 6M1058 1109l6 6m0 -6l-6 6M1059 1201l6 6m0 -6l-6 6M1059 1168l6 6m0 -6l-6 6M1059 1157l6 6m0 -6l-6 6M1060 1154l6 6m0 -6l-6 6M1060 1157l6 6m0 -6l-6 6M1060 1231l6 6m0 -6l-6 6M1060 1113l6 6m0 -6l-6 6M1060 1229l6 6m0 -6l-6 6M1060 1156l6 6m0 -6l-6 6M1060 1144l6 6m0 -6l-6 6M1061 1180l6 6m0 -6l-6 6M1060 1148l6 6m0 -6l-6 6M1061 1154l6 6m0 -6l-6 6M1061 1224l6 6m0 -6l-6 6M1061 1160l6 6m0 -6l-6 6M1061 1130l6 6m0 -6l-6 6M1061 1169l6 6m0 -6l-6 6M1062 1158l6 6m0 -6l-6 6M1061 1149l6 6m0 -6l-6 6M1062 1079l6 6m0 -6l-6 6M1062 1139l6 6m0 -6l-6 6M1061 1179l6 6m0 -6l-6 6M1062 1194l6 6m0 -6l-6 6M1062 1184l6 6m0 -6l-6 6M1063 1183l6 6m0 -6l-6 6M1063 1176l6 6m0 -6l-6 6M1063 1195l6 6m0 -6l-6 6M1063 1178l6 6m0 -6l-6 6M1062 1212l6 6m0 -6l-6 6M1062 1218l6 6m0 -6l-6 6M1063 1190l6 6m0 -6l-6 6M1064 1198l6 6m0 -6l-6 6M1064 1142l6 6m0 -6l-6 6M1064 1133l6 6m0 -6l-6 6M1063 1172l6 6m0 -6l-6 6M1064 1163l6 6m0 -6l-6 6M1064 1147l6 6m0 -6l-6 6M1063 1141l6 6m0 -6l-6 6M1065 1101l6 6m0 -6l-6 6M1065 1146l6 6m0 -6l-6 6M1064 1183l6 6m0 -6l-6 6M1065 1139l6 6m0 -6l-6 6M1065 1176l6 6m0 -6l-6 6M1065 1192l6 6m0 -6l-6 6M1065 1205l6 6m0 -6l-6 6M1066 1187l6 6m0 -6l-6 6M1066 1102l6 6m0 -6l-6 6M1066 1247l6 6m0 -6l-6 6M1066 1195l6 6m0 -6l-6 6M1066 1250l6 6m0 -6l-6 6M1066 1224l6 6m0 -6l-6 6M1066 1161l6 6m0 -6l-6 6M1067 1158l6 6m0 -6l-6 6M1067 1208l6 6m0 -6l-6 6M1067 1159l6 6m0 -6l-6 6M1067 1213l6 6m0 -6l-6 6M1066 1129l6 6m0 -6l-6 6M1067 1151l6 6m0 -6l-6 6M1067 1170l6 6m0 -6l-6 6M1068 1165l6 6m0 -6l-6 6M1068 1208l6 6m0 -6l-6 6M1068 1170l6 6m0 -6l-6 6M1068 1174l6 6m0 -6l-6 6M1068 1111l6 6m0 -6l-6 6M1068 1232l6 6m0 -6l-6 6M1068 1104l6 6m0 -6l-6 6M1069 1102l6 6m0 -6l-6 6M1069 1171l6 6m0 -6l-6 6M1069 1180l6 6m0 -6l-6 6M1069 1212l6 6m0 -6l-6 6M1069 1165l6 6m0 -6l-6 6M1068 1258l6 6m0 -6l-6 6M1069 1155l6 6m0 -6l-6 6M1070 1279l6 6m0 -6l-6 6M1070 1104l6 6m0 -6l-6 6M1070 1144l6 6m0 -6l-6 6M1070 1165l6 6m0 -6l-6 6M1070 1137l6 6m0 -6l-6 6M1070 1224l6 6m0 -6l-6 6M1070 1108l6 6m0 -6l-6 6M1071 1220l6 6m0 -6l-6 6M1071 1094l6 6m0 -6l-6 6M1071 1164l6 6m0 -6l-6 6M1071 1143l6 6m0 -6l-6 6M1071 1211l6 6m0 -6l-6 6M1071 1137l6 6m0 -6l-6 6M1071 1187l6 6m0 -6l-6 6M1072 1163l6 6m0 -6l-6 6M1072 1158l6 6m0 -6l-6 6M1072 1213l6 6m0 -6l-6 6M1071 1144l6 6m0 -6l-6 6M1072 1159l6 6m0 -6l-6 6M1072 1156l6 6m0 -6l-6 6M1072 1165l6 6m0 -6l-6 6M1073 1149l6 6m0 -6l-6 6M1073 1197l6 6m0 -6l-6 6M1073 1166l6 6m0 -6l-6 6M1072 1189l6 6m0 -6l-6 6M1073 1181l6 6m0 -6l-6 6M1073 1153l6 6m0 -6l-6 6M1073 1230l6 6m0 -6l-6 6M1074 1174l6 6m0 -6l-6 6M1074 1193l6 6m0 -6l-6 6M1074 1210l6 6m0 -6l-6 6M1074 1182l6 6m0 -6l-6 6M1073 1189l6 6m0 -6l-6 6M1074 1143l6 6m0 -6l-6 6M1074 1159l6 6m0 -6l-6 6M1075 1096l6 6m0 -6l-6 6M1075 1141l6 6m0 -6l-6 6M1075 1216l6 6m0 -6l-6 6M1075 1157l6 6m0 -6l-6 6M1075 1137l6 6m0 -6l-6 6M1075 1117l6 6m0 -6l-6 6M1075 1122l6 6m0 -6l-6 6M1075 1186l6 6m0 -6l-6 6M1076 1053l6 6m0 -6l-6 6M1075 1120l6 6m0 -6l-6 6M1076 1124l6 6m0 -6l-6 6M1076 1153l6 6m0 -6l-6 6M1076 1247l6 6m0 -6l-6 6M1076 1155l6 6m0 -6l-6 6M1077 1143l6 6m0 -6l-6 6M1077 1180l6 6m0 -6l-6 6M1076 1168l6 6m0 -6l-6 6M1077 1218l6 6m0 -6l-6 6M1077 1180l6 6m0 -6l-6 6M1076 1205l6 6m0 -6l-6 6M1077 1160l6 6m0 -6l-6 6M1078 1196l6 6m0 -6l-6 6M1078 1128l6 6m0 -6l-6 6M1078 1229l6 6m0 -6l-6 6M1078 1187l6 6m0 -6l-6 6M1078 1173l6 6m0 -6l-6 6M1078 1202l6 6m0 -6l-6 6M1078 1215l6 6m0 -6l-6 6M1079 1122l6 6m0 -6l-6 6M1079 1167l6 6m0 -6l-6 6M1079 1207l6 6m0 -6l-6 6M1079 1156l6 6m0 -6l-6 6M1079 1135l6 6m0 -6l-6 6M1079 1165l6 6m0 -6l-6 6M1079 1145l6 6m0 -6l-6 6M1080 1209l6 6m0 -6l-6 6M1080 1211l6 6m0 -6l-6 6M1079 1151l6 6m0 -6l-6 6M1080 1147l6 6m0 -6l-6 6M1079 1174l6 6m0 -6l-6 6M1080 1139l6 6m0 -6l-6 6M1080 1205l6 6m0 -6l-6 6M1081 1211l6 6m0 -6l-6 6M1081 1224l6 6m0 -6l-6 6M1080 1249l6 6m0 -6l-6 6M1080 1219l6 6m0 -6l-6 6M1081 1185l6 6m0 -6l-6 6M1081 1150l6 6m0 -6l-6 6M1081 1165l6 6m0 -6l-6 6M1082 1184l6 6m0 -6l-6 6M1081 1147l6 6m0 -6l-6 6M1081 1147l6 6m0 -6l-6 6M1082 1181l6 6m0 -6l-6 6M1082 1155l6 6m0 -6l-6 6M1082 1211l6 6m0 -6l-6 6M1082 1214l6 6m0 -6l-6 6M1083 1177l6 6m0 -6l-6 6M1083 1210l6 6m0 -6l-6 6M1083 1203l6 6m0 -6l-6 6M1083 1181l6 6m0 -6l-6 6M1083 1180l6 6m0 -6l-6 6M1083 1187l6 6m0 -6l-6 6M1083 1164l6 6m0 -6l-6 6M1084 1145l6 6m0 -6l-6 6M1084 1189l6 6m0 -6l-6 6M1084 1194l6 6m0 -6l-6 6M1084 1177l6 6m0 -6l-6 6M1083 1101l6 6m0 -6l-6 6M1084 1222l6 6m0 -6l-6 6M1083 1174l6 6m0 -6l-6 6M1085 1186l6 6m0 -6l-6 6M1085 1195l6 6m0 -6l-6 6M1085 1161l6 6m0 -6l-6 6M1085 1177l6 6m0 -6l-6 6M1085 1221l6 6m0 -6l-6 6M1085 1218l6 6m0 -6l-6 6M1085 1192l6 6m0 -6l-6 6M1086 1239l6 6m0 -6l-6 6M1085 1192l6 6m0 -6l-6 6M1086 1197l6 6m0 -6l-6 6M1086 1118l6 6m0 -6l-6 6M1086 1182l6 6m0 -6l-6 6M1086 1130l6 6m0 -6l-6 6M1086 1189l6 6m0 -6l-6 6M1087 1135l6 6m0 -6l-6 6M1087 1226l6 6m0 -6l-6 6M1087 1144l6 6m0 -6l-6 6M1087 1261l6 6m0 -6l-6 6M1087 1166l6 6m0 -6l-6 6M1086 1112l6 6m0 -6l-6 6M1086 1160l6 6m0 -6l-6 6M1088 1186l6 6m0 -6l-6 6M1088 1151l6 6m0 -6l-6 6M1088 1194l6 6m0 -6l-6 6M1088 1156l6 6m0 -6l-6 6M1088 1168l6 6m0 -6l-6 6M1088 1228l6 6m0 -6l-6 6M1088 1115l6 6m0 -6l-6 6M1088 1172l6 6m0 -6l-6 6M1088 1210l6 6m0 -6l-6 6M1088 1170l6 6m0 -6l-6 6M1089 1139l6 6m0 -6l-6 6M1089 1166l6 6m0 -6l-6 6M1089 1231l6 6m0 -6l-6 6M1089 1190l6 6m0 -6l-6 6M1090 1191l6 6m0 -6l-6 6M1089 1189l6 6m0 -6l-6 6M1090 1178l6 6m0 -6l-6 6M1090 1145l6 6m0 -6l-6 6M1090 1192l6 6m0 -6l-6 6M1090 1180l6 6m0 -6l-6 6M1090 1133l6 6m0 -6l-6 6M1091 1176l6 6m0 -6l-6 6M1091 1156l6 6m0 -6l-6 6M1091 1180l6 6m0 -6l-6 6M1091 1200l6 6m0 -6l-6 6M1091 1198l6 6m0 -6l-6 6M1090 1223l6 6m0 -6l-6 6M1091 1173l6 6m0 -6l-6 6M1092 1174l6 6m0 -6l-6 6M1092 1166l6 6m0 -6l-6 6M1092 1192l6 6m0 -6l-6 6M1092 1207l6 6m0 -6l-6 6M1092 1211l6 6m0 -6l-6 6M1092 1281l6 6m0 -6l-6 6M1092 1204l6 6m0 -6l-6 6M1093 1174l6 6m0 -6l-6 6M1093 1162l6 6m0 -6l-6 6M1093 1234l6 6m0 -6l-6 6M1093 1223l6 6m0 -6l-6 6M1093 1206l6 6m0 -6l-6 6M1093 1212l6 6m0 -6l-6 6M1093 1163l6 6m0 -6l-6 6M1094 1157l6 6m0 -6l-6 6M1094 1196l6 6m0 -6l-6 6M1094 1188l6 6m0 -6l-6 6M1094 1159l6 6m0 -6l-6 6M1094 1172l6 6m0 -6l-6 6M1094 1171l6 6m0 -6l-6 6M1094 1193l6 6m0 -6l-6 6M1095 1183l6 6m0 -6l-6 6M1095 1231l6 6m0 -6l-6 6M1095 1161l6 6m0 -6l-6 6M1095 1133l6 6m0 -6l-6 6M1095 1136l6 6m0 -6l-6 6M1094 1227l6 6m0 -6l-6 6M1095 1120l6 6m0 -6l-6 6M1096 1174l6 6m0 -6l-6 6M1096 1138l6 6m0 -6l-6 6M1096 1203l6 6m0 -6l-6 6M1096 1210l6 6m0 -6l-6 6M1096 1216l6 6m0 -6l-6 6M1096 1212l6 6m0 -6l-6 6M1096 1138l6 6m0 -6l-6 6M1096 1200l6 6m0 -6l-6 6M1097 1142l6 6m0 -6l-6 6M1097 1155l6 6m0 -6l-6 6M1096 1197l6 6m0 -6l-6 6M1096 1194l6 6m0 -6l-6 6M1097 1178l6 6m0 -6l-6 6M1097 1218l6 6m0 -6l-6 6M1098 1170l6 6m0 -6l-6 6M1098 1165l6 6m0 -6l-6 6M1098 1189l6 6m0 -6l-6 6M1098 1145l6 6m0 -6l-6 6M1098 1202l6 6m0 -6l-6 6M1098 1179l6 6m0 -6l-6 6M1098 1198l6 6m0 -6l-6 6M1099 1139l6 6m0 -6l-6 6M1099 1177l6 6m0 -6l-6 6M1099 1200l6 6m0 -6l-6 6M1099 1161l6 6m0 -6l-6 6M1098 1183l6 6m0 -6l-6 6M1099 1128l6 6m0 -6l-6 6M1099 1149l6 6m0 -6l-6 6M1099 1165l6 6m0 -6l-6 6M1099 1251l6 6m0 -6l-6 6M1100 1230l6 6m0 -6l-6 6M1100 1166l6 6m0 -6l-6 6M1100 1135l6 6m0 -6l-6 6M1099 1152l6 6m0 -6l-6 6M1100 1148l6 6m0 -6l-6 6M1101 1204l6 6m0 -6l-6 6M1101 1208l6 6m0 -6l-6 6M1101 1159l6 6m0 -6l-6 6M1101 1247l6 6m0 -6l-6 6M1101 1206l6 6m0 -6l-6 6M1101 1150l6 6m0 -6l-6 6M1100 1137l6 6m0 -6l-6 6M1102 1192l6 6m0 -6l-6 6M1102 1110l6 6m0 -6l-6 6M1102 1189l6 6m0 -6l-6 6M1102 1149l6 6m0 -6l-6 6M1102 1142l6 6m0 -6l-6 6M1102 1248l6 6m0 -6l-6 6M1101 1111l6 6m0 -6l-6 6M1103 1199l6 6m0 -6l-6 6M1103 1215l6 6m0 -6l-6 6M1103 1169l6 6m0 -6l-6 6M1103 1177l6 6m0 -6l-6 6M1102 1208l6 6m0 -6l-6 6M1103 1131l6 6m0 -6l-6 6M1103 1163l6 6m0 -6l-6 6M1104 1154l6 6m0 -6l-6 6M1104 1115l6 6m0 -6l-6 6M1103 1184l6 6m0 -6l-6 6M1104 1190l6 6m0 -6l-6 6M1104 1137l6 6m0 -6l-6 6M1104 1134l6 6m0 -6l-6 6M1104 1152l6 6m0 -6l-6 6M1105 1153l6 6m0 -6l-6 6M1105 1162l6 6m0 -6l-6 6M1105 1092l6 6m0 -6l-6 6M1104 1202l6 6m0 -6l-6 6M1105 1148l6 6m0 -6l-6 6M1104 1193l6 6m0 -6l-6 6M1105 1220l6 6m0 -6l-6 6M1106 1133l6 6m0 -6l-6 6M1106 1184l6 6m0 -6l-6 6M1106 1120l6 6m0 -6l-6 6M1105 1164l6 6m0 -6l-6 6M1106 1156l6 6m0 -6l-6 6M1106 1131l6 6m0 -6l-6 6M1106 1195l6 6m0 -6l-6 6M1106 1246l6 6m0 -6l-6 6M1107 1139l6 6m0 -6l-6 6M1106 1222l6 6m0 -6l-6 6M1106 1132l6 6m0 -6l-6 6M1107 1179l6 6m0 -6l-6 6M1107 1187l6 6m0 -6l-6 6M1107 1157l6 6m0 -6l-6 6M1108 1238l6 6m0 -6l-6 6M1107 1167l6 6m0 -6l-6 6M1108 1240l6 6m0 -6l-6 6M1108 1268l6 6m0 -6l-6 6M1108 1194l6 6m0 -6l-6 6M1107 1070l6 6m0 -6l-6 6M1108 1198l6 6m0 -6l-6 6M1109 1214l6 6m0 -6l-6 6M1109 1181l6 6m0 -6l-6 6M1108 1175l6 6m0 -6l-6 6M1109 1169l6 6m0 -6l-6 6M1108 1146l6 6m0 -6l-6 6M1109 1143l6 6m0 -6l-6 6M1109 1182l6 6m0 -6l-6 6M1110 1155l6 6m0 -6l-6 6M1110 1195l6 6m0 -6l-6 6M1110 1151l6 6m0 -6l-6 6M1110 1162l6 6m0 -6l-6 6M1110 1142l6 6m0 -6l-6 6M1110 1229l6 6m0 -6l-6 6M1110 1132l6 6m0 -6l-6 6M1111 1146l6 6m0 -6l-6 6M1111 1141l6 6m0 -6l-6 6M1111 1179l6 6m0 -6l-6 6M1111 1204l6 6m0 -6l-6 6M1111 1166l6 6m0 -6l-6 6M1111 1182l6 6m0 -6l-6 6M1110 1141l6 6m0 -6l-6 6M1112 1231l6 6m0 -6l-6 6M1112 1109l6 6m0 -6l-6 6M1111 1232l6 6m0 -6l-6 6M1112 1107l6 6m0 -6l-6 6M1112 1140l6 6m0 -6l-6 6M1112 1157l6 6m0 -6l-6 6M1112 1156l6 6m0 -6l-6 6M1113 1179l6 6m0 -6l-6 6M1113 1198l6 6m0 -6l-6 6M1113 1220l6 6m0 -6l-6 6M1113 1161l6 6m0 -6l-6 6M1113 1215l6 6m0 -6l-6 6M1113 1172l6 6m0 -6l-6 6M1113 1120l6 6m0 -6l-6 6M1114 1151l6 6m0 -6l-6 6M1114 1108l6 6m0 -6l-6 6M1114 1078l6 6m0 -6l-6 6M1114 1010l6 6m0 -6l-6 6M1114 1175l6 6m0 -6l-6 6M1113 1256l6 6m0 -6l-6 6M1113 1183l6 6m0 -6l-6 6M1115 1175l6 6m0 -6l-6 6M1115 1196l6 6m0 -6l-6 6M1115 1178l6 6m0 -6l-6 6M1115 1093l6 6m0 -6l-6 6M1115 1194l6 6m0 -6l-6 6M1115 1204l6 6m0 -6l-6 6M1115 1194l6 6m0 -6l-6 6M1116 1172l6 6m0 -6l-6 6M1116 1176l6 6m0 -6l-6 6M1116 1161l6 6m0 -6l-6 6M1116 1193l6 6m0 -6l-6 6M1116 1224l6 6m0 -6l-6 6M1116 1209l6 6m0 -6l-6 6M1115 1187l6 6m0 -6l-6 6M1117 1180l6 6m0 -6l-6 6M1117 1184l6 6m0 -6l-6 6M1117 1196l6 6m0 -6l-6 6M1116 1164l6 6m0 -6l-6 6M1117 1153l6 6m0 -6l-6 6M1117 1140l6 6m0 -6l-6 6M1116 1192l6 6m0 -6l-6 6M1118 1163l6 6m0 -6l-6 6M1118 1156l6 6m0 -6l-6 6M1118 1123l6 6m0 -6l-6 6M1117 1110l6 6m0 -6l-6 6M1118 1100l6 6m0 -6l-6 6M1118 1185l6 6m0 -6l-6 6M1118 1212l6 6m0 -6l-6 6M1119 1154l6 6m0 -6l-6 6M1119 1123l6 6m0 -6l-6 6M1119 1154l6 6m0 -6l-6 6M1119 1205l6 6m0 -6l-6 6M1119 1210l6 6m0 -6l-6 6M1119 1182l6 6m0 -6l-6 6M1118 1107l6 6m0 -6l-6 6M1120 1097l6 6m0 -6l-6 6M1120 1222l6 6m0 -6l-6 6M1120 1266l6 6m0 -6l-6 6M1120 1212l6 6m0 -6l-6 6M1119 1133l6 6m0 -6l-6 6M1120 1185l6 6m0 -6l-6 6M1120 1142l6 6m0 -6l-6 6M1121 1229l6 6m0 -6l-6 6M1121 1170l6 6m0 -6l-6 6M1121 1141l6 6m0 -6l-6 6M1121 1159l6 6m0 -6l-6 6M1121 1142l6 6m0 -6l-6 6M1121 1142l6 6m0 -6l-6 6M1120 1079l6 6m0 -6l-6 6M1122 1203l6 6m0 -6l-6 6M1122 1142l6 6m0 -6l-6 6M1122 1165l6 6m0 -6l-6 6M1122 1106l6 6m0 -6l-6 6M1122 1201l6 6m0 -6l-6 6M1121 1220l6 6m0 -6l-6 6M1121 1169l6 6m0 -6l-6 6M1123 1196l6 6m0 -6l-6 6M1123 1159l6 6m0 -6l-6 6M1123 1175l6 6m0 -6l-6 6M1123 1159l6 6m0 -6l-6 6M1123 1166l6 6m0 -6l-6 6M1123 1200l6 6m0 -6l-6 6M1123 1152l6 6m0 -6l-6 6M1124 1163l6 6m0 -6l-6 6M1123 1205l6 6m0 -6l-6 6M1124 1157l6 6m0 -6l-6 6M1124 1165l6 6m0 -6l-6 6M1124 1182l6 6m0 -6l-6 6M1123 1199l6 6m0 -6l-6 6M1124 1149l6 6m0 -6l-6 6M1124 1188l6 6m0 -6l-6 6M1125 1207l6 6m0 -6l-6 6M1125 1224l6 6m0 -6l-6 6M1125 1174l6 6m0 -6l-6 6M1125 1120l6 6m0 -6l-6 6M1125 1199l6 6m0 -6l-6 6M1125 1190l6 6m0 -6l-6 6M1126 1159l6 6m0 -6l-6 6M1126 1154l6 6m0 -6l-6 6M1125 1214l6 6m0 -6l-6 6M1125 1116l6 6m0 -6l-6 6M1126 1201l6 6m0 -6l-6 6M1125 1221l6 6m0 -6l-6 6M1125 1227l6 6m0 -6l-6 6M1127 1204l6 6m0 -6l-6 6M1127 1194l6 6m0 -6l-6 6M1127 1197l6 6m0 -6l-6 6M1127 1153l6 6m0 -6l-6 6M1126 1172l6 6m0 -6l-6 6M1127 1187l6 6m0 -6l-6 6M1127 1194l6 6m0 -6l-6 6M1128 1165l6 6m0 -6l-6 6M1127 1186l6 6m0 -6l-6 6M1128 1174l6 6m0 -6l-6 6M1128 1129l6 6m0 -6l-6 6M1128 1197l6 6m0 -6l-6 6M1128 1183l6 6m0 -6l-6 6M1128 1180l6 6m0 -6l-6 6M1129 1226l6 6m0 -6l-6 6M1129 1265l6 6m0 -6l-6 6M1128 1148l6 6m0 -6l-6 6M1128 1116l6 6m0 -6l-6 6M1129 1254l6 6m0 -6l-6 6M1129 1185l6 6m0 -6l-6 6M1128 1106l6 6m0 -6l-6 6M1130 1213l6 6m0 -6l-6 6M1130 1207l6 6m0 -6l-6 6M1130 1192l6 6m0 -6l-6 6M1130 1134l6 6m0 -6l-6 6M1129 1172l6 6m0 -6l-6 6M1130 1133l6 6m0 -6l-6 6M1130 1143l6 6m0 -6l-6 6M1131 1169l6 6m0 -6l-6 6M1131 1197l6 6m0 -6l-6 6M1131 1184l6 6m0 -6l-6 6M1131 1196l6 6m0 -6l-6 6M1131 1171l6 6m0 -6l-6 6M1130 1194l6 6m0 -6l-6 6M1131 1196l6 6m0 -6l-6 6M1131 1232l6 6m0 -6l-6 6M1132 1158l6 6m0 -6l-6 6M1132 1212l6 6m0 -6l-6 6M1132 1194l6 6m0 -6l-6 6M1132 1138l6 6m0 -6l-6 6M1131 1127l6 6m0 -6l-6 6M1132 1158l6 6m0 -6l-6 6M1133 1162l6 6m0 -6l-6 6M1133 1185l6 6m0 -6l-6 6M1132 1236l6 6m0 -6l-6 6M1133 1152l6 6m0 -6l-6 6M1133 1121l6 6m0 -6l-6 6M1132 1155l6 6m0 -6l-6 6M1133 1120l6 6m0 -6l-6 6M1134 1169l6 6m0 -6l-6 6M1134 1135l6 6m0 -6l-6 6M1134 1155l6 6m0 -6l-6 6M1134 1179l6 6m0 -6l-6 6M1134 1159l6 6m0 -6l-6 6M1134 1216l6 6m0 -6l-6 6M1134 1162l6 6m0 -6l-6 6M1135 1164l6 6m0 -6l-6 6M1135 1187l6 6m0 -6l-6 6M1135 1185l6 6m0 -6l-6 6M1135 1229l6 6m0 -6l-6 6M1135 1128l6 6m0 -6l-6 6M1135 1199l6 6m0 -6l-6 6M1134 1163l6 6m0 -6l-6 6M1135 1187l6 6m0 -6l-6 6M1136 1138l6 6m0 -6l-6 6M1135 1161l6 6m0 -6l-6 6M1136 1161l6 6m0 -6l-6 6M1136 1155l6 6m0 -6l-6 6M1136 1190l6 6m0 -6l-6 6M1136 1244l6 6m0 -6l-6 6M1137 1224l6 6m0 -6l-6 6M1137 1216l6 6m0 -6l-6 6M1136 1219l6 6m0 -6l-6 6M1136 1219l6 6m0 -6l-6 6M1137 1264l6 6m0 -6l-6 6M1137 1152l6 6m0 -6l-6 6M1137 1167l6 6m0 -6l-6 6M1138 1132l6 6m0 -6l-6 6M1138 1215l6 6m0 -6l-6 6M1138 1109l6 6m0 -6l-6 6M1138 1166l6 6m0 -6l-6 6M1138 1187l6 6m0 -6l-6 6M1138 1153l6 6m0 -6l-6 6M1138 1160l6 6m0 -6l-6 6M1139 1174l6 6m0 -6l-6 6M1139 1205l6 6m0 -6l-6 6M1139 1164l6 6m0 -6l-6 6M1139 1150l6 6m0 -6l-6 6M1139 1197l6 6m0 -6l-6 6M1139 1121l6 6m0 -6l-6 6M1139 1161l6 6m0 -6l-6 6M1140 1173l6 6m0 -6l-6 6M1140 1257l6 6m0 -6l-6 6M1140 1166l6 6m0 -6l-6 6M1140 1134l6 6m0 -6l-6 6M1139 1209l6 6m0 -6l-6 6M1140 1175l6 6m0 -6l-6 6M1140 1174l6 6m0 -6l-6 6M1141 1135l6 6m0 -6l-6 6M1141 1183l6 6m0 -6l-6 6M1141 1166l6 6m0 -6l-6 6M1141 1132l6 6m0 -6l-6 6M1141 1218l6 6m0 -6l-6 6M1141 1094l6 6m0 -6l-6 6M1141 1204l6 6m0 -6l-6 6M1142 1165l6 6m0 -6l-6 6M1141 1156l6 6m0 -6l-6 6M1142 1175l6 6m0 -6l-6 6M1141 1177l6 6m0 -6l-6 6M1142 1143l6 6m0 -6l-6 6M1142 1112l6 6m0 -6l-6 6M1142 1202l6 6m0 -6l-6 6M1143 1182l6 6m0 -6l-6 6M1143 1155l6 6m0 -6l-6 6M1143 1209l6 6m0 -6l-6 6M1143 1188l6 6m0 -6l-6 6M1143 1145l6 6m0 -6l-6 6M1143 1179l6 6m0 -6l-6 6M1143 1124l6 6m0 -6l-6 6M1144 1172l6 6m0 -6l-6 6M1144 1268l6 6m0 -6l-6 6M1143 1146l6 6m0 -6l-6 6M1144 1194l6 6m0 -6l-6 6M1144 1132l6 6m0 -6l-6 6M1143 1216l6 6m0 -6l-6 6M1144 1163l6 6m0 -6l-6 6M1145 1252l6 6m0 -6l-6 6M1144 1172l6 6m0 -6l-6 6M1145 1139l6 6m0 -6l-6 6M1145 1180l6 6m0 -6l-6 6M1145 1159l6 6m0 -6l-6 6M1144 1203l6 6m0 -6l-6 6M1144 1158l6 6m0 -6l-6 6M1146 1222l6 6m0 -6l-6 6M1146 1174l6 6m0 -6l-6 6M1146 1102l6 6m0 -6l-6 6M1146 1182l6 6m0 -6l-6 6M1146 1216l6 6m0 -6l-6 6M1146 1205l6 6m0 -6l-6 6M1146 1249l6 6m0 -6l-6 6M1146 1119l6 6m0 -6l-6 6M1147 1144l6 6m0 -6l-6 6M1147 1145l6 6m0 -6l-6 6M1147 1149l6 6m0 -6l-6 6M1147 1158l6 6m0 -6l-6 6M1147 1209l6 6m0 -6l-6 6M1147 1146l6 6m0 -6l-6 6M1147 1141l6 6m0 -6l-6 6M1148 1208l6 6m0 -6l-6 6M1147 1136l6 6m0 -6l-6 6M1148 1189l6 6m0 -6l-6 6M1148 1203l6 6m0 -6l-6 6M1147 1168l6 6m0 -6l-6 6M1148 1166l6 6m0 -6l-6 6M1149 1197l6 6m0 -6l-6 6M1149 1211l6 6m0 -6l-6 6M1149 1161l6 6m0 -6l-6 6M1149 1184l6 6m0 -6l-6 6M1149 1126l6 6m0 -6l-6 6M1149 1239l6 6m0 -6l-6 6M1149 1222l6 6m0 -6l-6 6M1150 1202l6 6m0 -6l-6 6M1150 1130l6 6m0 -6l-6 6M1149 1197l6 6m0 -6l-6 6M1149 1179l6 6m0 -6l-6 6M1150 1180l6 6m0 -6l-6 6M1150 1131l6 6m0 -6l-6 6M1150 1234l6 6m0 -6l-6 6M1151 1189l6 6m0 -6l-6 6M1151 1159l6 6m0 -6l-6 6M1151 1239l6 6m0 -6l-6 6M1151 1145l6 6m0 -6l-6 6M1151 1155l6 6m0 -6l-6 6M1151 1214l6 6m0 -6l-6 6M1151 1183l6 6m0 -6l-6 6M1152 1160l6 6m0 -6l-6 6M1151 1160l6 6m0 -6l-6 6M1152 1221l6 6m0 -6l-6 6M1152 1175l6 6m0 -6l-6 6M1152 1156l6 6m0 -6l-6 6M1152 1237l6 6m0 -6l-6 6M1152 1250l6 6m0 -6l-6 6M1153 1189l6 6m0 -6l-6 6M1153 1136l6 6m0 -6l-6 6M1153 1114l6 6m0 -6l-6 6M1153 1173l6 6m0 -6l-6 6M1153 1115l6 6m0 -6l-6 6M1153 1206l6 6m0 -6l-6 6M1153 1177l6 6m0 -6l-6 6M1153 1133l6 6m0 -6l-6 6M1153 1193l6 6m0 -6l-6 6M1153 1264l6 6m0 -6l-6 6M1154 1202l6 6m0 -6l-6 6M1154 1175l6 6m0 -6l-6 6M1153 1155l6 6m0 -6l-6 6M1154 1191l6 6m0 -6l-6 6M1155 1216l6 6m0 -6l-6 6M1155 1224l6 6m0 -6l-6 6M1154 1220l6 6m0 -6l-6 6M1155 1151l6 6m0 -6l-6 6M1154 1178l6 6m0 -6l-6 6M1155 1230l6 6m0 -6l-6 6M1155 1230l6 6m0 -6l-6 6M1156 1192l6 6m0 -6l-6 6M1156 1144l6 6m0 -6l-6 6M1156 1183l6 6m0 -6l-6 6M1156 1159l6 6m0 -6l-6 6M1156 1181l6 6m0 -6l-6 6M1156 1170l6 6m0 -6l-6 6M1156 1195l6 6m0 -6l-6 6M1157 1189l6 6m0 -6l-6 6M1157 1115l6 6m0 -6l-6 6M1157 1207l6 6m0 -6l-6 6M1157 1169l6 6m0 -6l-6 6M1157 1157l6 6m0 -6l-6 6M1157 1175l6 6m0 -6l-6 6M1157 1157l6 6m0 -6l-6 6M1158 1127l6 6m0 -6l-6 6M1157 1203l6 6m0 -6l-6 6M1158 1125l6 6m0 -6l-6 6M1158 1175l6 6m0 -6l-6 6M1158 1117l6 6m0 -6l-6 6M1158 1169l6 6m0 -6l-6 6M1158 1189l6 6m0 -6l-6 6M1159 1172l6 6m0 -6l-6 6M1159 1197l6 6m0 -6l-6 6M1158 1140l6 6m0 -6l-6 6M1158 1178l6 6m0 -6l-6 6M1159 1184l6 6m0 -6l-6 6M1158 1151l6 6m0 -6l-6 6M1159 1174l6 6m0 -6l-6 6M1160 1219l6 6m0 -6l-6 6M1160 1191l6 6m0 -6l-6 6M1160 1101l6 6m0 -6l-6 6M1159 1164l6 6m0 -6l-6 6M1160 1142l6 6m0 -6l-6 6M1160 1182l6 6m0 -6l-6 6M1159 1209l6 6m0 -6l-6 6M1161 1177l6 6m0 -6l-6 6M1161 1190l6 6m0 -6l-6 6M1161 1122l6 6m0 -6l-6 6M1161 1220l6 6m0 -6l-6 6M1161 1134l6 6m0 -6l-6 6M1161 1157l6 6m0 -6l-6 6M1160 1212l6 6m0 -6l-6 6M1162 1168l6 6m0 -6l-6 6M1161 1228l6 6m0 -6l-6 6M1162 1150l6 6m0 -6l-6 6M1162 1177l6 6m0 -6l-6 6M1162 1205l6 6m0 -6l-6 6M1162 1246l6 6m0 -6l-6 6M1162 1173l6 6m0 -6l-6 6M1163 1132l6 6m0 -6l-6 6M1163 1127l6 6m0 -6l-6 6M1162 1165l6 6m0 -6l-6 6M1163 1078l6 6m0 -6l-6 6M1163 1131l6 6m0 -6l-6 6M1163 1175l6 6m0 -6l-6 6M1163 1212l6 6m0 -6l-6 6M1164 1162l6 6m0 -6l-6 6M1164 1136l6 6m0 -6l-6 6M1164 1155l6 6m0 -6l-6 6M1163 1152l6 6m0 -6l-6 6M1164 1237l6 6m0 -6l-6 6M1164 1178l6 6m0 -6l-6 6M1164 1191l6 6m0 -6l-6 6M1165 1179l6 6m0 -6l-6 6M1164 1107l6 6m0 -6l-6 6M1165 1191l6 6m0 -6l-6 6M1164 1178l6 6m0 -6l-6 6M1165 1181l6 6m0 -6l-6 6M1165 1152l6 6m0 -6l-6 6M1164 1193l6 6m0 -6l-6 6M1166 1183l6 6m0 -6l-6 6M1166 1212l6 6m0 -6l-6 6M1166 1192l6 6m0 -6l-6 6M1166 1149l6 6m0 -6l-6 6M1166 1184l6 6m0 -6l-6 6M1166 1170l6 6m0 -6l-6 6M1165 1162l6 6m0 -6l-6 6M1167 1122l6 6m0 -6l-6 6M1167 1202l6 6m0 -6l-6 6M1167 1209l6 6m0 -6l-6 6M1167 1223l6 6m0 -6l-6 6M1167 1159l6 6m0 -6l-6 6M1166 1164l6 6m0 -6l-6 6M1167 1170l6 6m0 -6l-6 6M1168 1121l6 6m0 -6l-6 6M1168 1140l6 6m0 -6l-6 6M1168 1174l6 6m0 -6l-6 6M1167 1135l6 6m0 -6l-6 6M1167 1164l6 6m0 -6l-6 6M1167 1115l6 6m0 -6l-6 6M1168 1205l6 6m0 -6l-6 6M1169 1132l6 6m0 -6l-6 6M1168 1175l6 6m0 -6l-6 6M1169 1202l6 6m0 -6l-6 6M1169 1164l6 6m0 -6l-6 6M1169 1102l6 6m0 -6l-6 6M1169 1137l6 6m0 -6l-6 6M1169 1183l6 6m0 -6l-6 6M1170 1162l6 6m0 -6l-6 6M1170 1196l6 6m0 -6l-6 6M1169 1141l6 6m0 -6l-6 6M1170 1220l6 6m0 -6l-6 6M1170 1109l6 6m0 -6l-6 6M1170 1150l6 6m0 -6l-6 6M1170 1149l6 6m0 -6l-6 6M1171 1193l6 6m0 -6l-6 6M1171 1161l6 6m0 -6l-6 6M1171 1137l6 6m0 -6l-6 6M1170 1144l6 6m0 -6l-6 6M1170 1148l6 6m0 -6l-6 6M1171 1143l6 6m0 -6l-6 6M1171 1081l6 6m0 -6l-6 6M1172 1151l6 6m0 -6l-6 6M1172 1184l6 6m0 -6l-6 6M1172 1191l6 6m0 -6l-6 6M1172 1186l6 6m0 -6l-6 6M1172 1118l6 6m0 -6l-6 6M1172 1197l6 6m0 -6l-6 6M1172 1181l6 6m0 -6l-6 6M1173 1172l6 6m0 -6l-6 6M1173 1146l6 6m0 -6l-6 6M1172 1168l6 6m0 -6l-6 6M1173 1152l6 6m0 -6l-6 6M1173 1234l6 6m0 -6l-6 6M1173 1204l6 6m0 -6l-6 6M1172 1191l6 6m0 -6l-6 6M1174 1164l6 6m0 -6l-6 6M1173 1202l6 6m0 -6l-6 6M1174 1188l6 6m0 -6l-6 6M1174 1138l6 6m0 -6l-6 6M1174 1143l6 6m0 -6l-6 6M1174 1212l6 6m0 -6l-6 6M1174 1163l6 6m0 -6l-6 6M1175 1189l6 6m0 -6l-6 6M1175 1202l6 6m0 -6l-6 6M1175 1232l6 6m0 -6l-6 6M1175 1099l6 6m0 -6l-6 6M1175 1183l6 6m0 -6l-6 6M1175 1192l6 6m0 -6l-6 6M1175 1192l6 6m0 -6l-6 6M1175 1206l6 6m0 -6l-6 6M1175 1218l6 6m0 -6l-6 6M1176 1113l6 6m0 -6l-6 6M1176 1188l6 6m0 -6l-6 6M1176 1169l6 6m0 -6l-6 6M1176 1254l6 6m0 -6l-6 6M1176 1202l6 6m0 -6l-6 6M1177 1179l6 6m0 -6l-6 6M1177 1178l6 6m0 -6l-6 6M1177 1178l6 6m0 -6l-6 6M1177 1168l6 6m0 -6l-6 6M1177 1111l6 6m0 -6l-6 6M1177 1204l6 6m0 -6l-6 6M1176 1178l6 6m0 -6l-6 6M1178 1208l6 6m0 -6l-6 6M1178 1138l6 6m0 -6l-6 6M1178 1178l6 6m0 -6l-6 6M1178 1148l6 6m0 -6l-6 6M1178 1146l6 6m0 -6l-6 6M1178 1168l6 6m0 -6l-6 6M1178 1196l6 6m0 -6l-6 6M1179 1157l6 6m0 -6l-6 6M1179 1109l6 6m0 -6l-6 6M1179 1146l6 6m0 -6l-6 6M1179 1134l6 6m0 -6l-6 6M1179 1212l6 6m0 -6l-6 6M1178 1143l6 6m0 -6l-6 6M1178 1188l6 6m0 -6l-6 6M1180 1189l6 6m0 -6l-6 6M1180 1187l6 6m0 -6l-6 6M1180 1156l6 6m0 -6l-6 6M1180 1152l6 6m0 -6l-6 6M1179 1179l6 6m0 -6l-6 6M1180 1130l6 6m0 -6l-6 6M1180 1197l6 6m0 -6l-6 6M1180 1152l6 6m0 -6l-6 6M1181 1172l6 6m0 -6l-6 6M1180 1163l6 6m0 -6l-6 6M1181 1233l6 6m0 -6l-6 6M1181 1190l6 6m0 -6l-6 6M1181 1218l6 6m0 -6l-6 6M1181 1137l6 6m0 -6l-6 6M1182 1191l6 6m0 -6l-6 6M1182 1189l6 6m0 -6l-6 6M1181 1163l6 6m0 -6l-6 6M1182 1165l6 6m0 -6l-6 6M1181 1189l6 6m0 -6l-6 6M1182 1148l6 6m0 -6l-6 6M1181 1191l6 6m0 -6l-6 6M1183 1155l6 6m0 -6l-6 6M1183 1152l6 6m0 -6l-6 6M1182 1137l6 6m0 -6l-6 6M1183 1152l6 6m0 -6l-6 6M1183 1161l6 6m0 -6l-6 6M1183 1185l6 6m0 -6l-6 6M1183 1184l6 6m0 -6l-6 6M1184 1135l6 6m0 -6l-6 6M1184 1145l6 6m0 -6l-6 6M1183 1136l6 6m0 -6l-6 6M1184 1173l6 6m0 -6l-6 6M1184 1222l6 6m0 -6l-6 6M1184 1206l6 6m0 -6l-6 6M1184 1192l6 6m0 -6l-6 6M1184 1125l6 6m0 -6l-6 6M1185 1171l6 6m0 -6l-6 6M1185 1203l6 6m0 -6l-6 6M1185 1083l6 6m0 -6l-6 6M1185 1208l6 6m0 -6l-6 6M1185 1153l6 6m0 -6l-6 6M1185 1180l6 6m0 -6l-6 6M1186 1158l6 6m0 -6l-6 6M1185 1135l6 6m0 -6l-6 6M1186 1177l6 6m0 -6l-6 6M1186 1180l6 6m0 -6l-6 6M1186 1215l6 6m0 -6l-6 6M1185 1211l6 6m0 -6l-6 6M1186 1217l6 6m0 -6l-6 6M1187 1133l6 6m0 -6l-6 6M1187 1173l6 6m0 -6l-6 6M1187 1147l6 6m0 -6l-6 6M1186 1187l6 6m0 -6l-6 6M1186 1168l6 6m0 -6l-6 6M1187 1145l6 6m0 -6l-6 6M1187 1136l6 6m0 -6l-6 6M1188 1163l6 6m0 -6l-6 6M1188 1063l6 6m0 -6l-6 6M1188 1183l6 6m0 -6l-6 6M1188 1205l6 6m0 -6l-6 6M1188 1163l6 6m0 -6l-6 6M1188 1196l6 6m0 -6l-6 6M1188 1212l6 6m0 -6l-6 6M1189 1217l6 6m0 -6l-6 6M1189 1172l6 6m0 -6l-6 6M1189 1130l6 6m0 -6l-6 6M1188 1210l6 6m0 -6l-6 6M1189 1151l6 6m0 -6l-6 6M1188 1122l6 6m0 -6l-6 6M1189 1176l6 6m0 -6l-6 6M1190 1163l6 6m0 -6l-6 6M1190 1224l6 6m0 -6l-6 6M1189 1164l6 6m0 -6l-6 6M1190 1118l6 6m0 -6l-6 6M1190 1230l6 6m0 -6l-6 6M1190 1176l6 6m0 -6l-6 6M1190 1186l6 6m0 -6l-6 6M1191 1234l6 6m0 -6l-6 6M1191 1199l6 6m0 -6l-6 6M1190 1155l6 6m0 -6l-6 6M1191 1121l6 6m0 -6l-6 6M1191 1154l6 6m0 -6l-6 6M1191 1188l6 6m0 -6l-6 6M1191 1167l6 6m0 -6l-6 6M1192 1173l6 6m0 -6l-6 6M1192 1192l6 6m0 -6l-6 6M1192 1172l6 6m0 -6l-6 6M1192 1163l6 6m0 -6l-6 6M1192 1192l6 6m0 -6l-6 6M1192 1168l6 6m0 -6l-6 6M1192 1196l6 6m0 -6l-6 6M1193 1167l6 6m0 -6l-6 6M1193 1163l6 6m0 -6l-6 6M1192 1212l6 6m0 -6l-6 6M1193 1161l6 6m0 -6l-6 6M1193 1197l6 6m0 -6l-6 6M1193 1200l6 6m0 -6l-6 6M1192 1162l6 6m0 -6l-6 6M1193 1161l6 6m0 -6l-6 6M1194 1126l6 6m0 -6l-6 6M1193 1137l6 6m0 -6l-6 6M1194 1238l6 6m0 -6l-6 6M1194 1098l6 6m0 -6l-6 6M1194 1219l6 6m0 -6l-6 6M1194 1244l6 6m0 -6l-6 6M1195 1233l6 6m0 -6l-6 6M1195 1093l6 6m0 -6l-6 6M1195 1199l6 6m0 -6l-6 6M1194 1194l6 6m0 -6l-6 6M1195 1163l6 6m0 -6l-6 6M1195 1194l6 6m0 -6l-6 6M1195 1189l6 6m0 -6l-6 6M1196 1218l6 6m0 -6l-6 6M1195 1221l6 6m0 -6l-6 6M1196 1161l6 6m0 -6l-6 6M1196 1102l6 6m0 -6l-6 6M1196 1199l6 6m0 -6l-6 6M1196 1149l6 6m0 -6l-6 6M1195 1232l6 6m0 -6l-6 6M1197 1212l6 6m0 -6l-6 6M1197 1165l6 6m0 -6l-6 6M1197 1247l6 6m0 -6l-6 6M1197 1140l6 6m0 -6l-6 6M1197 1171l6 6m0 -6l-6 6M1197 1137l6 6m0 -6l-6 6M1197 1201l6 6m0 -6l-6 6M1197 1168l6 6m0 -6l-6 6M1198 1168l6 6m0 -6l-6 6M1198 1145l6 6m0 -6l-6 6M1198 1172l6 6m0 -6l-6 6M1198 1226l6 6m0 -6l-6 6M1198 1166l6 6m0 -6l-6 6M1198 1181l6 6m0 -6l-6 6M1198 1102l6 6m0 -6l-6 6M1199 1225l6 6m0 -6l-6 6M1198 1138l6 6m0 -6l-6 6M1198 1172l6 6m0 -6l-6 6M1198 1186l6 6m0 -6l-6 6M1199 1186l6 6m0 -6l-6 6M1198 1223l6 6m0 -6l-6 6M1200 1148l6 6m0 -6l-6 6M1200 1148l6 6m0 -6l-6 6M1200 1212l6 6m0 -6l-6 6M1200 1163l6 6m0 -6l-6 6M1200 1215l6 6m0 -6l-6 6M1199 1154l6 6m0 -6l-6 6M1199 1239l6 6m0 -6l-6 6M1200 1201l6 6m0 -6l-6 6M1201 1121l6 6m0 -6l-6 6M1201 1165l6 6m0 -6l-6 6M1200 1206l6 6m0 -6l-6 6M1201 1148l6 6m0 -6l-6 6M1200 1238l6 6m0 -6l-6 6M1201 1174l6 6m0 -6l-6 6M1202 1229l6 6m0 -6l-6 6M1202 1140l6 6m0 -6l-6 6M1202 1167l6 6m0 -6l-6 6M1202 1190l6 6m0 -6l-6 6M1202 1153l6 6m0 -6l-6 6M1202 1239l6 6m0 -6l-6 6M1201 1220l6 6m0 -6l-6 6M1203 1195l6 6m0 -6l-6 6M1203 1235l6 6m0 -6l-6 6M1202 1156l6 6m0 -6l-6 6M1203 1193l6 6m0 -6l-6 6M1203 1237l6 6m0 -6l-6 6M1203 1175l6 6m0 -6l-6 6M1203 1188l6 6m0 -6l-6 6M1203 1152l6 6m0 -6l-6 6M1203 1217l6 6m0 -6l-6 6M1204 1225l6 6m0 -6l-6 6M1204 1169l6 6m0 -6l-6 6M1203 1191l6 6m0 -6l-6 6M1204 1176l6 6m0 -6l-6 6M1203 1204l6 6m0 -6l-6 6M1204 1138l6 6m0 -6l-6 6M1205 1209l6 6m0 -6l-6 6M1205 1190l6 6m0 -6l-6 6M1205 1151l6 6m0 -6l-6 6M1205 1242l6 6m0 -6l-6 6M1205 1176l6 6m0 -6l-6 6M1205 1167l6 6m0 -6l-6 6M1206 1202l6 6m0 -6l-6 6M1205 1126l6 6m0 -6l-6 6M1206 1199l6 6m0 -6l-6 6M1206 1112l6 6m0 -6l-6 6M1206 1167l6 6m0 -6l-6 6M1206 1211l6 6m0 -6l-6 6M1206 1158l6 6m0 -6l-6 6M1207 1119l6 6m0 -6l-6 6M1207 1174l6 6m0 -6l-6 6M1207 1191l6 6m0 -6l-6 6M1207 1171l6 6m0 -6l-6 6M1207 1214l6 6m0 -6l-6 6M1207 1203l6 6m0 -6l-6 6M1207 1130l6 6m0 -6l-6 6M1208 1213l6 6m0 -6l-6 6M1207 1192l6 6m0 -6l-6 6M1207 1233l6 6m0 -6l-6 6M1208 1187l6 6m0 -6l-6 6M1208 1188l6 6m0 -6l-6 6M1207 1091l6 6m0 -6l-6 6M1208 1133l6 6m0 -6l-6 6M1208 1179l6 6m0 -6l-6 6M1209 1190l6 6m0 -6l-6 6M1209 1247l6 6m0 -6l-6 6M1208 1217l6 6m0 -6l-6 6M1208 1140l6 6m0 -6l-6 6M1209 1144l6 6m0 -6l-6 6M1209 1187l6 6m0 -6l-6 6M1210 1155l6 6m0 -6l-6 6M1210 1188l6 6m0 -6l-6 6M1209 1071l6 6m0 -6l-6 6M1210 1208l6 6m0 -6l-6 6M1210 1221l6 6m0 -6l-6 6M1210 1143l6 6m0 -6l-6 6M1210 1116l6 6m0 -6l-6 6M1211 1169l6 6m0 -6l-6 6M1211 1131l6 6m0 -6l-6 6M1211 1228l6 6m0 -6l-6 6M1211 1182l6 6m0 -6l-6 6M1211 1200l6 6m0 -6l-6 6M1210 1133l6 6m0 -6l-6 6M1211 1148l6 6m0 -6l-6 6M1212 1153l6 6m0 -6l-6 6M1211 1125l6 6m0 -6l-6 6M1212 1131l6 6m0 -6l-6 6M1211 1171l6 6m0 -6l-6 6M1211 1204l6 6m0 -6l-6 6M1212 1154l6 6m0 -6l-6 6M1212 1198l6 6m0 -6l-6 6M1213 1187l6 6m0 -6l-6 6M1213 1152l6 6m0 -6l-6 6M1212 1143l6 6m0 -6l-6 6M1213 1122l6 6m0 -6l-6 6M1213 1187l6 6m0 -6l-6 6M1213 1154l6 6m0 -6l-6 6M1213 1156l6 6m0 -6l-6 6M1213 1181l6 6m0 -6l-6 6M1213 1218l6 6m0 -6l-6 6M1214 1226l6 6m0 -6l-6 6M1213 1152l6 6m0 -6l-6 6M1214 1193l6 6m0 -6l-6 6M1214 1230l6 6m0 -6l-6 6M1213 1191l6 6m0 -6l-6 6M1215 1209l6 6m0 -6l-6 6M1214 1202l6 6m0 -6l-6 6M1215 1191l6 6m0 -6l-6 6M1215 1165l6 6m0 -6l-6 6M1215 1183l6 6m0 -6l-6 6M1215 1120l6 6m0 -6l-6 6M1215 1212l6 6m0 -6l-6 6M1216 1132l6 6m0 -6l-6 6M1216 1277l6 6m0 -6l-6 6M1215 1110l6 6m0 -6l-6 6M1216 1187l6 6m0 -6l-6 6M1216 1186l6 6m0 -6l-6 6M1216 1198l6 6m0 -6l-6 6M1215 1176l6 6m0 -6l-6 6M1217 1158l6 6m0 -6l-6 6M1217 1124l6 6m0 -6l-6 6M1217 1204l6 6m0 -6l-6 6M1216 1186l6 6m0 -6l-6 6M1217 1185l6 6m0 -6l-6 6M1217 1179l6 6m0 -6l-6 6M1217 1249l6 6m0 -6l-6 6M1218 1185l6 6m0 -6l-6 6M1218 1217l6 6m0 -6l-6 6M1218 1170l6 6m0 -6l-6 6M1218 1201l6 6m0 -6l-6 6M1218 1178l6 6m0 -6l-6 6M1218 1208l6 6m0 -6l-6 6M1218 1169l6 6m0 -6l-6 6M1219 1128l6 6m0 -6l-6 6M1219 1144l6 6m0 -6l-6 6M1219 1233l6 6m0 -6l-6 6M1219 1097l6 6m0 -6l-6 6M1219 1157l6 6m0 -6l-6 6M1219 1162l6 6m0 -6l-6 6M1219 1170l6 6m0 -6l-6 6M1220 1153l6 6m0 -6l-6 6M1220 1216l6 6m0 -6l-6 6M1220 1152l6 6m0 -6l-6 6M1220 1180l6 6m0 -6l-6 6M1220 1158l6 6m0 -6l-6 6M1220 1185l6 6m0 -6l-6 6M1220 1195l6 6m0 -6l-6 6M1221 1219l6 6m0 -6l-6 6M1221 1099l6 6m0 -6l-6 6M1220 1246l6 6m0 -6l-6 6M1221 1190l6 6m0 -6l-6 6M1221 1197l6 6m0 -6l-6 6M1221 1162l6 6m0 -6l-6 6M1221 1138l6 6m0 -6l-6 6M1222 1244l6 6m0 -6l-6 6M1222 1169l6 6m0 -6l-6 6M1222 1121l6 6m0 -6l-6 6M1222 1158l6 6m0 -6l-6 6M1222 1168l6 6m0 -6l-6 6M1221 1242l6 6m0 -6l-6 6M1222 1147l6 6m0 -6l-6 6M1223 1205l6 6m0 -6l-6 6M1223 1157l6 6m0 -6l-6 6M1223 1163l6 6m0 -6l-6 6M1223 1213l6 6m0 -6l-6 6M1222 1159l6 6m0 -6l-6 6M1223 1193l6 6m0 -6l-6 6M1223 1133l6 6m0 -6l-6 6M1224 1157l6 6m0 -6l-6 6M1223 1191l6 6m0 -6l-6 6M1224 1175l6 6m0 -6l-6 6M1224 1143l6 6m0 -6l-6 6M1224 1181l6 6m0 -6l-6 6M1224 1185l6 6m0 -6l-6 6M1224 1135l6 6m0 -6l-6 6M1225 1159l6 6m0 -6l-6 6M1224 1184l6 6m0 -6l-6 6M1225 1220l6 6m0 -6l-6 6M1225 1124l6 6m0 -6l-6 6M1225 1183l6 6m0 -6l-6 6M1225 1237l6 6m0 -6l-6 6M1225 1178l6 6m0 -6l-6 6M1226 1203l6 6m0 -6l-6 6M1226 1217l6 6m0 -6l-6 6M1226 1190l6 6m0 -6l-6 6M1226 1186l6 6m0 -6l-6 6M1226 1224l6 6m0 -6l-6 6M1226 1195l6 6m0 -6l-6 6M1226 1193l6 6m0 -6l-6 6M1227 1193l6 6m0 -6l-6 6M1227 1146l6 6m0 -6l-6 6M1226 1224l6 6m0 -6l-6 6M1227 1221l6 6m0 -6l-6 6M1227 1117l6 6m0 -6l-6 6M1227 1148l6 6m0 -6l-6 6M1227 1189l6 6m0 -6l-6 6M1228 1208l6 6m0 -6l-6 6M1228 1167l6 6m0 -6l-6 6M1228 1199l6 6m0 -6l-6 6M1227 1190l6 6m0 -6l-6 6M1228 1172l6 6m0 -6l-6 6M1228 1156l6 6m0 -6l-6 6M1227 1205l6 6m0 -6l-6 6M1228 1100l6 6m0 -6l-6 6M1229 1188l6 6m0 -6l-6 6M1229 1207l6 6m0 -6l-6 6M1229 1202l6 6m0 -6l-6 6M1229 1168l6 6m0 -6l-6 6M1228 1216l6 6m0 -6l-6 6M1229 1223l6 6m0 -6l-6 6M1230 1213l6 6m0 -6l-6 6M1230 1121l6 6m0 -6l-6 6M1230 1150l6 6m0 -6l-6 6M1230 1204l6 6m0 -6l-6 6M1230 1115l6 6m0 -6l-6 6M1230 1197l6 6m0 -6l-6 6M1230 1160l6 6m0 -6l-6 6M1231 1154l6 6m0 -6l-6 6M1231 1096l6 6m0 -6l-6 6M1231 1192l6 6m0 -6l-6 6M1231 1157l6 6m0 -6l-6 6M1231 1127l6 6m0 -6l-6 6M1231 1191l6 6m0 -6l-6 6M1231 1170l6 6m0 -6l-6 6M1232 1215l6 6m0 -6l-6 6M1232 1222l6 6m0 -6l-6 6M1232 1147l6 6m0 -6l-6 6M1232 1139l6 6m0 -6l-6 6M1232 1194l6 6m0 -6l-6 6M1231 1221l6 6m0 -6l-6 6M1232 1139l6 6m0 -6l-6 6M1233 1235l6 6m0 -6l-6 6M1233 1100l6 6m0 -6l-6 6M1233 1171l6 6m0 -6l-6 6M1233 1145l6 6m0 -6l-6 6M1233 1247l6 6m0 -6l-6 6M1233 1237l6 6m0 -6l-6 6M1233 1184l6 6m0 -6l-6 6M1233 1196l6 6m0 -6l-6 6M1233 1190l6 6m0 -6l-6 6M1234 1188l6 6m0 -6l-6 6M1234 1221l6 6m0 -6l-6 6M1234 1136l6 6m0 -6l-6 6M1234 1089l6 6m0 -6l-6 6M1233 1213l6 6m0 -6l-6 6M1235 1240l6 6m0 -6l-6 6M1235 1250l6 6m0 -6l-6 6M1235 1167l6 6m0 -6l-6 6M1235 1124l6 6m0 -6l-6 6M1234 1171l6 6m0 -6l-6 6M1235 1191l6 6m0 -6l-6 6M1234 1077l6 6m0 -6l-6 6M1236 1141l6 6m0 -6l-6 6M1236 1246l6 6m0 -6l-6 6M1235 1136l6 6m0 -6l-6 6M1236 1133l6 6m0 -6l-6 6M1236 1211l6 6m0 -6l-6 6M1236 1156l6 6m0 -6l-6 6M1236 1168l6 6m0 -6l-6 6M1237 1132l6 6m0 -6l-6 6M1237 1228l6 6m0 -6l-6 6M1237 1121l6 6m0 -6l-6 6M1237 1159l6 6m0 -6l-6 6M1237 1247l6 6m0 -6l-6 6M1236 1143l6 6m0 -6l-6 6M1237 1215l6 6m0 -6l-6 6M1238 1097l6 6m0 -6l-6 6M1238 1176l6 6m0 -6l-6 6M1238 1154l6 6m0 -6l-6 6M1238 1155l6 6m0 -6l-6 6M1237 1219l6 6m0 -6l-6 6M1238 1153l6 6m0 -6l-6 6M1237 1158l6 6m0 -6l-6 6M1239 1199l6 6m0 -6l-6 6M1239 1169l6 6m0 -6l-6 6M1239 1178l6 6m0 -6l-6 6M1238 1168l6 6m0 -6l-6 6M1239 1190l6 6m0 -6l-6 6M1238 1180l6 6m0 -6l-6 6M1239 1165l6 6m0 -6l-6 6M1240 1225l6 6m0 -6l-6 6M1240 1192l6 6m0 -6l-6 6M1240 1191l6 6m0 -6l-6 6M1240 1156l6 6m0 -6l-6 6M1240 1125l6 6m0 -6l-6 6M1240 1151l6 6m0 -6l-6 6M1240 1146l6 6m0 -6l-6 6M1241 1171l6 6m0 -6l-6 6M1241 1164l6 6m0 -6l-6 6M1241 1211l6 6m0 -6l-6 6M1241 1123l6 6m0 -6l-6 6M1240 1184l6 6m0 -6l-6 6M1241 1127l6 6m0 -6l-6 6M1240 1125l6 6m0 -6l-6 6M1242 1212l6 6m0 -6l-6 6M1242 1147l6 6m0 -6l-6 6M1242 1143l6 6m0 -6l-6 6M1242 1212l6 6m0 -6l-6 6M1241 1148l6 6m0 -6l-6 6M1242 1167l6 6m0 -6l-6 6M1242 1150l6 6m0 -6l-6 6M1243 1195l6 6m0 -6l-6 6M1243 1208l6 6m0 -6l-6 6M1243 1217l6 6m0 -6l-6 6M1243 1222l6 6m0 -6l-6 6M1243 1171l6 6m0 -6l-6 6M1243 1112l6 6m0 -6l-6 6M1243 1147l6 6m0 -6l-6 6M1244 1147l6 6m0 -6l-6 6M1244 1170l6 6m0 -6l-6 6M1244 1152l6 6m0 -6l-6 6M1244 1197l6 6m0 -6l-6 6M1244 1199l6 6m0 -6l-6 6M1244 1148l6 6m0 -6l-6 6M1244 1215l6 6m0 -6l-6 6M1245 1153l6 6m0 -6l-6 6M1245 1161l6 6m0 -6l-6 6M1245 1174l6 6m0 -6l-6 6M1245 1201l6 6m0 -6l-6 6M1245 1177l6 6m0 -6l-6 6M1245 1153l6 6m0 -6l-6 6M1245 1212l6 6m0 -6l-6 6M1246 1163l6 6m0 -6l-6 6M1246 1229l6 6m0 -6l-6 6M1246 1192l6 6m0 -6l-6 6M1246 1169l6 6m0 -6l-6 6M1245 1099l6 6m0 -6l-6 6M1246 1153l6 6m0 -6l-6 6M1246 1139l6 6m0 -6l-6 6M1247 1232l6 6m0 -6l-6 6M1247 1207l6 6m0 -6l-6 6M1246 1211l6 6m0 -6l-6 6M1247 1206l6 6m0 -6l-6 6M1246 1150l6 6m0 -6l-6 6M1247 1233l6 6m0 -6l-6 6M1247 1122l6 6m0 -6l-6 6M1248 1174l6 6m0 -6l-6 6M1248 1202l6 6m0 -6l-6 6M1248 1124l6 6m0 -6l-6 6M1248 1222l6 6m0 -6l-6 6M1247 1147l6 6m0 -6l-6 6M1248 1263l6 6m0 -6l-6 6M1247 1176l6 6m0 -6l-6 6M1249 1163l6 6m0 -6l-6 6M1249 1166l6 6m0 -6l-6 6M1249 1238l6 6m0 -6l-6 6M1249 1207l6 6m0 -6l-6 6M1248 1160l6 6m0 -6l-6 6M1249 1136l6 6m0 -6l-6 6M1249 1165l6 6m0 -6l-6 6M1249 1132l6 6m0 -6l-6 6M1250 1125l6 6m0 -6l-6 6M1250 1233l6 6m0 -6l-6 6M1250 1228l6 6m0 -6l-6 6M1250 1186l6 6m0 -6l-6 6M1250 1087l6 6m0 -6l-6 6M1250 1150l6 6m0 -6l-6 6M1251 1140l6 6m0 -6l-6 6M1251 1194l6 6m0 -6l-6 6M1251 1236l6 6m0 -6l-6 6M1250 1230l6 6m0 -6l-6 6M1251 1223l6 6m0 -6l-6 6M1251 1111l6 6m0 -6l-6 6M1250 1158l6 6m0 -6l-6 6M1252 1096l6 6m0 -6l-6 6M1251 1206l6 6m0 -6l-6 6M1252 1166l6 6m0 -6l-6 6M1252 1179l6 6m0 -6l-6 6M1252 1143l6 6m0 -6l-6 6M1252 1134l6 6m0 -6l-6 6M1252 1166l6 6m0 -6l-6 6M1253 1168l6 6m0 -6l-6 6M1253 1256l6 6m0 -6l-6 6M1253 1192l6 6m0 -6l-6 6M1252 1191l6 6m0 -6l-6 6M1253 1156l6 6m0 -6l-6 6M1253 1185l6 6m0 -6l-6 6M1253 1187l6 6m0 -6l-6 6M1254 1197l6 6m0 -6l-6 6M1254 1165l6 6m0 -6l-6 6M1254 1195l6 6m0 -6l-6 6M1254 1177l6 6m0 -6l-6 6M1254 1159l6 6m0 -6l-6 6M1254 1170l6 6m0 -6l-6 6M1254 1214l6 6m0 -6l-6 6M1255 1151l6 6m0 -6l-6 6M1255 1152l6 6m0 -6l-6 6M1255 1134l6 6m0 -6l-6 6M1255 1220l6 6m0 -6l-6 6M1255 1194l6 6m0 -6l-6 6M1254 1191l6 6m0 -6l-6 6M1255 1162l6 6m0 -6l-6 6M1256 1209l6 6m0 -6l-6 6M1256 1202l6 6m0 -6l-6 6M1256 1170l6 6m0 -6l-6 6M1256 1180l6 6m0 -6l-6 6M1256 1274l6 6m0 -6l-6 6M1256 1164l6 6m0 -6l-6 6M1256 1111l6 6m0 -6l-6 6M1257 1195l6 6m0 -6l-6 6M1257 1137l6 6m0 -6l-6 6M1257 1171l6 6m0 -6l-6 6M1257 1172l6 6m0 -6l-6 6M1257 1224l6 6m0 -6l-6 6M1257 1182l6 6m0 -6l-6 6M1257 1177l6 6m0 -6l-6 6M1258 1128l6 6m0 -6l-6 6M1258 1196l6 6m0 -6l-6 6M1258 1148l6 6m0 -6l-6 6M1258 1216l6 6m0 -6l-6 6M1258 1177l6 6m0 -6l-6 6M1258 1154l6 6m0 -6l-6 6M1258 1141l6 6m0 -6l-6 6M1259 1205l6 6m0 -6l-6 6M1258 1201l6 6m0 -6l-6 6M1258 1184l6 6m0 -6l-6 6M1259 1181l6 6m0 -6l-6 6M1259 1174l6 6m0 -6l-6 6M1259 1193l6 6m0 -6l-6 6M1259 1181l6 6m0 -6l-6 6M1260 1165l6 6m0 -6l-6 6M1260 1126l6 6m0 -6l-6 6M1260 1141l6 6m0 -6l-6 6M1260 1259l6 6m0 -6l-6 6M1260 1188l6 6m0 -6l-6 6M1260 1189l6 6m0 -6l-6 6M1260 1232l6 6m0 -6l-6 6M1261 1200l6 6m0 -6l-6 6M1261 1154l6 6m0 -6l-6 6M1261 1154l6 6m0 -6l-6 6M1260 1157l6 6m0 -6l-6 6M1260 1132l6 6m0 -6l-6 6M1261 1146l6 6m0 -6l-6 6M1261 1171l6 6m0 -6l-6 6M1262 1181l6 6m0 -6l-6 6M1262 1160l6 6m0 -6l-6 6M1262 1215l6 6m0 -6l-6 6M1262 1167l6 6m0 -6l-6 6M1261 1156l6 6m0 -6l-6 6M1261 1207l6 6m0 -6l-6 6M1262 1212l6 6m0 -6l-6 6M1262 1128l6 6m0 -6l-6 6M1263 1185l6 6m0 -6l-6 6M1263 1195l6 6m0 -6l-6 6M1263 1127l6 6m0 -6l-6 6M1263 1206l6 6m0 -6l-6 6M1262 1212l6 6m0 -6l-6 6M1262 1167l6 6m0 -6l-6 6M1263 1123l6 6m0 -6l-6 6M1264 1114l6 6m0 -6l-6 6M1264 1225l6 6m0 -6l-6 6M1264 1118l6 6m0 -6l-6 6M1264 1243l6 6m0 -6l-6 6M1264 1161l6 6m0 -6l-6 6M1263 1174l6 6m0 -6l-6 6M1265 1186l6 6m0 -6l-6 6M1265 1203l6 6m0 -6l-6 6M1265 1161l6 6m0 -6l-6 6M1265 1152l6 6m0 -6l-6 6M1264 1190l6 6m0 -6l-6 6M1265 1123l6 6m0 -6l-6 6M1265 1178l6 6m0 -6l-6 6M1265 1116l6 6m0 -6l-6 6M1266 1191l6 6m0 -6l-6 6M1265 1185l6 6m0 -6l-6 6M1266 1204l6 6m0 -6l-6 6M1265 1126l6 6m0 -6l-6 6M1266 1218l6 6m0 -6l-6 6M1266 1215l6 6m0 -6l-6 6M1267 1219l6 6m0 -6l-6 6M1267 1169l6 6m0 -6l-6 6M1267 1157l6 6m0 -6l-6 6M1267 1202l6 6m0 -6l-6 6M1266 1160l6 6m0 -6l-6 6M1267 1198l6 6m0 -6l-6 6M1267 1180l6 6m0 -6l-6 6M1268 1203l6 6m0 -6l-6 6M1268 1203l6 6m0 -6l-6 6M1268 1116l6 6m0 -6l-6 6M1268 1166l6 6m0 -6l-6 6M1268 1161l6 6m0 -6l-6 6M1268 1155l6 6m0 -6l-6 6M1268 1225l6 6m0 -6l-6 6M1269 1170l6 6m0 -6l-6 6M1269 1243l6 6m0 -6l-6 6M1269 1192l6 6m0 -6l-6 6M1269 1182l6 6m0 -6l-6 6M1269 1180l6 6m0 -6l-6 6M1269 1190l6 6m0 -6l-6 6M1269 1231l6 6m0 -6l-6 6M1270 1186l6 6m0 -6l-6 6M1270 1160l6 6m0 -6l-6 6M1270 1120l6 6m0 -6l-6 6M1270 1175l6 6m0 -6l-6 6M1269 1141l6 6m0 -6l-6 6M1269 1222l6 6m0 -6l-6 6M1270 1211l6 6m0 -6l-6 6M1271 1173l6 6m0 -6l-6 6M1271 1169l6 6m0 -6l-6 6M1271 1201l6 6m0 -6l-6 6M1271 1162l6 6m0 -6l-6 6M1271 1187l6 6m0 -6l-6 6M1271 1244l6 6m0 -6l-6 6M1271 1185l6 6m0 -6l-6 6M1272 1197l6 6m0 -6l-6 6M1272 1175l6 6m0 -6l-6 6M1272 1151l6 6m0 -6l-6 6M1272 1138l6 6m0 -6l-6 6M1271 1153l6 6m0 -6l-6 6M1272 1108l6 6m0 -6l-6 6M1271 1219l6 6m0 -6l-6 6M1272 1191l6 6m0 -6l-6 6M1273 1175l6 6m0 -6l-6 6M1273 1218l6 6m0 -6l-6 6M1273 1180l6 6m0 -6l-6 6M1273 1162l6 6m0 -6l-6 6M1273 1135l6 6m0 -6l-6 6M1273 1203l6 6m0 -6l-6 6M1274 1140l6 6m0 -6l-6 6M1274 1181l6 6m0 -6l-6 6M1274 1192l6 6m0 -6l-6 6M1274 1214l6 6m0 -6l-6 6M1274 1193l6 6m0 -6l-6 6M1274 1136l6 6m0 -6l-6 6M1274 1167l6 6m0 -6l-6 6M1275 1175l6 6m0 -6l-6 6M1275 1202l6 6m0 -6l-6 6M1275 1154l6 6m0 -6l-6 6M1275 1185l6 6m0 -6l-6 6M1275 1164l6 6m0 -6l-6 6M1274 1223l6 6m0 -6l-6 6M1275 1151l6 6m0 -6l-6 6M1276 1182l6 6m0 -6l-6 6M1275 1138l6 6m0 -6l-6 6M1276 1221l6 6m0 -6l-6 6M1276 1186l6 6m0 -6l-6 6M1276 1201l6 6m0 -6l-6 6M1276 1164l6 6m0 -6l-6 6M1276 1190l6 6m0 -6l-6 6M1277 1195l6 6m0 -6l-6 6M1277 1222l6 6m0 -6l-6 6M1277 1165l6 6m0 -6l-6 6M1277 1206l6 6m0 -6l-6 6M1277 1203l6 6m0 -6l-6 6M1277 1236l6 6m0 -6l-6 6M1277 1208l6 6m0 -6l-6 6M1278 1175l6 6m0 -6l-6 6M1278 1176l6 6m0 -6l-6 6M1277 1196l6 6m0 -6l-6 6M1277 1133l6 6m0 -6l-6 6M1277 1143l6 6m0 -6l-6 6M1278 1266l6 6m0 -6l-6 6M1278 1212l6 6m0 -6l-6 6M1278 1174l6 6m0 -6l-6 6M1278 1174l6 6m0 -6l-6 6M1279 1123l6 6m0 -6l-6 6M1278 1125l6 6m0 -6l-6 6M1279 1139l6 6m0 -6l-6 6M1279 1173l6 6m0 -6l-6 6M1279 1180l6 6m0 -6l-6 6M1279 1201l6 6m0 -6l-6 6M1280 1135l6 6m0 -6l-6 6M1280 1178l6 6m0 -6l-6 6M1279 1159l6 6m0 -6l-6 6M1280 1186l6 6m0 -6l-6 6M1280 1162l6 6m0 -6l-6 6M1280 1179l6 6m0 -6l-6 6M1281 1156l6 6m0 -6l-6 6M1280 1217l6 6m0 -6l-6 6M1281 1166l6 6m0 -6l-6 6M1280 1221l6 6m0 -6l-6 6M1281 1191l6 6m0 -6l-6 6M1280 1170l6 6m0 -6l-6 6M1281 1121l6 6m0 -6l-6 6M1281 1158l6 6m0 -6l-6 6M1282 1190l6 6m0 -6l-6 6M1282 1122l6 6m0 -6l-6 6M1282 1152l6 6m0 -6l-6 6M1282 1188l6 6m0 -6l-6 6M1282 1170l6 6m0 -6l-6 6M1282 1158l6 6m0 -6l-6 6M1283 1162l6 6m0 -6l-6 6M1283 1214l6 6m0 -6l-6 6M1283 1172l6 6m0 -6l-6 6M1283 1159l6 6m0 -6l-6 6M1283 1125l6 6m0 -6l-6 6M1283 1198l6 6m0 -6l-6 6M1283 1134l6 6m0 -6l-6 6M1284 1133l6 6m0 -6l-6 6M1284 1175l6 6m0 -6l-6 6M1283 1175l6 6m0 -6l-6 6M1284 1212l6 6m0 -6l-6 6M1284 1187l6 6m0 -6l-6 6M1283 1152l6 6m0 -6l-6 6M1284 1243l6 6m0 -6l-6 6M1285 1155l6 6m0 -6l-6 6M1285 1141l6 6m0 -6l-6 6M1285 1246l6 6m0 -6l-6 6M1285 1174l6 6m0 -6l-6 6M1284 1150l6 6m0 -6l-6 6M1284 1166l6 6m0 -6l-6 6M1285 1159l6 6m0 -6l-6 6M1286 1237l6 6m0 -6l-6 6M1286 1107l6 6m0 -6l-6 6M1286 1168l6 6m0 -6l-6 6M1286 1178l6 6m0 -6l-6 6M1286 1165l6 6m0 -6l-6 6M1286 1221l6 6m0 -6l-6 6M1286 1221l6 6m0 -6l-6 6M1287 1204l6 6m0 -6l-6 6M1287 1179l6 6m0 -6l-6 6M1287 1234l6 6m0 -6l-6 6M1287 1173l6 6m0 -6l-6 6M1287 1186l6 6m0 -6l-6 6M1287 1080l6 6m0 -6l-6 6M1287 1170l6 6m0 -6l-6 6M1288 1193l6 6m0 -6l-6 6M1288 1205l6 6m0 -6l-6 6M1288 1164l6 6m0 -6l-6 6M1288 1159l6 6m0 -6l-6 6M1288 1225l6 6m0 -6l-6 6M1288 1151l6 6m0 -6l-6 6M1288 1139l6 6m0 -6l-6 6M1289 1186l6 6m0 -6l-6 6M1288 1138l6 6m0 -6l-6 6M1288 1224l6 6m0 -6l-6 6M1289 1173l6 6m0 -6l-6 6M1288 1207l6 6m0 -6l-6 6M1289 1125l6 6m0 -6l-6 6M1289 1154l6 6m0 -6l-6 6M1290 1208l6 6m0 -6l-6 6M1290 1188l6 6m0 -6l-6 6M1290 1111l6 6m0 -6l-6 6M1290 1165l6 6m0 -6l-6 6M1289 1223l6 6m0 -6l-6 6M1289 1193l6 6m0 -6l-6 6M1290 1227l6 6m0 -6l-6 6M1291 1111l6 6m0 -6l-6 6M1290 1174l6 6m0 -6l-6 6M1291 1071l6 6m0 -6l-6 6M1291 1109l6 6m0 -6l-6 6M1290 1104l6 6m0 -6l-6 6M1291 1202l6 6m0 -6l-6 6M1291 1123l6 6m0 -6l-6 6M1291 1206l6 6m0 -6l-6 6M1292 1176l6 6m0 -6l-6 6M1292 1181l6 6m0 -6l-6 6M1292 1219l6 6m0 -6l-6 6M1292 1192l6 6m0 -6l-6 6M1292 1129l6 6m0 -6l-6 6M1292 1205l6 6m0 -6l-6 6M1292 1174l6 6m0 -6l-6 6M1293 1185l6 6m0 -6l-6 6M1293 1155l6 6m0 -6l-6 6M1293 1162l6 6m0 -6l-6 6M1293 1212l6 6m0 -6l-6 6M1293 1154l6 6m0 -6l-6 6M1293 1181l6 6m0 -6l-6 6M1293 1183l6 6m0 -6l-6 6M1294 1195l6 6m0 -6l-6 6M1294 1157l6 6m0 -6l-6 6M1294 1167l6 6m0 -6l-6 6M1294 1118l6 6m0 -6l-6 6M1294 1167l6 6m0 -6l-6 6M1294 1155l6 6m0 -6l-6 6M1295 1223l6 6m0 -6l-6 6M1295 1211l6 6m0 -6l-6 6M1294 1155l6 6m0 -6l-6 6M1295 1183l6 6m0 -6l-6 6M1295 1162l6 6m0 -6l-6 6M1295 1226l6 6m0 -6l-6 6M1295 1230l6 6m0 -6l-6 6M1296 1145l6 6m0 -6l-6 6M1296 1245l6 6m0 -6l-6 6M1296 1088l6 6m0 -6l-6 6M1296 1242l6 6m0 -6l-6 6M1295 1159l6 6m0 -6l-6 6M1296 1190l6 6m0 -6l-6 6M1296 1165l6 6m0 -6l-6 6M1297 1219l6 6m0 -6l-6 6M1297 1155l6 6m0 -6l-6 6M1297 1175l6 6m0 -6l-6 6M1297 1190l6 6m0 -6l-6 6M1297 1134l6 6m0 -6l-6 6M1297 1188l6 6m0 -6l-6 6M1297 1168l6 6m0 -6l-6 6M1298 1143l6 6m0 -6l-6 6M1298 1209l6 6m0 -6l-6 6M1298 1179l6 6m0 -6l-6 6M1298 1224l6 6m0 -6l-6 6M1298 1187l6 6m0 -6l-6 6M1298 1205l6 6m0 -6l-6 6M1298 1158l6 6m0 -6l-6 6M1299 1232l6 6m0 -6l-6 6M1299 1210l6 6m0 -6l-6 6M1299 1177l6 6m0 -6l-6 6M1299 1198l6 6m0 -6l-6 6M1299 1216l6 6m0 -6l-6 6M1299 1210l6 6m0 -6l-6 6M1299 1208l6 6m0 -6l-6 6M1299 1175l6 6m0 -6l-6 6M1300 1160l6 6m0 -6l-6 6M1300 1222l6 6m0 -6l-6 6M1300 1125l6 6m0 -6l-6 6M1300 1200l6 6m0 -6l-6 6M1300 1166l6 6m0 -6l-6 6M1300 1154l6 6m0 -6l-6 6M1301 1220l6 6m0 -6l-6 6M1301 1181l6 6m0 -6l-6 6M1301 1236l6 6m0 -6l-6 6M1301 1160l6 6m0 -6l-6 6M1301 1230l6 6m0 -6l-6 6M1301 1117l6 6m0 -6l-6 6M1300 1218l6 6m0 -6l-6 6M1302 1210l6 6m0 -6l-6 6M1302 1174l6 6m0 -6l-6 6M1301 1194l6 6m0 -6l-6 6M1302 1144l6 6m0 -6l-6 6M1302 1126l6 6m0 -6l-6 6M1302 1160l6 6m0 -6l-6 6M1302 1240l6 6m0 -6l-6 6M1303 1136l6 6m0 -6l-6 6M1303 1174l6 6m0 -6l-6 6M1303 1194l6 6m0 -6l-6 6M1303 1243l6 6m0 -6l-6 6M1303 1117l6 6m0 -6l-6 6M1303 1214l6 6m0 -6l-6 6M1303 1164l6 6m0 -6l-6 6M1304 1221l6 6m0 -6l-6 6M1304 1104l6 6m0 -6l-6 6M1304 1197l6 6m0 -6l-6 6M1304 1159l6 6m0 -6l-6 6M1304 1203l6 6m0 -6l-6 6M1304 1216l6 6m0 -6l-6 6M1304 1149l6 6m0 -6l-6 6M1305 1208l6 6m0 -6l-6 6M1305 1168l6 6m0 -6l-6 6M1305 1232l6 6m0 -6l-6 6M1305 1155l6 6m0 -6l-6 6M1305 1183l6 6m0 -6l-6 6M1305 1207l6 6m0 -6l-6 6M1305 1168l6 6m0 -6l-6 6M1306 1143l6 6m0 -6l-6 6M1306 1096l6 6m0 -6l-6 6M1306 1172l6 6m0 -6l-6 6M1306 1167l6 6m0 -6l-6 6M1306 1170l6 6m0 -6l-6 6M1305 1160l6 6m0 -6l-6 6M1305 1170l6 6m0 -6l-6 6M1307 1184l6 6m0 -6l-6 6M1307 1185l6 6m0 -6l-6 6M1307 1159l6 6m0 -6l-6 6M1307 1183l6 6m0 -6l-6 6M1307 1206l6 6m0 -6l-6 6M1306 1196l6 6m0 -6l-6 6M1307 1182l6 6m0 -6l-6 6M1308 1198l6 6m0 -6l-6 6M1308 1198l6 6m0 -6l-6 6M1308 1189l6 6m0 -6l-6 6M1308 1171l6 6m0 -6l-6 6M1307 1186l6 6m0 -6l-6 6M1308 1174l6 6m0 -6l-6 6M1308 1232l6 6m0 -6l-6 6M1309 1231l6 6m0 -6l-6 6M1309 1195l6 6m0 -6l-6 6M1309 1190l6 6m0 -6l-6 6M1309 1170l6 6m0 -6l-6 6M1309 1179l6 6m0 -6l-6 6M1309 1165l6 6m0 -6l-6 6M1309 1159l6 6m0 -6l-6 6M1310 1108l6 6m0 -6l-6 6M1310 1182l6 6m0 -6l-6 6M1310 1190l6 6m0 -6l-6 6M1309 1139l6 6m0 -6l-6 6M1309 1216l6 6m0 -6l-6 6M1309 1158l6 6m0 -6l-6 6M1310 1264l6 6m0 -6l-6 6M1311 1204l6 6m0 -6l-6 6M1311 1137l6 6m0 -6l-6 6M1311 1173l6 6m0 -6l-6 6M1311 1181l6 6m0 -6l-6 6M1310 1181l6 6m0 -6l-6 6M1311 1224l6 6m0 -6l-6 6M1311 1157l6 6m0 -6l-6 6M1312 1133l6 6m0 -6l-6 6M1312 1156l6 6m0 -6l-6 6M1311 1100l6 6m0 -6l-6 6M1312 1181l6 6m0 -6l-6 6M1312 1169l6 6m0 -6l-6 6M1312 1210l6 6m0 -6l-6 6M1312 1167l6 6m0 -6l-6 6M1313 1146l6 6m0 -6l-6 6M1313 1234l6 6m0 -6l-6 6M1313 1166l6 6m0 -6l-6 6M1313 1191l6 6m0 -6l-6 6M1313 1221l6 6m0 -6l-6 6M1313 1139l6 6m0 -6l-6 6M1312 1161l6 6m0 -6l-6 6M1314 1185l6 6m0 -6l-6 6M1313 1126l6 6m0 -6l-6 6M1314 1214l6 6m0 -6l-6 6M1314 1105l6 6m0 -6l-6 6M1314 1123l6 6m0 -6l-6 6M1314 1187l6 6m0 -6l-6 6M1314 1175l6 6m0 -6l-6 6M1315 1187l6 6m0 -6l-6 6M1315 1130l6 6m0 -6l-6 6M1314 1188l6 6m0 -6l-6 6M1315 1098l6 6m0 -6l-6 6M1315 1176l6 6m0 -6l-6 6M1315 1157l6 6m0 -6l-6 6M1315 1123l6 6m0 -6l-6 6M1316 1154l6 6m0 -6l-6 6M1315 1160l6 6m0 -6l-6 6M1316 1101l6 6m0 -6l-6 6M1316 1166l6 6m0 -6l-6 6M1316 1192l6 6m0 -6l-6 6M1316 1202l6 6m0 -6l-6 6M1316 1135l6 6m0 -6l-6 6M1316 1188l6 6m0 -6l-6 6M1317 1104l6 6m0 -6l-6 6M1317 1202l6 6m0 -6l-6 6M1317 1161l6 6m0 -6l-6 6M1317 1178l6 6m0 -6l-6 6M1317 1171l6 6m0 -6l-6 6M1317 1148l6 6m0 -6l-6 6M1318 1220l6 6m0 -6l-6 6M1318 1225l6 6m0 -6l-6 6M1318 1128l6 6m0 -6l-6 6M1317 1188l6 6m0 -6l-6 6M1318 1149l6 6m0 -6l-6 6M1318 1212l6 6m0 -6l-6 6M1318 1141l6 6m0 -6l-6 6M1319 1141l6 6m0 -6l-6 6M1319 1204l6 6m0 -6l-6 6M1319 1235l6 6m0 -6l-6 6M1319 1139l6 6m0 -6l-6 6M1319 1190l6 6m0 -6l-6 6M1319 1174l6 6m0 -6l-6 6M1319 1148l6 6m0 -6l-6 6M1320 1237l6 6m0 -6l-6 6M1320 1176l6 6m0 -6l-6 6M1320 1188l6 6m0 -6l-6 6M1320 1203l6 6m0 -6l-6 6M1320 1102l6 6m0 -6l-6 6M1320 1209l6 6m0 -6l-6 6M1320 1136l6 6m0 -6l-6 6M1321 1202l6 6m0 -6l-6 6M1321 1122l6 6m0 -6l-6 6M1321 1180l6 6m0 -6l-6 6M1321 1146l6 6m0 -6l-6 6M1321 1141l6 6m0 -6l-6 6M1321 1146l6 6m0 -6l-6 6M1320 1170l6 6m0 -6l-6 6M1322 1154l6 6m0 -6l-6 6M1322 1155l6 6m0 -6l-6 6M1322 1177l6 6m0 -6l-6 6M1322 1128l6 6m0 -6l-6 6M1322 1254l6 6m0 -6l-6 6M1322 1145l6 6m0 -6l-6 6M1322 1177l6 6m0 -6l-6 6M1323 1203l6 6m0 -6l-6 6M1323 1150l6 6m0 -6l-6 6M1323 1191l6 6m0 -6l-6 6M1322 1170l6 6m0 -6l-6 6M1322 1204l6 6m0 -6l-6 6M1323 1143l6 6m0 -6l-6 6M1323 1155l6 6m0 -6l-6 6M1323 1182l6 6m0 -6l-6 6M1323 1177l6 6m0 -6l-6 6M1324 1171l6 6m0 -6l-6 6M1324 1212l6 6m0 -6l-6 6M1324 1146l6 6m0 -6l-6 6M1323 1206l6 6m0 -6l-6 6M1324 1171l6 6m0 -6l-6 6M1325 1098l6 6m0 -6l-6 6M1325 1227l6 6m0 -6l-6 6M1324 1169l6 6m0 -6l-6 6M1325 1178l6 6m0 -6l-6 6M1325 1200l6 6m0 -6l-6 6M1325 1120l6 6m0 -6l-6 6M1325 1157l6 6m0 -6l-6 6M1326 1201l6 6m0 -6l-6 6M1326 1192l6 6m0 -6l-6 6M1326 1183l6 6m0 -6l-6 6M1326 1195l6 6m0 -6l-6 6M1325 1196l6 6m0 -6l-6 6M1326 1123l6 6m0 -6l-6 6M1325 1157l6 6m0 -6l-6 6M1327 1163l6 6m0 -6l-6 6M1327 1227l6 6m0 -6l-6 6M1327 1192l6 6m0 -6l-6 6M1327 1158l6 6m0 -6l-6 6M1327 1170l6 6m0 -6l-6 6M1327 1141l6 6m0 -6l-6 6M1327 1218l6 6m0 -6l-6 6M1327 1252l6 6m0 -6l-6 6M1328 1234l6 6m0 -6l-6 6M1328 1217l6 6m0 -6l-6 6M1328 1155l6 6m0 -6l-6 6M1328 1170l6 6m0 -6l-6 6M1328 1188l6 6m0 -6l-6 6M1328 1198l6 6m0 -6l-6 6M1329 1189l6 6m0 -6l-6 6M1328 1213l6 6m0 -6l-6 6M1328 1175l6 6m0 -6l-6 6M1328 1175l6 6m0 -6l-6 6M1329 1136l6 6m0 -6l-6 6M1328 1193l6 6m0 -6l-6 6M1329 1153l6 6m0 -6l-6 6M1330 1153l6 6m0 -6l-6 6M1330 1171l6 6m0 -6l-6 6M1329 1175l6 6m0 -6l-6 6M1330 1200l6 6m0 -6l-6 6M1330 1219l6 6m0 -6l-6 6M1330 1184l6 6m0 -6l-6 6M1329 1178l6 6m0 -6l-6 6M1330 1224l6 6m0 -6l-6 6M1330 1210l6 6m0 -6l-6 6M1331 1130l6 6m0 -6l-6 6M1331 1158l6 6m0 -6l-6 6M1330 1214l6 6m0 -6l-6 6M1331 1182l6 6m0 -6l-6 6M1331 1219l6 6m0 -6l-6 6M1332 1214l6 6m0 -6l-6 6M1332 1230l6 6m0 -6l-6 6M1331 1203l6 6m0 -6l-6 6M1332 1140l6 6m0 -6l-6 6M1332 1164l6 6m0 -6l-6 6M1331 1136l6 6m0 -6l-6 6M1332 1125l6 6m0 -6l-6 6M1333 1191l6 6m0 -6l-6 6M1333 1160l6 6m0 -6l-6 6M1333 1115l6 6m0 -6l-6 6M1333 1148l6 6m0 -6l-6 6M1332 1224l6 6m0 -6l-6 6M1333 1153l6 6m0 -6l-6 6M1333 1169l6 6m0 -6l-6 6M1334 1169l6 6m0 -6l-6 6M1333 1128l6 6m0 -6l-6 6M1334 1169l6 6m0 -6l-6 6M1334 1125l6 6m0 -6l-6 6M1334 1209l6 6m0 -6l-6 6M1334 1176l6 6m0 -6l-6 6M1334 1177l6 6m0 -6l-6 6M1335 1092l6 6m0 -6l-6 6M1335 1154l6 6m0 -6l-6 6M1335 1157l6 6m0 -6l-6 6M1335 1147l6 6m0 -6l-6 6M1335 1191l6 6m0 -6l-6 6M1335 1159l6 6m0 -6l-6 6M1335 1097l6 6m0 -6l-6 6M1336 1142l6 6m0 -6l-6 6M1336 1182l6 6m0 -6l-6 6M1336 1195l6 6m0 -6l-6 6M1336 1164l6 6m0 -6l-6 6M1335 1150l6 6m0 -6l-6 6M1336 1136l6 6m0 -6l-6 6M1336 1269l6 6m0 -6l-6 6M1337 1210l6 6m0 -6l-6 6M1337 1188l6 6m0 -6l-6 6M1337 1190l6 6m0 -6l-6 6M1337 1102l6 6m0 -6l-6 6M1337 1186l6 6m0 -6l-6 6M1336 1113l6 6m0 -6l-6 6M1337 1234l6 6m0 -6l-6 6M1338 1161l6 6m0 -6l-6 6M1338 1183l6 6m0 -6l-6 6M1338 1181l6 6m0 -6l-6 6M1338 1121l6 6m0 -6l-6 6M1337 1181l6 6m0 -6l-6 6M1338 1236l6 6m0 -6l-6 6M1338 1165l6 6m0 -6l-6 6M1339 1209l6 6m0 -6l-6 6M1339 1186l6 6m0 -6l-6 6M1339 1193l6 6m0 -6l-6 6M1338 1270l6 6m0 -6l-6 6M1339 1138l6 6m0 -6l-6 6M1339 1168l6 6m0 -6l-6 6M1339 1187l6 6m0 -6l-6 6M1340 1261l6 6m0 -6l-6 6M1340 1142l6 6m0 -6l-6 6M1340 1163l6 6m0 -6l-6 6M1340 1143l6 6m0 -6l-6 6M1340 1168l6 6m0 -6l-6 6M1340 1211l6 6m0 -6l-6 6M1340 1181l6 6m0 -6l-6 6M1341 1137l6 6m0 -6l-6 6M1341 1160l6 6m0 -6l-6 6M1341 1132l6 6m0 -6l-6 6M1341 1211l6 6m0 -6l-6 6M1341 1210l6 6m0 -6l-6 6M1341 1219l6 6m0 -6l-6 6M1340 1099l6 6m0 -6l-6 6M1341 1150l6 6m0 -6l-6 6M1342 1198l6 6m0 -6l-6 6M1341 1169l6 6m0 -6l-6 6M1342 1135l6 6m0 -6l-6 6M1342 1255l6 6m0 -6l-6 6M1342 1154l6 6m0 -6l-6 6M1342 1116l6 6m0 -6l-6 6M1343 1153l6 6m0 -6l-6 6M1343 1190l6 6m0 -6l-6 6M1343 1229l6 6m0 -6l-6 6M1343 1228l6 6m0 -6l-6 6M1343 1157l6 6m0 -6l-6 6M1343 1147l6 6m0 -6l-6 6M1343 1130l6 6m0 -6l-6 6M1344 1173l6 6m0 -6l-6 6M1344 1233l6 6m0 -6l-6 6M1343 1155l6 6m0 -6l-6 6M1344 1100l6 6m0 -6l-6 6M1343 1217l6 6m0 -6l-6 6M1343 1175l6 6m0 -6l-6 6M1344 1246l6 6m0 -6l-6 6M1345 1194l6 6m0 -6l-6 6M1345 1159l6 6m0 -6l-6 6M1345 1127l6 6m0 -6l-6 6M1344 1191l6 6m0 -6l-6 6M1345 1156l6 6m0 -6l-6 6M1345 1166l6 6m0 -6l-6 6M1345 1183l6 6m0 -6l-6 6M1346 1160l6 6m0 -6l-6 6M1346 1216l6 6m0 -6l-6 6M1346 1166l6 6m0 -6l-6 6M1346 1189l6 6m0 -6l-6 6M1346 1193l6 6m0 -6l-6 6M1346 1134l6 6m0 -6l-6 6M1346 1212l6 6m0 -6l-6 6M1347 1227l6 6m0 -6l-6 6M1346 1210l6 6m0 -6l-6 6M1346 1145l6 6m0 -6l-6 6M1347 1198l6 6m0 -6l-6 6M1347 1212l6 6m0 -6l-6 6M1347 1250l6 6m0 -6l-6 6M1347 1193l6 6m0 -6l-6 6M1348 1222l6 6m0 -6l-6 6M1348 1158l6 6m0 -6l-6 6M1347 1178l6 6m0 -6l-6 6M1348 1071l6 6m0 -6l-6 6M1348 1202l6 6m0 -6l-6 6M1348 1175l6 6m0 -6l-6 6M1347 1260l6 6m0 -6l-6 6M1349 1211l6 6m0 -6l-6 6M1349 1178l6 6m0 -6l-6 6M1349 1214l6 6m0 -6l-6 6M1349 1157l6 6m0 -6l-6 6M1349 1178l6 6m0 -6l-6 6M1349 1142l6 6m0 -6l-6 6M1349 1151l6 6m0 -6l-6 6M1350 1136l6 6m0 -6l-6 6M1350 1188l6 6m0 -6l-6 6M1350 1143l6 6m0 -6l-6 6M1350 1267l6 6m0 -6l-6 6M1350 1167l6 6m0 -6l-6 6M1350 1172l6 6m0 -6l-6 6M1349 1214l6 6m0 -6l-6 6M1350 1144l6 6m0 -6l-6 6M1350 1142l6 6m0 -6l-6 6M1351 1122l6 6m0 -6l-6 6M1351 1145l6 6m0 -6l-6 6M1351 1198l6 6m0 -6l-6 6M1351 1189l6 6m0 -6l-6 6M1350 1180l6 6m0 -6l-6 6M1352 1143l6 6m0 -6l-6 6M1352 1184l6 6m0 -6l-6 6M1352 1147l6 6m0 -6l-6 6M1351 1115l6 6m0 -6l-6 6M1351 1177l6 6m0 -6l-6 6M1351 1205l6 6m0 -6l-6 6M1352 1175l6 6m0 -6l-6 6M1353 1205l6 6m0 -6l-6 6M1353 1207l6 6m0 -6l-6 6M1352 1180l6 6m0 -6l-6 6M1352 1190l6 6m0 -6l-6 6M1353 1159l6 6m0 -6l-6 6M1353 1173l6 6m0 -6l-6 6M1353 1208l6 6m0 -6l-6 6M1354 1127l6 6m0 -6l-6 6M1354 1143l6 6m0 -6l-6 6M1354 1202l6 6m0 -6l-6 6M1354 1245l6 6m0 -6l-6 6M1354 1143l6 6m0 -6l-6 6M1354 1104l6 6m0 -6l-6 6M1354 1156l6 6m0 -6l-6 6M1355 1209l6 6m0 -6l-6 6M1355 1175l6 6m0 -6l-6 6M1355 1194l6 6m0 -6l-6 6M1355 1229l6 6m0 -6l-6 6M1354 1162l6 6m0 -6l-6 6M1355 1142l6 6m0 -6l-6 6M1355 1130l6 6m0 -6l-6 6M1356 1173l6 6m0 -6l-6 6M1356 1137l6 6m0 -6l-6 6M1356 1140l6 6m0 -6l-6 6M1356 1142l6 6m0 -6l-6 6M1356 1195l6 6m0 -6l-6 6M1356 1216l6 6m0 -6l-6 6M1355 1158l6 6m0 -6l-6 6M1357 1195l6 6m0 -6l-6 6M1357 1185l6 6m0 -6l-6 6M1357 1239l6 6m0 -6l-6 6M1357 1154l6 6m0 -6l-6 6M1357 1153l6 6m0 -6l-6 6M1357 1178l6 6m0 -6l-6 6M1357 1228l6 6m0 -6l-6 6M1357 1171l6 6m0 -6l-6 6M1358 1143l6 6m0 -6l-6 6M1358 1137l6 6m0 -6l-6 6M1358 1213l6 6m0 -6l-6 6M1358 1109l6 6m0 -6l-6 6M1358 1167l6 6m0 -6l-6 6M1358 1190l6 6m0 -6l-6 6M1358 1185l6 6m0 -6l-6 6M1359 1182l6 6m0 -6l-6 6M1359 1115l6 6m0 -6l-6 6M1359 1166l6 6m0 -6l-6 6M1358 1156l6 6m0 -6l-6 6M1359 1193l6 6m0 -6l-6 6M1359 1153l6 6m0 -6l-6 6M1360 1161l6 6m0 -6l-6 6M1360 1227l6 6m0 -6l-6 6M1359 1171l6 6m0 -6l-6 6M1360 1173l6 6m0 -6l-6 6M1360 1194l6 6m0 -6l-6 6M1360 1177l6 6m0 -6l-6 6M1359 1152l6 6m0 -6l-6 6M1361 1168l6 6m0 -6l-6 6M1361 1162l6 6m0 -6l-6 6M1361 1150l6 6m0 -6l-6 6M1361 1139l6 6m0 -6l-6 6M1361 1161l6 6m0 -6l-6 6M1361 1155l6 6m0 -6l-6 6M1361 1212l6 6m0 -6l-6 6M1362 1197l6 6m0 -6l-6 6M1362 1161l6 6m0 -6l-6 6M1362 1203l6 6m0 -6l-6 6M1362 1192l6 6m0 -6l-6 6M1362 1183l6 6m0 -6l-6 6M1362 1203l6 6m0 -6l-6 6M1362 1179l6 6m0 -6l-6 6M1363 1169l6 6m0 -6l-6 6M1363 1158l6 6m0 -6l-6 6M1363 1195l6 6m0 -6l-6 6M1363 1191l6 6m0 -6l-6 6M1363 1235l6 6m0 -6l-6 6M1363 1145l6 6m0 -6l-6 6M1363 1205l6 6m0 -6l-6 6M1364 1166l6 6m0 -6l-6 6M1364 1152l6 6m0 -6l-6 6M1364 1173l6 6m0 -6l-6 6M1363 1178l6 6m0 -6l-6 6M1363 1220l6 6m0 -6l-6 6M1364 1147l6 6m0 -6l-6 6M1364 1170l6 6m0 -6l-6 6M1365 1197l6 6m0 -6l-6 6M1365 1171l6 6m0 -6l-6 6M1364 1197l6 6m0 -6l-6 6M1365 1133l6 6m0 -6l-6 6M1364 1158l6 6m0 -6l-6 6M1365 1170l6 6m0 -6l-6 6M1365 1204l6 6m0 -6l-6 6M1366 1197l6 6m0 -6l-6 6M1366 1155l6 6m0 -6l-6 6M1365 1196l6 6m0 -6l-6 6M1366 1159l6 6m0 -6l-6 6M1366 1168l6 6m0 -6l-6 6M1366 1154l6 6m0 -6l-6 6M1366 1207l6 6m0 -6l-6 6M1367 1200l6 6m0 -6l-6 6M1367 1164l6 6m0 -6l-6 6M1367 1125l6 6m0 -6l-6 6M1367 1224l6 6m0 -6l-6 6M1367 1155l6 6m0 -6l-6 6M1367 1166l6 6m0 -6l-6 6M1367 1194l6 6m0 -6l-6 6M1368 1134l6 6m0 -6l-6 6M1368 1202l6 6m0 -6l-6 6M1368 1181l6 6m0 -6l-6 6M1367 1201l6 6m0 -6l-6 6M1368 1143l6 6m0 -6l-6 6M1368 1194l6 6m0 -6l-6 6M1367 1182l6 6m0 -6l-6 6M1369 1113l6 6m0 -6l-6 6M1369 1176l6 6m0 -6l-6 6M1368 1168l6 6m0 -6l-6 6M1368 1181l6 6m0 -6l-6 6M1368 1169l6 6m0 -6l-6 6M1369 1181l6 6m0 -6l-6 6M1369 1176l6 6m0 -6l-6 6M1370 1240l6 6m0 -6l-6 6M1369 1200l6 6m0 -6l-6 6M1369 1114l6 6m0 -6l-6 6M1370 1148l6 6m0 -6l-6 6M1370 1125l6 6m0 -6l-6 6M1369 1175l6 6m0 -6l-6 6M1370 1135l6 6m0 -6l-6 6M1371 1143l6 6m0 -6l-6 6M1370 1186l6 6m0 -6l-6 6M1371 1203l6 6m0 -6l-6 6M1370 1148l6 6m0 -6l-6 6M1371 1111l6 6m0 -6l-6 6M1371 1180l6 6m0 -6l-6 6M1371 1228l6 6m0 -6l-6 6M1372 1209l6 6m0 -6l-6 6M1372 1181l6 6m0 -6l-6 6M1371 1120l6 6m0 -6l-6 6M1372 1164l6 6m0 -6l-6 6M1372 1185l6 6m0 -6l-6 6M1371 1121l6 6m0 -6l-6 6M1372 1177l6 6m0 -6l-6 6M1373 1182l6 6m0 -6l-6 6M1373 1252l6 6m0 -6l-6 6M1373 1168l6 6m0 -6l-6 6M1373 1168l6 6m0 -6l-6 6M1372 1138l6 6m0 -6l-6 6M1373 1230l6 6m0 -6l-6 6M1373 1154l6 6m0 -6l-6 6M1374 1169l6 6m0 -6l-6 6M1374 1188l6 6m0 -6l-6 6M1374 1149l6 6m0 -6l-6 6M1374 1108l6 6m0 -6l-6 6M1373 1177l6 6m0 -6l-6 6M1374 1143l6 6m0 -6l-6 6M1374 1233l6 6m0 -6l-6 6M1374 1106l6 6m0 -6l-6 6M1375 1168l6 6m0 -6l-6 6M1375 1167l6 6m0 -6l-6 6M1375 1117l6 6m0 -6l-6 6M1375 1173l6 6m0 -6l-6 6M1375 1156l6 6m0 -6l-6 6M1375 1098l6 6m0 -6l-6 6M1376 1164l6 6m0 -6l-6 6M1376 1136l6 6m0 -6l-6 6M1376 1112l6 6m0 -6l-6 6M1375 1162l6 6m0 -6l-6 6M1376 1141l6 6m0 -6l-6 6M1376 1093l6 6m0 -6l-6 6M1376 1262l6 6m0 -6l-6 6M1377 1189l6 6m0 -6l-6 6M1377 1160l6 6m0 -6l-6 6M1377 1198l6 6m0 -6l-6 6M1377 1184l6 6m0 -6l-6 6M1377 1185l6 6m0 -6l-6 6M1377 1148l6 6m0 -6l-6 6M1377 1164l6 6m0 -6l-6 6M1378 1187l6 6m0 -6l-6 6M1378 1256l6 6m0 -6l-6 6M1378 1174l6 6m0 -6l-6 6M1378 1152l6 6m0 -6l-6 6M1378 1203l6 6m0 -6l-6 6M1378 1192l6 6m0 -6l-6 6M1378 1178l6 6m0 -6l-6 6M1379 1163l6 6m0 -6l-6 6M1379 1142l6 6m0 -6l-6 6M1379 1206l6 6m0 -6l-6 6M1379 1158l6 6m0 -6l-6 6M1379 1157l6 6m0 -6l-6 6M1379 1162l6 6m0 -6l-6 6M1379 1118l6 6m0 -6l-6 6M1380 1122l6 6m0 -6l-6 6M1380 1204l6 6m0 -6l-6 6M1380 1135l6 6m0 -6l-6 6M1380 1155l6 6m0 -6l-6 6M1380 1204l6 6m0 -6l-6 6M1380 1185l6 6m0 -6l-6 6M1380 1223l6 6m0 -6l-6 6M1381 1189l6 6m0 -6l-6 6M1381 1166l6 6m0 -6l-6 6M1381 1130l6 6m0 -6l-6 6M1381 1205l6 6m0 -6l-6 6M1380 1169l6 6m0 -6l-6 6M1380 1212l6 6m0 -6l-6 6M1381 1184l6 6m0 -6l-6 6M1382 1207l6 6m0 -6l-6 6M1382 1219l6 6m0 -6l-6 6M1382 1244l6 6m0 -6l-6 6M1382 1113l6 6m0 -6l-6 6M1382 1188l6 6m0 -6l-6 6M1382 1142l6 6m0 -6l-6 6M1382 1181l6 6m0 -6l-6 6M1383 1174l6 6m0 -6l-6 6M1383 1174l6 6m0 -6l-6 6M1383 1153l6 6m0 -6l-6 6M1383 1101l6 6m0 -6l-6 6M1382 1154l6 6m0 -6l-6 6M1383 1173l6 6m0 -6l-6 6M1383 1243l6 6m0 -6l-6 6M1384 1206l6 6m0 -6l-6 6M1384 1172l6 6m0 -6l-6 6M1384 1167l6 6m0 -6l-6 6M1383 1201l6 6m0 -6l-6 6M1384 1151l6 6m0 -6l-6 6M1384 1252l6 6m0 -6l-6 6M1383 1152l6 6m0 -6l-6 6M175 1237l6 6m0 -6l-6 6M175 1145l6 6m0 -6l-6 6M175 1193l6 6m0 -6l-6 6M175 1202l6 6m0 -6l-6 6M175 1180l6 6m0 -6l-6 6M175 1177l6 6m0 -6l-6 6M175 1322l6 6m0 -6l-6 6M175 1163l6 6m0 -6l-6 6M175 1172l6 6m0 -6l-6 6M175 1245l6 6m0 -6l-6 6M188 1261l6 6m0 -6l-6 6M188 1163l6 6m0 -6l-6 6M188 1222l6 6m0 -6l-6 6M188 1097l6 6m0 -6l-6 6M188 1167l6 6m0 -6l-6 6M188 1153l6 6m0 -6l-6 6M188 1155l6 6m0 -6l-6 6M188 1288l6 6m0 -6l-6 6M188 1258l6 6m0 -6l-6 6M188 1183l6 6m0 -6l-6 6M188 1235l6 6m0 -6l-6 6M220 1137l6 6m0 -6l-6 6M220 1237l6 6m0 -6l-6 6M220 1096l6 6m0 -6l-6 6M220 1091l6 6m0 -6l-6 6M220 1226l6 6m0 -6l-6 6M220 1024l6 6m0 -6l-6 6M220 1246l6 6m0 -6l-6 6M235 1183l6 6m0 -6l-6 6M235 1113l6 6m0 -6l-6 6M235 1160l6 6m0 -6l-6 6M235 1096l6 6m0 -6l-6 6M235 1195l6 6m0 -6l-6 6M235 1239l6 6m0 -6l-6 6M235 1169l6 6m0 -6l-6 6M235 1202l6 6m0 -6l-6 6M235 1161l6 6m0 -6l-6 6M235 1219l6 6m0 -6l-6 6M235 1100l6 6m0 -6l-6 6M235 1197l6 6m0 -6l-6 6M235 1233l6 6m0 -6l-6 6M235 1218l6 6m0 -6l-6 6M235 1161l6 6m0 -6l-6 6M235 1181l6 6m0 -6l-6 6M254 1165l6 6m0 -6l-6 6M254 1185l6 6m0 -6l-6 6M254 1075l6 6m0 -6l-6 6M254 1106l6 6m0 -6l-6 6M254 1213l6 6m0 -6l-6 6M254 1170l6 6m0 -6l-6 6M254 1219l6 6m0 -6l-6 6M254 1258l6 6m0 -6l-6 6M254 1212l6 6m0 -6l-6 6M254 1091l6 6m0 -6l-6 6M254 1163l6 6m0 -6l-6 6M254 1232l6 6m0 -6l-6 6M254 1194l6 6m0 -6l-6 6M254 1075l6 6m0 -6l-6 6M254 1236l6 6m0 -6l-6 6M254 1111l6 6m0 -6l-6 6M254 1130l6 6m0 -6l-6 6M254 1090l6 6m0 -6l-6 6M275 1137l6 6m0 -6l-6 6M275 1213l6 6m0 -6l-6 6M275 1180l6 6m0 -6l-6 6M275 1160l6 6m0 -6l-6 6M275 1112l6 6m0 -6l-6 6M275 1203l6 6m0 -6l-6 6M275 1187l6 6m0 -6l-6 6M275 1176l6 6m0 -6l-6 6M275 1243l6 6m0 -6l-6 6M275 1252l6 6m0 -6l-6 6M275 1189l6 6m0 -6l-6 6M275 1145l6 6m0 -6l-6 6M275 1111l6 6m0 -6l-6 6M275 1157l6 6m0 -6l-6 6M275 1182l6 6m0 -6l-6 6M275 1207l6 6m0 -6l-6 6M275 1193l6 6m0 -6l-6 6M275 1248l6 6m0 -6l-6 6M303 1189l6 6m0 -6l-6 6M303 1165l6 6m0 -6l-6 6M303 1301l6 6m0 -6l-6 6M303 1215l6 6m0 -6l-6 6M303 1253l6 6m0 -6l-6 6M303 1149l6 6m0 -6l-6 6M303 1200l6 6m0 -6l-6 6M303 1242l6 6m0 -6l-6 6M303 1247l6 6m0 -6l-6 6M303 1148l6 6m0 -6l-6 6M303 1294l6 6m0 -6l-6 6M303 1164l6 6m0 -6l-6 6M303 1111l6 6m0 -6l-6 6M321 1162l6 6m0 -6l-6 6M321 1153l6 6m0 -6l-6 6M321 1218l6 6m0 -6l-6 6M321 1022l6 6m0 -6l-6 6M321 1165l6 6m0 -6l-6 6M321 1208l6 6m0 -6l-6 6M321 1262l6 6m0 -6l-6 6M321 1226l6 6m0 -6l-6 6M321 1116l6 6m0 -6l-6 6M321 1251l6 6m0 -6l-6 6M321 1183l6 6m0 -6l-6 6M321 1142l6 6m0 -6l-6 6M321 1150l6 6m0 -6l-6 6M321 1171l6 6m0 -6l-6 6M321 1230l6 6m0 -6l-6 6M321 1138l6 6m0 -6l-6 6M321 1254l6 6m0 -6l-6 6M321 1148l6 6m0 -6l-6 6M332 1249l6 6m0 -6l-6 6M332 1203l6 6m0 -6l-6 6M332 1193l6 6m0 -6l-6 6M332 1175l6 6m0 -6l-6 6M332 1123l6 6m0 -6l-6 6M332 1216l6 6m0 -6l-6 6M332 1164l6 6m0 -6l-6 6M367 1179l6 6m0 -6l-6 6M367 1172l6 6m0 -6l-6 6M367 1017l6 6m0 -6l-6 6M367 1168l6 6m0 -6l-6 6M367 1201l6 6m0 -6l-6 6M367 1112l6 6m0 -6l-6 6M367 1347l6 6m0 -6l-6 6M367 1241l6 6m0 -6l-6 6M367 1183l6 6m0 -6l-6 6M367 1196l6 6m0 -6l-6 6M367 1139l6 6m0 -6l-6 6M367 1179l6 6m0 -6l-6 6M367 1254l6 6m0 -6l-6 6M367 1202l6 6m0 -6l-6 6M402 1245l6 6m0 -6l-6 6M402 1148l6 6m0 -6l-6 6M402 1269l6 6m0 -6l-6 6M402 1160l6 6m0 -6l-6 6M402 1103l6 6m0 -6l-6 6M402 1231l6 6m0 -6l-6 6M402 1125l6 6m0 -6l-6 6M402 1249l6 6m0 -6l-6 6M411 1130l6 6m0 -6l-6 6M411 1263l6 6m0 -6l-6 6M411 1171l6 6m0 -6l-6 6M411 1078l6 6m0 -6l-6 6M411 1121l6 6m0 -6l-6 6M411 1253l6 6m0 -6l-6 6M411 1200l6 6m0 -6l-6 6M411 1140l6 6m0 -6l-6 6M411 1162l6 6m0 -6l-6 6M411 1219l6 6m0 -6l-6 6M411 1198l6 6m0 -6l-6 6M417 1123l6 6m0 -6l-6 6M417 1174l6 6m0 -6l-6 6M417 1034l6 6m0 -6l-6 6M417 1123l6 6m0 -6l-6 6M417 1131l6 6m0 -6l-6 6M417 1262l6 6m0 -6l-6 6M417 1185l6 6m0 -6l-6 6M417 1194l6 6m0 -6l-6 6M417 1118l6 6m0 -6l-6 6M417 1103l6 6m0 -6l-6 6M417 1211l6 6m0 -6l-6 6M417 1196l6 6m0 -6l-6 6M417 1209l6 6m0 -6l-6 6M417 1158l6 6m0 -6l-6 6M432 1176l6 6m0 -6l-6 6M432 1098l6 6m0 -6l-6 6M432 1244l6 6m0 -6l-6 6M432 1238l6 6m0 -6l-6 6M432 1215l6 6m0 -6l-6 6M432 1061l6 6m0 -6l-6 6M432 1227l6 6m0 -6l-6 6M432 1180l6 6m0 -6l-6 6M440 1218l6 6m0 -6l-6 6M440 1106l6 6m0 -6l-6 6M440 1235l6 6m0 -6l-6 6M440 1149l6 6m0 -6l-6 6M440 1015l6 6m0 -6l-6 6M440 1195l6 6m0 -6l-6 6M440 1215l6 6m0 -6l-6 6M474 1230l6 6m0 -6l-6 6M474 1144l6 6m0 -6l-6 6M474 1181l6 6m0 -6l-6 6M474 1094l6 6m0 -6l-6 6M474 1137l6 6m0 -6l-6 6M474 1130l6 6m0 -6l-6 6M474 1253l6 6m0 -6l-6 6M474 1165l6 6m0 -6l-6 6M474 1136l6 6m0 -6l-6 6M474 1217l6 6m0 -6l-6 6M474 1139l6 6m0 -6l-6 6M474 1131l6 6m0 -6l-6 6M474 1160l6 6m0 -6l-6 6M474 1144l6 6m0 -6l-6 6M488 1236l6 6m0 -6l-6 6M488 1161l6 6m0 -6l-6 6M488 1133l6 6m0 -6l-6 6M488 1058l6 6m0 -6l-6 6M488 1170l6 6m0 -6l-6 6M488 1311l6 6m0 -6l-6 6M488 1155l6 6m0 -6l-6 6M488 1151l6 6m0 -6l-6 6M488 1205l6 6m0 -6l-6 6M488 1252l6 6m0 -6l-6 6M501 1097l6 6m0 -6l-6 6M501 1190l6 6m0 -6l-6 6M501 1241l6 6m0 -6l-6 6M501 1217l6 6m0 -6l-6 6M501 1149l6 6m0 -6l-6 6M501 1027l6 6m0 -6l-6 6M501 1179l6 6m0 -6l-6 6M501 1275l6 6m0 -6l-6 6M501 1146l6 6m0 -6l-6 6M501 1144l6 6m0 -6l-6 6M501 1163l6 6m0 -6l-6 6M501 1147l6 6m0 -6l-6 6M501 1213l6 6m0 -6l-6 6M527 1180l6 6m0 -6l-6 6M527 1220l6 6m0 -6l-6 6M527 1163l6 6m0 -6l-6 6M527 1116l6 6m0 -6l-6 6M527 1240l6 6m0 -6l-6 6M527 1302l6 6m0 -6l-6 6M527 1086l6 6m0 -6l-6 6M527 1097l6 6m0 -6l-6 6M527 1199l6 6m0 -6l-6 6M527 1217l6 6m0 -6l-6 6M527 1169l6 6m0 -6l-6 6M527 1185l6 6m0 -6l-6 6M527 1264l6 6m0 -6l-6 6M545 1188l6 6m0 -6l-6 6M545 1283l6 6m0 -6l-6 6M545 1132l6 6m0 -6l-6 6M545 1250l6 6m0 -6l-6 6M545 1187l6 6m0 -6l-6 6M545 1124l6 6m0 -6l-6 6M545 1173l6 6m0 -6l-6 6M545 1122l6 6m0 -6l-6 6M545 1179l6 6m0 -6l-6 6M545 1143l6 6m0 -6l-6 6M545 1262l6 6m0 -6l-6 6M545 1200l6 6m0 -6l-6 6M545 1187l6 6m0 -6l-6 6M545 1227l6 6m0 -6l-6 6M545 1189l6 6m0 -6l-6 6M545 1198l6 6m0 -6l-6 6M545 1232l6 6m0 -6l-6 6M564 1224l6 6m0 -6l-6 6M564 1217l6 6m0 -6l-6 6M564 1151l6 6m0 -6l-6 6M564 1217l6 6m0 -6l-6 6M564 1210l6 6m0 -6l-6 6M564 1151l6 6m0 -6l-6 6M564 1225l6 6m0 -6l-6 6M564 1216l6 6m0 -6l-6 6M564 1229l6 6m0 -6l-6 6M564 1215l6 6m0 -6l-6 6M564 1110l6 6m0 -6l-6 6M599 1213l6 6m0 -6l-6 6M599 1158l6 6m0 -6l-6 6M599 1157l6 6m0 -6l-6 6M599 1167l6 6m0 -6l-6 6M599 1231l6 6m0 -6l-6 6M599 1090l6 6m0 -6l-6 6M599 1157l6 6m0 -6l-6 6M599 1211l6 6m0 -6l-6 6M599 1165l6 6m0 -6l-6 6M599 1123l6 6m0 -6l-6 6M599 1185l6 6m0 -6l-6 6M599 1274l6 6m0 -6l-6 6M599 1263l6 6m0 -6l-6 6M611 1147l6 6m0 -6l-6 6M611 1139l6 6m0 -6l-6 6M611 1189l6 6m0 -6l-6 6M611 1120l6 6m0 -6l-6 6M611 1218l6 6m0 -6l-6 6M611 1098l6 6m0 -6l-6 6M611 1203l6 6m0 -6l-6 6M611 1230l6 6m0 -6l-6 6M628 1156l6 6m0 -6l-6 6M628 1169l6 6m0 -6l-6 6M628 1165l6 6m0 -6l-6 6M628 1198l6 6m0 -6l-6 6M628 1190l6 6m0 -6l-6 6M628 1214l6 6m0 -6l-6 6M628 1163l6 6m0 -6l-6 6M628 1128l6 6m0 -6l-6 6M628 1194l6 6m0 -6l-6 6M628 1302l6 6m0 -6l-6 6M628 1124l6 6m0 -6l-6 6M628 1157l6 6m0 -6l-6 6M628 1106l6 6m0 -6l-6 6M628 1128l6 6m0 -6l-6 6M628 1161l6 6m0 -6l-6 6M628 1128l6 6m0 -6l-6 6M628 1208l6 6m0 -6l-6 6M644 1140l6 6m0 -6l-6 6M644 1069l6 6m0 -6l-6 6M644 1204l6 6m0 -6l-6 6M644 1123l6 6m0 -6l-6 6M644 1161l6 6m0 -6l-6 6M644 1164l6 6m0 -6l-6 6M644 1061l6 6m0 -6l-6 6M644 1107l6 6m0 -6l-6 6M644 1105l6 6m0 -6l-6 6M644 1213l6 6m0 -6l-6 6M652 1151l6 6m0 -6l-6 6M652 1210l6 6m0 -6l-6 6M652 1161l6 6m0 -6l-6 6M652 1179l6 6m0 -6l-6 6M652 1197l6 6m0 -6l-6 6M652 1234l6 6m0 -6l-6 6M673 1132l6 6m0 -6l-6 6M673 1198l6 6m0 -6l-6 6M673 1214l6 6m0 -6l-6 6M673 1029l6 6m0 -6l-6 6M673 1277l6 6m0 -6l-6 6M673 1137l6 6m0 -6l-6 6M673 1269l6 6m0 -6l-6 6M673 1178l6 6m0 -6l-6 6M673 1233l6 6m0 -6l-6 6M673 1294l6 6m0 -6l-6 6M694 1139l6 6m0 -6l-6 6M694 1270l6 6m0 -6l-6 6M694 1219l6 6m0 -6l-6 6M694 1130l6 6m0 -6l-6 6M694 1238l6 6m0 -6l-6 6M694 1278l6 6m0 -6l-6 6M726 1133l6 6m0 -6l-6 6M726 1148l6 6m0 -6l-6 6M726 1202l6 6m0 -6l-6 6M726 1226l6 6m0 -6l-6 6M726 1182l6 6m0 -6l-6 6M726 1226l6 6m0 -6l-6 6M726 1129l6 6m0 -6l-6 6M726 1244l6 6m0 -6l-6 6M737 1248l6 6m0 -6l-6 6M737 1175l6 6m0 -6l-6 6M737 1138l6 6m0 -6l-6 6M737 1235l6 6m0 -6l-6 6M737 1285l6 6m0 -6l-6 6M737 1120l6 6m0 -6l-6 6M737 1206l6 6m0 -6l-6 6M737 1228l6 6m0 -6l-6 6M737 1116l6 6m0 -6l-6 6M737 1070l6 6m0 -6l-6 6M737 1222l6 6m0 -6l-6 6M737 1339l6 6m0 -6l-6 6M760 1130l6 6m0 -6l-6 6M760 1186l6 6m0 -6l-6 6M760 1155l6 6m0 -6l-6 6M760 1065l6 6m0 -6l-6 6M760 1188l6 6m0 -6l-6 6M760 1193l6 6m0 -6l-6 6M778 1103l6 6m0 -6l-6 6M778 1143l6 6m0 -6l-6 6M778 1191l6 6m0 -6l-6 6M778 1230l6 6m0 -6l-6 6M778 1152l6 6m0 -6l-6 6M778 1154l6 6m0 -6l-6 6M778 1187l6 6m0 -6l-6 6M801 1129l6 6m0 -6l-6 6M801 1243l6 6m0 -6l-6 6M801 1242l6 6m0 -6l-6 6M801 1239l6 6m0 -6l-6 6M801 1233l6 6m0 -6l-6 6M801 1202l6 6m0 -6l-6 6M801 1127l6 6m0 -6l-6 6M801 1166l6 6m0 -6l-6 6M801 1227l6 6m0 -6l-6 6M801 1223l6 6m0 -6l-6 6M801 1242l6 6m0 -6l-6 6M801 1148l6 6m0 -6l-6 6M825 1186l6 6m0 -6l-6 6M825 1189l6 6m0 -6l-6 6M825 1284l6 6m0 -6l-6 6M825 1226l6 6m0 -6l-6 6M825 1206l6 6m0 -6l-6 6M825 1238l6 6m0 -6l-6 6M825 1221l6 6m0 -6l-6 6M825 1126l6 6m0 -6l-6 6M825 1207l6 6m0 -6l-6 6M860 1242l6 6m0 -6l-6 6M860 1200l6 6m0 -6l-6 6M860 1150l6 6m0 -6l-6 6M860 1172l6 6m0 -6l-6 6M860 1248l6 6m0 -6l-6 6M860 1119l6 6m0 -6l-6 6M860 1205l6 6m0 -6l-6 6M860 1236l6 6m0 -6l-6 6M860 1275l6 6m0 -6l-6 6M860 1132l6 6m0 -6l-6 6M860 1176l6 6m0 -6l-6 6M860 1315l6 6m0 -6l-6 6M891 1165l6 6m0 -6l-6 6M891 1224l6 6m0 -6l-6 6M891 1076l6 6m0 -6l-6 6M891 1187l6 6m0 -6l-6 6M891 1197l6 6m0 -6l-6 6M891 1157l6 6m0 -6l-6 6M891 1211l6 6m0 -6l-6 6M891 1160l6 6m0 -6l-6 6M891 1201l6 6m0 -6l-6 6M891 1232l6 6m0 -6l-6 6M891 1134l6 6m0 -6l-6 6M923 1180l6 6m0 -6l-6 6M923 1085l6 6m0 -6l-6 6M923 1139l6 6m0 -6l-6 6M923 1128l6 6m0 -6l-6 6M923 1182l6 6m0 -6l-6 6M923 1232l6 6m0 -6l-6 6M923 1127l6 6m0 -6l-6 6M941 1179l6 6m0 -6l-6 6M941 1220l6 6m0 -6l-6 6M941 1158l6 6m0 -6l-6 6M941 1240l6 6m0 -6l-6 6M941 1101l6 6m0 -6l-6 6M941 1169l6 6m0 -6l-6 6M941 1098l6 6m0 -6l-6 6M941 1217l6 6m0 -6l-6 6M941 1148l6 6m0 -6l-6 6M941 1146l6 6m0 -6l-6 6M941 1118l6 6m0 -6l-6 6M941 1272l6 6m0 -6l-6 6M941 1101l6 6m0 -6l-6 6M941 1136l6 6m0 -6l-6 6M941 1168l6 6m0 -6l-6 6M941 1275l6 6m0 -6l-6 6M948 1200l6 6m0 -6l-6 6M948 1196l6 6m0 -6l-6 6M948 1232l6 6m0 -6l-6 6M948 1164l6 6m0 -6l-6 6M948 1141l6 6m0 -6l-6 6M948 1157l6 6m0 -6l-6 6M948 1253l6 6m0 -6l-6 6M948 1259l6 6m0 -6l-6 6M948 1169l6 6m0 -6l-6 6M948 1186l6 6m0 -6l-6 6M959 1008l6 6m0 -6l-6 6M959 1142l6 6m0 -6l-6 6M959 1133l6 6m0 -6l-6 6M959 1183l6 6m0 -6l-6 6M959 1302l6 6m0 -6l-6 6M959 1165l6 6m0 -6l-6 6M959 1207l6 6m0 -6l-6 6M959 1181l6 6m0 -6l-6 6M959 1184l6 6m0 -6l-6 6M959 1297l6 6m0 -6l-6 6M959 1160l6 6m0 -6l-6 6M959 1109l6 6m0 -6l-6 6M975 1239l6 6m0 -6l-6 6M975 1340l6 6m0 -6l-6 6M975 1140l6 6m0 -6l-6 6M975 1236l6 6m0 -6l-6 6M975 1039l6 6m0 -6l-6 6M975 1175l6 6m0 -6l-6 6M975 1211l6 6m0 -6l-6 6M975 1024l6 6m0 -6l-6 6M975 1055l6 6m0 -6l-6 6M975 1262l6 6m0 -6l-6 6M975 1188l6 6m0 -6l-6 6M975 1243l6 6m0 -6l-6 6M975 1323l6 6m0 -6l-6 6M975 1179l6 6m0 -6l-6 6M1011 1192l6 6m0 -6l-6 6M1011 1146l6 6m0 -6l-6 6M1011 1222l6 6m0 -6l-6 6M1011 1172l6 6m0 -6l-6 6M1011 1190l6 6m0 -6l-6 6M1011 1190l6 6m0 -6l-6 6M1011 1283l6 6m0 -6l-6 6M1011 1231l6 6m0 -6l-6 6M1011 1183l6 6m0 -6l-6 6M1011 1190l6 6m0 -6l-6 6M1011 1098l6 6m0 -6l-6 6M1011 1151l6 6m0 -6l-6 6M1011 1179l6 6m0 -6l-6 6M1011 1229l6 6m0 -6l-6 6M1011 1137l6 6m0 -6l-6 6M1011 1111l6 6m0 -6l-6 6M1011 1134l6 6m0 -6l-6 6M1011 1075l6 6m0 -6l-6 6M1037 1232l6 6m0 -6l-6 6M1037 1189l6 6m0 -6l-6 6M1037 1149l6 6m0 -6l-6 6M1037 1121l6 6m0 -6l-6 6M1037 1245l6 6m0 -6l-6 6M1037 1175l6 6m0 -6l-6 6M1037 1100l6 6m0 -6l-6 6M1037 1145l6 6m0 -6l-6 6M1037 1178l6 6m0 -6l-6 6M1037 1184l6 6m0 -6l-6 6M1037 1108l6 6m0 -6l-6 6M1037 1229l6 6m0 -6l-6 6M1037 1162l6 6m0 -6l-6 6M1037 1218l6 6m0 -6l-6 6M1037 1130l6 6m0 -6l-6 6M1037 1096l6 6m0 -6l-6 6M1060 1268l6 6m0 -6l-6 6M1060 1136l6 6m0 -6l-6 6M1060 1114l6 6m0 -6l-6 6M1060 1216l6 6m0 -6l-6 6M1060 1074l6 6m0 -6l-6 6M1060 1240l6 6m0 -6l-6 6M1060 1205l6 6m0 -6l-6 6M1060 1091l6 6m0 -6l-6 6M1060 1041l6 6m0 -6l-6 6M1060 1119l6 6m0 -6l-6 6M1060 1108l6 6m0 -6l-6 6M1060 1192l6 6m0 -6l-6 6M1060 1147l6 6m0 -6l-6 6M1060 1261l6 6m0 -6l-6 6M1060 1215l6 6m0 -6l-6 6M1078 1205l6 6m0 -6l-6 6M1078 1143l6 6m0 -6l-6 6M1078 1048l6 6m0 -6l-6 6M1078 1141l6 6m0 -6l-6 6M1078 1183l6 6m0 -6l-6 6M1078 1233l6 6m0 -6l-6 6M1078 1228l6 6m0 -6l-6 6M1078 1227l6 6m0 -6l-6 6M1110 1187l6 6m0 -6l-6 6M1110 1124l6 6m0 -6l-6 6M1110 1255l6 6m0 -6l-6 6M1110 1179l6 6m0 -6l-6 6M1110 1164l6 6m0 -6l-6 6M1110 1124l6 6m0 -6l-6 6M1110 1153l6 6m0 -6l-6 6M1110 1102l6 6m0 -6l-6 6M1110 1205l6 6m0 -6l-6 6M1110 1124l6 6m0 -6l-6 6M1110 1123l6 6m0 -6l-6 6M1110 1166l6 6m0 -6l-6 6M1110 1223l6 6m0 -6l-6 6M1110 1345l6 6m0 -6l-6 6M1110 1146l6 6m0 -6l-6 6M1110 1154l6 6m0 -6l-6 6M1129 1108l6 6m0 -6l-6 6M1129 1241l6 6m0 -6l-6 6M1129 1141l6 6m0 -6l-6 6M1129 1158l6 6m0 -6l-6 6M1129 1272l6 6m0 -6l-6 6M1129 1261l6 6m0 -6l-6 6M1129 1103l6 6m0 -6l-6 6M1129 1160l6 6m0 -6l-6 6M1129 1254l6 6m0 -6l-6 6M1129 1117l6 6m0 -6l-6 6M1129 1179l6 6m0 -6l-6 6M1129 1102l6 6m0 -6l-6 6M1129 1128l6 6m0 -6l-6 6M1129 1266l6 6m0 -6l-6 6M1129 1311l6 6m0 -6l-6 6M1156 1150l6 6m0 -6l-6 6M1156 1200l6 6m0 -6l-6 6M1156 1200l6 6m0 -6l-6 6M1156 1165l6 6m0 -6l-6 6M1156 1252l6 6m0 -6l-6 6M1156 1175l6 6m0 -6l-6 6M1156 1227l6 6m0 -6l-6 6M1156 1194l6 6m0 -6l-6 6M1156 1240l6 6m0 -6l-6 6M1156 1177l6 6m0 -6l-6 6M1156 1129l6 6m0 -6l-6 6M1156 1124l6 6m0 -6l-6 6M1156 1186l6 6m0 -6l-6 6M1156 1175l6 6m0 -6l-6 6M1156 1163l6 6m0 -6l-6 6M1169 1169l6 6m0 -6l-6 6M1169 1148l6 6m0 -6l-6 6M1169 1212l6 6m0 -6l-6 6M1169 1205l6 6m0 -6l-6 6M1169 1213l6 6m0 -6l-6 6M1169 1282l6 6m0 -6l-6 6M1169 1134l6 6m0 -6l-6 6M1169 1241l6 6m0 -6l-6 6M1169 1084l6 6m0 -6l-6 6M1169 1163l6 6m0 -6l-6 6M1169 1140l6 6m0 -6l-6 6M1169 1140l6 6m0 -6l-6 6M1169 1153l6 6m0 -6l-6 6M1191 1186l6 6m0 -6l-6 6M1191 1148l6 6m0 -6l-6 6M1191 1200l6 6m0 -6l-6 6M1191 1098l6 6m0 -6l-6 6M1191 1169l6 6m0 -6l-6 6M1191 1156l6 6m0 -6l-6 6M1224 1109l6 6m0 -6l-6 6M1224 1153l6 6m0 -6l-6 6M1224 1097l6 6m0 -6l-6 6M1224 1199l6 6m0 -6l-6 6M1224 1204l6 6m0 -6l-6 6M1224 1175l6 6m0 -6l-6 6M1224 1125l6 6m0 -6l-6 6M1224 1101l6 6m0 -6l-6 6M1224 1194l6 6m0 -6l-6 6M1224 1098l6 6m0 -6l-6 6M1224 1113l6 6m0 -6l-6 6M1254 1066l6 6m0 -6l-6 6M1254 1235l6 6m0 -6l-6 6M1254 1162l6 6m0 -6l-6 6M1254 1146l6 6m0 -6l-6 6M1254 1145l6 6m0 -6l-6 6M1254 1196l6 6m0 -6l-6 6M1254 1178l6 6m0 -6l-6 6M1254 1169l6 6m0 -6l-6 6M1262 1208l6 6m0 -6l-6 6M1262 1223l6 6m0 -6l-6 6M1262 1296l6 6m0 -6l-6 6M1262 1151l6 6m0 -6l-6 6M1262 1150l6 6m0 -6l-6 6M1262 1049l6 6m0 -6l-6 6M1262 1201l6 6m0 -6l-6 6M1262 1135l6 6m0 -6l-6 6M1262 1084l6 6m0 -6l-6 6M1262 1245l6 6m0 -6l-6 6M1262 1251l6 6m0 -6l-6 6M1262 1118l6 6m0 -6l-6 6M1262 1179l6 6m0 -6l-6 6M1262 1325l6 6m0 -6l-6 6M1271 1157l6 6m0 -6l-6 6M1271 1089l6 6m0 -6l-6 6M1271 1229l6 6m0 -6l-6 6M1271 1145l6 6m0 -6l-6 6M1271 1166l6 6m0 -6l-6 6M1271 1002l6 6m0 -6l-6 6M1271 1122l6 6m0 -6l-6 6M1271 1271l6 6m0 -6l-6 6M1271 1216l6 6m0 -6l-6 6M1271 1168l6 6m0 -6l-6 6M1271 1206l6 6m0 -6l-6 6M1271 1168l6 6m0 -6l-6 6M1271 1087l6 6m0 -6l-6 6M1271 1178l6 6m0 -6l-6 6M1271 1218l6 6m0 -6l-6 6M1286 1140l6 6m0 -6l-6 6M1286 1221l6 6m0 -6l-6 6M1286 1253l6 6m0 -6l-6 6M1286 1243l6 6m0 -6l-6 6M1286 1192l6 6m0 -6l-6 6M1286 1178l6 6m0 -6l-6 6M1286 1188l6 6m0 -6l-6 6M1286 1104l6 6m0 -6l-6 6M1286 1172l6 6m0 -6l-6 6M1286 1213l6 6m0 -6l-6 6M1286 1157l6 6m0 -6l-6 6M1286 1290l6 6m0 -6l-6 6M1286 1229l6 6m0 -6l-6 6M1314 1210l6 6m0 -6l-6 6M1314 1164l6 6m0 -6l-6 6M1314 1153l6 6m0 -6l-6 6M1314 1142l6 6m0 -6l-6 6M1314 1234l6 6m0 -6l-6 6M1314 1222l6 6m0 -6l-6 6M1314 1151l6 6m0 -6l-6 6M1314 1105l6 6m0 -6l-6 6M1314 1135l6 6m0 -6l-6 6M1314 1280l6 6m0 -6l-6 6M1314 1116l6 6m0 -6l-6 6M1314 1134l6 6m0 -6l-6 6M1331 1204l6 6m0 -6l-6 6M1331 1146l6 6m0 -6l-6 6M1331 1094l6 6m0 -6l-6 6M1331 1032l6 6m0 -6l-6 6M1331 1141l6 6m0 -6l-6 6M1331 1237l6 6m0 -6l-6 6M1331 1222l6 6m0 -6l-6 6M1331 1168l6 6m0 -6l-6 6M1343 1088l6 6m0 -6l-6 6M1343 1241l6 6m0 -6l-6 6M1343 1177l6 6m0 -6l-6 6M1343 1218l6 6m0 -6l-6 6M1343 1189l6 6m0 -6l-6 6M1343 1157l6 6m0 -6l-6 6M1343 1221l6 6m0 -6l-6 6M1343 1144l6 6m0 -6l-6 6M1343 1157l6 6m0 -6l-6 6M1343 1175l6 6m0 -6l-6 6M1349 1100l6 6m0 -6l-6 6M1349 1098l6 6m0 -6l-6 6M1349 1191l6 6m0 -6l-6 6M1349 1326l6 6m0 -6l-6 6M1349 1223l6 6m0 -6l-6 6M1349 1152l6 6m0 -6l-6 6M1349 1170l6 6m0 -6l-6 6M1349 1201l6 6m0 -6l-6 6M1349 1149l6 6m0 -6l-6 6M1349 1271l6 6m0 -6l-6 6M1349 1088l6 6m0 -6l-6 6M1349 1146l6 6m0 -6l-6 6M1349 1196l6 6m0 -6l-6 6M1349 1067l6 6m0 -6l-6 6M1349 1292l6 6m0 -6l-6 6M1349 1114l6 6m0 -6l-6 6M1349 1122l6 6m0 -6l-6 6M1349 1089l6 6m0 -6l-6 6M1382 1179l6 6m0 -6l-6 6M1382 1238l6 6m0 -6l-6 6M1382 1234l6 6m0 -6l-6 6M1382 1140l6 6m0 -6l-6 6M1382 1175l6 6m0 -6l-6 6M1382 1179l6 6m0 -6l-6 6M1382 1155l6 6m0 -6l-6 6M1382 1189l6 6m0 -6l-6 6M1382 1178l6 6m0 -6l-6 6M1382 1143l6 6m0 -6l-6 6" fill="none" stroke="#000" stroke-width="1" shape-rendering="crispEdges"/>
<rect x="162.5" y="953.5" width="1260.0" height="450.0" fill="none" stroke="#000" stroke-width="1"/>
<path d="M162 953L162 946M162 1403L162 1410M199.1 953L199.1 946M199.1 1403L199.1 1410M236.1 953L236.1 946M236.1 1403L236.1 1410M273.2 953L273.2 939M273.2 1403L273.2 1417M310.2 953L310.2 946M310.2 1403L310.2 1410M347.3 953L347.3 946M347.3 1403L347.3 1410M384.4 953L384.4 946M384.4 1403L384.4 1410M421.4 953L421.4 946M421.4 1403L421.4 1410M458.5 953L458.5 939M458.5 1403L458.5 1417M495.5 953L495.5 946M495.5 1403L495.5 1410M532.6 953L532.6 946M532.6 1403L532.6 1410M569.6 953L569.6 946M569.6 1403L569.6 1410M606.7 953L606.7 946M606.7 1403L606.7 1410M643.8 953L643.8 939M643.8 1403L643.8 1417M680.8 953L680.8 946M680.8 1403L680.8 1410M717.9 953L717.9 946M717.9 1403L717.9 1410M754.9 953L754.9 946M754.9 1403L754.9 1410M792 953L792 946M792 1403L792 1410M829.1 953L829.1 939M829.1 1403L829.1 1417M866.1 953L866.1 946M866.1 1403L866.1 1410M903.2 953L903.2 946M903.2 1403L903.2 1410M940.2 953L940.2 946M940.2 1403L940.2 1410M977.3 953L977.3 946M977.3 1403L977.3 1410M1014.4 953L1014.4 939M1014.4 1403L1014.4 1417M1051.4 953L1051.4 946M1051.4 1403L1051.4 1410M1088.5 953L1088.5 946M1088.5 1403L1088.5 1410M1125.5 953L1125.5 946M1125.5 1403L1125.5 1410M1162.6 953L1162.6 946M1162.6 1403L1162.6 1410M1199.6 953L1199.6 939M1199.6 1403L1199.6 1417M1236.7 953L1236.7 946M1236.7 1403L1236.7 1410M1273.8 953L1273.8 946M1273.8 1403L1273.8 1410M1310.8 953L1310.8 946M1310.8 1403L1310.8 1410M1347.9 953L1347.9 946M1347.9 1403L1347.9 1410M1384.9 953L1384.9 939M1384.9 1403L1384.9 1417M1422 953L1422 946M1422 1403L1422 1410M148 1383L162 1383M1422 1383L1436 1383M148 1331.8L162 1331.8M1422 1331.8L1436 1331.8M148 1280.5L162 1280.5M1422 1280.5L1436 1280.5M148 1229.2L162 1229.2M1422 1229.2L1436 1229.2M148 1178L162 1178M1422 1178L1436 1178M148 1126.8L162 1126.8M1422 1126.8L1436 1126.8M148 1075.5L162 1075.5M1422 1075.5L1436 1075.5M148 1024.2L162 1024.2M1422 1024.2L1436 1024.2M148 973L162 973M1422 973L1436 973" stroke="#000" stroke-width="2" fill="none"/>
<text transform="translate(273.18,1450.80) scale(1,1.075)" font-size="30" text-anchor="middle">60980</text>
<text transform="translate(458.47,1450.80) scale(1,1.075)" font-size="30" text-anchor="middle">60985</text>
<text transform="translate(643.76,1450.80) scale(1,1.075)" font-size="30" text-anchor="middle">60990</text>
<text transform="translate(829.06,1450.80) scale(1,1.075)" font-size="30" text-anchor="middle">60995</text>
<text transform="translate(1014.35,1450.80) scale(1,1.075)" font-size="30" text-anchor="middle">61000</text>
<text transform="translate(1199.65,1450.80) scale(1,1.075)" font-size="30" text-anchor="middle">61005</text>
<text transform="translate(1384.94,1450.80) scale(1,1.075)" font-size="30" text-anchor="middle">61010</text>
<text transform="translate(135.50,1394.50) scale(1,1.075)" font-size="30" text-anchor="end"><tspan dy="3">−</tspan><tspan dy="-3">0.8</tspan></text>
<text transform="translate(135.50,1343.25) scale(1,1.075)" font-size="30" text-anchor="end"><tspan dy="3">−</tspan><tspan dy="-3">0.6</tspan></text>
<text transform="translate(135.50,1292.00) scale(1,1.075)" font-size="30" text-anchor="end"><tspan dy="3">−</tspan><tspan dy="-3">0.4</tspan></text>
<text transform="translate(135.50,1240.75) scale(1,1.075)" font-size="30" text-anchor="end"><tspan dy="3">−</tspan><tspan dy="-3">0.2</tspan></text>
<text transform="translate(135.50,1189.50) scale(1,1.075)" font-size="30" text-anchor="end">0.0</text>
<text transform="translate(135.50,1138.25) scale(1,1.075)" font-size="30" text-anchor="end">0.2</text>
<text transform="translate(135.50,1087.00) scale(1,1.075)" font-size="30" text-anchor="end">0.4</text>
<text transform="translate(135.50,1035.75) scale(1,1.075)" font-size="30" text-anchor="end">0.6</text>
<text transform="translate(135.50,984.50) scale(1,1.075)" font-size="30" text-anchor="end">0.8</text>
<text transform="translate(792.00,1480.60) scale(1,1.06)" font-size="30" font-weight="bold" text-anchor="middle" fill="#000">Modified Julian Date</text>
<text transform="translate(199.50,1381.00) scale(1,1.06)" font-size="25" font-weight="bold" text-anchor="start" fill="#000" style="white-space:pre">Max Smoothing Residual: -0.679_Vdk1.D9  Sigma= 0.157ns13/41_12/08/25Mn__-5771.947</text>
<text transform="translate(68.4,1178.3) rotate(-90) scale(1,1.06)" font-size="30" font-weight="bold" text-anchor="middle">residuals (ns)</text>
<clipPath id="c169"><rect x="169" y="1511" width="540" height="450"/></clipPath>
<g clip-path="url(#c169)"><circle cx="338.5" cy="1961.5" r="4.6"/><circle cx="379.1" cy="1961.5" r="4.6"/><circle cx="443.5" cy="1961.5" r="4.6"/><circle cx="484.2" cy="1961.5" r="4.6"/><circle cx="524.8" cy="1961.5" r="4.6"/><circle cx="565.4" cy="1961.5" r="4.6"/><circle cx="629.8" cy="1961.5" r="4.6"/><circle cx="679.5" cy="1961.5" r="4.6"/></g>
<text transform="translate(338.46,1950.00) scale(1,1.06)" font-size="20" font-weight="bold" text-anchor="middle" fill="#FF0000">h/2</text>
<text transform="translate(379.10,1950.00) scale(1,1.06)" font-size="20" font-weight="bold" text-anchor="middle" fill="#FF0000">h</text>
<text transform="translate(443.51,1950.00) scale(1,1.06)" font-size="20" font-weight="bold" text-anchor="middle" fill="#FF0000">d/8</text>
<text transform="translate(484.15,1950.00) scale(1,1.06)" font-size="20" font-weight="bold" text-anchor="middle" fill="#FF0000">d/4</text>
<text transform="translate(524.79,1950.00) scale(1,1.06)" font-size="20" font-weight="bold" text-anchor="middle" fill="#FF0000">d/2</text>
<text transform="translate(565.43,1950.00) scale(1,1.06)" font-size="20" font-weight="bold" text-anchor="middle" fill="#FF0000">day</text>
<text transform="translate(629.84,1950.00) scale(1,1.06)" font-size="20" font-weight="bold" text-anchor="middle" fill="#FF0000">ddd</text>
<text transform="translate(679.52,1950.00) scale(1,1.06)" font-size="20" font-weight="bold" text-anchor="middle" fill="#FF0000">wk</text>
<circle cx="233.6" cy="1620.8" r="6.2"/>
<text transform="translate(233.61,1609.96) scale(1,1.06)" font-size="19.5" font-weight="bold" text-anchor="middle" fill="#FF0000">334.5</text>
<circle cx="274.2" cy="1649.7" r="6.2"/>
<text transform="translate(274.25,1638.89) scale(1,1.06)" font-size="19.5" font-weight="bold" text-anchor="middle" fill="#FF0000">185.0</text>
<circle cx="314.9" cy="1670.4" r="6.2"/>
<text transform="translate(314.88,1659.56) scale(1,1.06)" font-size="19.5" font-weight="bold" text-anchor="middle" fill="#FF0000">121.2</text>
<circle cx="355.5" cy="1689.5" r="6.2"/>
<text transform="translate(355.52,1678.71) scale(1,1.06)" font-size="19.5" font-weight="bold" text-anchor="middle" fill="#FF0000">81.9</text>
<circle cx="396.2" cy="1707.8" r="6.2"/>
<text transform="translate(396.16,1697.02) scale(1,1.06)" font-size="19.5" font-weight="bold" text-anchor="middle" fill="#FF0000">56.3</text>
<circle cx="436.8" cy="1727.5" r="6.2"/>
<text transform="translate(436.80,1716.74) scale(1,1.06)" font-size="19.5" font-weight="bold" text-anchor="middle" fill="#FF0000">37.6</text>
<circle cx="477.4" cy="1742.3" r="6.2"/>
<text transform="translate(477.44,1731.49) scale(1,1.06)" font-size="19.5" font-weight="bold" text-anchor="middle" fill="#FF0000">27.8</text>
<circle cx="518.1" cy="1755.3" r="6.2"/>
<text transform="translate(518.08,1744.51) scale(1,1.06)" font-size="19.5" font-weight="bold" text-anchor="middle" fill="#FF0000">21.3</text>
<circle cx="558.7" cy="1767.2" r="6.2"/>
<text transform="translate(558.72,1756.39) scale(1,1.06)" font-size="19.5" font-weight="bold" text-anchor="middle" fill="#FF0000">16.7</text>
<circle cx="599.4" cy="1787.6" r="6.2"/>
<text transform="translate(599.36,1776.79) scale(1,1.06)" font-size="19.5" font-weight="bold" text-anchor="middle" fill="#FF0000">11.0</text>
<circle cx="640.0" cy="1815.6" r="6.2"/>
<text transform="translate(640.00,1804.81) scale(1,1.06)" font-size="19.5" font-weight="bold" text-anchor="middle" fill="#FF0000">6.2</text>
<circle cx="680.6" cy="1837.0" r="6.2"/>
<text transform="translate(680.64,1826.22) scale(1,1.06)" font-size="19.5" font-weight="bold" text-anchor="middle" fill="#FF0000">4.0</text>
<rect x="169.5" y="1511.5" width="540.0" height="450.0" fill="none" stroke="#000" stroke-width="1"/>
<path d="M169 1511L169 1497M169 1961L169 1975M236.5 1511L236.5 1504M236.5 1961L236.5 1968M304 1511L304 1497M304 1961L304 1975M371.5 1511L371.5 1504M371.5 1961L371.5 1968M439 1511L439 1497M439 1961L439 1975M506.5 1511L506.5 1504M506.5 1961L506.5 1968M574 1511L574 1497M574 1961L574 1975M641.5 1511L641.5 1504M641.5 1961L641.5 1968M709 1511L709 1497M709 1961L709 1975M162 1511L169 1511M709 1511L716 1511M155 1567.2L169 1567.2M709 1567.2L723 1567.2M162 1623.5L169 1623.5M709 1623.5L716 1623.5M155 1679.8L169 1679.8M709 1679.8L723 1679.8M162 1736L169 1736M709 1736L716 1736M155 1792.2L169 1792.2M709 1792.2L723 1792.2M162 1848.5L169 1848.5M709 1848.5L716 1848.5M155 1904.8L169 1904.8M709 1904.8L723 1904.8M162 1961L169 1961M709 1961L716 1961" stroke="#000" stroke-width="2" fill="none"/>
<text transform="translate(169.00,2008.20) scale(1,1.075)" font-size="29" text-anchor="middle">2</text>
<text transform="translate(304.00,2008.20) scale(1,1.075)" font-size="29" text-anchor="middle">3</text>
<text transform="translate(439.00,2008.20) scale(1,1.075)" font-size="29" text-anchor="middle">4</text>
<text transform="translate(574.00,2008.20) scale(1,1.075)" font-size="29" text-anchor="middle">5</text>
<text transform="translate(709.00,2008.20) scale(1,1.075)" font-size="29" text-anchor="middle">6</text>
<text transform="translate(142.50,1578.25) scale(1,1.075)" font-size="29" text-anchor="end"><tspan dy="3">−</tspan><tspan dy="-3">12</tspan></text>
<text transform="translate(142.50,1690.75) scale(1,1.075)" font-size="29" text-anchor="end"><tspan dy="3">−</tspan><tspan dy="-3">13</tspan></text>
<text transform="translate(142.50,1803.25) scale(1,1.075)" font-size="29" text-anchor="end"><tspan dy="3">−</tspan><tspan dy="-3">14</tspan></text>
<text transform="translate(142.50,1915.75) scale(1,1.075)" font-size="29" text-anchor="end"><tspan dy="3">−</tspan><tspan dy="-3">15</tspan></text>
<text transform="translate(439.60,2038.70) scale(1,1.06)" font-size="30" font-weight="bold" text-anchor="middle" fill="#000">Averaging time, log(<tspan font-family="'Liberation Serif', serif" font-weight="normal" font-size="31" dx="0.8">τ</tspan><tspan dx="0.8">) (s)</tspan></text>
<text transform="translate(82.9,1736.6) rotate(-90) scale(1,1.06)" font-size="30" font-weight="bold" text-anchor="middle">Modified Allan Deviation (10<tspan font-size="21" dy="-10">-15</tspan><tspan dy="10">)</tspan></text>
<clipPath id="c853"><rect x="853" y="1511" width="540" height="450"/></clipPath>
<g clip-path="url(#c853)"><circle cx="1044.4" cy="1959.4" r="6.3"/><circle cx="1082.7" cy="1959.4" r="6.3"/><circle cx="1143.2" cy="1959.4" r="6.3"/><circle cx="1181.5" cy="1959.4" r="6.3"/><circle cx="1219.7" cy="1959.4" r="6.3"/><circle cx="1257.9" cy="1959.4" r="6.3"/><circle cx="1318.5" cy="1959.4" r="6.3"/><circle cx="1365.3" cy="1959.4" r="6.3"/></g>
<text transform="translate(1044.42,1947.80) scale(1,1.06)" font-size="20" font-weight="bold" text-anchor="middle" fill="#FF0000">h/2</text>
<text transform="translate(1082.65,1947.80) scale(1,1.06)" font-size="20" font-weight="bold" text-anchor="middle" fill="#FF0000">h</text>
<text transform="translate(1143.24,1947.80) scale(1,1.06)" font-size="20" font-weight="bold" text-anchor="middle" fill="#FF0000">d/8</text>
<text transform="translate(1181.48,1947.80) scale(1,1.06)" font-size="20" font-weight="bold" text-anchor="middle" fill="#FF0000">d/4</text>
<text transform="translate(1219.71,1947.80) scale(1,1.06)" font-size="20" font-weight="bold" text-anchor="middle" fill="#FF0000">d/2</text>
<text transform="translate(1257.94,1947.80) scale(1,1.06)" font-size="20" font-weight="bold" text-anchor="middle" fill="#FF0000">day</text>
<text transform="translate(1318.53,1947.80) scale(1,1.06)" font-size="20" font-weight="bold" text-anchor="middle" fill="#FF0000">ddd</text>
<text transform="translate(1365.26,1947.80) scale(1,1.06)" font-size="20" font-weight="bold" text-anchor="middle" fill="#FF0000">wk</text>
<circle cx="945.8" cy="1862.6" r="6.2"/>
<text transform="translate(945.78,1849.40) scale(1,1.06)" font-size="17.8" font-weight="bold" text-anchor="middle" fill="#FF0000">0.6</text>
<circle cx="984.0" cy="1856.8" r="6.2"/>
<text transform="translate(984.01,1843.60) scale(1,1.06)" font-size="17.8" font-weight="bold" text-anchor="middle" fill="#FF0000">0.6</text>
<circle cx="1022.2" cy="1841.5" r="6.2"/>
<text transform="translate(1022.24,1828.30) scale(1,1.06)" font-size="17.8" font-weight="bold" text-anchor="middle" fill="#FF0000">0.8</text>
<circle cx="1060.5" cy="1825.1" r="6.2"/>
<text transform="translate(1060.47,1811.90) scale(1,1.06)" font-size="17.8" font-weight="bold" text-anchor="middle" fill="#FF0000">1.1</text>
<circle cx="1098.7" cy="1807.0" r="6.2"/>
<text transform="translate(1098.70,1793.80) scale(1,1.06)" font-size="17.8" font-weight="bold" text-anchor="middle" fill="#FF0000">1.6</text>
<circle cx="1136.9" cy="1791.2" r="6.2"/>
<text transform="translate(1136.93,1778.00) scale(1,1.06)" font-size="17.8" font-weight="bold" text-anchor="middle" fill="#FF0000">2.1</text>
<circle cx="1175.2" cy="1769.9" r="6.2"/>
<text transform="translate(1175.16,1756.70) scale(1,1.06)" font-size="17.8" font-weight="bold" text-anchor="middle" fill="#FF0000">3.1</text>
<circle cx="1213.4" cy="1745.3" r="6.2"/>
<text transform="translate(1213.39,1732.10) scale(1,1.06)" font-size="17.8" font-weight="bold" text-anchor="middle" fill="#FF0000">4.7</text>
<circle cx="1251.6" cy="1720.6" r="6.2"/>
<text transform="translate(1251.62,1707.40) scale(1,1.06)" font-size="17.8" font-weight="bold" text-anchor="middle" fill="#FF0000">7.4</text>
<circle cx="1289.9" cy="1705.0" r="6.2"/>
<text transform="translate(1289.86,1691.80) scale(1,1.06)" font-size="17.8" font-weight="bold" text-anchor="middle" fill="#FF0000">9.8</text>
<circle cx="1328.1" cy="1697.8" r="6.2"/>
<text transform="translate(1328.09,1684.60) scale(1,1.06)" font-size="17.8" font-weight="bold" text-anchor="middle" fill="#FF0000">11.1</text>
<circle cx="1366.3" cy="1684.0" r="6.2"/>
<text transform="translate(1366.32,1670.80) scale(1,1.06)" font-size="17.8" font-weight="bold" text-anchor="middle" fill="#FF0000">14.3</text>
<rect x="853.5" y="1511.5" width="540.0" height="450.0" fill="none" stroke="#000" stroke-width="1"/>
<path d="M885 1511L885 1497M885 1961L885 1975M948.5 1511L948.5 1504M948.5 1961L948.5 1968M1012 1511L1012 1497M1012 1961L1012 1975M1075.5 1511L1075.5 1504M1075.5 1961L1075.5 1968M1139 1511L1139 1497M1139 1961L1139 1975M1202.5 1511L1202.5 1504M1202.5 1961L1202.5 1968M1266 1511L1266 1497M1266 1961L1266 1975M1329.5 1511L1329.5 1504M1329.5 1961L1329.5 1968M1393 1511L1393 1497M1393 1961L1393 1975M846 1511L853 1511M1393 1511L1400 1511M839 1575.3L853 1575.3M1393 1575.3L1407 1575.3M846 1639.6L853 1639.6M1393 1639.6L1400 1639.6M839 1703.9L853 1703.9M1393 1703.9L1407 1703.9M846 1768.1L853 1768.1M1393 1768.1L1400 1768.1M839 1832.4L853 1832.4M1393 1832.4L1407 1832.4M846 1896.7L853 1896.7M1393 1896.7L1400 1896.7M839 1961L853 1961M1393 1961L1407 1961" stroke="#000" stroke-width="2" fill="none"/>
<text transform="translate(885.00,2008.20) scale(1,1.075)" font-size="29" text-anchor="middle">2</text>
<text transform="translate(1012.00,2008.20) scale(1,1.075)" font-size="29" text-anchor="middle">3</text>
<text transform="translate(1139.00,2008.20) scale(1,1.075)" font-size="29" text-anchor="middle">4</text>
<text transform="translate(1266.00,2008.20) scale(1,1.075)" font-size="29" text-anchor="middle">5</text>
<text transform="translate(1393.00,2008.20) scale(1,1.075)" font-size="29" text-anchor="middle">6</text>
<text transform="translate(826.50,1586.29) scale(1,1.075)" font-size="29" text-anchor="end"><tspan dy="3">−</tspan><tspan dy="-3">8</tspan></text>
<text transform="translate(826.50,1714.86) scale(1,1.075)" font-size="29" text-anchor="end"><tspan dy="3">−</tspan><tspan dy="-3">9</tspan></text>
<text transform="translate(826.50,1843.43) scale(1,1.075)" font-size="29" text-anchor="end"><tspan dy="3">−</tspan><tspan dy="-3">10</tspan></text>
<text transform="translate(826.50,1972.00) scale(1,1.075)" font-size="29" text-anchor="end"><tspan dy="3">−</tspan><tspan dy="-3">11</tspan></text>
<text transform="translate(1123.60,2038.70) scale(1,1.06)" font-size="30" font-weight="bold" text-anchor="middle" fill="#000">Averaging time, log(<tspan font-family="'Liberation Serif', serif" font-weight="normal" font-size="31" dx="0.8">τ</tspan><tspan dx="0.8">) (s)</tspan></text>
<text transform="translate(766.9,1735.5) rotate(-90) scale(1,1.06)" font-size="30" font-weight="bold" text-anchor="middle">Time deviation (10<tspan font-size="21" dy="-10">-10</tspan><tspan dy="10"> s)</tspan></text>
<text x="203" y="1545.8" font-size="17.5" font-weight="bold" style="white-space:pre"><tspan font-family="'Liberation Serif', serif" font-weight="normal" font-size="19">τ</tspan> <tspan dy="2.4">=</tspan><tspan dy="-2.4"> 301s</tspan></text>
</g>
</svg>
</body></html>
